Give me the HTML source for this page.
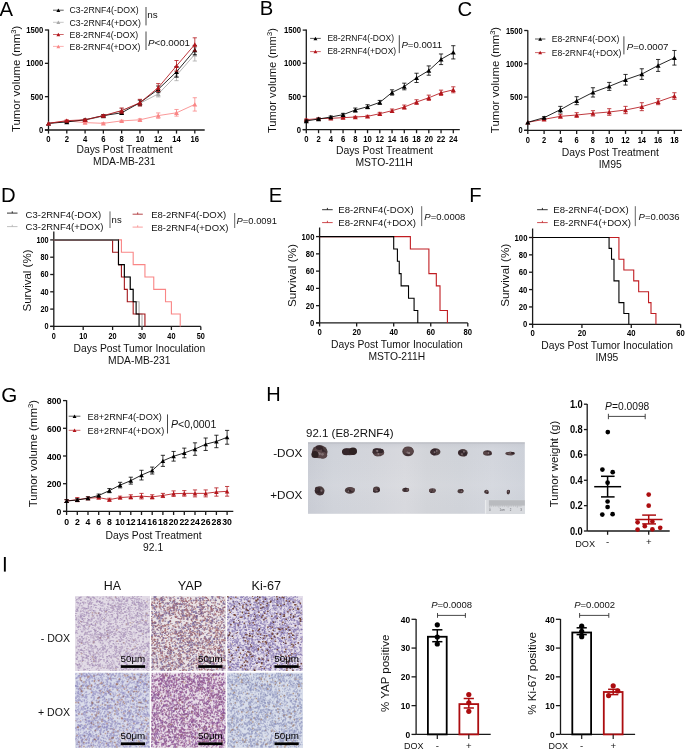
<!DOCTYPE html>
<html><head><meta charset="utf-8"><title>Figure</title>
<style>html,body{margin:0;padding:0;background:#fff;}svg{display:block;will-change:transform;}
text{font-family:"Liberation Sans", sans-serif;}</style></head>
<body><svg width="685" height="749" viewBox="0 0 685 749" font-family='"Liberation Sans", sans-serif'>
<defs><filter id="soft" x="0" y="0" width="1" height="1"><feGaussianBlur stdDeviation="0.4"/></filter></defs>
<rect width="685" height="749" fill="#fff"/>
<text x="-0.5" y="15.8" font-size="20.3">A</text>
<line x1="48.5" y1="130" x2="48.5" y2="29.5" stroke="#1a1a1a" stroke-width="1.3"/>
<line x1="44.9" y1="130" x2="204.7" y2="130" stroke="#1a1a1a" stroke-width="1.3"/>
<line x1="44.9" y1="130" x2="48.5" y2="130" stroke="#1a1a1a" stroke-width="1.3"/>
<text transform="translate(43.3 133.1) scale(1.0 1.12)" font-size="7.7" text-anchor="end" font-weight="bold">0</text>
<line x1="44.9" y1="96.67" x2="48.5" y2="96.67" stroke="#1a1a1a" stroke-width="1.3"/>
<text transform="translate(43.3 99.77) scale(1.0 1.12)" font-size="7.7" text-anchor="end" font-weight="bold">500</text>
<line x1="44.9" y1="63.33" x2="48.5" y2="63.33" stroke="#1a1a1a" stroke-width="1.3"/>
<text transform="translate(43.3 66.44) scale(1.0 1.12)" font-size="7.7" text-anchor="end" font-weight="bold">1000</text>
<line x1="44.9" y1="30" x2="48.5" y2="30" stroke="#1a1a1a" stroke-width="1.3"/>
<text transform="translate(43.3 33.1) scale(1.0 1.12)" font-size="7.7" text-anchor="end" font-weight="bold">1500</text>
<line x1="48.5" y1="130" x2="48.5" y2="133.6" stroke="#1a1a1a" stroke-width="1.3"/>
<text transform="translate(48.5 142.4) scale(1.0 1.12)" font-size="7.7" text-anchor="middle" font-weight="bold">0</text>
<line x1="66.79" y1="130" x2="66.79" y2="133.6" stroke="#1a1a1a" stroke-width="1.3"/>
<text transform="translate(66.79 142.4) scale(1.0 1.12)" font-size="7.7" text-anchor="middle" font-weight="bold">2</text>
<line x1="85.08" y1="130" x2="85.08" y2="133.6" stroke="#1a1a1a" stroke-width="1.3"/>
<text transform="translate(85.08 142.4) scale(1.0 1.12)" font-size="7.7" text-anchor="middle" font-weight="bold">4</text>
<line x1="103.36" y1="130" x2="103.36" y2="133.6" stroke="#1a1a1a" stroke-width="1.3"/>
<text transform="translate(103.36 142.4) scale(1.0 1.12)" font-size="7.7" text-anchor="middle" font-weight="bold">6</text>
<line x1="121.65" y1="130" x2="121.65" y2="133.6" stroke="#1a1a1a" stroke-width="1.3"/>
<text transform="translate(121.65 142.4) scale(1.0 1.12)" font-size="7.7" text-anchor="middle" font-weight="bold">8</text>
<line x1="139.94" y1="130" x2="139.94" y2="133.6" stroke="#1a1a1a" stroke-width="1.3"/>
<text transform="translate(139.94 142.4) scale(1.0 1.12)" font-size="7.7" text-anchor="middle" font-weight="bold">10</text>
<line x1="158.23" y1="130" x2="158.23" y2="133.6" stroke="#1a1a1a" stroke-width="1.3"/>
<text transform="translate(158.23 142.4) scale(1.0 1.12)" font-size="7.7" text-anchor="middle" font-weight="bold">12</text>
<line x1="176.51" y1="130" x2="176.51" y2="133.6" stroke="#1a1a1a" stroke-width="1.3"/>
<text transform="translate(176.51 142.4) scale(1.0 1.12)" font-size="7.7" text-anchor="middle" font-weight="bold">14</text>
<line x1="194.8" y1="130" x2="194.8" y2="133.6" stroke="#1a1a1a" stroke-width="1.3"/>
<text transform="translate(194.8 142.4) scale(1.0 1.12)" font-size="7.7" text-anchor="middle" font-weight="bold">16</text>
<text x="124.6" y="152.8" font-size="10.3" text-anchor="middle" fill="#111">Days Post Treatment</text>
<text x="124.3" y="165.4" font-size="10.3" text-anchor="middle" fill="#111">MDA-MB-231</text>
<text transform="translate(19.8 78.9) scale(1.0 1) rotate(-90)" font-size="11.4" text-anchor="middle" fill="#111">Tumor volume (mm<tspan font-size="7.5" dy="-4">3</tspan><tspan dy="4">)</tspan></text>
<polyline points="48.5,123.33 66.79,121.67 85.08,120 103.36,116.33 121.65,110.4 139.94,103.33 158.23,93.93 176.51,75.33 194.8,54.33" fill="none" stroke="#a8a8a8" stroke-width="0.85"/>
<line x1="66.79" y1="121" x2="66.79" y2="122.33" stroke="#a8a8a8" stroke-width="0.8"/>
<line x1="64.69" y1="121" x2="68.89" y2="121" stroke="#a8a8a8" stroke-width="0.8"/>
<line x1="64.69" y1="122.33" x2="68.89" y2="122.33" stroke="#a8a8a8" stroke-width="0.8"/>
<line x1="85.08" y1="119.33" x2="85.08" y2="120.67" stroke="#a8a8a8" stroke-width="0.8"/>
<line x1="82.98" y1="119.33" x2="87.17" y2="119.33" stroke="#a8a8a8" stroke-width="0.8"/>
<line x1="82.98" y1="120.67" x2="87.17" y2="120.67" stroke="#a8a8a8" stroke-width="0.8"/>
<line x1="103.36" y1="115.33" x2="103.36" y2="117.33" stroke="#a8a8a8" stroke-width="0.8"/>
<line x1="101.26" y1="115.33" x2="105.46" y2="115.33" stroke="#a8a8a8" stroke-width="0.8"/>
<line x1="101.26" y1="117.33" x2="105.46" y2="117.33" stroke="#a8a8a8" stroke-width="0.8"/>
<line x1="121.65" y1="108.4" x2="121.65" y2="112.4" stroke="#a8a8a8" stroke-width="0.8"/>
<line x1="119.55" y1="108.4" x2="123.75" y2="108.4" stroke="#a8a8a8" stroke-width="0.8"/>
<line x1="119.55" y1="112.4" x2="123.75" y2="112.4" stroke="#a8a8a8" stroke-width="0.8"/>
<line x1="139.94" y1="100.67" x2="139.94" y2="106" stroke="#a8a8a8" stroke-width="0.8"/>
<line x1="137.84" y1="100.67" x2="142.04" y2="100.67" stroke="#a8a8a8" stroke-width="0.8"/>
<line x1="137.84" y1="106" x2="142.04" y2="106" stroke="#a8a8a8" stroke-width="0.8"/>
<line x1="158.23" y1="90.93" x2="158.23" y2="96.93" stroke="#a8a8a8" stroke-width="0.8"/>
<line x1="156.13" y1="90.93" x2="160.33" y2="90.93" stroke="#a8a8a8" stroke-width="0.8"/>
<line x1="156.13" y1="96.93" x2="160.33" y2="96.93" stroke="#a8a8a8" stroke-width="0.8"/>
<line x1="176.51" y1="70" x2="176.51" y2="80.67" stroke="#a8a8a8" stroke-width="0.8"/>
<line x1="174.41" y1="70" x2="178.61" y2="70" stroke="#a8a8a8" stroke-width="0.8"/>
<line x1="174.41" y1="80.67" x2="178.61" y2="80.67" stroke="#a8a8a8" stroke-width="0.8"/>
<line x1="194.8" y1="47.67" x2="194.8" y2="61" stroke="#a8a8a8" stroke-width="0.8"/>
<line x1="192.7" y1="47.67" x2="196.9" y2="47.67" stroke="#a8a8a8" stroke-width="0.8"/>
<line x1="192.7" y1="61" x2="196.9" y2="61" stroke="#a8a8a8" stroke-width="0.8"/>
<path d="M46.05 125.54L48.5 121.13L50.95 125.54Z" fill="#a8a8a8"/>
<path d="M64.34 123.87L66.79 119.46L69.24 123.87Z" fill="#a8a8a8"/>
<path d="M82.62 122.2L85.08 117.8L87.53 122.2Z" fill="#a8a8a8"/>
<path d="M100.91 118.54L103.36 114.13L105.81 118.54Z" fill="#a8a8a8"/>
<path d="M119.2 112.61L121.65 108.2L124.1 112.61Z" fill="#a8a8a8"/>
<path d="M137.49 105.54L139.94 101.13L142.39 105.54Z" fill="#a8a8a8"/>
<path d="M155.78 96.14L158.23 91.73L160.68 96.14Z" fill="#a8a8a8"/>
<path d="M174.06 77.54L176.51 73.13L178.96 77.54Z" fill="#a8a8a8"/>
<path d="M192.35 56.54L194.8 52.13L197.25 56.54Z" fill="#a8a8a8"/>
<polyline points="48.5,123.33 66.79,120.87 85.08,122.6 103.36,123.33 121.65,120.87 139.94,119.8 158.23,115.6 176.51,112.8 194.8,104.4" fill="none" stroke="#f98686" stroke-width="0.85"/>
<line x1="66.79" y1="120.2" x2="66.79" y2="121.53" stroke="#f98686" stroke-width="0.8"/>
<line x1="64.69" y1="120.2" x2="68.89" y2="120.2" stroke="#f98686" stroke-width="0.8"/>
<line x1="64.69" y1="121.53" x2="68.89" y2="121.53" stroke="#f98686" stroke-width="0.8"/>
<line x1="85.08" y1="121.93" x2="85.08" y2="123.27" stroke="#f98686" stroke-width="0.8"/>
<line x1="82.98" y1="121.93" x2="87.17" y2="121.93" stroke="#f98686" stroke-width="0.8"/>
<line x1="82.98" y1="123.27" x2="87.17" y2="123.27" stroke="#f98686" stroke-width="0.8"/>
<line x1="103.36" y1="122.67" x2="103.36" y2="124" stroke="#f98686" stroke-width="0.8"/>
<line x1="101.26" y1="122.67" x2="105.46" y2="122.67" stroke="#f98686" stroke-width="0.8"/>
<line x1="101.26" y1="124" x2="105.46" y2="124" stroke="#f98686" stroke-width="0.8"/>
<line x1="121.65" y1="120.2" x2="121.65" y2="121.53" stroke="#f98686" stroke-width="0.8"/>
<line x1="119.55" y1="120.2" x2="123.75" y2="120.2" stroke="#f98686" stroke-width="0.8"/>
<line x1="119.55" y1="121.53" x2="123.75" y2="121.53" stroke="#f98686" stroke-width="0.8"/>
<line x1="139.94" y1="118.8" x2="139.94" y2="120.8" stroke="#f98686" stroke-width="0.8"/>
<line x1="137.84" y1="118.8" x2="142.04" y2="118.8" stroke="#f98686" stroke-width="0.8"/>
<line x1="137.84" y1="120.8" x2="142.04" y2="120.8" stroke="#f98686" stroke-width="0.8"/>
<line x1="158.23" y1="112.93" x2="158.23" y2="118.27" stroke="#f98686" stroke-width="0.8"/>
<line x1="156.13" y1="112.93" x2="160.33" y2="112.93" stroke="#f98686" stroke-width="0.8"/>
<line x1="156.13" y1="118.27" x2="160.33" y2="118.27" stroke="#f98686" stroke-width="0.8"/>
<line x1="176.51" y1="109.47" x2="176.51" y2="116.13" stroke="#f98686" stroke-width="0.8"/>
<line x1="174.41" y1="109.47" x2="178.61" y2="109.47" stroke="#f98686" stroke-width="0.8"/>
<line x1="174.41" y1="116.13" x2="178.61" y2="116.13" stroke="#f98686" stroke-width="0.8"/>
<line x1="194.8" y1="97.73" x2="194.8" y2="111.07" stroke="#f98686" stroke-width="0.8"/>
<line x1="192.7" y1="97.73" x2="196.9" y2="97.73" stroke="#f98686" stroke-width="0.8"/>
<line x1="192.7" y1="111.07" x2="196.9" y2="111.07" stroke="#f98686" stroke-width="0.8"/>
<path d="M46.05 125.54L48.5 121.13L50.95 125.54Z" fill="#f98686"/>
<path d="M64.34 123.07L66.79 118.66L69.24 123.07Z" fill="#f98686"/>
<path d="M82.62 124.8L85.08 120.39L87.53 124.8Z" fill="#f98686"/>
<path d="M100.91 125.54L103.36 121.13L105.81 125.54Z" fill="#f98686"/>
<path d="M119.2 123.07L121.65 118.66L124.1 123.07Z" fill="#f98686"/>
<path d="M137.49 122L139.94 117.59L142.39 122Z" fill="#f98686"/>
<path d="M155.78 117.8L158.23 113.39L160.68 117.8Z" fill="#f98686"/>
<path d="M174.06 115L176.51 110.59L178.96 115Z" fill="#f98686"/>
<path d="M192.35 106.61L194.8 102.2L197.25 106.61Z" fill="#f98686"/>
<polyline points="48.5,123.33 66.79,121.93 85.08,119.8 103.36,115.6 121.65,112.8 139.94,102.67 158.23,89.33 176.51,71.8 194.8,50.07" fill="none" stroke="#000" stroke-width="0.85"/>
<line x1="66.79" y1="121.27" x2="66.79" y2="122.6" stroke="#000" stroke-width="0.8"/>
<line x1="64.69" y1="121.27" x2="68.89" y2="121.27" stroke="#000" stroke-width="0.8"/>
<line x1="64.69" y1="122.6" x2="68.89" y2="122.6" stroke="#000" stroke-width="0.8"/>
<line x1="85.08" y1="119.13" x2="85.08" y2="120.47" stroke="#000" stroke-width="0.8"/>
<line x1="82.98" y1="119.13" x2="87.17" y2="119.13" stroke="#000" stroke-width="0.8"/>
<line x1="82.98" y1="120.47" x2="87.17" y2="120.47" stroke="#000" stroke-width="0.8"/>
<line x1="103.36" y1="114.6" x2="103.36" y2="116.6" stroke="#000" stroke-width="0.8"/>
<line x1="101.26" y1="114.6" x2="105.46" y2="114.6" stroke="#000" stroke-width="0.8"/>
<line x1="101.26" y1="116.6" x2="105.46" y2="116.6" stroke="#000" stroke-width="0.8"/>
<line x1="121.65" y1="111.47" x2="121.65" y2="114.13" stroke="#000" stroke-width="0.8"/>
<line x1="119.55" y1="111.47" x2="123.75" y2="111.47" stroke="#000" stroke-width="0.8"/>
<line x1="119.55" y1="114.13" x2="123.75" y2="114.13" stroke="#000" stroke-width="0.8"/>
<line x1="139.94" y1="100" x2="139.94" y2="105.33" stroke="#000" stroke-width="0.8"/>
<line x1="137.84" y1="100" x2="142.04" y2="100" stroke="#000" stroke-width="0.8"/>
<line x1="137.84" y1="105.33" x2="142.04" y2="105.33" stroke="#000" stroke-width="0.8"/>
<line x1="158.23" y1="86" x2="158.23" y2="92.67" stroke="#000" stroke-width="0.8"/>
<line x1="156.13" y1="86" x2="160.33" y2="86" stroke="#000" stroke-width="0.8"/>
<line x1="156.13" y1="92.67" x2="160.33" y2="92.67" stroke="#000" stroke-width="0.8"/>
<line x1="176.51" y1="66.47" x2="176.51" y2="77.13" stroke="#000" stroke-width="0.8"/>
<line x1="174.41" y1="66.47" x2="178.61" y2="66.47" stroke="#000" stroke-width="0.8"/>
<line x1="174.41" y1="77.13" x2="178.61" y2="77.13" stroke="#000" stroke-width="0.8"/>
<line x1="194.8" y1="45.4" x2="194.8" y2="54.73" stroke="#000" stroke-width="0.8"/>
<line x1="192.7" y1="45.4" x2="196.9" y2="45.4" stroke="#000" stroke-width="0.8"/>
<line x1="192.7" y1="54.73" x2="196.9" y2="54.73" stroke="#000" stroke-width="0.8"/>
<path d="M46.05 125.54L48.5 121.13L50.95 125.54Z" fill="#000"/>
<path d="M64.34 124.14L66.79 119.73L69.24 124.14Z" fill="#000"/>
<path d="M82.62 122L85.08 117.59L87.53 122Z" fill="#000"/>
<path d="M100.91 117.8L103.36 113.39L105.81 117.8Z" fill="#000"/>
<path d="M119.2 115L121.65 110.59L124.1 115Z" fill="#000"/>
<path d="M137.49 104.87L139.94 100.46L142.39 104.87Z" fill="#000"/>
<path d="M155.78 91.54L158.23 87.13L160.68 91.54Z" fill="#000"/>
<path d="M174.06 74L176.51 69.59L178.96 74Z" fill="#000"/>
<path d="M192.35 52.27L194.8 47.86L197.25 52.27Z" fill="#000"/>
<polyline points="48.5,123.33 66.79,120.67 85.08,119.8 103.36,115.6 121.65,110.67 139.94,102.67 158.23,87.6 176.51,65.87 194.8,44.47" fill="none" stroke="#b3151b" stroke-width="0.85"/>
<line x1="66.79" y1="120" x2="66.79" y2="121.33" stroke="#b3151b" stroke-width="0.8"/>
<line x1="64.69" y1="120" x2="68.89" y2="120" stroke="#b3151b" stroke-width="0.8"/>
<line x1="64.69" y1="121.33" x2="68.89" y2="121.33" stroke="#b3151b" stroke-width="0.8"/>
<line x1="85.08" y1="119.13" x2="85.08" y2="120.47" stroke="#b3151b" stroke-width="0.8"/>
<line x1="82.98" y1="119.13" x2="87.17" y2="119.13" stroke="#b3151b" stroke-width="0.8"/>
<line x1="82.98" y1="120.47" x2="87.17" y2="120.47" stroke="#b3151b" stroke-width="0.8"/>
<line x1="103.36" y1="114.6" x2="103.36" y2="116.6" stroke="#b3151b" stroke-width="0.8"/>
<line x1="101.26" y1="114.6" x2="105.46" y2="114.6" stroke="#b3151b" stroke-width="0.8"/>
<line x1="101.26" y1="116.6" x2="105.46" y2="116.6" stroke="#b3151b" stroke-width="0.8"/>
<line x1="121.65" y1="108" x2="121.65" y2="113.33" stroke="#b3151b" stroke-width="0.8"/>
<line x1="119.55" y1="108" x2="123.75" y2="108" stroke="#b3151b" stroke-width="0.8"/>
<line x1="119.55" y1="113.33" x2="123.75" y2="113.33" stroke="#b3151b" stroke-width="0.8"/>
<line x1="139.94" y1="99.33" x2="139.94" y2="106" stroke="#b3151b" stroke-width="0.8"/>
<line x1="137.84" y1="99.33" x2="142.04" y2="99.33" stroke="#b3151b" stroke-width="0.8"/>
<line x1="137.84" y1="106" x2="142.04" y2="106" stroke="#b3151b" stroke-width="0.8"/>
<line x1="158.23" y1="83.6" x2="158.23" y2="91.6" stroke="#b3151b" stroke-width="0.8"/>
<line x1="156.13" y1="83.6" x2="160.33" y2="83.6" stroke="#b3151b" stroke-width="0.8"/>
<line x1="156.13" y1="91.6" x2="160.33" y2="91.6" stroke="#b3151b" stroke-width="0.8"/>
<line x1="176.51" y1="60.53" x2="176.51" y2="71.2" stroke="#b3151b" stroke-width="0.8"/>
<line x1="174.41" y1="60.53" x2="178.61" y2="60.53" stroke="#b3151b" stroke-width="0.8"/>
<line x1="174.41" y1="71.2" x2="178.61" y2="71.2" stroke="#b3151b" stroke-width="0.8"/>
<line x1="194.8" y1="37.8" x2="194.8" y2="51.13" stroke="#b3151b" stroke-width="0.8"/>
<line x1="192.7" y1="37.8" x2="196.9" y2="37.8" stroke="#b3151b" stroke-width="0.8"/>
<line x1="192.7" y1="51.13" x2="196.9" y2="51.13" stroke="#b3151b" stroke-width="0.8"/>
<path d="M46.05 125.54L48.5 121.13L50.95 125.54Z" fill="#b3151b"/>
<path d="M64.34 122.87L66.79 118.46L69.24 122.87Z" fill="#b3151b"/>
<path d="M82.62 122L85.08 117.59L87.53 122Z" fill="#b3151b"/>
<path d="M100.91 117.8L103.36 113.39L105.81 117.8Z" fill="#b3151b"/>
<path d="M119.2 112.87L121.65 108.46L124.1 112.87Z" fill="#b3151b"/>
<path d="M137.49 104.87L139.94 100.46L142.39 104.87Z" fill="#b3151b"/>
<path d="M155.78 89.8L158.23 85.39L160.68 89.8Z" fill="#b3151b"/>
<path d="M174.06 68.07L176.51 63.66L178.96 68.07Z" fill="#b3151b"/>
<path d="M192.35 46.67L194.8 42.26L197.25 46.67Z" fill="#b3151b"/>
<line x1="53" y1="10.2" x2="63.7" y2="10.2" stroke="#000" stroke-width="0.65"/>
<path d="M56.4 11.95L58.35 8.45L60.3 11.95Z" fill="#000"/>
<text x="69.6" y="13.4" font-size="8.7" fill="#111">C3-2RNF4(-DOX)</text>
<line x1="53" y1="22.3" x2="63.7" y2="22.3" stroke="#a8a8a8" stroke-width="0.65"/>
<path d="M56.4 24.05L58.35 20.55L60.3 24.05Z" fill="#a8a8a8"/>
<text x="69.6" y="25.5" font-size="8.7" fill="#111">C3-2RNF4(+DOX)</text>
<line x1="53" y1="34.5" x2="63.7" y2="34.5" stroke="#b3151b" stroke-width="0.65"/>
<path d="M56.4 36.26L58.35 32.74L60.3 36.26Z" fill="#b3151b"/>
<text x="69.6" y="37.7" font-size="8.7" fill="#111">E8-2RNF4(-DOX)</text>
<line x1="53" y1="46.4" x2="63.7" y2="46.4" stroke="#f98686" stroke-width="0.65"/>
<path d="M56.4 48.16L58.35 44.64L60.3 48.16Z" fill="#f98686"/>
<text x="69.6" y="49.6" font-size="8.7" fill="#111">E8-2RNF4(+DOX)</text>
<line x1="146" y1="7" x2="146" y2="25.4" stroke="#333" stroke-width="0.9"/>
<line x1="146" y1="31.5" x2="146" y2="50" stroke="#333" stroke-width="0.9"/>
<text x="147.2" y="18.4" font-size="9.9" fill="#111">ns</text>
<text transform="translate(148 46.4) scale(1.0 1)" font-size="9.75" fill="#111"><tspan font-style="italic">P</tspan>&lt;0.0001</text>
<text x="259.8" y="14.9" font-size="20.3">B</text>
<line x1="306.3" y1="129.6" x2="306.3" y2="29.5" stroke="#1a1a1a" stroke-width="1.3"/>
<line x1="302.7" y1="129.6" x2="459.8" y2="129.6" stroke="#1a1a1a" stroke-width="1.3"/>
<line x1="302.7" y1="129.6" x2="306.3" y2="129.6" stroke="#1a1a1a" stroke-width="1.3"/>
<text transform="translate(301.1 132.7) scale(1.0 1.12)" font-size="7.7" text-anchor="end" font-weight="bold">0</text>
<line x1="302.7" y1="96.43" x2="306.3" y2="96.43" stroke="#1a1a1a" stroke-width="1.3"/>
<text transform="translate(301.1 99.54) scale(1.0 1.12)" font-size="7.7" text-anchor="end" font-weight="bold">500</text>
<line x1="302.7" y1="63.27" x2="306.3" y2="63.27" stroke="#1a1a1a" stroke-width="1.3"/>
<text transform="translate(301.1 66.37) scale(1.0 1.12)" font-size="7.7" text-anchor="end" font-weight="bold">1000</text>
<line x1="302.7" y1="30.1" x2="306.3" y2="30.1" stroke="#1a1a1a" stroke-width="1.3"/>
<text transform="translate(301.1 33.2) scale(1.0 1.12)" font-size="7.7" text-anchor="end" font-weight="bold">1500</text>
<line x1="306.3" y1="129.6" x2="306.3" y2="133.2" stroke="#1a1a1a" stroke-width="1.3"/>
<text transform="translate(306.3 141.7) scale(1.0 1.12)" font-size="7.7" text-anchor="middle" font-weight="bold">0</text>
<line x1="318.55" y1="129.6" x2="318.55" y2="133.2" stroke="#1a1a1a" stroke-width="1.3"/>
<text transform="translate(318.55 141.7) scale(1.0 1.12)" font-size="7.7" text-anchor="middle" font-weight="bold">2</text>
<line x1="330.8" y1="129.6" x2="330.8" y2="133.2" stroke="#1a1a1a" stroke-width="1.3"/>
<text transform="translate(330.8 141.7) scale(1.0 1.12)" font-size="7.7" text-anchor="middle" font-weight="bold">4</text>
<line x1="343.05" y1="129.6" x2="343.05" y2="133.2" stroke="#1a1a1a" stroke-width="1.3"/>
<text transform="translate(343.05 141.7) scale(1.0 1.12)" font-size="7.7" text-anchor="middle" font-weight="bold">6</text>
<line x1="355.3" y1="129.6" x2="355.3" y2="133.2" stroke="#1a1a1a" stroke-width="1.3"/>
<text transform="translate(355.3 141.7) scale(1.0 1.12)" font-size="7.7" text-anchor="middle" font-weight="bold">8</text>
<line x1="367.55" y1="129.6" x2="367.55" y2="133.2" stroke="#1a1a1a" stroke-width="1.3"/>
<text transform="translate(367.55 141.7) scale(1.0 1.12)" font-size="7.7" text-anchor="middle" font-weight="bold">10</text>
<line x1="379.8" y1="129.6" x2="379.8" y2="133.2" stroke="#1a1a1a" stroke-width="1.3"/>
<text transform="translate(379.8 141.7) scale(1.0 1.12)" font-size="7.7" text-anchor="middle" font-weight="bold">12</text>
<line x1="392.05" y1="129.6" x2="392.05" y2="133.2" stroke="#1a1a1a" stroke-width="1.3"/>
<text transform="translate(392.05 141.7) scale(1.0 1.12)" font-size="7.7" text-anchor="middle" font-weight="bold">14</text>
<line x1="404.3" y1="129.6" x2="404.3" y2="133.2" stroke="#1a1a1a" stroke-width="1.3"/>
<text transform="translate(404.3 141.7) scale(1.0 1.12)" font-size="7.7" text-anchor="middle" font-weight="bold">16</text>
<line x1="416.55" y1="129.6" x2="416.55" y2="133.2" stroke="#1a1a1a" stroke-width="1.3"/>
<text transform="translate(416.55 141.7) scale(1.0 1.12)" font-size="7.7" text-anchor="middle" font-weight="bold">18</text>
<line x1="428.8" y1="129.6" x2="428.8" y2="133.2" stroke="#1a1a1a" stroke-width="1.3"/>
<text transform="translate(428.8 141.7) scale(1.0 1.12)" font-size="7.7" text-anchor="middle" font-weight="bold">20</text>
<line x1="441.05" y1="129.6" x2="441.05" y2="133.2" stroke="#1a1a1a" stroke-width="1.3"/>
<text transform="translate(441.05 141.7) scale(1.0 1.12)" font-size="7.7" text-anchor="middle" font-weight="bold">22</text>
<line x1="453.3" y1="129.6" x2="453.3" y2="133.2" stroke="#1a1a1a" stroke-width="1.3"/>
<text transform="translate(453.3 141.7) scale(1.0 1.12)" font-size="7.7" text-anchor="middle" font-weight="bold">24</text>
<text x="384.4" y="153.6" font-size="10.4" text-anchor="middle" fill="#111">Days Post Treatment</text>
<text x="384.1" y="165.9" font-size="10.4" text-anchor="middle" fill="#111">MSTO-211H</text>
<text transform="translate(276 80.6) scale(1.0 1) rotate(-90)" font-size="11.25" text-anchor="middle" fill="#111">Tumor volume (mm<tspan font-size="7.5" dy="-4">3</tspan><tspan dy="4">)</tspan></text>
<polyline points="306.3,119.65 318.55,118.66 330.8,118.32 343.05,117.66 355.3,117 367.55,116.33 379.8,113.68 392.05,110.69 404.3,107.05 416.55,102.07 428.8,97.76 441.05,92.78 453.3,89.8" fill="none" stroke="#b3151b" stroke-width="0.85"/>
<line x1="306.3" y1="118.99" x2="306.3" y2="120.31" stroke="#b3151b" stroke-width="0.8"/>
<line x1="304.2" y1="118.99" x2="308.4" y2="118.99" stroke="#b3151b" stroke-width="0.8"/>
<line x1="304.2" y1="120.31" x2="308.4" y2="120.31" stroke="#b3151b" stroke-width="0.8"/>
<line x1="318.55" y1="117.99" x2="318.55" y2="119.32" stroke="#b3151b" stroke-width="0.8"/>
<line x1="316.45" y1="117.99" x2="320.65" y2="117.99" stroke="#b3151b" stroke-width="0.8"/>
<line x1="316.45" y1="119.32" x2="320.65" y2="119.32" stroke="#b3151b" stroke-width="0.8"/>
<line x1="330.8" y1="117.66" x2="330.8" y2="118.99" stroke="#b3151b" stroke-width="0.8"/>
<line x1="328.7" y1="117.66" x2="332.9" y2="117.66" stroke="#b3151b" stroke-width="0.8"/>
<line x1="328.7" y1="118.99" x2="332.9" y2="118.99" stroke="#b3151b" stroke-width="0.8"/>
<line x1="343.05" y1="117" x2="343.05" y2="118.32" stroke="#b3151b" stroke-width="0.8"/>
<line x1="340.95" y1="117" x2="345.15" y2="117" stroke="#b3151b" stroke-width="0.8"/>
<line x1="340.95" y1="118.32" x2="345.15" y2="118.32" stroke="#b3151b" stroke-width="0.8"/>
<line x1="355.3" y1="116.33" x2="355.3" y2="117.66" stroke="#b3151b" stroke-width="0.8"/>
<line x1="353.2" y1="116.33" x2="357.4" y2="116.33" stroke="#b3151b" stroke-width="0.8"/>
<line x1="353.2" y1="117.66" x2="357.4" y2="117.66" stroke="#b3151b" stroke-width="0.8"/>
<line x1="367.55" y1="115.34" x2="367.55" y2="117.33" stroke="#b3151b" stroke-width="0.8"/>
<line x1="365.45" y1="115.34" x2="369.65" y2="115.34" stroke="#b3151b" stroke-width="0.8"/>
<line x1="365.45" y1="117.33" x2="369.65" y2="117.33" stroke="#b3151b" stroke-width="0.8"/>
<line x1="379.8" y1="112.35" x2="379.8" y2="115.01" stroke="#b3151b" stroke-width="0.8"/>
<line x1="377.7" y1="112.35" x2="381.9" y2="112.35" stroke="#b3151b" stroke-width="0.8"/>
<line x1="377.7" y1="115.01" x2="381.9" y2="115.01" stroke="#b3151b" stroke-width="0.8"/>
<line x1="392.05" y1="109.04" x2="392.05" y2="112.35" stroke="#b3151b" stroke-width="0.8"/>
<line x1="389.95" y1="109.04" x2="394.15" y2="109.04" stroke="#b3151b" stroke-width="0.8"/>
<line x1="389.95" y1="112.35" x2="394.15" y2="112.35" stroke="#b3151b" stroke-width="0.8"/>
<line x1="404.3" y1="105.06" x2="404.3" y2="109.04" stroke="#b3151b" stroke-width="0.8"/>
<line x1="402.2" y1="105.06" x2="406.4" y2="105.06" stroke="#b3151b" stroke-width="0.8"/>
<line x1="402.2" y1="109.04" x2="406.4" y2="109.04" stroke="#b3151b" stroke-width="0.8"/>
<line x1="416.55" y1="99.75" x2="416.55" y2="104.39" stroke="#b3151b" stroke-width="0.8"/>
<line x1="414.45" y1="99.75" x2="418.65" y2="99.75" stroke="#b3151b" stroke-width="0.8"/>
<line x1="414.45" y1="104.39" x2="418.65" y2="104.39" stroke="#b3151b" stroke-width="0.8"/>
<line x1="428.8" y1="95.11" x2="428.8" y2="100.41" stroke="#b3151b" stroke-width="0.8"/>
<line x1="426.7" y1="95.11" x2="430.9" y2="95.11" stroke="#b3151b" stroke-width="0.8"/>
<line x1="426.7" y1="100.41" x2="430.9" y2="100.41" stroke="#b3151b" stroke-width="0.8"/>
<line x1="441.05" y1="90.13" x2="441.05" y2="95.44" stroke="#b3151b" stroke-width="0.8"/>
<line x1="438.95" y1="90.13" x2="443.15" y2="90.13" stroke="#b3151b" stroke-width="0.8"/>
<line x1="438.95" y1="95.44" x2="443.15" y2="95.44" stroke="#b3151b" stroke-width="0.8"/>
<line x1="453.3" y1="86.81" x2="453.3" y2="92.78" stroke="#b3151b" stroke-width="0.8"/>
<line x1="451.2" y1="86.81" x2="455.4" y2="86.81" stroke="#b3151b" stroke-width="0.8"/>
<line x1="451.2" y1="92.78" x2="455.4" y2="92.78" stroke="#b3151b" stroke-width="0.8"/>
<path d="M303.85 121.85L306.3 117.44L308.75 121.85Z" fill="#b3151b"/>
<path d="M316.1 120.86L318.55 116.45L321 120.86Z" fill="#b3151b"/>
<path d="M328.35 120.53L330.8 116.12L333.25 120.53Z" fill="#b3151b"/>
<path d="M340.6 119.86L343.05 115.45L345.5 119.86Z" fill="#b3151b"/>
<path d="M352.85 119.2L355.3 114.79L357.75 119.2Z" fill="#b3151b"/>
<path d="M365.1 118.54L367.55 114.13L370 118.54Z" fill="#b3151b"/>
<path d="M377.35 115.88L379.8 111.47L382.25 115.88Z" fill="#b3151b"/>
<path d="M389.6 112.9L392.05 108.49L394.5 112.9Z" fill="#b3151b"/>
<path d="M401.85 109.25L404.3 104.84L406.75 109.25Z" fill="#b3151b"/>
<path d="M414.1 104.28L416.55 99.87L419 104.28Z" fill="#b3151b"/>
<path d="M426.35 99.96L428.8 95.55L431.25 99.96Z" fill="#b3151b"/>
<path d="M438.6 94.99L441.05 90.58L443.5 94.99Z" fill="#b3151b"/>
<path d="M450.85 92L453.3 87.59L455.75 92Z" fill="#b3151b"/>
<polyline points="306.3,120.98 318.55,118.99 330.8,117 343.05,114.67 355.3,110.03 367.55,106.71 379.8,102.4 392.05,92.45 404.3,86.48 416.55,77.86 428.8,70.56 441.05,59.29 453.3,52.32" fill="none" stroke="#000" stroke-width="0.85"/>
<line x1="306.3" y1="119.98" x2="306.3" y2="121.97" stroke="#000" stroke-width="0.8"/>
<line x1="304.2" y1="119.98" x2="308.4" y2="119.98" stroke="#000" stroke-width="0.8"/>
<line x1="304.2" y1="121.97" x2="308.4" y2="121.97" stroke="#000" stroke-width="0.8"/>
<line x1="318.55" y1="117.99" x2="318.55" y2="119.98" stroke="#000" stroke-width="0.8"/>
<line x1="316.45" y1="117.99" x2="320.65" y2="117.99" stroke="#000" stroke-width="0.8"/>
<line x1="316.45" y1="119.98" x2="320.65" y2="119.98" stroke="#000" stroke-width="0.8"/>
<line x1="330.8" y1="116" x2="330.8" y2="117.99" stroke="#000" stroke-width="0.8"/>
<line x1="328.7" y1="116" x2="332.9" y2="116" stroke="#000" stroke-width="0.8"/>
<line x1="328.7" y1="117.99" x2="332.9" y2="117.99" stroke="#000" stroke-width="0.8"/>
<line x1="343.05" y1="113.35" x2="343.05" y2="116" stroke="#000" stroke-width="0.8"/>
<line x1="340.95" y1="113.35" x2="345.15" y2="113.35" stroke="#000" stroke-width="0.8"/>
<line x1="340.95" y1="116" x2="345.15" y2="116" stroke="#000" stroke-width="0.8"/>
<line x1="355.3" y1="108.04" x2="355.3" y2="112.02" stroke="#000" stroke-width="0.8"/>
<line x1="353.2" y1="108.04" x2="357.4" y2="108.04" stroke="#000" stroke-width="0.8"/>
<line x1="353.2" y1="112.02" x2="357.4" y2="112.02" stroke="#000" stroke-width="0.8"/>
<line x1="367.55" y1="104.72" x2="367.55" y2="108.7" stroke="#000" stroke-width="0.8"/>
<line x1="365.45" y1="104.72" x2="369.65" y2="104.72" stroke="#000" stroke-width="0.8"/>
<line x1="365.45" y1="108.7" x2="369.65" y2="108.7" stroke="#000" stroke-width="0.8"/>
<line x1="379.8" y1="100.41" x2="379.8" y2="104.39" stroke="#000" stroke-width="0.8"/>
<line x1="377.7" y1="100.41" x2="381.9" y2="100.41" stroke="#000" stroke-width="0.8"/>
<line x1="377.7" y1="104.39" x2="381.9" y2="104.39" stroke="#000" stroke-width="0.8"/>
<line x1="392.05" y1="89.8" x2="392.05" y2="95.11" stroke="#000" stroke-width="0.8"/>
<line x1="389.95" y1="89.8" x2="394.15" y2="89.8" stroke="#000" stroke-width="0.8"/>
<line x1="389.95" y1="95.11" x2="394.15" y2="95.11" stroke="#000" stroke-width="0.8"/>
<line x1="404.3" y1="83.17" x2="404.3" y2="89.8" stroke="#000" stroke-width="0.8"/>
<line x1="402.2" y1="83.17" x2="406.4" y2="83.17" stroke="#000" stroke-width="0.8"/>
<line x1="402.2" y1="89.8" x2="406.4" y2="89.8" stroke="#000" stroke-width="0.8"/>
<line x1="416.55" y1="73.22" x2="416.55" y2="82.5" stroke="#000" stroke-width="0.8"/>
<line x1="414.45" y1="73.22" x2="418.65" y2="73.22" stroke="#000" stroke-width="0.8"/>
<line x1="414.45" y1="82.5" x2="418.65" y2="82.5" stroke="#000" stroke-width="0.8"/>
<line x1="428.8" y1="65.92" x2="428.8" y2="75.21" stroke="#000" stroke-width="0.8"/>
<line x1="426.7" y1="65.92" x2="430.9" y2="65.92" stroke="#000" stroke-width="0.8"/>
<line x1="426.7" y1="75.21" x2="430.9" y2="75.21" stroke="#000" stroke-width="0.8"/>
<line x1="441.05" y1="53.98" x2="441.05" y2="64.59" stroke="#000" stroke-width="0.8"/>
<line x1="438.95" y1="53.98" x2="443.15" y2="53.98" stroke="#000" stroke-width="0.8"/>
<line x1="438.95" y1="64.59" x2="443.15" y2="64.59" stroke="#000" stroke-width="0.8"/>
<line x1="453.3" y1="45.69" x2="453.3" y2="58.95" stroke="#000" stroke-width="0.8"/>
<line x1="451.2" y1="45.69" x2="455.4" y2="45.69" stroke="#000" stroke-width="0.8"/>
<line x1="451.2" y1="58.95" x2="455.4" y2="58.95" stroke="#000" stroke-width="0.8"/>
<path d="M303.85 123.18L306.3 118.77L308.75 123.18Z" fill="#000"/>
<path d="M316.1 121.19L318.55 116.78L321 121.19Z" fill="#000"/>
<path d="M328.35 119.2L330.8 114.79L333.25 119.2Z" fill="#000"/>
<path d="M340.6 116.88L343.05 112.47L345.5 116.88Z" fill="#000"/>
<path d="M352.85 112.24L355.3 107.83L357.75 112.24Z" fill="#000"/>
<path d="M365.1 108.92L367.55 104.51L370 108.92Z" fill="#000"/>
<path d="M377.35 104.61L379.8 100.2L382.25 104.61Z" fill="#000"/>
<path d="M389.6 94.66L392.05 90.25L394.5 94.66Z" fill="#000"/>
<path d="M401.85 88.69L404.3 84.28L406.75 88.69Z" fill="#000"/>
<path d="M414.1 80.06L416.55 75.65L419 80.06Z" fill="#000"/>
<path d="M426.35 72.77L428.8 68.36L431.25 72.77Z" fill="#000"/>
<path d="M438.6 61.49L441.05 57.08L443.5 61.49Z" fill="#000"/>
<path d="M450.85 54.53L453.3 50.12L455.75 54.53Z" fill="#000"/>
<line x1="310.1" y1="38.4" x2="320.8" y2="38.4" stroke="#000" stroke-width="0.65"/>
<path d="M313.5 40.16L315.45 36.64L317.4 40.16Z" fill="#000"/>
<text x="327.4" y="41" font-size="8.45" fill="#111">E8-2RNF4(-DOX)</text>
<line x1="310.1" y1="51.6" x2="320.8" y2="51.6" stroke="#b3151b" stroke-width="0.65"/>
<path d="M313.5 53.36L315.45 49.84L317.4 53.36Z" fill="#b3151b"/>
<text x="327.4" y="54.2" font-size="8.45" fill="#111">E8-2RNF4(+DOX)</text>
<line x1="399.3" y1="35.2" x2="399.3" y2="53.1" stroke="#333" stroke-width="0.9"/>
<text transform="translate(401.4 47.7) scale(1.0 1)" font-size="9.6" fill="#111"><tspan font-style="italic">P</tspan>=0.0011</text>
<text x="457.6" y="15.7" font-size="20.3">C</text>
<line x1="527.8" y1="130.3" x2="527.8" y2="30.2" stroke="#1a1a1a" stroke-width="1.3"/>
<line x1="524.2" y1="130.3" x2="682" y2="130.3" stroke="#1a1a1a" stroke-width="1.3"/>
<line x1="524.2" y1="130.3" x2="527.8" y2="130.3" stroke="#1a1a1a" stroke-width="1.3"/>
<text transform="translate(522.6 133.32) scale(1.0 1.12)" font-size="7.5" text-anchor="end" font-weight="bold">0</text>
<line x1="524.2" y1="97.03" x2="527.8" y2="97.03" stroke="#1a1a1a" stroke-width="1.3"/>
<text transform="translate(522.6 100.06) scale(1.0 1.12)" font-size="7.5" text-anchor="end" font-weight="bold">500</text>
<line x1="524.2" y1="63.77" x2="527.8" y2="63.77" stroke="#1a1a1a" stroke-width="1.3"/>
<text transform="translate(522.6 66.79) scale(1.0 1.12)" font-size="7.5" text-anchor="end" font-weight="bold">1000</text>
<line x1="524.2" y1="30.5" x2="527.8" y2="30.5" stroke="#1a1a1a" stroke-width="1.3"/>
<text transform="translate(522.6 33.52) scale(1.0 1.12)" font-size="7.5" text-anchor="end" font-weight="bold">1500</text>
<line x1="527.8" y1="130.3" x2="527.8" y2="133.9" stroke="#1a1a1a" stroke-width="1.3"/>
<text transform="translate(527.8 142.8) scale(1.0 1.12)" font-size="7.5" text-anchor="middle" font-weight="bold">0</text>
<line x1="544.09" y1="130.3" x2="544.09" y2="133.9" stroke="#1a1a1a" stroke-width="1.3"/>
<text transform="translate(544.09 142.8) scale(1.0 1.12)" font-size="7.5" text-anchor="middle" font-weight="bold">2</text>
<line x1="560.38" y1="130.3" x2="560.38" y2="133.9" stroke="#1a1a1a" stroke-width="1.3"/>
<text transform="translate(560.38 142.8) scale(1.0 1.12)" font-size="7.5" text-anchor="middle" font-weight="bold">4</text>
<line x1="576.67" y1="130.3" x2="576.67" y2="133.9" stroke="#1a1a1a" stroke-width="1.3"/>
<text transform="translate(576.67 142.8) scale(1.0 1.12)" font-size="7.5" text-anchor="middle" font-weight="bold">6</text>
<line x1="592.96" y1="130.3" x2="592.96" y2="133.9" stroke="#1a1a1a" stroke-width="1.3"/>
<text transform="translate(592.96 142.8) scale(1.0 1.12)" font-size="7.5" text-anchor="middle" font-weight="bold">8</text>
<line x1="609.24" y1="130.3" x2="609.24" y2="133.9" stroke="#1a1a1a" stroke-width="1.3"/>
<text transform="translate(609.24 142.8) scale(1.0 1.12)" font-size="7.5" text-anchor="middle" font-weight="bold">10</text>
<line x1="625.53" y1="130.3" x2="625.53" y2="133.9" stroke="#1a1a1a" stroke-width="1.3"/>
<text transform="translate(625.53 142.8) scale(1.0 1.12)" font-size="7.5" text-anchor="middle" font-weight="bold">12</text>
<line x1="641.82" y1="130.3" x2="641.82" y2="133.9" stroke="#1a1a1a" stroke-width="1.3"/>
<text transform="translate(641.82 142.8) scale(1.0 1.12)" font-size="7.5" text-anchor="middle" font-weight="bold">14</text>
<line x1="658.11" y1="130.3" x2="658.11" y2="133.9" stroke="#1a1a1a" stroke-width="1.3"/>
<text transform="translate(658.11 142.8) scale(1.0 1.12)" font-size="7.5" text-anchor="middle" font-weight="bold">16</text>
<line x1="674.4" y1="130.3" x2="674.4" y2="133.9" stroke="#1a1a1a" stroke-width="1.3"/>
<text transform="translate(674.4 142.8) scale(1.0 1.12)" font-size="7.5" text-anchor="middle" font-weight="bold">18</text>
<text x="610.3" y="155.5" font-size="10.4" text-anchor="middle" fill="#111">Days Post Treatment</text>
<text x="610.3" y="168.4" font-size="10.4" text-anchor="middle" fill="#111">IM95</text>
<text transform="translate(498.6 80) scale(1.0 1) rotate(-90)" font-size="11.4" text-anchor="middle" fill="#111">Tumor volume (mm<tspan font-size="7.5" dy="-4">3</tspan><tspan dy="4">)</tspan></text>
<polyline points="527.8,122.32 544.09,119.32 560.38,116.33 576.67,115 592.96,113.33 609.24,112 625.53,110.01 641.82,106.68 658.11,101.69 674.4,96.04" fill="none" stroke="#b3151b" stroke-width="0.85"/>
<line x1="544.09" y1="118.33" x2="544.09" y2="120.32" stroke="#b3151b" stroke-width="0.8"/>
<line x1="541.99" y1="118.33" x2="546.19" y2="118.33" stroke="#b3151b" stroke-width="0.8"/>
<line x1="541.99" y1="120.32" x2="546.19" y2="120.32" stroke="#b3151b" stroke-width="0.8"/>
<line x1="560.38" y1="114.67" x2="560.38" y2="117.99" stroke="#b3151b" stroke-width="0.8"/>
<line x1="558.28" y1="114.67" x2="562.48" y2="114.67" stroke="#b3151b" stroke-width="0.8"/>
<line x1="558.28" y1="117.99" x2="562.48" y2="117.99" stroke="#b3151b" stroke-width="0.8"/>
<line x1="576.67" y1="112.68" x2="576.67" y2="117.32" stroke="#b3151b" stroke-width="0.8"/>
<line x1="574.57" y1="112.68" x2="578.77" y2="112.68" stroke="#b3151b" stroke-width="0.8"/>
<line x1="574.57" y1="117.32" x2="578.77" y2="117.32" stroke="#b3151b" stroke-width="0.8"/>
<line x1="592.96" y1="110.68" x2="592.96" y2="115.99" stroke="#b3151b" stroke-width="0.8"/>
<line x1="590.86" y1="110.68" x2="595.06" y2="110.68" stroke="#b3151b" stroke-width="0.8"/>
<line x1="590.86" y1="115.99" x2="595.06" y2="115.99" stroke="#b3151b" stroke-width="0.8"/>
<line x1="609.24" y1="108.69" x2="609.24" y2="115.32" stroke="#b3151b" stroke-width="0.8"/>
<line x1="607.14" y1="108.69" x2="611.34" y2="108.69" stroke="#b3151b" stroke-width="0.8"/>
<line x1="607.14" y1="115.32" x2="611.34" y2="115.32" stroke="#b3151b" stroke-width="0.8"/>
<line x1="625.53" y1="106.36" x2="625.53" y2="113.66" stroke="#b3151b" stroke-width="0.8"/>
<line x1="623.43" y1="106.36" x2="627.63" y2="106.36" stroke="#b3151b" stroke-width="0.8"/>
<line x1="623.43" y1="113.66" x2="627.63" y2="113.66" stroke="#b3151b" stroke-width="0.8"/>
<line x1="641.82" y1="102.7" x2="641.82" y2="110.66" stroke="#b3151b" stroke-width="0.8"/>
<line x1="639.72" y1="102.7" x2="643.92" y2="102.7" stroke="#b3151b" stroke-width="0.8"/>
<line x1="639.72" y1="110.66" x2="643.92" y2="110.66" stroke="#b3151b" stroke-width="0.8"/>
<line x1="658.11" y1="98.71" x2="658.11" y2="104.68" stroke="#b3151b" stroke-width="0.8"/>
<line x1="656.01" y1="98.71" x2="660.21" y2="98.71" stroke="#b3151b" stroke-width="0.8"/>
<line x1="656.01" y1="104.68" x2="660.21" y2="104.68" stroke="#b3151b" stroke-width="0.8"/>
<line x1="674.4" y1="92.72" x2="674.4" y2="99.35" stroke="#b3151b" stroke-width="0.8"/>
<line x1="672.3" y1="92.72" x2="676.5" y2="92.72" stroke="#b3151b" stroke-width="0.8"/>
<line x1="672.3" y1="99.35" x2="676.5" y2="99.35" stroke="#b3151b" stroke-width="0.8"/>
<path d="M525.35 124.52L527.8 120.11L530.25 124.52Z" fill="#b3151b"/>
<path d="M541.64 121.53L544.09 117.12L546.54 121.53Z" fill="#b3151b"/>
<path d="M557.93 118.53L560.38 114.12L562.83 118.53Z" fill="#b3151b"/>
<path d="M574.22 117.2L576.67 112.79L579.12 117.2Z" fill="#b3151b"/>
<path d="M590.51 115.54L592.96 111.13L595.41 115.54Z" fill="#b3151b"/>
<path d="M606.79 114.21L609.24 109.8L611.69 114.21Z" fill="#b3151b"/>
<path d="M623.08 112.21L625.53 107.8L627.98 112.21Z" fill="#b3151b"/>
<path d="M639.37 108.89L641.82 104.48L644.27 108.89Z" fill="#b3151b"/>
<path d="M655.66 103.9L658.11 99.49L660.56 103.9Z" fill="#b3151b"/>
<path d="M671.95 98.24L674.4 93.83L676.85 98.24Z" fill="#b3151b"/>
<polyline points="527.8,122.32 544.09,117.66 560.38,109.67 576.67,100.69 592.96,92.38 609.24,86.39 625.53,79.73 641.82,74.08 658.11,65.43 674.4,57.78" fill="none" stroke="#000" stroke-width="0.85"/>
<line x1="544.09" y1="116.66" x2="544.09" y2="118.65" stroke="#000" stroke-width="0.8"/>
<line x1="541.99" y1="116.66" x2="546.19" y2="116.66" stroke="#000" stroke-width="0.8"/>
<line x1="541.99" y1="118.65" x2="546.19" y2="118.65" stroke="#000" stroke-width="0.8"/>
<line x1="560.38" y1="106.36" x2="560.38" y2="112.99" stroke="#000" stroke-width="0.8"/>
<line x1="558.28" y1="106.36" x2="562.48" y2="106.36" stroke="#000" stroke-width="0.8"/>
<line x1="558.28" y1="112.99" x2="562.48" y2="112.99" stroke="#000" stroke-width="0.8"/>
<line x1="576.67" y1="96.71" x2="576.67" y2="104.67" stroke="#000" stroke-width="0.8"/>
<line x1="574.57" y1="96.71" x2="578.77" y2="96.71" stroke="#000" stroke-width="0.8"/>
<line x1="574.57" y1="104.67" x2="578.77" y2="104.67" stroke="#000" stroke-width="0.8"/>
<line x1="592.96" y1="87.73" x2="592.96" y2="97.02" stroke="#000" stroke-width="0.8"/>
<line x1="590.86" y1="87.73" x2="595.06" y2="87.73" stroke="#000" stroke-width="0.8"/>
<line x1="590.86" y1="97.02" x2="595.06" y2="97.02" stroke="#000" stroke-width="0.8"/>
<line x1="609.24" y1="82.41" x2="609.24" y2="90.37" stroke="#000" stroke-width="0.8"/>
<line x1="607.14" y1="82.41" x2="611.34" y2="82.41" stroke="#000" stroke-width="0.8"/>
<line x1="607.14" y1="90.37" x2="611.34" y2="90.37" stroke="#000" stroke-width="0.8"/>
<line x1="625.53" y1="74.43" x2="625.53" y2="85.04" stroke="#000" stroke-width="0.8"/>
<line x1="623.43" y1="74.43" x2="627.63" y2="74.43" stroke="#000" stroke-width="0.8"/>
<line x1="623.43" y1="85.04" x2="627.63" y2="85.04" stroke="#000" stroke-width="0.8"/>
<line x1="641.82" y1="68.77" x2="641.82" y2="79.39" stroke="#000" stroke-width="0.8"/>
<line x1="639.72" y1="68.77" x2="643.92" y2="68.77" stroke="#000" stroke-width="0.8"/>
<line x1="639.72" y1="79.39" x2="643.92" y2="79.39" stroke="#000" stroke-width="0.8"/>
<line x1="658.11" y1="59.46" x2="658.11" y2="71.4" stroke="#000" stroke-width="0.8"/>
<line x1="656.01" y1="59.46" x2="660.21" y2="59.46" stroke="#000" stroke-width="0.8"/>
<line x1="656.01" y1="71.4" x2="660.21" y2="71.4" stroke="#000" stroke-width="0.8"/>
<line x1="674.4" y1="50.48" x2="674.4" y2="65.08" stroke="#000" stroke-width="0.8"/>
<line x1="672.3" y1="50.48" x2="676.5" y2="50.48" stroke="#000" stroke-width="0.8"/>
<line x1="672.3" y1="65.08" x2="676.5" y2="65.08" stroke="#000" stroke-width="0.8"/>
<path d="M525.35 124.52L527.8 120.11L530.25 124.52Z" fill="#000"/>
<path d="M541.64 119.86L544.09 115.45L546.54 119.86Z" fill="#000"/>
<path d="M557.93 111.88L560.38 107.47L562.83 111.88Z" fill="#000"/>
<path d="M574.22 102.9L576.67 98.49L579.12 102.9Z" fill="#000"/>
<path d="M590.51 94.58L592.96 90.17L595.41 94.58Z" fill="#000"/>
<path d="M606.79 88.59L609.24 84.18L611.69 88.59Z" fill="#000"/>
<path d="M623.08 81.94L625.53 77.53L627.98 81.94Z" fill="#000"/>
<path d="M639.37 76.28L641.82 71.87L644.27 76.28Z" fill="#000"/>
<path d="M655.66 67.64L658.11 63.23L660.56 67.64Z" fill="#000"/>
<path d="M671.95 59.98L674.4 55.57L676.85 59.98Z" fill="#000"/>
<line x1="535" y1="39" x2="545.4" y2="39" stroke="#000" stroke-width="0.65"/>
<path d="M538.25 40.76L540.2 37.24L542.15 40.76Z" fill="#000"/>
<text x="551.8" y="42" font-size="8.55" fill="#111">E8-2RNF4(-DOX)</text>
<line x1="535" y1="52.6" x2="545.4" y2="52.6" stroke="#b3151b" stroke-width="0.65"/>
<path d="M538.25 54.36L540.2 50.84L542.15 54.36Z" fill="#b3151b"/>
<text x="551.8" y="55.5" font-size="8.55" fill="#111">E8-2RNF4(+DOX)</text>
<line x1="623.9" y1="36.3" x2="623.9" y2="54.4" stroke="#333" stroke-width="0.9"/>
<text transform="translate(626.7 50.3) scale(1.0 1)" font-size="9.7" fill="#111"><tspan font-style="italic">P</tspan>=0.0007</text>
<text x="1" y="201.9" font-size="20.3">D</text>
<line x1="53.8" y1="326.4" x2="53.8" y2="231.5" stroke="#1a1a1a" stroke-width="1.3"/>
<line x1="50.2" y1="326.4" x2="200.8" y2="326.4" stroke="#1a1a1a" stroke-width="1.3"/>
<line x1="50.2" y1="326.4" x2="53.8" y2="326.4" stroke="#1a1a1a" stroke-width="1.3"/>
<text transform="translate(48.6 329.34) scale(1.0 1.12)" font-size="7.3" text-anchor="end" font-weight="bold">0</text>
<line x1="50.2" y1="309.1" x2="53.8" y2="309.1" stroke="#1a1a1a" stroke-width="1.3"/>
<text transform="translate(48.6 312.04) scale(1.0 1.12)" font-size="7.3" text-anchor="end" font-weight="bold">20</text>
<line x1="50.2" y1="291.8" x2="53.8" y2="291.8" stroke="#1a1a1a" stroke-width="1.3"/>
<text transform="translate(48.6 294.74) scale(1.0 1.12)" font-size="7.3" text-anchor="end" font-weight="bold">40</text>
<line x1="50.2" y1="274.5" x2="53.8" y2="274.5" stroke="#1a1a1a" stroke-width="1.3"/>
<text transform="translate(48.6 277.44) scale(1.0 1.12)" font-size="7.3" text-anchor="end" font-weight="bold">60</text>
<line x1="50.2" y1="257.2" x2="53.8" y2="257.2" stroke="#1a1a1a" stroke-width="1.3"/>
<text transform="translate(48.6 260.14) scale(1.0 1.12)" font-size="7.3" text-anchor="end" font-weight="bold">80</text>
<line x1="50.2" y1="239.9" x2="53.8" y2="239.9" stroke="#1a1a1a" stroke-width="1.3"/>
<text transform="translate(48.6 242.84) scale(1.0 1.12)" font-size="7.3" text-anchor="end" font-weight="bold">100</text>
<line x1="53.8" y1="326.4" x2="53.8" y2="330" stroke="#1a1a1a" stroke-width="1.3"/>
<text transform="translate(53.8 338.8) scale(1.0 1.12)" font-size="7.3" text-anchor="middle" font-weight="bold">0</text>
<line x1="83.2" y1="326.4" x2="83.2" y2="330" stroke="#1a1a1a" stroke-width="1.3"/>
<text transform="translate(83.2 338.8) scale(1.0 1.12)" font-size="7.3" text-anchor="middle" font-weight="bold">10</text>
<line x1="112.6" y1="326.4" x2="112.6" y2="330" stroke="#1a1a1a" stroke-width="1.3"/>
<text transform="translate(112.6 338.8) scale(1.0 1.12)" font-size="7.3" text-anchor="middle" font-weight="bold">20</text>
<line x1="142" y1="326.4" x2="142" y2="330" stroke="#1a1a1a" stroke-width="1.3"/>
<text transform="translate(142 338.8) scale(1.0 1.12)" font-size="7.3" text-anchor="middle" font-weight="bold">30</text>
<line x1="171.4" y1="326.4" x2="171.4" y2="330" stroke="#1a1a1a" stroke-width="1.3"/>
<text transform="translate(171.4 338.8) scale(1.0 1.12)" font-size="7.3" text-anchor="middle" font-weight="bold">40</text>
<line x1="200.8" y1="326.4" x2="200.8" y2="330" stroke="#1a1a1a" stroke-width="1.3"/>
<text transform="translate(200.8 338.8) scale(1.0 1.12)" font-size="7.3" text-anchor="middle" font-weight="bold">50</text>
<text x="139.4" y="352" font-size="10.3" text-anchor="middle" fill="#111">Days Post Tumor Inoculation</text>
<text x="139.3" y="364.2" font-size="10.3" text-anchor="middle" fill="#111">MDA-MB-231</text>
<text transform="translate(31 280.5) scale(1.0 1) rotate(-90)" font-size="11.5" text-anchor="middle" fill="#111">Survival (%)</text>
<polyline points="53.8,239.9 118.48,239.9 118.48,264.61 124.36,264.61 124.36,276.97 130.24,276.97 130.24,289.33 133.18,289.33 133.18,301.69 139.06,301.69 139.06,314.04 142,314.04 142,326.4" fill="none" stroke="#b0b0b0" stroke-width="1.1"/>
<polyline points="53.8,239.9 121.42,239.9 121.42,252.26 133.18,252.26 133.18,264.61 144.94,264.61 144.94,276.97 153.76,276.97 153.76,289.33 165.52,289.33 165.52,301.69 171.4,301.69 171.4,314.04 180.22,314.04 180.22,326.4" fill="none" stroke="#f98686" stroke-width="1.1"/>
<polyline points="53.8,239.9 112.6,239.9 112.6,252.26 118.48,252.26 118.48,264.61 121.42,264.61 121.42,276.97 124.36,276.97 124.36,289.33 127.3,289.33 127.3,301.69 133.18,301.69 133.18,314.04 144.94,314.04 144.94,326.4" fill="none" stroke="#a3161a" stroke-width="1.1"/>
<polyline points="53.8,239.9 118.48,239.9 118.48,264.61 124.36,264.61 124.36,276.97 130.24,276.97 130.24,289.33 133.18,289.33 133.18,301.69 136.12,301.69 136.12,314.04 139.06,314.04 139.06,326.4" fill="none" stroke="#000" stroke-width="1.1"/>
<line x1="53.8" y1="239.9" x2="118.48" y2="239.9" stroke="#7a7a7a" stroke-width="1.1"/>
<line x1="7" y1="213.1" x2="17.5" y2="213.1" stroke="#000" stroke-width="0.8"/>
<line x1="12.25" y1="211.3" x2="12.25" y2="213.1" stroke="#000" stroke-width="0.8"/>
<text x="25.6" y="217.5" font-size="9.5" fill="#111">C3-2RNF4(-DOX)</text>
<line x1="7" y1="226.6" x2="17.5" y2="226.6" stroke="#b0b0b0" stroke-width="0.8"/>
<line x1="12.25" y1="224.8" x2="12.25" y2="226.6" stroke="#b0b0b0" stroke-width="0.8"/>
<text x="25.6" y="229.8" font-size="9.5" fill="#111">C3-2RNF4(+DOX)</text>
<line x1="110" y1="211.4" x2="110" y2="228" stroke="#555" stroke-width="0.9"/>
<text x="111.6" y="223.2" font-size="9.5" fill="#111">ns</text>
<line x1="132.6" y1="214.2" x2="142.8" y2="214.2" stroke="#a3161a" stroke-width="0.8"/>
<line x1="137.7" y1="212.4" x2="137.7" y2="214.2" stroke="#a3161a" stroke-width="0.8"/>
<text x="151.2" y="218.2" font-size="9.5" fill="#111">E8-2RNF4(-DOX)</text>
<line x1="132.6" y1="227.1" x2="142.8" y2="227.1" stroke="#f98686" stroke-width="0.8"/>
<line x1="137.7" y1="225.3" x2="137.7" y2="227.1" stroke="#f98686" stroke-width="0.8"/>
<text x="151.2" y="230.8" font-size="9.5" fill="#111">E8-2RNF4(+DOX)</text>
<line x1="234.7" y1="213" x2="234.7" y2="228" stroke="#555" stroke-width="0.9"/>
<text transform="translate(236.6 224.2) scale(1.0 1)" font-size="9.4" fill="#111"><tspan font-style="italic">P</tspan>=0.0091</text>
<text x="268.7" y="202.4" font-size="20.3">E</text>
<line x1="319.6" y1="322.9" x2="319.6" y2="227.5" stroke="#1a1a1a" stroke-width="1.3"/>
<line x1="316" y1="322.9" x2="467.8" y2="322.9" stroke="#1a1a1a" stroke-width="1.3"/>
<line x1="316" y1="322.9" x2="319.6" y2="322.9" stroke="#1a1a1a" stroke-width="1.3"/>
<text transform="translate(314.4 326) scale(1.0 1.12)" font-size="7.7" text-anchor="end" font-weight="bold">0</text>
<line x1="316" y1="305.64" x2="319.6" y2="305.64" stroke="#1a1a1a" stroke-width="1.3"/>
<text transform="translate(314.4 308.74) scale(1.0 1.12)" font-size="7.7" text-anchor="end" font-weight="bold">20</text>
<line x1="316" y1="288.38" x2="319.6" y2="288.38" stroke="#1a1a1a" stroke-width="1.3"/>
<text transform="translate(314.4 291.48) scale(1.0 1.12)" font-size="7.7" text-anchor="end" font-weight="bold">40</text>
<line x1="316" y1="271.12" x2="319.6" y2="271.12" stroke="#1a1a1a" stroke-width="1.3"/>
<text transform="translate(314.4 274.22) scale(1.0 1.12)" font-size="7.7" text-anchor="end" font-weight="bold">60</text>
<line x1="316" y1="253.86" x2="319.6" y2="253.86" stroke="#1a1a1a" stroke-width="1.3"/>
<text transform="translate(314.4 256.96) scale(1.0 1.12)" font-size="7.7" text-anchor="end" font-weight="bold">80</text>
<line x1="316" y1="236.6" x2="319.6" y2="236.6" stroke="#1a1a1a" stroke-width="1.3"/>
<text transform="translate(314.4 239.7) scale(1.0 1.12)" font-size="7.7" text-anchor="end" font-weight="bold">100</text>
<line x1="319.6" y1="322.9" x2="319.6" y2="326.5" stroke="#1a1a1a" stroke-width="1.3"/>
<text transform="translate(319.6 335) scale(1.0 1.12)" font-size="7.7" text-anchor="middle" font-weight="bold">0</text>
<line x1="356.65" y1="322.9" x2="356.65" y2="326.5" stroke="#1a1a1a" stroke-width="1.3"/>
<text transform="translate(356.65 335) scale(1.0 1.12)" font-size="7.7" text-anchor="middle" font-weight="bold">20</text>
<line x1="393.7" y1="322.9" x2="393.7" y2="326.5" stroke="#1a1a1a" stroke-width="1.3"/>
<text transform="translate(393.7 335) scale(1.0 1.12)" font-size="7.7" text-anchor="middle" font-weight="bold">40</text>
<line x1="430.75" y1="322.9" x2="430.75" y2="326.5" stroke="#1a1a1a" stroke-width="1.3"/>
<text transform="translate(430.75 335) scale(1.0 1.12)" font-size="7.7" text-anchor="middle" font-weight="bold">60</text>
<line x1="467.8" y1="322.9" x2="467.8" y2="326.5" stroke="#1a1a1a" stroke-width="1.3"/>
<text transform="translate(467.8 335) scale(1.0 1.12)" font-size="7.7" text-anchor="middle" font-weight="bold">80</text>
<text x="396.9" y="348" font-size="10.3" text-anchor="middle" fill="#111">Days Post Tumor Inoculation</text>
<text x="396.8" y="359.7" font-size="10.3" text-anchor="middle" fill="#111">MSTO-211H</text>
<text transform="translate(296.3 275.6) scale(1.0 1) rotate(-90)" font-size="11.7" text-anchor="middle" fill="#111">Survival (%)</text>
<polyline points="319.6,236.6 410.37,236.6 410.37,248.93 428.9,248.93 428.9,273.59 436.31,273.59 436.31,285.91 440.01,285.91 440.01,310.57 447.42,310.57 447.42,322.9" fill="none" stroke="#c01d22" stroke-width="1.1"/>
<polyline points="319.6,236.6 393.7,236.6 393.7,248.93 397.41,248.93 397.41,261.26 399.26,261.26 399.26,273.59 401.11,273.59 401.11,285.91 408.52,285.91 408.52,298.24 414.08,298.24 414.08,310.57 417.78,310.57 417.78,322.9" fill="none" stroke="#000" stroke-width="1.1"/>
<line x1="322.1" y1="209.7" x2="332.7" y2="209.7" stroke="#000" stroke-width="0.8"/>
<line x1="327.4" y1="207.9" x2="327.4" y2="209.7" stroke="#000" stroke-width="0.8"/>
<text x="338.3" y="213.2" font-size="9.55" fill="#111">E8-2RNF4(-DOX)</text>
<line x1="322.1" y1="222.6" x2="332.7" y2="222.6" stroke="#c01d22" stroke-width="0.8"/>
<line x1="327.4" y1="220.8" x2="327.4" y2="222.6" stroke="#c01d22" stroke-width="0.8"/>
<text x="338.3" y="226.1" font-size="9.55" fill="#111">E8-2RNF4(+DOX)</text>
<line x1="421.7" y1="206.2" x2="421.7" y2="226.1" stroke="#555" stroke-width="0.9"/>
<text transform="translate(424.3 219.5) scale(1.0 1)" font-size="9.5" fill="#111"><tspan font-style="italic">P</tspan>=0.0008</text>
<text x="469.3" y="202.4" font-size="20.3">F</text>
<line x1="532.6" y1="324.3" x2="532.6" y2="228.5" stroke="#1a1a1a" stroke-width="1.3"/>
<line x1="529" y1="324.3" x2="680.6" y2="324.3" stroke="#1a1a1a" stroke-width="1.3"/>
<line x1="529" y1="324.3" x2="532.6" y2="324.3" stroke="#1a1a1a" stroke-width="1.3"/>
<text transform="translate(527.4 327.4) scale(1.0 1.12)" font-size="7.7" text-anchor="end" font-weight="bold">0</text>
<line x1="529" y1="306.94" x2="532.6" y2="306.94" stroke="#1a1a1a" stroke-width="1.3"/>
<text transform="translate(527.4 310.04) scale(1.0 1.12)" font-size="7.7" text-anchor="end" font-weight="bold">20</text>
<line x1="529" y1="289.58" x2="532.6" y2="289.58" stroke="#1a1a1a" stroke-width="1.3"/>
<text transform="translate(527.4 292.68) scale(1.0 1.12)" font-size="7.7" text-anchor="end" font-weight="bold">40</text>
<line x1="529" y1="272.22" x2="532.6" y2="272.22" stroke="#1a1a1a" stroke-width="1.3"/>
<text transform="translate(527.4 275.32) scale(1.0 1.12)" font-size="7.7" text-anchor="end" font-weight="bold">60</text>
<line x1="529" y1="254.86" x2="532.6" y2="254.86" stroke="#1a1a1a" stroke-width="1.3"/>
<text transform="translate(527.4 257.96) scale(1.0 1.12)" font-size="7.7" text-anchor="end" font-weight="bold">80</text>
<line x1="529" y1="237.5" x2="532.6" y2="237.5" stroke="#1a1a1a" stroke-width="1.3"/>
<text transform="translate(527.4 240.6) scale(1.0 1.12)" font-size="7.7" text-anchor="end" font-weight="bold">100</text>
<line x1="532.6" y1="324.3" x2="532.6" y2="327.9" stroke="#1a1a1a" stroke-width="1.3"/>
<text transform="translate(532.6 336.4) scale(1.0 1.12)" font-size="7.7" text-anchor="middle" font-weight="bold">0</text>
<line x1="581.93" y1="324.3" x2="581.93" y2="327.9" stroke="#1a1a1a" stroke-width="1.3"/>
<text transform="translate(581.93 336.4) scale(1.0 1.12)" font-size="7.7" text-anchor="middle" font-weight="bold">20</text>
<line x1="631.27" y1="324.3" x2="631.27" y2="327.9" stroke="#1a1a1a" stroke-width="1.3"/>
<text transform="translate(631.27 336.4) scale(1.0 1.12)" font-size="7.7" text-anchor="middle" font-weight="bold">40</text>
<line x1="680.6" y1="324.3" x2="680.6" y2="327.9" stroke="#1a1a1a" stroke-width="1.3"/>
<text transform="translate(680.6 336.4) scale(1.0 1.12)" font-size="7.7" text-anchor="middle" font-weight="bold">60</text>
<text x="607.1" y="349.3" font-size="10.3" text-anchor="middle" fill="#111">Days Post Tumor Inoculation</text>
<text x="606.9" y="361" font-size="10.3" text-anchor="middle" fill="#111">IM95</text>
<text transform="translate(509.3 275.3) scale(1.0 1) rotate(-90)" font-size="11.7" text-anchor="middle" fill="#111">Survival (%)</text>
<polyline points="532.6,237.5 618.93,237.5 618.93,259.2 623.87,259.2 623.87,270.05 633.73,270.05 633.73,280.9 638.67,280.9 638.67,291.75 648.53,291.75 648.53,302.6 651,302.6 651,313.45 655.93,313.45 655.93,324.3" fill="none" stroke="#c01d22" stroke-width="1.1"/>
<polyline points="532.6,237.5 609.07,237.5 609.07,248.35 611.53,248.35 611.53,259.2 614,259.2 614,280.9 618.93,280.9 618.93,302.6 623.87,302.6 623.87,313.45 628.8,313.45 628.8,324.3" fill="none" stroke="#000" stroke-width="1.1"/>
<line x1="537.1" y1="209.7" x2="547.7" y2="209.7" stroke="#000" stroke-width="0.8"/>
<line x1="542.4" y1="207.9" x2="542.4" y2="209.7" stroke="#000" stroke-width="0.8"/>
<text x="553.3" y="213.2" font-size="9.55" fill="#111">E8-2RNF4(-DOX)</text>
<line x1="537.1" y1="222.6" x2="547.7" y2="222.6" stroke="#c01d22" stroke-width="0.8"/>
<line x1="542.4" y1="220.8" x2="542.4" y2="222.6" stroke="#c01d22" stroke-width="0.8"/>
<text x="553.3" y="226.1" font-size="9.55" fill="#111">E8-2RNF4(+DOX)</text>
<line x1="635.3" y1="206.2" x2="635.3" y2="226.1" stroke="#555" stroke-width="0.9"/>
<text transform="translate(638.6 219.5) scale(1.0 1)" font-size="9.5" fill="#111"><tspan font-style="italic">P</tspan>=0.0036</text>
<text x="1.2" y="401.8" font-size="20.6">G</text>
<line x1="66.6" y1="511.4" x2="66.6" y2="400.2" stroke="#1a1a1a" stroke-width="1.3"/>
<line x1="63" y1="511.4" x2="233.3" y2="511.4" stroke="#1a1a1a" stroke-width="1.3"/>
<line x1="63" y1="511.4" x2="66.6" y2="511.4" stroke="#1a1a1a" stroke-width="1.3"/>
<text transform="translate(61.4 514.91) scale(1.0 1.12)" font-size="8.7" text-anchor="end" font-weight="bold">0</text>
<line x1="63" y1="483.7" x2="66.6" y2="483.7" stroke="#1a1a1a" stroke-width="1.3"/>
<text transform="translate(61.4 487.21) scale(1.0 1.12)" font-size="8.7" text-anchor="end" font-weight="bold">200</text>
<line x1="63" y1="456" x2="66.6" y2="456" stroke="#1a1a1a" stroke-width="1.3"/>
<text transform="translate(61.4 459.51) scale(1.0 1.12)" font-size="8.7" text-anchor="end" font-weight="bold">400</text>
<line x1="63" y1="428.3" x2="66.6" y2="428.3" stroke="#1a1a1a" stroke-width="1.3"/>
<text transform="translate(61.4 431.81) scale(1.0 1.12)" font-size="8.7" text-anchor="end" font-weight="bold">600</text>
<line x1="63" y1="400.6" x2="66.6" y2="400.6" stroke="#1a1a1a" stroke-width="1.3"/>
<text transform="translate(61.4 404.11) scale(1.0 1.12)" font-size="8.7" text-anchor="end" font-weight="bold">800</text>
<line x1="66.6" y1="511.4" x2="66.6" y2="515" stroke="#1a1a1a" stroke-width="1.3"/>
<text transform="translate(66.6 524.6) scale(1.0 1.12)" font-size="8.7" text-anchor="middle" font-weight="bold">0</text>
<line x1="77.3" y1="511.4" x2="77.3" y2="515" stroke="#1a1a1a" stroke-width="1.3"/>
<text transform="translate(77.3 524.6) scale(1.0 1.12)" font-size="8.7" text-anchor="middle" font-weight="bold">2</text>
<line x1="88" y1="511.4" x2="88" y2="515" stroke="#1a1a1a" stroke-width="1.3"/>
<text transform="translate(88 524.6) scale(1.0 1.12)" font-size="8.7" text-anchor="middle" font-weight="bold">4</text>
<line x1="98.7" y1="511.4" x2="98.7" y2="515" stroke="#1a1a1a" stroke-width="1.3"/>
<text transform="translate(98.7 524.6) scale(1.0 1.12)" font-size="8.7" text-anchor="middle" font-weight="bold">6</text>
<line x1="109.4" y1="511.4" x2="109.4" y2="515" stroke="#1a1a1a" stroke-width="1.3"/>
<text transform="translate(109.4 524.6) scale(1.0 1.12)" font-size="8.7" text-anchor="middle" font-weight="bold">8</text>
<line x1="120.1" y1="511.4" x2="120.1" y2="515" stroke="#1a1a1a" stroke-width="1.3"/>
<text transform="translate(120.1 524.6) scale(1.0 1.12)" font-size="8.7" text-anchor="middle" font-weight="bold">10</text>
<line x1="130.8" y1="511.4" x2="130.8" y2="515" stroke="#1a1a1a" stroke-width="1.3"/>
<text transform="translate(130.8 524.6) scale(1.0 1.12)" font-size="8.7" text-anchor="middle" font-weight="bold">12</text>
<line x1="141.5" y1="511.4" x2="141.5" y2="515" stroke="#1a1a1a" stroke-width="1.3"/>
<text transform="translate(141.5 524.6) scale(1.0 1.12)" font-size="8.7" text-anchor="middle" font-weight="bold">14</text>
<line x1="152.2" y1="511.4" x2="152.2" y2="515" stroke="#1a1a1a" stroke-width="1.3"/>
<text transform="translate(152.2 524.6) scale(1.0 1.12)" font-size="8.7" text-anchor="middle" font-weight="bold">16</text>
<line x1="162.9" y1="511.4" x2="162.9" y2="515" stroke="#1a1a1a" stroke-width="1.3"/>
<text transform="translate(162.9 524.6) scale(1.0 1.12)" font-size="8.7" text-anchor="middle" font-weight="bold">18</text>
<line x1="173.6" y1="511.4" x2="173.6" y2="515" stroke="#1a1a1a" stroke-width="1.3"/>
<text transform="translate(173.6 524.6) scale(1.0 1.12)" font-size="8.7" text-anchor="middle" font-weight="bold">20</text>
<line x1="184.3" y1="511.4" x2="184.3" y2="515" stroke="#1a1a1a" stroke-width="1.3"/>
<text transform="translate(184.3 524.6) scale(1.0 1.12)" font-size="8.7" text-anchor="middle" font-weight="bold">22</text>
<line x1="195" y1="511.4" x2="195" y2="515" stroke="#1a1a1a" stroke-width="1.3"/>
<text transform="translate(195 524.6) scale(1.0 1.12)" font-size="8.7" text-anchor="middle" font-weight="bold">24</text>
<line x1="205.7" y1="511.4" x2="205.7" y2="515" stroke="#1a1a1a" stroke-width="1.3"/>
<text transform="translate(205.7 524.6) scale(1.0 1.12)" font-size="8.7" text-anchor="middle" font-weight="bold">26</text>
<line x1="216.4" y1="511.4" x2="216.4" y2="515" stroke="#1a1a1a" stroke-width="1.3"/>
<text transform="translate(216.4 524.6) scale(1.0 1.12)" font-size="8.7" text-anchor="middle" font-weight="bold">28</text>
<line x1="227.1" y1="511.4" x2="227.1" y2="515" stroke="#1a1a1a" stroke-width="1.3"/>
<text transform="translate(227.1 524.6) scale(1.0 1.12)" font-size="8.7" text-anchor="middle" font-weight="bold">30</text>
<text x="153.6" y="539" font-size="10.3" text-anchor="middle" fill="#111">Days Post Treatment</text>
<text x="153.1" y="550.7" font-size="10.3" text-anchor="middle" fill="#111">92.1</text>
<text transform="translate(36.9 453.6) scale(1.0 1) rotate(-90)" font-size="11.5" text-anchor="middle" fill="#111">Tumor volume (mm<tspan font-size="7.5" dy="-4">3</tspan><tspan dy="4">)</tspan></text>
<polyline points="66.6,501.01 77.3,499.63 88,498.24 98.7,497.55 109.4,499.63 120.1,497.55 130.8,496.86 141.5,496.16 152.2,496.86 162.9,495.47 173.6,493.67 184.3,493.39 195,493.39 205.7,493.39 216.4,492.01 227.1,491.32" fill="none" stroke="#b3151b" stroke-width="0.85"/>
<line x1="66.6" y1="499.63" x2="66.6" y2="502.4" stroke="#b3151b" stroke-width="0.8"/>
<line x1="64.5" y1="499.63" x2="68.7" y2="499.63" stroke="#b3151b" stroke-width="0.8"/>
<line x1="64.5" y1="502.4" x2="68.7" y2="502.4" stroke="#b3151b" stroke-width="0.8"/>
<line x1="77.3" y1="497.55" x2="77.3" y2="501.7" stroke="#b3151b" stroke-width="0.8"/>
<line x1="75.2" y1="497.55" x2="79.4" y2="497.55" stroke="#b3151b" stroke-width="0.8"/>
<line x1="75.2" y1="501.7" x2="79.4" y2="501.7" stroke="#b3151b" stroke-width="0.8"/>
<line x1="88" y1="496.86" x2="88" y2="499.63" stroke="#b3151b" stroke-width="0.8"/>
<line x1="85.9" y1="496.86" x2="90.1" y2="496.86" stroke="#b3151b" stroke-width="0.8"/>
<line x1="85.9" y1="499.63" x2="90.1" y2="499.63" stroke="#b3151b" stroke-width="0.8"/>
<line x1="98.7" y1="496.16" x2="98.7" y2="498.93" stroke="#b3151b" stroke-width="0.8"/>
<line x1="96.6" y1="496.16" x2="100.8" y2="496.16" stroke="#b3151b" stroke-width="0.8"/>
<line x1="96.6" y1="498.93" x2="100.8" y2="498.93" stroke="#b3151b" stroke-width="0.8"/>
<line x1="109.4" y1="498.24" x2="109.4" y2="501.01" stroke="#b3151b" stroke-width="0.8"/>
<line x1="107.3" y1="498.24" x2="111.5" y2="498.24" stroke="#b3151b" stroke-width="0.8"/>
<line x1="107.3" y1="501.01" x2="111.5" y2="501.01" stroke="#b3151b" stroke-width="0.8"/>
<line x1="120.1" y1="496.16" x2="120.1" y2="498.93" stroke="#b3151b" stroke-width="0.8"/>
<line x1="118" y1="496.16" x2="122.2" y2="496.16" stroke="#b3151b" stroke-width="0.8"/>
<line x1="118" y1="498.93" x2="122.2" y2="498.93" stroke="#b3151b" stroke-width="0.8"/>
<line x1="130.8" y1="494.78" x2="130.8" y2="498.93" stroke="#b3151b" stroke-width="0.8"/>
<line x1="128.7" y1="494.78" x2="132.9" y2="494.78" stroke="#b3151b" stroke-width="0.8"/>
<line x1="128.7" y1="498.93" x2="132.9" y2="498.93" stroke="#b3151b" stroke-width="0.8"/>
<line x1="141.5" y1="493.39" x2="141.5" y2="498.93" stroke="#b3151b" stroke-width="0.8"/>
<line x1="139.4" y1="493.39" x2="143.6" y2="493.39" stroke="#b3151b" stroke-width="0.8"/>
<line x1="139.4" y1="498.93" x2="143.6" y2="498.93" stroke="#b3151b" stroke-width="0.8"/>
<line x1="152.2" y1="494.78" x2="152.2" y2="498.93" stroke="#b3151b" stroke-width="0.8"/>
<line x1="150.1" y1="494.78" x2="154.3" y2="494.78" stroke="#b3151b" stroke-width="0.8"/>
<line x1="150.1" y1="498.93" x2="154.3" y2="498.93" stroke="#b3151b" stroke-width="0.8"/>
<line x1="162.9" y1="493.39" x2="162.9" y2="497.55" stroke="#b3151b" stroke-width="0.8"/>
<line x1="160.8" y1="493.39" x2="165" y2="493.39" stroke="#b3151b" stroke-width="0.8"/>
<line x1="160.8" y1="497.55" x2="165" y2="497.55" stroke="#b3151b" stroke-width="0.8"/>
<line x1="173.6" y1="490.9" x2="173.6" y2="496.44" stroke="#b3151b" stroke-width="0.8"/>
<line x1="171.5" y1="490.9" x2="175.7" y2="490.9" stroke="#b3151b" stroke-width="0.8"/>
<line x1="171.5" y1="496.44" x2="175.7" y2="496.44" stroke="#b3151b" stroke-width="0.8"/>
<line x1="184.3" y1="490.62" x2="184.3" y2="496.16" stroke="#b3151b" stroke-width="0.8"/>
<line x1="182.2" y1="490.62" x2="186.4" y2="490.62" stroke="#b3151b" stroke-width="0.8"/>
<line x1="182.2" y1="496.16" x2="186.4" y2="496.16" stroke="#b3151b" stroke-width="0.8"/>
<line x1="195" y1="489.93" x2="195" y2="496.86" stroke="#b3151b" stroke-width="0.8"/>
<line x1="192.9" y1="489.93" x2="197.1" y2="489.93" stroke="#b3151b" stroke-width="0.8"/>
<line x1="192.9" y1="496.86" x2="197.1" y2="496.86" stroke="#b3151b" stroke-width="0.8"/>
<line x1="205.7" y1="489.93" x2="205.7" y2="496.86" stroke="#b3151b" stroke-width="0.8"/>
<line x1="203.6" y1="489.93" x2="207.8" y2="489.93" stroke="#b3151b" stroke-width="0.8"/>
<line x1="203.6" y1="496.86" x2="207.8" y2="496.86" stroke="#b3151b" stroke-width="0.8"/>
<line x1="216.4" y1="487.86" x2="216.4" y2="496.16" stroke="#b3151b" stroke-width="0.8"/>
<line x1="214.3" y1="487.86" x2="218.5" y2="487.86" stroke="#b3151b" stroke-width="0.8"/>
<line x1="214.3" y1="496.16" x2="218.5" y2="496.16" stroke="#b3151b" stroke-width="0.8"/>
<line x1="227.1" y1="486.47" x2="227.1" y2="496.17" stroke="#b3151b" stroke-width="0.8"/>
<line x1="225" y1="486.47" x2="229.2" y2="486.47" stroke="#b3151b" stroke-width="0.8"/>
<line x1="225" y1="496.17" x2="229.2" y2="496.17" stroke="#b3151b" stroke-width="0.8"/>
<path d="M64.3 503.08L66.6 498.94L68.9 503.08Z" fill="#b3151b"/>
<path d="M75 501.7L77.3 497.56L79.6 501.7Z" fill="#b3151b"/>
<path d="M85.7 500.31L88 496.17L90.3 500.31Z" fill="#b3151b"/>
<path d="M96.4 499.62L98.7 495.48L101 499.62Z" fill="#b3151b"/>
<path d="M107.1 501.7L109.4 497.56L111.7 501.7Z" fill="#b3151b"/>
<path d="M117.8 499.62L120.1 495.48L122.4 499.62Z" fill="#b3151b"/>
<path d="M128.5 498.93L130.8 494.79L133.1 498.93Z" fill="#b3151b"/>
<path d="M139.2 498.23L141.5 494.09L143.8 498.23Z" fill="#b3151b"/>
<path d="M149.9 498.93L152.2 494.79L154.5 498.93Z" fill="#b3151b"/>
<path d="M160.6 497.54L162.9 493.4L165.2 497.54Z" fill="#b3151b"/>
<path d="M171.3 495.74L173.6 491.6L175.9 495.74Z" fill="#b3151b"/>
<path d="M182 495.46L184.3 491.32L186.6 495.46Z" fill="#b3151b"/>
<path d="M192.7 495.46L195 491.32L197.3 495.46Z" fill="#b3151b"/>
<path d="M203.4 495.46L205.7 491.32L208 495.46Z" fill="#b3151b"/>
<path d="M214.1 494.08L216.4 489.94L218.7 494.08Z" fill="#b3151b"/>
<path d="M224.8 493.39L227.1 489.25L229.4 493.39Z" fill="#b3151b"/>
<polyline points="66.6,501.01 77.3,500.04 88,498.24 98.7,495.47 109.4,490.62 120.1,485.08 130.8,480.65 141.5,475.11 152.2,470.54 162.9,460.85 173.6,456.28 184.3,452.95 195,449.07 205.7,444.23 216.4,441.46 227.1,437.3" fill="none" stroke="#000" stroke-width="0.85"/>
<line x1="66.6" y1="499.63" x2="66.6" y2="502.4" stroke="#000" stroke-width="0.8"/>
<line x1="64.5" y1="499.63" x2="68.7" y2="499.63" stroke="#000" stroke-width="0.8"/>
<line x1="64.5" y1="502.4" x2="68.7" y2="502.4" stroke="#000" stroke-width="0.8"/>
<line x1="77.3" y1="498.66" x2="77.3" y2="501.43" stroke="#000" stroke-width="0.8"/>
<line x1="75.2" y1="498.66" x2="79.4" y2="498.66" stroke="#000" stroke-width="0.8"/>
<line x1="75.2" y1="501.43" x2="79.4" y2="501.43" stroke="#000" stroke-width="0.8"/>
<line x1="88" y1="496.86" x2="88" y2="499.63" stroke="#000" stroke-width="0.8"/>
<line x1="85.9" y1="496.86" x2="90.1" y2="496.86" stroke="#000" stroke-width="0.8"/>
<line x1="85.9" y1="499.63" x2="90.1" y2="499.63" stroke="#000" stroke-width="0.8"/>
<line x1="98.7" y1="494.09" x2="98.7" y2="496.86" stroke="#000" stroke-width="0.8"/>
<line x1="96.6" y1="494.09" x2="100.8" y2="494.09" stroke="#000" stroke-width="0.8"/>
<line x1="96.6" y1="496.86" x2="100.8" y2="496.86" stroke="#000" stroke-width="0.8"/>
<line x1="109.4" y1="488.55" x2="109.4" y2="492.7" stroke="#000" stroke-width="0.8"/>
<line x1="107.3" y1="488.55" x2="111.5" y2="488.55" stroke="#000" stroke-width="0.8"/>
<line x1="107.3" y1="492.7" x2="111.5" y2="492.7" stroke="#000" stroke-width="0.8"/>
<line x1="120.1" y1="482.31" x2="120.1" y2="487.85" stroke="#000" stroke-width="0.8"/>
<line x1="118" y1="482.31" x2="122.2" y2="482.31" stroke="#000" stroke-width="0.8"/>
<line x1="118" y1="487.85" x2="122.2" y2="487.85" stroke="#000" stroke-width="0.8"/>
<line x1="130.8" y1="477.19" x2="130.8" y2="484.12" stroke="#000" stroke-width="0.8"/>
<line x1="128.7" y1="477.19" x2="132.9" y2="477.19" stroke="#000" stroke-width="0.8"/>
<line x1="128.7" y1="484.12" x2="132.9" y2="484.12" stroke="#000" stroke-width="0.8"/>
<line x1="141.5" y1="470.27" x2="141.5" y2="479.96" stroke="#000" stroke-width="0.8"/>
<line x1="139.4" y1="470.27" x2="143.6" y2="470.27" stroke="#000" stroke-width="0.8"/>
<line x1="139.4" y1="479.96" x2="143.6" y2="479.96" stroke="#000" stroke-width="0.8"/>
<line x1="152.2" y1="467.08" x2="152.2" y2="474" stroke="#000" stroke-width="0.8"/>
<line x1="150.1" y1="467.08" x2="154.3" y2="467.08" stroke="#000" stroke-width="0.8"/>
<line x1="150.1" y1="474" x2="154.3" y2="474" stroke="#000" stroke-width="0.8"/>
<line x1="162.9" y1="455.31" x2="162.9" y2="466.39" stroke="#000" stroke-width="0.8"/>
<line x1="160.8" y1="455.31" x2="165" y2="455.31" stroke="#000" stroke-width="0.8"/>
<line x1="160.8" y1="466.39" x2="165" y2="466.39" stroke="#000" stroke-width="0.8"/>
<line x1="173.6" y1="451.43" x2="173.6" y2="461.12" stroke="#000" stroke-width="0.8"/>
<line x1="171.5" y1="451.43" x2="175.7" y2="451.43" stroke="#000" stroke-width="0.8"/>
<line x1="171.5" y1="461.12" x2="175.7" y2="461.12" stroke="#000" stroke-width="0.8"/>
<line x1="184.3" y1="448.11" x2="184.3" y2="457.8" stroke="#000" stroke-width="0.8"/>
<line x1="182.2" y1="448.11" x2="186.4" y2="448.11" stroke="#000" stroke-width="0.8"/>
<line x1="182.2" y1="457.8" x2="186.4" y2="457.8" stroke="#000" stroke-width="0.8"/>
<line x1="195" y1="442.84" x2="195" y2="455.31" stroke="#000" stroke-width="0.8"/>
<line x1="192.9" y1="442.84" x2="197.1" y2="442.84" stroke="#000" stroke-width="0.8"/>
<line x1="192.9" y1="455.31" x2="197.1" y2="455.31" stroke="#000" stroke-width="0.8"/>
<line x1="205.7" y1="438" x2="205.7" y2="450.46" stroke="#000" stroke-width="0.8"/>
<line x1="203.6" y1="438" x2="207.8" y2="438" stroke="#000" stroke-width="0.8"/>
<line x1="203.6" y1="450.46" x2="207.8" y2="450.46" stroke="#000" stroke-width="0.8"/>
<line x1="216.4" y1="435.22" x2="216.4" y2="447.69" stroke="#000" stroke-width="0.8"/>
<line x1="214.3" y1="435.22" x2="218.5" y2="435.22" stroke="#000" stroke-width="0.8"/>
<line x1="214.3" y1="447.69" x2="218.5" y2="447.69" stroke="#000" stroke-width="0.8"/>
<line x1="227.1" y1="430.38" x2="227.1" y2="444.23" stroke="#000" stroke-width="0.8"/>
<line x1="225" y1="430.38" x2="229.2" y2="430.38" stroke="#000" stroke-width="0.8"/>
<line x1="225" y1="444.23" x2="229.2" y2="444.23" stroke="#000" stroke-width="0.8"/>
<path d="M64.3 503.08L66.6 498.94L68.9 503.08Z" fill="#000"/>
<path d="M75 502.11L77.3 497.97L79.6 502.11Z" fill="#000"/>
<path d="M85.7 500.31L88 496.17L90.3 500.31Z" fill="#000"/>
<path d="M96.4 497.54L98.7 493.4L101 497.54Z" fill="#000"/>
<path d="M107.1 492.69L109.4 488.56L111.7 492.69Z" fill="#000"/>
<path d="M117.8 487.15L120.1 483.01L122.4 487.15Z" fill="#000"/>
<path d="M128.5 482.72L130.8 478.58L133.1 482.72Z" fill="#000"/>
<path d="M139.2 477.18L141.5 473.04L143.8 477.18Z" fill="#000"/>
<path d="M149.9 472.61L152.2 468.47L154.5 472.61Z" fill="#000"/>
<path d="M160.6 462.92L162.9 458.78L165.2 462.92Z" fill="#000"/>
<path d="M171.3 458.35L173.6 454.21L175.9 458.35Z" fill="#000"/>
<path d="M182 455.02L184.3 450.88L186.6 455.02Z" fill="#000"/>
<path d="M192.7 451.14L195 447L197.3 451.14Z" fill="#000"/>
<path d="M203.4 446.3L205.7 442.16L208 446.3Z" fill="#000"/>
<path d="M214.1 443.53L216.4 439.39L218.7 443.53Z" fill="#000"/>
<path d="M224.8 439.37L227.1 435.23L229.4 439.37Z" fill="#000"/>
<line x1="68.7" y1="416.2" x2="80.4" y2="416.2" stroke="#000" stroke-width="0.65"/>
<path d="M72.6 417.95L74.55 414.44L76.5 417.95Z" fill="#000"/>
<text x="87.6" y="420.4" font-size="9.15" fill="#111">E8+2RNF4(-DOX)</text>
<line x1="68.7" y1="430.3" x2="80.4" y2="430.3" stroke="#b3151b" stroke-width="0.65"/>
<path d="M72.6 432.06L74.55 428.55L76.5 432.06Z" fill="#b3151b"/>
<text x="87.6" y="434.3" font-size="9.15" fill="#111">E8+2RNF4(+DOX)</text>
<line x1="167.5" y1="414.4" x2="167.5" y2="433.5" stroke="#333" stroke-width="0.9"/>
<text transform="translate(171 427.8) scale(1.0 1)" font-size="10.5" fill="#111"><tspan font-style="italic">P</tspan>&lt;0,0001</text>
<text x="266.2" y="401.1" font-size="20">H</text>
<text x="306" y="437.4" font-size="11.5" fill="#111">92.1 (E8-2RNF4)</text>
<text x="302.4" y="457.3" font-size="11.7" text-anchor="end" fill="#111">-DOX</text>
<text x="302.4" y="498.6" font-size="11.7" text-anchor="end" fill="#111">+DOX</text>
<defs><linearGradient id="phg" x1="0" y1="0" x2="1" y2="0"><stop offset="0" stop-color="#c9ccd4"/><stop offset="0.12" stop-color="#d0d3da"/><stop offset="0.3" stop-color="#d3d5db"/><stop offset="0.45" stop-color="#d8d9de"/><stop offset="0.55" stop-color="#d2d4d9"/><stop offset="0.7" stop-color="#d0d3d9"/><stop offset="0.85" stop-color="#d3d6dd"/><stop offset="1" stop-color="#cdd1d9"/></linearGradient><linearGradient id="phv" x1="0" y1="0" x2="0" y2="1"><stop offset="0" stop-color="#a8aab2" stop-opacity="0.8"/><stop offset="0.03" stop-color="#c0c2ca" stop-opacity="0.3"/><stop offset="0.1" stop-color="#c8cad2" stop-opacity="0"/><stop offset="0.6" stop-color="#ffffff" stop-opacity="0.08"/><stop offset="1" stop-color="#c8cad2" stop-opacity="0"/></linearGradient><filter id="tb" x="-20%" y="-20%" width="140%" height="140%"><feGaussianBlur stdDeviation="0.45"/></filter></defs>
<rect x="308" y="442.4" width="216.8" height="71.4" fill="url(#phg)"/>
<rect x="308" y="442.4" width="216.8" height="71.4" fill="url(#phv)"/>
<g filter="url(#tb)"><ellipse cx="319.75" cy="451.8" rx="7.87" ry="6.51" fill="#4c3c3e"/><ellipse cx="319.18" cy="450.42" rx="4.61" ry="3.99" fill="#5a4648"/><ellipse cx="322.58" cy="454.23" rx="3.91" ry="4.25" fill="#3e2e32"/><ellipse cx="319.79" cy="450.66" rx="4.1" ry="4.23" fill="#33252a"/><ellipse cx="323.05" cy="455.37" rx="4.17" ry="3.15" fill="#5a4648"/><ellipse cx="321.35" cy="454.67" rx="4.73" ry="3.25" fill="#5a4648"/><ellipse cx="318.41" cy="450.63" rx="3.6" ry="3.66" fill="#5a4648"/><circle cx="322.46" cy="454.36" r="1.4" fill="#8c7c7e" opacity="0.8"/><circle cx="319.6" cy="453.8" r="1.4" fill="#8c7c7e" opacity="0.8"/><circle cx="318.18" cy="453.47" r="1.4" fill="#8c7c7e" opacity="0.8"/></g>
<g filter="url(#tb)"><ellipse cx="349.55" cy="451.7" rx="7.3" ry="3.47" fill="#4c3c3e"/><ellipse cx="351.99" cy="450.99" rx="2.98" ry="2.2" fill="#3e2e32"/><ellipse cx="348.71" cy="450.67" rx="4.12" ry="1.87" fill="#3e2e32"/><ellipse cx="348.9" cy="452.46" rx="2.79" ry="2.19" fill="#33252a"/><ellipse cx="351.72" cy="452.06" rx="4.01" ry="1.69" fill="#33252a"/><ellipse cx="346.49" cy="451.88" rx="4.38" ry="1.49" fill="#3e2e32"/><ellipse cx="351.18" cy="451.77" rx="3.99" ry="2.31" fill="#3e2e32"/><circle cx="352.22" cy="451.85" r="0.88" fill="#8c7c7e" opacity="0.8"/><circle cx="348.61" cy="452.22" r="0.88" fill="#8c7c7e" opacity="0.8"/><circle cx="351.14" cy="453.02" r="0.88" fill="#8c7c7e" opacity="0.8"/></g>
<g filter="url(#tb)"><ellipse cx="378.3" cy="452.3" rx="5.71" ry="4.04" fill="#4c3c3e"/><ellipse cx="376.13" cy="450.99" rx="3.51" ry="2.67" fill="#33252a"/><ellipse cx="377.24" cy="452.7" rx="3.19" ry="2.38" fill="#5a4648"/><ellipse cx="382.05" cy="452.81" rx="2.19" ry="2.39" fill="#5a4648"/><ellipse cx="377.64" cy="454.07" rx="3.37" ry="2.22" fill="#5a4648"/><ellipse cx="375.06" cy="452.12" rx="2.53" ry="1.74" fill="#3e2e32"/><ellipse cx="380.23" cy="450.88" rx="3.44" ry="2.13" fill="#33252a"/><circle cx="377.04" cy="450.68" r="0.98" fill="#8c7c7e" opacity="0.8"/><circle cx="377.47" cy="451.06" r="0.98" fill="#8c7c7e" opacity="0.8"/><circle cx="378.35" cy="454" r="0.98" fill="#8c7c7e" opacity="0.8"/></g>
<g filter="url(#tb)"><ellipse cx="408.05" cy="451.45" rx="5.76" ry="4.85" fill="#4c3c3e"/><ellipse cx="407.14" cy="451.95" rx="2.5" ry="2.71" fill="#5a4648"/><ellipse cx="410.51" cy="451.31" rx="3" ry="2.78" fill="#5a4648"/><ellipse cx="407.84" cy="452.69" rx="2.5" ry="3.26" fill="#3e2e32"/><ellipse cx="406.3" cy="450.05" rx="2.73" ry="3.09" fill="#5a4648"/><ellipse cx="409.87" cy="449.38" rx="2.72" ry="2.06" fill="#5a4648"/><ellipse cx="410.5" cy="450.48" rx="2.22" ry="2.99" fill="#5a4648"/><circle cx="409.1" cy="453" r="1.12" fill="#8c7c7e" opacity="0.8"/><circle cx="409.08" cy="453.17" r="1.12" fill="#8c7c7e" opacity="0.8"/><circle cx="407.55" cy="452.68" r="1.12" fill="#8c7c7e" opacity="0.8"/></g>
<g filter="url(#tb)"><ellipse cx="435.4" cy="451.85" rx="5.04" ry="3.61" fill="#4c3c3e"/><ellipse cx="434.76" cy="450.34" rx="2.19" ry="1.61" fill="#33252a"/><ellipse cx="434" cy="453.59" rx="1.91" ry="2.02" fill="#33252a"/><ellipse cx="434.02" cy="450.68" rx="2.17" ry="2.01" fill="#33252a"/><ellipse cx="432.53" cy="452.25" rx="2.22" ry="2.38" fill="#3e2e32"/><circle cx="436.66" cy="450.92" r="0.91" fill="#8c7c7e" opacity="0.8"/><circle cx="434.6" cy="452.24" r="0.91" fill="#8c7c7e" opacity="0.8"/></g>
<g filter="url(#tb)"><ellipse cx="462.85" cy="452.8" rx="4.9" ry="3.75" fill="#4c3c3e"/><ellipse cx="464.33" cy="454.27" rx="2.6" ry="2.28" fill="#5a4648"/><ellipse cx="464.53" cy="453.83" rx="2.63" ry="2.08" fill="#33252a"/><ellipse cx="460.94" cy="452.71" rx="2.63" ry="2.43" fill="#33252a"/><ellipse cx="461.45" cy="453.85" rx="2.3" ry="1.68" fill="#3e2e32"/><circle cx="461.95" cy="454.12" r="0.93" fill="#8c7c7e" opacity="0.8"/><circle cx="463.93" cy="451.72" r="0.93" fill="#8c7c7e" opacity="0.8"/></g>
<g filter="url(#tb)"><ellipse cx="487.45" cy="453" rx="4.32" ry="2.8" fill="#4c3c3e"/><ellipse cx="487.39" cy="452.43" rx="2.48" ry="1.76" fill="#33252a"/><ellipse cx="489.99" cy="453.64" rx="1.78" ry="1.6" fill="#3e2e32"/><ellipse cx="488.69" cy="453.72" rx="2.45" ry="1.37" fill="#3e2e32"/><ellipse cx="485.91" cy="453.18" rx="2.6" ry="1.56" fill="#5a4648"/><circle cx="488.55" cy="452.45" r="0.77" fill="#8c7c7e" opacity="0.8"/><circle cx="488.54" cy="453.44" r="0.77" fill="#8c7c7e" opacity="0.8"/></g>
<g filter="url(#tb)"><ellipse cx="510.1" cy="453.45" rx="4.75" ry="1.81" fill="#4c3c3e"/><ellipse cx="510.94" cy="452.53" rx="2.17" ry="0.83" fill="#5a4648"/><ellipse cx="512.6" cy="452.95" rx="1.89" ry="1.03" fill="#33252a"/><ellipse cx="507.93" cy="453.28" rx="2.3" ry="0.79" fill="#5a4648"/><ellipse cx="510.87" cy="454.38" rx="1.93" ry="0.86" fill="#5a4648"/><circle cx="510.44" cy="452.77" r="0.6" fill="#8c7c7e" opacity="0.8"/><circle cx="509" cy="453.54" r="0.6" fill="#8c7c7e" opacity="0.8"/></g>
<g filter="url(#tb)"><ellipse cx="319.6" cy="490.85" rx="4.94" ry="4.56" fill="#4c3c3e"/><ellipse cx="320.76" cy="492.54" rx="2.97" ry="2.71" fill="#3e2e32"/><ellipse cx="317.64" cy="490.19" rx="2.69" ry="2.9" fill="#33252a"/><ellipse cx="316.83" cy="489.04" rx="1.89" ry="2.39" fill="#3e2e32"/><circle cx="321.45" cy="490.66" r="1.07" fill="#8c7c7e" opacity="0.8"/></g>
<g filter="url(#tb)"><ellipse cx="349.85" cy="490.45" rx="4.99" ry="3.33" fill="#4c3c3e"/><ellipse cx="350.69" cy="490.39" rx="2.08" ry="1.98" fill="#33252a"/><ellipse cx="351.79" cy="489.37" rx="3.11" ry="1.8" fill="#5a4648"/><ellipse cx="349.07" cy="490.81" rx="2.17" ry="1.4" fill="#33252a"/><circle cx="348.37" cy="491.15" r="0.86" fill="#8c7c7e" opacity="0.8"/></g>
<g filter="url(#tb)"><ellipse cx="376.5" cy="489.5" rx="3.5" ry="3.09" fill="#4c3c3e"/><ellipse cx="375.07" cy="491.34" rx="2.15" ry="1.41" fill="#33252a"/><ellipse cx="377.8" cy="490.3" rx="1.93" ry="1.88" fill="#33252a"/><ellipse cx="375.73" cy="489.74" rx="1.52" ry="2.05" fill="#5a4648"/><circle cx="377.04" cy="490.6" r="0.82" fill="#8c7c7e" opacity="0.8"/></g>
<g filter="url(#tb)"><ellipse cx="405.7" cy="489.95" rx="3.5" ry="2.09" fill="#4c3c3e"/><ellipse cx="406.9" cy="489.27" rx="2.12" ry="1.38" fill="#5a4648"/><ellipse cx="405.11" cy="490.46" rx="1.58" ry="1.08" fill="#3e2e32"/><ellipse cx="405.52" cy="488.81" rx="1.7" ry="1" fill="#33252a"/><circle cx="407.11" cy="489.95" r="0.65" fill="#8c7c7e" opacity="0.8"/></g>
<g filter="url(#tb)"><ellipse cx="432.5" cy="490.55" rx="3.41" ry="2.28" fill="#4c3c3e"/><ellipse cx="431.44" cy="491.5" rx="1.88" ry="1.44" fill="#33252a"/><ellipse cx="433.38" cy="491.59" rx="1.42" ry="1.35" fill="#5a4648"/><ellipse cx="430.52" cy="490.49" rx="1.52" ry="1.49" fill="#5a4648"/><circle cx="433.89" cy="489.81" r="0.68" fill="#8c7c7e" opacity="0.8"/></g>
<g filter="url(#tb)"><ellipse cx="460.55" cy="491.15" rx="2.98" ry="2.09" fill="#4c3c3e"/><ellipse cx="461.72" cy="490.67" rx="1.4" ry="1.37" fill="#3e2e32"/><ellipse cx="461.92" cy="490.52" rx="1.59" ry="0.9" fill="#3e2e32"/><ellipse cx="461.67" cy="491.34" rx="1.54" ry="0.93" fill="#5a4648"/><circle cx="461.37" cy="491.17" r="0.65" fill="#8c7c7e" opacity="0.8"/></g>
<g filter="url(#tb)"><ellipse cx="486.45" cy="491.75" rx="2.21" ry="2.09" fill="#4c3c3e"/><ellipse cx="485.83" cy="491.99" rx="1.24" ry="0.99" fill="#33252a"/><ellipse cx="486.39" cy="492.13" rx="0.9" ry="1.38" fill="#5a4648"/><ellipse cx="487.53" cy="492.71" rx="1.11" ry="1.22" fill="#3e2e32"/><circle cx="486.85" cy="491.23" r="0.65" fill="#8c7c7e" opacity="0.8"/></g>
<g filter="url(#tb)"><ellipse cx="508.25" cy="492.05" rx="1.63" ry="2.38" fill="#4c3c3e"/><ellipse cx="509" cy="491.39" rx="0.88" ry="1.42" fill="#33252a"/><ellipse cx="507.76" cy="492.84" rx="0.72" ry="1.32" fill="#3e2e32"/><ellipse cx="508.23" cy="491.23" rx="0.69" ry="1.55" fill="#5a4648"/><circle cx="508.35" cy="491.21" r="0.57" fill="#8c7c7e" opacity="0.8"/></g>
<g filter="url(#tb)"><ellipse cx="319.3" cy="447.6" rx="3.4" ry="2.4" fill="#35262a"/><ellipse cx="315" cy="454.5" rx="3.6" ry="3.6" fill="#2f2124"/><ellipse cx="346.2" cy="451.8" rx="4.2" ry="3.5" fill="#35262a"/><ellipse cx="353" cy="451.2" rx="4" ry="3.7" fill="#2f2124"/></g>
<rect x="484.8" y="499.9" width="40" height="14" fill="#d9dbdf"/>
<rect x="488.9" y="500.2" width="35.9" height="5.4" fill="#b9bbbf"/>
<line x1="485.6" y1="500" x2="485.6" y2="513.9" stroke="#eceef0" stroke-width="1"/>
<line x1="489.8" y1="505.6" x2="489.8" y2="507.6" stroke="#8a8c92" stroke-width="0.4"/>
<line x1="491.63" y1="505.6" x2="491.63" y2="506.6" stroke="#8a8c92" stroke-width="0.4"/>
<line x1="493.46" y1="505.6" x2="493.46" y2="506.6" stroke="#8a8c92" stroke-width="0.4"/>
<line x1="495.29" y1="505.6" x2="495.29" y2="506.6" stroke="#8a8c92" stroke-width="0.4"/>
<line x1="497.12" y1="505.6" x2="497.12" y2="506.6" stroke="#8a8c92" stroke-width="0.4"/>
<line x1="498.95" y1="505.6" x2="498.95" y2="507.6" stroke="#8a8c92" stroke-width="0.4"/>
<line x1="500.78" y1="505.6" x2="500.78" y2="506.6" stroke="#8a8c92" stroke-width="0.4"/>
<line x1="502.61" y1="505.6" x2="502.61" y2="506.6" stroke="#8a8c92" stroke-width="0.4"/>
<line x1="504.44" y1="505.6" x2="504.44" y2="506.6" stroke="#8a8c92" stroke-width="0.4"/>
<line x1="506.27" y1="505.6" x2="506.27" y2="506.6" stroke="#8a8c92" stroke-width="0.4"/>
<line x1="508.1" y1="505.6" x2="508.1" y2="507.6" stroke="#8a8c92" stroke-width="0.4"/>
<line x1="509.93" y1="505.6" x2="509.93" y2="506.6" stroke="#8a8c92" stroke-width="0.4"/>
<line x1="511.76" y1="505.6" x2="511.76" y2="506.6" stroke="#8a8c92" stroke-width="0.4"/>
<line x1="513.59" y1="505.6" x2="513.59" y2="506.6" stroke="#8a8c92" stroke-width="0.4"/>
<line x1="515.42" y1="505.6" x2="515.42" y2="506.6" stroke="#8a8c92" stroke-width="0.4"/>
<line x1="517.25" y1="505.6" x2="517.25" y2="507.6" stroke="#8a8c92" stroke-width="0.4"/>
<line x1="519.08" y1="505.6" x2="519.08" y2="506.6" stroke="#8a8c92" stroke-width="0.4"/>
<line x1="520.91" y1="505.6" x2="520.91" y2="506.6" stroke="#8a8c92" stroke-width="0.4"/>
<text x="489.8" y="511.2" font-size="2.9" text-anchor="middle" fill="#62646a">0</text>
<text x="502.3" y="511.2" font-size="2.9" text-anchor="middle" fill="#62646a">1cm</text>
<text x="510.5" y="511.2" font-size="2.9" text-anchor="middle" fill="#62646a">2</text>
<text x="521" y="511.2" font-size="2.9" text-anchor="middle" fill="#62646a">3</text>
<line x1="587.2" y1="531" x2="587.2" y2="404" stroke="#1a1a1a" stroke-width="1.3"/>
<line x1="587.2" y1="531" x2="669.7" y2="531" stroke="#1a1a1a" stroke-width="1.3"/>
<line x1="583.9" y1="531" x2="587.2" y2="531" stroke="#1a1a1a" stroke-width="1.3"/>
<text transform="translate(582.8 534.5) scale(1.0 1.12)" font-size="9.3" text-anchor="end" font-weight="bold">0.0</text>
<line x1="583.9" y1="505.64" x2="587.2" y2="505.64" stroke="#1a1a1a" stroke-width="1.3"/>
<text transform="translate(582.8 509.14) scale(1.0 1.12)" font-size="9.3" text-anchor="end" font-weight="bold">0.2</text>
<line x1="583.9" y1="480.28" x2="587.2" y2="480.28" stroke="#1a1a1a" stroke-width="1.3"/>
<text transform="translate(582.8 483.78) scale(1.0 1.12)" font-size="9.3" text-anchor="end" font-weight="bold">0.4</text>
<line x1="583.9" y1="454.92" x2="587.2" y2="454.92" stroke="#1a1a1a" stroke-width="1.3"/>
<text transform="translate(582.8 458.42) scale(1.0 1.12)" font-size="9.3" text-anchor="end" font-weight="bold">0.6</text>
<line x1="583.9" y1="429.56" x2="587.2" y2="429.56" stroke="#1a1a1a" stroke-width="1.3"/>
<text transform="translate(582.8 433.06) scale(1.0 1.12)" font-size="9.3" text-anchor="end" font-weight="bold">0.8</text>
<line x1="583.9" y1="404.2" x2="587.2" y2="404.2" stroke="#1a1a1a" stroke-width="1.3"/>
<text transform="translate(582.8 407.7) scale(1.0 1.12)" font-size="9.3" text-anchor="end" font-weight="bold">1.0</text>
<line x1="607.6" y1="531" x2="607.6" y2="534.8" stroke="#1a1a1a" stroke-width="1.3"/>
<line x1="648.7" y1="531" x2="648.7" y2="534.8" stroke="#1a1a1a" stroke-width="1.3"/>
<text x="607.6" y="544.6" font-size="9.6" text-anchor="middle" fill="#111">-</text>
<text x="648.7" y="545" font-size="9.6" text-anchor="middle" fill="#111">+</text>
<text x="575.2" y="547.2" font-size="9.2" fill="#111">DOX</text>
<text transform="translate(558.2 464) scale(1.0 1) rotate(-90)" font-size="11.5" text-anchor="middle" fill="#111">Tumor weight (g)</text>
<text transform="translate(605.1 410.1) scale(1.0 1)" font-size="10.25" fill="#111"><tspan font-style="italic">P</tspan>=0.0098</text>
<line x1="608.4" y1="416.4" x2="645.2" y2="416.4" stroke="#333" stroke-width="0.9"/>
<line x1="608.4" y1="413.8" x2="608.4" y2="419.2" stroke="#333" stroke-width="0.9"/>
<line x1="645.2" y1="413.8" x2="645.2" y2="419.2" stroke="#333" stroke-width="0.9"/>
<circle cx="607.8" cy="432.1" r="2.35" fill="#000"/>
<circle cx="602.4" cy="469.6" r="2.35" fill="#000"/>
<circle cx="612.7" cy="472.2" r="2.35" fill="#000"/>
<circle cx="607.6" cy="482.7" r="2.35" fill="#000"/>
<circle cx="607.6" cy="501.5" r="2.35" fill="#000"/>
<circle cx="607.6" cy="507" r="2.35" fill="#000"/>
<circle cx="602.3" cy="514.6" r="2.35" fill="#000"/>
<circle cx="612.6" cy="514.2" r="2.35" fill="#000"/>
<line x1="594.2" y1="486.7" x2="621.1" y2="486.7" stroke="#000" stroke-width="1.5"/>
<line x1="601" y1="476.3" x2="614.6" y2="476.3" stroke="#000" stroke-width="1.5"/>
<line x1="601" y1="496.9" x2="614.6" y2="496.9" stroke="#000" stroke-width="1.5"/>
<line x1="607.6" y1="476.3" x2="607.6" y2="496.9" stroke="#000" stroke-width="1.5"/>
<circle cx="648.7" cy="494.6" r="2.35" fill="#ac0d10"/>
<circle cx="648.7" cy="505.7" r="2.35" fill="#ac0d10"/>
<circle cx="637.6" cy="522.3" r="2.35" fill="#ac0d10"/>
<circle cx="652.4" cy="521.5" r="2.35" fill="#ac0d10"/>
<circle cx="644.8" cy="526.2" r="2.35" fill="#ac0d10"/>
<circle cx="637.6" cy="529.6" r="2.35" fill="#ac0d10"/>
<circle cx="652.4" cy="529.3" r="2.35" fill="#ac0d10"/>
<circle cx="660.2" cy="527.8" r="2.35" fill="#ac0d10"/>
<line x1="635.2" y1="519.5" x2="662.5" y2="519.5" stroke="#ac0d10" stroke-width="1.5"/>
<line x1="642.2" y1="515.1" x2="656" y2="515.1" stroke="#ac0d10" stroke-width="1.5"/>
<line x1="642.2" y1="523.9" x2="656" y2="523.9" stroke="#ac0d10" stroke-width="1.5"/>
<line x1="648.7" y1="515.1" x2="648.7" y2="523.9" stroke="#ac0d10" stroke-width="1.5"/>
<rect x="3.9" y="557" width="1.9" height="14.6" fill="#000"/>
<text x="112.3" y="590.3" font-size="12.4" text-anchor="middle" fill="#111">HA</text>
<text x="190" y="590.3" font-size="12.8" text-anchor="middle" fill="#111">YAP</text>
<text x="266.3" y="590.3" font-size="12.6" text-anchor="middle" fill="#111">Ki-67</text>
<text x="70.1" y="641.8" font-size="10.6" text-anchor="end" fill="#111">- DOX</text>
<text x="70" y="715.9" font-size="10.6" text-anchor="end" fill="#111">+ DOX</text>
<g transform="translate(75.2 596)"><rect width="74.6" height="75" fill="#e2dbe6"/><g filter="url(#soft)">
<rect width="74.6" height="75" fill="#e2dbe6"/><g transform="scale(.5)">
<path d="M0 0m71 0h2v2h-2zm-71 3h2v2h-2zm113 0h2v2h-2zm12 1h2v2h-2zm-107 1h2v2h-2zm-15 1h2v2h-2zm39 0h2v2h-2zm-37 1h2v2h-2zm68 0h2v2h-2zm-30 1h2v2h-2zm79 0h2v2h-2zm-98 1h2v2h-2zm18 1h2v2h-2zm61 0h2v2h-2zm-54 1h2v2h-2zm55 0h2v2h-2zm18 0h2v2h-2zm-113 1h2v2h-2zm39 0h2v2h-2zm36 0h2v2h-2zm63 1h2v2h-2zm-141 1h2v2h-2zm25 0h2v2h-2zm73 0h2v2h-2zm26 0h2v2h-2zm-126 1h2v2h-2zm5 0h2v2h-2zm48 0h2v2h-2zm9 0h2v2h-2zm73 0h2v2h-2zm-123 1h2v2h-2zm20 0h2v2h-2zm31 0h2v2h-2zm-60 1h2v2h-2zm59 0h2v2h-2zm13 0h2v2h-2zm41 0h2v2h-2zm11 0h2v2h-2zm-79 2h2v2h-2zm4 0h2v2h-2zm84 0h2v2h-2zm-56 1h2v2h-2zm49 1h2v2h-2zm12 0h2v2h-2zm-73 1h2v2h-2zm14 0h2v2h-2zm26 0h2v2h-2zm-83 1h2v2h-2zm77 0h2v2h-2zm34 0h2v2h-2zm-87 1h2v2h-2zm57 0h2v2h-2zm33 0h2v2h-2zm-125 1h2v2h-2zm90 1h2v2h-2zm13 1h2v2h-2zm-86 1h2v2h-2zm-33 1h2v2h-2zm23 0h2v2h-2zm46 0h2v2h-2zm2 0h2v2h-2zm-57 1h2v2h-2zm66 0h2v2h-2zm30 0h2v2h-2zm-89 1h2v2h-2zm76 1h2v2h-2zm-62 1h2v2h-2zm72 0h2v2h-2zm31 0h2v2h-2zm-12 1h2v2h-2zm-116 1h2v2h-2zm26 0h2v2h-2zm-16 1h2v2h-2zm30 0h2v2h-2zm17 1h2v2h-2zm44 0h2v2h-2zm16 0h2v2h-2zm-119 1h2v2h-2zm74 1h2v2h-2zm34 0h2v2h-2zm-101 1h2v2h-2zm17 0h2v2h-2zm67 1h2v2h-2zm-89 1h2v2h-2zm71 0h2v2h-2zm31 0h2v2h-2zm-114 1h2v2h-2zm12 0h2v2h-2zm58 0h2v2h-2zm25 0h2v2h-2zm38 0h2v2h-2zm-88 1h2v2h-2zm44 0h2v2h-2zm1 0h2v2h-2zm26 0h2v2h-2zm5 0h2v2h-2zm-78 1h2v2h-2zm-43 1h2v2h-2zm111 0h2v2h-2zm15 0h2v2h-2zm4 1h2v2h-2zm-27 2h2v2h-2zm18 0h2v2h-2zm-78 1h2v2h-2zm27 0h2v2h-2zm47 0h2v2h-2zm1 0h2v2h-2zm19 0h2v2h-2zm-58 1h2v2h-2zm-75 1h2v2h-2zm32 0h2v2h-2zm72 0h2v2h-2zm-101 1h2v2h-2zm37 0h2v2h-2zm87 1h2v2h-2zm-67 1h2v2h-2zm2 0h2v2h-2zm4 0h2v2h-2zm64 0h2v2h-2zm1 0h2v2h-2zm-104 1h2v2h-2zm9 0h2v2h-2zm65 0h2v2h-2zm13 0h2v2h-2zm21 0h2v2h-2zm-121 1h2v2h-2zm99 0h2v2h-2zm20 0h2v2h-2zm-80 2h2v2h-2zm37 0h2v2h-2zm-92 1h2v2h-2zm7 0h2v2h-2zm47 0h2v2h-2zm-51 1h2v2h-2zm58 0h2v2h-2zm75 0h2v2h-2zm-119 1h2v2h-2zm16 0h2v2h-2zm21 0h2v2h-2zm33 0h2v2h-2zm17 0h2v2h-2zm-101 1h2v2h-2zm57 0h2v2h-2zm18 0h2v2h-2zm-15 1h2v2h-2zm-43 1h2v2h-2zm25 0h2v2h-2zm1 0h2v2h-2zm1 0h2v2h-2zm17 0h2v2h-2zm-28 1h2v2h-2zm39 0h2v2h-2zm-60 1h2v2h-2zm9 0h2v2h-2zm43 0h2v2h-2zm-53 2h2v2h-2zm30 0h2v2h-2zm12 0h2v2h-2zm41 0h2v2h-2zm32 0h2v2h-2zm-64 1h2v2h-2zm12 0h2v2h-2zm13 0h2v2h-2zm7 0h2v2h-2zm8 0h2v2h-2zm-94 1h2v2h-2zm15 1h2v2h-2zm56 0h2v2h-2zm-65 1h2v2h-2zm50 0h2v2h-2zm9 0h2v2h-2zm-78 1h2v2h-2zm33 0h2v2h-2zm17 0h2v2h-2zm-21 1h2v2h-2zm11 0h2v2h-2zm41 0h2v2h-2zm39 0h2v2h-2zm-74 1h2v2h-2zm15 0h2v2h-2zm21 0h2v2h-2zm-72 1h2v2h-2zm7 0h2v2h-2zm87 1h2v2h-2zm25 0h2v2h-2zm-11 1h2v2h-2zm12 0h2v2h-2zm-118 1h2v2h-2zm18 0h2v2h-2zm62 0h2v2h-2zm-12 3h2v2h-2zm1 0h2v2h-2zm-16 1h2v2h-2zm35 0h2v2h-2zm-56 1h2v2h-2zm5 0h2v2h-2zm19 0h2v2h-2zm23 0h2v2h-2zm51 0h2v2h-2zm-85 1h2v2h-2zm4 0h2v2h-2zm54 1h2v2h-2zm-102 1h2v2h-2zm24 0h2v2h-2zm11 0h2v2h-2zm59 0h2v2h-2zm-48 1h2v2h-2zm-54 1h2v2h-2zm83 0h2v2h-2zm24 0h2v2h-2zm-109 1h2v2h-2zm43 0h2v2h-2zm74 1h2v2h-2zm-107 2h2v2h-2zm128 0h2v2h-2zm-75 1h2v2h-2zm-46 1h2v2h-2zm58 0h2v2h-2zm-69 1h2v2h-2zm100 0h2v2h-2zm26 1h2v2h-2zm-109 1h2v2h-2zm74 0h2v2h-2zm8 0h2v2h-2zm-107 1h2v2h-2zm33 0h2v2h-2zm4 0h2v2h-2zm30 0h2v2h-2zm48 0h2v2h-2zm11 0h2v2h-2zm-120 1h2v2h-2zm1 0h2v2h-2zm27 0h2v2h-2zm36 0h2v2h-2zm7 0h2v2h-2zm32 0h2v2h-2zm36 1h2v2h-2zm-44 1h2v2h-2zm-85 1h2v2h-2zm1 0h2v2h-2zm47 0h2v2h-2zm29 0h2v2h-2zm37 1h2v2h-2zm-99 1h2v2h-2zm23 0h2v2h-2zm37 0h2v2h-2zm15 0h2v2h-2zm-34 1h2v2h-2zm14 0h2v2h-2zm17 0h2v2h-2zm-72 1h2v2h-2zm30 0h2v2h-2zm25 0h2v2h-2zm-26 1h2v2h-2zm29 0h2v2h-2zm-75 1h2v2h-2zm52 0h2v2h-2zm13 0h2v2h-2zm64 1h2v2h-2zm-93 1h2v2h-2zm-6 1h2v2h-2zm-1 1h2v2h-2zm5 0h2v2h-2zm20 0h2v2h-2zm19 0h2v2h-2zm21 0h2v2h-2zm38 0h2v2h-2zm-76 1h2v2h-2zm51 0h2v2h-2zm-22 2h2v2h-2zm47 0h2v2h-2zm-145 1h2v2h-2zm114 0h2v2h-2zm-47 1h2v2h-2zm4 0h2v2h-2zm47 0h2v2h-2zm20 0h2v2h-2zm2 0h2v2h-2zm-131 1h2v2h-2zm2 0h2v2h-2zm34 0h2v2h-2zm24 0h2v2h-2zm9 0h2v2h-2zm24 1h2v2h-2zm-22 2h2v2h-2zm26 0h2v2h-2zm11 0h2v2h-2zm23 0h2v2h-2zm-80 1h2v2h-2zm3 0h2v2h-2zm65 0h2v2h-2zm8 0h2v2h-2zm5 0h2v2h-2zm3 0h2v2h-2zm-98 1h2v2h-2zm86 1h2v2h-2zm-67 1h2v2h-2zm74 0h2v2h-2zm-125 1h2v2h-2zm99 0h2v2h-2zm-90 1h2v2h-2zm51 0h2v2h-2zm8 1h2v2h-2zm-60 1h2v2h-2zm10 0h2v2h-2zm11 0h2v2h-2zm39 0h2v2h-2zm12 1h2v2h-2zm-56 1h2v2h-2zm32 0h2v2h-2zm64 0h2v2h-2zm10 0h2v2h-2zm-101 2h2v2h-2zm25 0h2v2h-2zm37 0h2v2h-2zm38 0h2v2h-2zm-15 1h2v2h-2zm-71 2h2v2h-2zm20 1h2v2h-2zm30 0h2v2h-2zm6 0h2v2h-2zm-62 1h2v2h-2zm94 0h2v2h-2zm-113 2h2v2h-2zm51 0h2v2h-2zm-70 1h2v2h-2zm65 0h2v2h-2zm21 0h2v2h-2zm-78 1h2v2h-2zm28 0h2v2h-2zm24 0h2v2h-2zm16 0h2v2h-2zm-13 1h2v2h-2zm-58 1h2v2h-2zm72 0h2v2h-2z" fill="#ae9ac0" opacity="0.58"/>
<path d="M0 0m22 1h3v3h-3zm3 1h3v3h-3zm81 0h3v3h-3zm8 0h3v3h-3zm-84 1h3v3h-3zm7 0h3v3h-3zm-30 1h3v3h-3zm89 0h3v3h-3zm31 0h3v3h-3zm-52 3h3v3h-3zm25 2h3v3h-3zm14 1h3v3h-3zm-100 1h3v3h-3zm5 1h3v3h-3zm8 1h3v3h-3zm57 0h3v3h-3zm-54 2h3v3h-3zm57 0h3v3h-3zm4 1h3v3h-3zm-22 1h3v3h-3zm16 0h3v3h-3zm35 0h3v3h-3zm-109 1h3v3h-3zm74 0h3v3h-3zm-13 1h3v3h-3zm3 2h3v3h-3zm14 1h3v3h-3zm1 0h3v3h-3zm-18 1h3v3h-3zm16 0h3v3h-3zm17 0h3v3h-3zm-18 1h3v3h-3zm10 0h3v3h-3zm28 2h3v3h-3zm4 2h3v3h-3zm-119 1h3v3h-3zm50 0h3v3h-3zm30 1h3v3h-3zm-53 1h3v3h-3zm50 1h3v3h-3zm7 1h3v3h-3zm40 0h3v3h-3zm-73 3h3v3h-3zm12 0h3v3h-3zm-31 1h3v3h-3zm23 0h3v3h-3zm19 1h3v3h-3zm37 0h3v3h-3zm13 0h3v3h-3zm-125 4h3v3h-3zm50 0h3v3h-3zm53 1h3v3h-3zm-94 1h3v3h-3zm38 1h3v3h-3zm64 2h3v3h-3zm14 0h3v3h-3zm-122 3h3v3h-3zm54 0h3v3h-3zm63 0h3v3h-3zm-113 1h3v3h-3zm6 1h3v3h-3zm117 0h3v3h-3zm-27 2h3v3h-3zm-47 1h3v3h-3zm15 0h3v3h-3zm-79 1h3v3h-3zm10 0h3v3h-3zm125 0h3v3h-3zm-110 4h3v3h-3zm18 1h3v3h-3zm21 0h3v3h-3zm-48 1h3v3h-3zm118 1h3v3h-3zm-86 1h3v3h-3zm8 2h3v3h-3zm-17 1h3v3h-3zm-2 1h3v3h-3zm88 1h3v3h-3zm3 0h3v3h-3zm-20 1h3v3h-3zm-21 1h3v3h-3zm-69 1h3v3h-3zm47 0h3v3h-3zm30 0h3v3h-3zm45 0h3v3h-3zm-62 1h3v3h-3zm-12 1h3v3h-3zm9 0h3v3h-3zm15 0h3v3h-3zm-47 1h3v3h-3zm65 0h3v3h-3zm-61 1h3v3h-3zm-16 1h3v3h-3zm22 0h3v3h-3zm9 0h3v3h-3zm-31 1h3v3h-3zm34 0h3v3h-3zm28 0h3v3h-3zm-54 1h3v3h-3zm10 0h3v3h-3zm6 0h3v3h-3zm9 0h3v3h-3zm-1 1h3v3h-3zm-23 1h3v3h-3zm-7 1h3v3h-3zm12 0h3v3h-3zm-25 1h3v3h-3zm28 0h3v3h-3zm-41 1h3v3h-3zm28 0h3v3h-3zm73 0h3v3h-3zm-100 2h3v3h-3zm77 0h3v3h-3zm-82 1h3v3h-3zm22 0h3v3h-3zm66 0h3v3h-3zm-79 1h3v3h-3zm34 0h3v3h-3zm22 0h3v3h-3zm37 0h3v3h-3zm-83 2h3v3h-3zm13 0h3v3h-3zm-1 1h3v3h-3zm99 0h3v3h-3zm11 0h3v3h-3zm-121 2h3v3h-3zm-17 6h3v3h-3zm33 1h3v3h-3zm98 0h3v3h-3zm7 0h3v3h-3zm-58 1h3v3h-3zm-86 1h3v3h-3zm16 0h3v3h-3zm9 0h3v3h-3zm54 0h3v3h-3zm11 1h3v3h-3zm37 0h3v3h-3zm-47 1h3v3h-3zm33 2h3v3h-3zm10 0h3v3h-3zm-27 1h3v3h-3zm-63 2h3v3h-3zm55 1h3v3h-3zm23 2h3v3h-3zm10 0h3v3h-3zm-35 1h3v3h-3zm17 0h3v3h-3zm5 1h3v3h-3zm-74 1h3v3h-3zm62 0h3v3h-3zm22 0h3v3h-3zm12 1h3v3h-3zm6 0h3v3h-3zm-40 1h3v3h-3zm-31 1h3v3h-3zm64 0h3v3h-3zm-19 2h3v3h-3zm22 0h3v3h-3zm-118 1h3v3h-3zm-2 1h3v3h-3zm58 0h3v3h-3zm65 0h3v3h-3zm-28 2h3v3h-3zm-62 2h3v3h-3zm98 0h3v3h-3zm-13 1h3v3h-3zm-85 2h3v3h-3zm84 0h3v3h-3zm-43 1h3v3h-3zm12 1h3v3h-3zm-99 3h3v3h-3zm7 0h3v3h-3zm136 0h3v3h-3zm-119 1h3v3h-3zm-22 1h3v3h-3zm71 0h3v3h-3zm71 0h3v3h-3zm-99 1h3v3h-3zm-35 1h3v3h-3zm53 0h3v3h-3zm54 0h3v3h-3zm-108 1h3v3h-3zm86 1h3v3h-3zm-32 2h3v3h-3zm35 1h3v3h-3zm-82 3h3v3h-3zm30 1h3v3h-3z" fill="#a48aae" opacity="0.58"/>
<path d="M0 0m10 1h3v3h-3zm54 2h3v3h-3zm-35 1h3v3h-3zm52 0h3v3h-3zm15 1h3v3h-3zm-86 2h3v3h-3zm21 0h3v3h-3zm56 2h3v3h-3zm-40 1h3v3h-3zm44 0h3v3h-3zm-38 1h3v3h-3zm64 2h3v3h-3zm-52 1h3v3h-3zm67 0h3v3h-3zm-106 1h3v3h-3zm11 2h3v3h-3zm41 0h3v3h-3zm-25 1h3v3h-3zm-22 2h3v3h-3zm54 0h3v3h-3zm54 1h3v3h-3zm-99 1h3v3h-3zm79 0h3v3h-3zm-94 1h3v3h-3zm-3 1h3v3h-3zm52 0h3v3h-3zm-71 1h3v3h-3zm82 0h3v3h-3zm6 1h3v3h-3zm-62 1h3v3h-3zm-15 1h3v3h-3zm21 0h3v3h-3zm71 1h3v3h-3zm-84 3h3v3h-3zm24 0h3v3h-3zm41 0h3v3h-3zm-25 1h3v3h-3zm21 1h3v3h-3zm7 0h3v3h-3zm-57 1h3v3h-3zm-7 2h3v3h-3zm23 0h3v3h-3zm52 0h3v3h-3zm7 0h3v3h-3zm34 0h3v3h-3zm3 0h3v3h-3zm-98 1h3v3h-3zm-37 1h3v3h-3zm7 0h3v3h-3zm32 0h3v3h-3zm24 1h3v3h-3zm40 1h3v3h-3zm-30 1h3v3h-3zm33 0h3v3h-3zm-85 1h3v3h-3zm76 0h3v3h-3zm27 3h3v3h-3zm-73 1h3v3h-3zm-12 1h3v3h-3zm-19 1h3v3h-3zm110 1h3v3h-3zm-133 2h3v3h-3zm-1 1h3v3h-3zm18 0h3v3h-3zm117 0h3v3h-3zm-71 2h3v3h-3zm-31 1h3v3h-3zm65 0h3v3h-3zm38 0h3v3h-3zm-108 1h3v3h-3zm-20 1h3v3h-3zm104 0h3v3h-3zm-50 1h3v3h-3zm7 0h3v3h-3zm-70 1h3v3h-3zm79 0h3v3h-3zm29 0h3v3h-3zm8 0h3v3h-3zm-4 1h3v3h-3zm-92 2h3v3h-3zm20 0h3v3h-3zm83 0h3v3h-3zm-91 2h3v3h-3zm40 0h3v3h-3zm33 0h3v3h-3zm30 0h3v3h-3zm-11 4h3v3h-3zm-104 1h3v3h-3zm119 0h3v3h-3zm-45 2h3v3h-3zm21 0h3v3h-3zm-62 1h3v3h-3zm-36 2h3v3h-3zm7 1h3v3h-3zm8 0h3v3h-3zm14 1h3v3h-3zm-7 4h3v3h-3zm51 0h3v3h-3zm29 1h3v3h-3zm-61 2h3v3h-3zm-10 4h3v3h-3zm48 1h3v3h-3zm-93 1h3v3h-3zm106 1h3v3h-3zm28 2h3v3h-3zm-138 1h3v3h-3zm54 3h3v3h-3zm14 2h3v3h-3zm8 0h3v3h-3zm29 0h3v3h-3zm34 0h3v3h-3zm-102 1h3v3h-3zm90 0h3v3h-3zm-38 1h3v3h-3zm-62 1h3v3h-3zm23 0h3v3h-3zm14 0h3v3h-3zm2 0h3v3h-3zm58 0h3v3h-3zm-50 1h3v3h-3zm61 0h3v3h-3zm-130 3h3v3h-3zm12 0h3v3h-3zm24 2h3v3h-3zm-18 2h3v3h-3zm-11 1h3v3h-3zm44 0h3v3h-3zm-6 1h3v3h-3zm65 2h3v3h-3zm-81 1h3v3h-3zm7 0h3v3h-3zm1 1h3v3h-3zm-25 2h3v3h-3zm32 0h3v3h-3zm-28 1h3v3h-3zm24 0h3v3h-3zm28 0h3v3h-3zm5 0h3v3h-3zm17 0h3v3h-3zm-36 1h3v3h-3zm13 0h3v3h-3zm52 0h3v3h-3zm-49 1h3v3h-3zm33 0h3v3h-3zm13 0h3v3h-3zm-91 1h3v3h-3zm61 0h3v3h-3zm21 0h3v3h-3zm-96 1h3v3h-3zm19 0h3v3h-3zm-38 1h3v3h-3zm23 0h3v3h-3zm78 1h3v3h-3zm4 0h3v3h-3zm-66 1h3v3h-3zm-26 1h3v3h-3zm25 2h3v3h-3zm24 0h3v3h-3zm34 2h3v3h-3zm-37 1h3v3h-3zm37 0h3v3h-3zm3 0h3v3h-3zm43 1h3v3h-3zm-9 1h3v3h-3zm-67 1h3v3h-3zm-63 1h3v3h-3zm138 0h3v3h-3zm-108 2h3v3h-3zm32 0h3v3h-3zm73 0h3v3h-3zm0 0h3v3h-3zm-33 2h3v3h-3zm32 0h3v3h-3zm5 0h3v3h-3zm-60 1h3v3h-3zm56 0h3v3h-3zm-38 3h3v3h-3zm4 2h3v3h-3zm11 0h3v3h-3z" fill="#a088b4" opacity="0.58"/>
<path d="M0 0m24 0h2v2h-2zm37 0h2v2h-2zm19 0h2v2h-2zm43 0h2v2h-2zm-29 1h2v2h-2zm-33 1h2v2h-2zm6 0h2v2h-2zm19 0h2v2h-2zm22 0h2v2h-2zm-60 2h2v2h-2zm-27 1h2v2h-2zm19 0h2v2h-2zm61 0h2v2h-2zm20 0h2v2h-2zm22 0h2v2h-2zm-124 1h2v2h-2zm-18 2h2v2h-2zm61 0h2v2h-2zm11 0h2v2h-2zm39 0h2v2h-2zm-19 1h2v2h-2zm8 0h2v2h-2zm0 0h2v2h-2zm-53 1h2v2h-2zm84 0h2v2h-2zm-115 1h2v2h-2zm24 0h2v2h-2zm24 0h2v2h-2zm1 0h2v2h-2zm-53 1h2v2h-2zm21 0h2v2h-2zm92 0h2v2h-2zm1 0h2v2h-2zm6 0h2v2h-2zm-42 2h2v2h-2zm2 0h2v2h-2zm-66 1h2v2h-2zm5 0h2v2h-2zm27 0h2v2h-2zm13 0h2v2h-2zm17 0h2v2h-2zm6 0h2v2h-2zm50 0h2v2h-2zm-39 1h2v2h-2zm30 0h2v2h-2zm-37 1h2v2h-2zm41 0h2v2h-2zm1 0h2v2h-2zm-63 1h2v2h-2zm-64 1h2v2h-2zm49 1h2v2h-2zm76 0h2v2h-2zm-138 1h2v2h-2zm99 0h2v2h-2zm25 0h2v2h-2zm-52 1h2v2h-2zm36 0h2v2h-2zm-79 1h2v2h-2zm40 0h2v2h-2zm44 0h2v2h-2zm-101 1h2v2h-2zm5 0h2v2h-2zm39 0h2v2h-2zm19 0h2v2h-2zm20 0h2v2h-2zm8 0h2v2h-2zm15 0h2v2h-2zm-108 1h2v2h-2zm5 0h2v2h-2zm49 0h2v2h-2zm72 0h2v2h-2zm-121 1h2v2h-2zm60 0h2v2h-2zm35 0h2v2h-2zm20 0h2v2h-2zm-95 2h2v2h-2zm38 0h2v2h-2zm10 0h2v2h-2zm24 0h2v2h-2zm25 0h2v2h-2zm-128 1h2v2h-2zm5 0h2v2h-2zm22 0h2v2h-2zm88 0h2v2h-2zm7 0h2v2h-2zm-41 1h2v2h-2zm5 0h2v2h-2zm56 0h2v2h-2zm-75 1h2v2h-2zm2 0h2v2h-2zm24 0h2v2h-2zm-5 2h2v2h-2zm30 0h2v2h-2zm4 0h2v2h-2zm-125 1h2v2h-2zm12 0h2v2h-2zm32 0h2v2h-2zm5 0h2v2h-2zm31 0h2v2h-2zm13 0h2v2h-2zm-82 1h2v2h-2zm99 0h2v2h-2zm31 0h2v2h-2zm-93 1h2v2h-2zm22 0h2v2h-2zm34 0h2v2h-2zm15 1h2v2h-2zm-121 1h2v2h-2zm43 0h2v2h-2zm58 0h2v2h-2zm38 1h2v2h-2zm-56 1h2v2h-2zm25 0h2v2h-2zm-103 1h2v2h-2zm63 0h2v2h-2zm64 0h2v2h-2zm-78 1h2v2h-2zm14 0h2v2h-2zm43 1h2v2h-2zm29 0h2v2h-2zm-138 1h2v2h-2zm33 0h2v2h-2zm55 0h2v2h-2zm54 0h2v2h-2zm-131 1h2v2h-2zm13 1h2v2h-2zm5 0h2v2h-2zm18 0h2v2h-2zm42 0h2v2h-2zm12 0h2v2h-2zm6 1h2v2h-2zm21 0h2v2h-2zm14 0h2v2h-2zm-128 1h2v2h-2zm81 0h2v2h-2zm7 0h2v2h-2zm-62 1h2v2h-2zm10 0h2v2h-2zm92 0h2v2h-2zm-133 1h2v2h-2zm103 0h2v2h-2zm23 0h2v2h-2zm-54 1h2v2h-2zm43 0h2v2h-2zm-114 1h2v2h-2zm70 0h2v2h-2zm6 0h2v2h-2zm-41 1h2v2h-2zm19 0h2v2h-2zm72 0h2v2h-2zm-129 1h2v2h-2zm63 0h2v2h-2zm3 0h2v2h-2zm18 1h2v2h-2zm-73 1h2v2h-2zm7 0h2v2h-2zm65 0h2v2h-2zm32 0h2v2h-2zm-118 1h2v2h-2zm22 1h2v2h-2zm6 0h2v2h-2zm67 0h2v2h-2zm14 1h2v2h-2zm-43 1h2v2h-2zm10 1h2v2h-2zm25 1h2v2h-2zm40 0h2v2h-2zm-46 1h2v2h-2zm3 0h2v2h-2zm-22 1h2v2h-2zm3 0h2v2h-2zm8 0h2v2h-2zm32 0h2v2h-2zm-48 1h2v2h-2zm52 0h2v2h-2zm-111 1h2v2h-2zm81 0h2v2h-2zm4 0h2v2h-2zm-84 1h2v2h-2zm113 0h2v2h-2zm-131 1h2v2h-2zm39 1h2v2h-2zm1 0h2v2h-2zm28 0h2v2h-2zm-57 1h2v2h-2zm64 0h2v2h-2zm66 0h2v2h-2zm-38 1h2v2h-2zm32 0h2v2h-2zm-67 1h2v2h-2zm20 0h2v2h-2zm33 0h2v2h-2zm0 0h2v2h-2zm-100 1h2v2h-2zm28 0h2v2h-2zm40 0h2v2h-2zm-86 1h2v2h-2zm15 1h2v2h-2zm22 0h2v2h-2zm61 0h2v2h-2zm34 0h2v2h-2zm-111 1h2v2h-2zm3 1h2v2h-2zm50 0h2v2h-2zm30 0h2v2h-2zm18 0h2v2h-2zm-65 2h2v2h-2zm-38 1h2v2h-2zm43 0h2v2h-2zm21 0h2v2h-2zm10 0h2v2h-2zm-61 1h2v2h-2zm1 0h2v2h-2zm20 0h2v2h-2zm-31 1h2v2h-2zm33 0h2v2h-2zm16 0h2v2h-2zm51 0h2v2h-2zm16 0h2v2h-2zm-140 1h2v2h-2zm81 0h2v2h-2zm7 0h2v2h-2zm29 1h2v2h-2zm-69 1h2v2h-2zm63 0h2v2h-2zm-19 1h2v2h-2zm25 0h2v2h-2zm-4 1h2v2h-2zm12 0h2v2h-2zm8 0h2v2h-2zm-83 1h2v2h-2zm54 0h2v2h-2zm-100 1h2v2h-2zm44 0h2v2h-2zm77 0h2v2h-2zm-97 2h2v2h-2zm4 0h2v2h-2zm29 0h2v2h-2zm53 0h2v2h-2zm-89 1h2v2h-2zm25 3h2v2h-2zm-35 1h2v2h-2zm8 0h2v2h-2zm6 0h2v2h-2zm80 0h2v2h-2zm-3 1h2v2h-2zm28 0h2v2h-2zm0 1h2v2h-2zm-43 1h2v2h-2zm-73 1h2v2h-2zm83 0h2v2h-2zm-26 1h2v2h-2zm20 0h2v2h-2zm-73 2h2v2h-2zm14 0h2v2h-2zm51 0h2v2h-2zm45 0h2v2h-2zm-81 2h2v2h-2zm-28 1h2v2h-2zm22 0h2v2h-2zm1 0h2v2h-2zm29 0h2v2h-2zm-65 1h2v2h-2zm44 0h2v2h-2zm-41 1h2v2h-2zm3 0h2v2h-2zm110 0h2v2h-2zm4 0h2v2h-2zm-53 1h2v2h-2zm3 0h2v2h-2zm49 0h2v2h-2zm-56 1h2v2h-2zm-25 1h2v2h-2zm11 0h2v2h-2zm-59 1h2v2h-2zm7 0h2v2h-2zm2 0h2v2h-2zm25 0h2v2h-2zm85 0h2v2h-2zm-117 1h2v2h-2zm122 0h2v2h-2zm-112 1h2v2h-2zm114 0h2v2h-2zm-111 2h2v2h-2zm-17 1h2v2h-2zm141 0h2v2h-2zm-32 1h2v2h-2zm-78 1h2v2h-2zm5 0h2v2h-2zm67 0h2v2h-2zm37 0h2v2h-2zm-53 1h2v2h-2zm16 1h2v2h-2zm-87 1h2v2h-2zm21 0h2v2h-2zm61 0h2v2h-2zm15 0h2v2h-2zm6 0h2v2h-2zm-72 1h2v2h-2zm56 0h2v2h-2zm12 1h2v2h-2zm30 0h2v2h-2zm-115 2h2v2h-2zm26 0h2v2h-2zm29 0h2v2h-2zm48 0h2v2h-2zm-16 1h2v2h-2zm-68 1h2v2h-2zm95 0h2v2h-2zm-125 1h2v2h-2zm19 0h2v2h-2zm1 0h2v2h-2zm108 0h2v2h-2zm-33 2h2v2h-2zm-42 1h2v2h-2zm16 1h2v2h-2zm51 0h2v2h-2zm-114 1h2v2h-2zm50 0h2v2h-2zm13 0h2v2h-2zm-75 1h2v2h-2zm26 1h2v2h-2zm-12 1h2v2h-2zm14 1h2v2h-2zm6 1h2v2h-2zm20 0h2v2h-2zm13 0h2v2h-2zm-31 1h2v2h-2zm25 0h2v2h-2zm42 0h2v2h-2zm6 0h2v2h-2zm-78 1h2v2h-2zm15 0h2v2h-2zm45 0h2v2h-2zm-31 1h2v2h-2zm43 0h2v2h-2zm-70 1h2v2h-2zm4 0h2v2h-2zm-6 1h2v2h-2zm18 0h2v2h-2zm83 0h2v2h-2zm-71 1h2v2h-2zm44 0h2v2h-2zm-99 1h2v2h-2zm123 0h2v2h-2zm-48 1h2v2h-2zm5 0h2v2h-2zm-29 1h2v2h-2z" fill="#a48aae" opacity="0.58"/>
<path d="M0 0m114 0h2v2h-2zm17 0h2v2h-2zm-41 1h2v2h-2zm-83 1h2v2h-2zm1 0h2v2h-2zm1 0h2v2h-2zm27 1h2v2h-2zm58 0h2v2h-2zm22 0h2v2h-2zm-111 1h2v2h-2zm108 0h2v2h-2zm-27 1h2v2h-2zm-84 1h2v2h-2zm28 0h2v2h-2zm66 0h2v2h-2zm-5 1h2v2h-2zm56 0h2v2h-2zm-104 1h2v2h-2zm39 0h2v2h-2zm31 0h2v2h-2zm-88 1h2v2h-2zm3 0h2v2h-2zm62 0h2v2h-2zm12 0h2v2h-2zm16 0h2v2h-2zm7 0h2v2h-2zm1 2h2v2h-2zm-121 1h2v2h-2zm23 0h2v2h-2zm-4 1h2v2h-2zm56 0h2v2h-2zm18 0h2v2h-2zm32 0h2v2h-2zm2 0h2v2h-2zm-123 1h2v2h-2zm1 0h2v2h-2zm6 0h2v2h-2zm34 0h2v2h-2zm-11 3h2v2h-2zm31 0h2v2h-2zm64 0h2v2h-2zm8 0h2v2h-2zm-117 1h2v2h-2zm14 0h2v2h-2zm3 0h2v2h-2zm31 0h2v2h-2zm28 0h2v2h-2zm11 0h2v2h-2zm23 1h2v2h-2zm-42 1h2v2h-2zm3 0h2v2h-2zm31 0h2v2h-2zm-91 1h2v2h-2zm53 0h2v2h-2zm16 0h2v2h-2zm1 0h2v2h-2zm-37 1h2v2h-2zm30 0h2v2h-2zm-50 1h2v2h-2zm78 0h2v2h-2zm-107 1h2v2h-2zm2 0h2v2h-2zm28 0h2v2h-2zm17 2h2v2h-2zm29 0h2v2h-2zm44 0h2v2h-2zm7 0h2v2h-2zm-84 1h2v2h-2zm1 0h2v2h-2zm28 0h2v2h-2zm30 0h2v2h-2zm11 0h2v2h-2zm3 0h2v2h-2zm-100 1h2v2h-2zm26 0h2v2h-2zm13 0h2v2h-2zm-75 1h2v2h-2zm40 0h2v2h-2zm43 0h2v2h-2zm-81 1h2v2h-2zm56 0h2v2h-2zm74 1h2v2h-2zm-102 1h2v2h-2zm10 0h2v2h-2zm30 0h2v2h-2zm54 0h2v2h-2zm-77 1h2v2h-2zm94 0h2v2h-2zm-141 1h2v2h-2zm117 0h2v2h-2zm12 0h2v2h-2zm-111 2h2v2h-2zm53 0h2v2h-2zm13 0h2v2h-2zm39 0h2v2h-2zm1 0h2v2h-2zm-91 1h2v2h-2zm87 0h2v2h-2zm-107 1h2v2h-2zm23 0h2v2h-2zm110 0h2v2h-2zm-146 1h2v2h-2zm5 0h2v2h-2zm97 0h2v2h-2zm25 0h2v2h-2zm17 0h2v2h-2zm-101 1h2v2h-2zm15 0h2v2h-2zm73 0h2v2h-2zm-35 1h2v2h-2zm30 0h2v2h-2zm13 0h2v2h-2zm-105 2h2v2h-2zm43 0h2v2h-2zm-53 1h2v2h-2zm60 0h2v2h-2zm-71 1h2v2h-2zm85 3h2v2h-2zm-83 1h2v2h-2zm43 0h2v2h-2zm22 0h2v2h-2zm-43 1h2v2h-2zm26 0h2v2h-2zm-22 1h2v2h-2zm63 0h2v2h-2zm12 0h2v2h-2zm7 0h2v2h-2zm-104 1h2v2h-2zm37 0h2v2h-2zm23 0h2v2h-2zm42 0h2v2h-2zm-99 1h2v2h-2zm36 0h2v2h-2zm71 0h2v2h-2zm12 0h2v2h-2zm-118 2h2v2h-2zm16 0h2v2h-2zm-7 1h2v2h-2zm111 0h2v2h-2zm-117 1h2v2h-2zm95 0h2v2h-2zm-84 1h2v2h-2zm85 0h2v2h-2zm18 0h2v2h-2zm-32 1h2v2h-2zm6 1h2v2h-2zm-66 1h2v2h-2zm20 0h2v2h-2zm60 0h2v2h-2zm4 0h2v2h-2zm-98 2h2v2h-2zm20 0h2v2h-2zm33 0h2v2h-2zm17 0h2v2h-2zm-84 1h2v2h-2zm38 1h2v2h-2zm-22 1h2v2h-2zm64 0h2v2h-2zm23 1h2v2h-2zm-60 1h2v2h-2zm3 0h2v2h-2zm-55 1h2v2h-2zm17 1h2v2h-2zm16 0h2v2h-2zm18 0h2v2h-2zm46 0h2v2h-2zm-68 1h2v2h-2zm30 0h2v2h-2zm3 0h2v2h-2zm28 0h2v2h-2zm44 0h2v2h-2zm-72 1h2v2h-2zm20 0h2v2h-2zm-70 1h2v2h-2zm116 0h2v2h-2zm-90 1h2v2h-2zm57 0h2v2h-2zm-88 1h2v2h-2zm94 0h2v2h-2zm-61 1h2v2h-2zm21 0h2v2h-2zm63 0h2v2h-2zm-118 1h2v2h-2zm41 0h2v2h-2zm29 0h2v2h-2zm8 0h2v2h-2zm-17 1h2v2h-2zm35 1h2v2h-2zm16 0h2v2h-2zm-121 1h2v2h-2zm101 0h2v2h-2zm3 1h2v2h-2zm35 0h2v2h-2zm-97 1h2v2h-2zm39 0h2v2h-2zm13 0h2v2h-2zm-54 1h2v2h-2zm8 0h2v2h-2zm12 0h2v2h-2zm23 1h2v2h-2zm11 0h2v2h-2zm-88 1h2v2h-2zm7 1h2v2h-2zm21 1h2v2h-2zm10 0h2v2h-2zm36 0h2v2h-2zm8 0h2v2h-2zm-61 1h2v2h-2zm37 0h2v2h-2zm1 0h2v2h-2zm46 0h2v2h-2zm-111 1h2v2h-2zm4 0h2v2h-2zm64 0h2v2h-2zm35 0h2v2h-2zm-30 1h2v2h-2zm1 0h2v2h-2zm7 0h2v2h-2zm45 0h2v2h-2zm1 0h2v2h-2zm-12 1h2v2h-2zm-115 1h2v2h-2zm4 0h2v2h-2zm24 0h2v2h-2zm30 0h2v2h-2zm-28 1h2v2h-2zm47 1h2v2h-2zm14 0h2v2h-2zm22 0h2v2h-2zm26 0h2v2h-2zm-132 1h2v2h-2zm84 1h2v2h-2zm26 0h2v2h-2zm19 0h2v2h-2zm-90 1h2v2h-2zm13 0h2v2h-2zm64 0h2v2h-2zm-92 1h2v2h-2zm31 0h2v2h-2zm1 0h2v2h-2zm-68 1h2v2h-2zm75 0h2v2h-2zm42 0h2v2h-2zm-115 1h2v2h-2zm128 0h2v2h-2zm10 0h2v2h-2zm-53 1h2v2h-2zm-39 1h2v2h-2zm8 1h2v2h-2zm64 0h2v2h-2zm23 0h2v2h-2zm-97 1h2v2h-2zm-37 1h2v2h-2zm36 0h2v2h-2zm1 0h2v2h-2zm14 2h2v2h-2zm18 0h2v2h-2zm65 0h2v2h-2zm-132 1h2v2h-2zm64 0h2v2h-2zm34 0h2v2h-2zm-83 1h2v2h-2zm66 0h2v2h-2zm-64 1h2v2h-2zm0 0h2v2h-2zm30 0h2v2h-2zm83 0h2v2h-2zm-77 1h2v2h-2zm40 0h2v2h-2zm35 1h2v2h-2zm-114 1h2v2h-2zm60 0h2v2h-2zm-61 1h2v2h-2zm115 0h2v2h-2zm-140 1h2v2h-2zm15 0h2v2h-2zm100 0h2v2h-2zm-110 1h2v2h-2zm22 0h2v2h-2zm56 1h2v2h-2zm10 1h2v2h-2zm13 0h2v2h-2zm-96 1h2v2h-2zm10 0h2v2h-2zm17 0h2v2h-2zm33 0h2v2h-2zm18 0h2v2h-2zm26 0h2v2h-2zm-73 1h2v2h-2zm-22 2h2v2h-2zm76 0h2v2h-2zm-58 1h2v2h-2zm70 0h2v2h-2zm5 2h2v2h-2zm-84 1h2v2h-2zm20 0h2v2h-2zm-24 1h2v2h-2zm37 0h2v2h-2zm11 0h2v2h-2zm66 0h2v2h-2zm-131 1h2v2h-2zm91 0h2v2h-2zm17 0h2v2h-2zm15 0h2v2h-2zm-20 1h2v2h-2zm3 0h2v2h-2zm7 1h2v2h-2zm-81 1h2v2h-2zm100 0h2v2h-2zm2 0h2v2h-2zm-120 1h2v2h-2zm43 0h2v2h-2zm69 1h2v2h-2zm-103 1h2v2h-2zm2 1h2v2h-2zm29 0h2v2h-2zm8 0h2v2h-2zm7 0h2v2h-2zm9 0h2v2h-2zm-43 1h2v2h-2zm58 0h2v2h-2zm-10 1h2v2h-2zm-88 1h2v2h-2zm85 0h2v2h-2zm30 0h2v2h-2zm-109 3h2v2h-2zm70 1h2v2h-2zm-4 1h2v2h-2zm50 0h2v2h-2zm-99 1h2v2h-2zm-3 1h2v2h-2zm43 0h2v2h-2zm14 0h2v2h-2zm21 0h2v2h-2zm-74 3h2v2h-2zm51 0h2v2h-2z" fill="#927aa8" opacity="0.58"/>
<path d="M0 0m26 1h3v3h-3zm8 0h3v3h-3zm46 1h3v3h-3zm-26 2h3v3h-3zm56 0h3v3h-3zm8 0h3v3h-3zm-32 3h3v3h-3zm17 0h3v3h-3zm33 1h3v3h-3zm-92 1h3v3h-3zm4 0h3v3h-3zm-46 2h3v3h-3zm120 0h3v3h-3zm-71 1h3v3h-3zm87 0h3v3h-3zm-87 1h3v3h-3zm62 0h3v3h-3zm13 0h3v3h-3zm-62 2h3v3h-3zm32 0h3v3h-3zm22 0h3v3h-3zm7 0h3v3h-3zm1 1h3v3h-3zm2 2h3v3h-3zm13 0h3v3h-3zm-10 1h3v3h-3zm-106 1h3v3h-3zm54 0h3v3h-3zm-74 2h3v3h-3zm11 0h3v3h-3zm110 1h3v3h-3zm-124 2h3v3h-3zm47 0h3v3h-3zm34 0h3v3h-3zm22 0h3v3h-3zm24 0h3v3h-3zm-81 1h3v3h-3zm0 1h3v3h-3zm9 0h3v3h-3zm4 0h3v3h-3zm-58 1h3v3h-3zm49 1h3v3h-3zm14 1h3v3h-3zm32 0h3v3h-3zm-77 1h3v3h-3zm4 2h3v3h-3zm98 0h3v3h-3zm17 2h3v3h-3zm-92 1h3v3h-3zm83 0h3v3h-3zm-121 3h3v3h-3zm113 0h3v3h-3zm-40 2h3v3h-3zm-32 2h3v3h-3zm-37 1h3v3h-3zm87 0h3v3h-3zm-88 1h3v3h-3zm119 0h3v3h-3zm-131 1h3v3h-3zm24 0h3v3h-3zm7 0h3v3h-3zm21 0h3v3h-3zm-29 2h3v3h-3zm2 0h3v3h-3zm-21 1h3v3h-3zm118 1h3v3h-3zm-1 2h3v3h-3zm-18 1h3v3h-3zm-73 1h3v3h-3zm0 1h3v3h-3zm18 0h3v3h-3zm1 1h3v3h-3zm-28 1h3v3h-3zm-5 1h3v3h-3zm66 0h3v3h-3zm-67 1h3v3h-3zm-12 2h3v3h-3zm58 2h3v3h-3zm83 0h3v3h-3zm-23 2h3v3h-3zm21 1h3v3h-3zm-79 1h3v3h-3zm82 0h3v3h-3zm-108 1h3v3h-3zm43 0h3v3h-3zm50 0h3v3h-3zm4 0h3v3h-3zm-105 1h3v3h-3zm42 1h3v3h-3zm14 0h3v3h-3zm60 0h3v3h-3zm-146 1h3v3h-3zm63 0h3v3h-3zm77 1h3v3h-3zm-102 1h3v3h-3zm14 1h3v3h-3zm11 1h3v3h-3zm33 0h3v3h-3zm2 1h3v3h-3zm-1 1h3v3h-3zm-53 2h3v3h-3zm-32 1h3v3h-3zm61 0h3v3h-3zm67 0h3v3h-3zm-75 1h3v3h-3zm-50 3h3v3h-3zm29 1h3v3h-3zm-5 2h3v3h-3zm50 2h3v3h-3zm-21 1h3v3h-3zm-56 1h3v3h-3zm7 1h3v3h-3zm30 0h3v3h-3zm5 1h3v3h-3zm21 1h3v3h-3zm31 0h3v3h-3zm-15 1h3v3h-3zm53 2h3v3h-3zm-115 1h3v3h-3zm3 0h3v3h-3zm27 1h3v3h-3zm-5 1h3v3h-3zm27 0h3v3h-3zm-24 3h3v3h-3zm64 0h3v3h-3zm-87 1h3v3h-3zm9 0h3v3h-3zm59 0h3v3h-3zm16 0h3v3h-3zm18 0h3v3h-3zm-131 2h3v3h-3zm49 0h3v3h-3zm-43 1h3v3h-3zm100 0h3v3h-3zm-84 2h3v3h-3zm59 1h3v3h-3zm-83 1h3v3h-3zm39 0h3v3h-3zm58 0h3v3h-3zm4 2h3v3h-3zm25 0h3v3h-3zm-1 1h3v3h-3zm16 0h3v3h-3zm-65 1h3v3h-3zm-59 1h3v3h-3zm55 0h3v3h-3zm28 0h3v3h-3zm5 0h3v3h-3zm4 1h3v3h-3zm15 0h3v3h-3zm13 0h3v3h-3zm-105 1h3v3h-3zm32 0h3v3h-3zm-43 1h3v3h-3zm15 1h3v3h-3zm23 0h3v3h-3zm82 0h3v3h-3zm-141 1h3v3h-3zm51 0h3v3h-3zm75 0h3v3h-3zm-107 1h3v3h-3zm19 0h3v3h-3zm94 0h3v3h-3zm-43 1h3v3h-3zm-8 1h3v3h-3zm-82 1h3v3h-3zm11 2h3v3h-3zm132 0h3v3h-3zm-109 1h3v3h-3zm-5 1h3v3h-3zm31 0h3v3h-3zm61 0h3v3h-3zm12 1h3v3h-3zm0 1h3v3h-3zm-49 4h3v3h-3zm16 0h3v3h-3zm-95 1h3v3h-3zm41 0h3v3h-3zm85 0h3v3h-3zm-100 1h3v3h-3zm7 0h3v3h-3zm8 1h3v3h-3zm33 2h3v3h-3zm-75 1h3v3h-3zm50 1h3v3h-3zm63 0h3v3h-3zm19 0h3v3h-3zm3 0h3v3h-3zm-71 1h3v3h-3zm25 2h3v3h-3zm28 0h3v3h-3z" fill="#927aa8" opacity="0.58"/>
<path d="M0 0m94 0h2v2h-2zm24 0h2v2h-2zm8 0h2v2h-2zm-83 1h2v2h-2zm12 0h2v2h-2zm13 0h2v2h-2zm-61 1h2v2h-2zm30 0h2v2h-2zm12 0h2v2h-2zm49 0h2v2h-2zm25 0h2v2h-2zm-51 1h2v2h-2zm30 0h2v2h-2zm2 0h2v2h-2zm-20 1h2v2h-2zm-13 1h2v2h-2zm16 0h2v2h-2zm36 1h2v2h-2zm-87 1h2v2h-2zm38 0h2v2h-2zm20 0h2v2h-2zm-84 1h2v2h-2zm134 0h2v2h-2zm-120 1h2v2h-2zm53 0h2v2h-2zm10 0h2v2h-2zm30 0h2v2h-2zm-87 1h2v2h-2zm12 0h2v2h-2zm34 1h2v2h-2zm21 0h2v2h-2zm-67 1h2v2h-2zm18 0h2v2h-2zm65 0h2v2h-2zm4 0h2v2h-2zm6 0h2v2h-2zm4 0h2v2h-2zm-101 3h2v2h-2zm32 0h2v2h-2zm24 0h2v2h-2zm-36 1h2v2h-2zm-38 1h2v2h-2zm-1 2h2v2h-2zm81 0h2v2h-2zm55 0h2v2h-2zm-112 1h2v2h-2zm43 0h2v2h-2zm7 0h2v2h-2zm8 0h2v2h-2zm-85 1h2v2h-2zm36 1h2v2h-2zm-20 1h2v2h-2zm38 0h2v2h-2zm71 0h2v2h-2zm-84 1h2v2h-2zm17 0h2v2h-2zm15 2h2v2h-2zm40 0h2v2h-2zm6 0h2v2h-2zm-67 1h2v2h-2zm32 0h2v2h-2zm-37 1h2v2h-2zm51 0h2v2h-2zm-19 2h2v2h-2zm26 0h2v2h-2zm-100 1h2v2h-2zm91 0h2v2h-2zm-17 1h2v2h-2zm-61 2h2v2h-2zm6 0h2v2h-2zm13 0h2v2h-2zm36 0h2v2h-2zm65 1h2v2h-2zm-125 2h2v2h-2zm38 0h2v2h-2zm18 1h2v2h-2zm53 0h2v2h-2zm-101 1h2v2h-2zm62 0h2v2h-2zm3 0h2v2h-2zm29 0h2v2h-2zm-103 1h2v2h-2zm20 0h2v2h-2zm26 0h2v2h-2zm-52 1h2v2h-2zm43 0h2v2h-2zm19 0h2v2h-2zm60 0h2v2h-2zm11 0h2v2h-2zm-141 1h2v2h-2zm35 0h2v2h-2zm64 0h2v2h-2zm20 0h2v2h-2zm-119 1h2v2h-2zm42 0h2v2h-2zm49 0h2v2h-2zm-15 1h2v2h-2zm2 0h2v2h-2zm-13 1h2v2h-2zm16 0h2v2h-2zm-56 1h2v2h-2zm30 0h2v2h-2zm22 0h2v2h-2zm-50 1h2v2h-2zm41 0h2v2h-2zm1 0h2v2h-2zm-31 1h2v2h-2zm27 0h2v2h-2zm-57 1h2v2h-2zm88 0h2v2h-2zm14 0h2v2h-2zm-100 1h2v2h-2zm51 0h2v2h-2zm-40 1h2v2h-2zm69 1h2v2h-2zm48 0h2v2h-2zm-97 1h2v2h-2zm6 0h2v2h-2zm76 0h2v2h-2zm13 0h2v2h-2zm-69 1h2v2h-2zm57 1h2v2h-2zm-32 1h2v2h-2zm43 0h2v2h-2zm-97 2h2v2h-2zm22 0h2v2h-2zm84 1h2v2h-2zm-107 1h2v2h-2zm87 0h2v2h-2zm3 1h2v2h-2zm-120 1h2v2h-2zm63 0h2v2h-2zm-40 1h2v2h-2zm9 0h2v2h-2zm69 0h2v2h-2zm15 0h2v2h-2zm-29 1h2v2h-2zm2 0h2v2h-2zm-51 1h2v2h-2zm90 0h2v2h-2zm-131 1h2v2h-2zm4 0h2v2h-2zm5 0h2v2h-2zm9 0h2v2h-2zm51 1h2v2h-2zm28 0h2v2h-2zm28 0h2v2h-2zm-34 1h2v2h-2zm27 0h2v2h-2zm7 0h2v2h-2zm-117 1h2v2h-2zm89 0h2v2h-2zm-59 1h2v2h-2zm-24 1h2v2h-2zm107 0h2v2h-2zm-104 1h2v2h-2zm19 0h2v2h-2zm6 0h2v2h-2zm64 0h2v2h-2zm10 0h2v2h-2zm13 0h2v2h-2zm-66 1h2v2h-2zm3 0h2v2h-2zm37 0h2v2h-2zm-12 1h2v2h-2zm16 1h2v2h-2zm4 0h2v2h-2zm-76 1h2v2h-2zm7 0h2v2h-2zm32 0h2v2h-2zm12 0h2v2h-2zm8 0h2v2h-2zm12 0h2v2h-2zm-79 1h2v2h-2zm57 0h2v2h-2zm1 0h2v2h-2zm50 0h2v2h-2zm-90 1h2v2h-2zm8 0h2v2h-2zm10 0h2v2h-2zm59 0h2v2h-2zm4 0h2v2h-2zm-96 1h2v2h-2zm16 1h2v2h-2zm12 0h2v2h-2zm25 0h2v2h-2zm1 0h2v2h-2zm9 0h2v2h-2zm-46 2h2v2h-2zm29 0h2v2h-2zm8 0h2v2h-2zm-72 1h2v2h-2zm31 0h2v2h-2zm57 0h2v2h-2zm-58 1h2v2h-2zm65 1h2v2h-2zm23 0h2v2h-2zm-128 1h2v2h-2zm53 0h2v2h-2zm30 0h2v2h-2zm-86 1h2v2h-2zm56 1h2v2h-2zm-40 1h2v2h-2zm46 0h2v2h-2zm8 0h2v2h-2zm7 0h2v2h-2zm26 0h2v2h-2zm9 0h2v2h-2zm4 1h2v2h-2zm6 0h2v2h-2zm-92 1h2v2h-2zm1 0h2v2h-2zm-27 1h2v2h-2zm92 0h2v2h-2zm11 0h2v2h-2zm-32 1h2v2h-2zm15 0h2v2h-2zm9 0h2v2h-2zm-37 1h2v2h-2zm8 0h2v2h-2zm70 0h2v2h-2zm-63 1h2v2h-2zm4 0h2v2h-2zm45 0h2v2h-2zm-14 2h2v2h-2zm-110 1h2v2h-2zm6 0h2v2h-2zm38 0h2v2h-2zm-11 1h2v2h-2zm64 0h2v2h-2zm-73 1h2v2h-2zm33 0h2v2h-2zm28 0h2v2h-2zm45 0h2v2h-2zm-107 3h2v2h-2zm9 0h2v2h-2zm16 1h2v2h-2zm29 0h2v2h-2zm50 1h2v2h-2zm13 0h2v2h-2zm-60 1h2v2h-2zm3 0h2v2h-2zm23 0h2v2h-2zm2 0h2v2h-2zm17 0h2v2h-2zm-88 1h2v2h-2zm85 0h2v2h-2zm-120 1h2v2h-2zm16 0h2v2h-2zm57 0h2v2h-2zm-47 1h2v2h-2zm48 0h2v2h-2zm20 0h2v2h-2zm-96 1h2v2h-2zm19 1h2v2h-2zm31 0h2v2h-2zm24 0h2v2h-2zm60 0h2v2h-2zm-129 1h2v2h-2zm9 0h2v2h-2zm14 0h2v2h-2zm13 0h2v2h-2zm35 0h2v2h-2zm-81 1h2v2h-2zm79 0h2v2h-2zm21 1h2v2h-2zm-41 1h2v2h-2zm39 0h2v2h-2zm-11 1h2v2h-2zm-60 1h2v2h-2zm4 0h2v2h-2zm57 0h2v2h-2zm-5 1h2v2h-2zm15 0h2v2h-2zm26 1h2v2h-2zm-20 2h2v2h-2zm-76 1h2v2h-2zm39 0h2v2h-2zm36 0h2v2h-2zm16 0h2v2h-2zm-107 1h2v2h-2zm3 0h2v2h-2zm21 0h2v2h-2zm33 0h2v2h-2zm-40 1h2v2h-2zm9 0h2v2h-2zm107 0h2v2h-2zm-134 1h2v2h-2zm122 0h2v2h-2zm-85 1h2v2h-2zm2 0h2v2h-2zm5 0h2v2h-2zm41 0h2v2h-2zm-92 3h2v2h-2zm7 0h2v2h-2zm44 0h2v2h-2zm61 0h2v2h-2zm-109 1h2v2h-2zm27 0h2v2h-2zm34 0h2v2h-2zm36 0h2v2h-2zm6 0h2v2h-2zm2 0h2v2h-2zm-108 1h2v2h-2zm6 0h2v2h-2zm33 0h2v2h-2zm-19 1h2v2h-2zm98 0h2v2h-2zm12 0h2v2h-2zm-87 2h2v2h-2zm91 0h2v2h-2zm-117 1h2v2h-2zm9 0h2v2h-2zm-29 1h2v2h-2zm25 0h2v2h-2zm1 0h2v2h-2zm6 1h2v2h-2zm69 0h2v2h-2zm-34 1h2v2h-2zm-52 1h2v2h-2zm20 0h2v2h-2zm8 1h2v2h-2zm0 0h2v2h-2zm18 0h2v2h-2zm78 0h2v2h-2zm-9 2h2v2h-2zm-101 1h2v2h-2zm37 0h2v2h-2zm21 0h2v2h-2zm10 0h2v2h-2zm22 0h2v2h-2zm-117 1h2v2h-2zm3 0h2v2h-2zm105 0h2v2h-2zm19 0h2v2h-2zm-63 1h2v2h-2zm50 0h2v2h-2zm-10 1h2v2h-2zm1 0h2v2h-2zm-105 1h2v2h-2zm83 0h2v2h-2zm4 0h2v2h-2zm-86 1h2v2h-2zm75 0h2v2h-2zm63 0h2v2h-2zm1 0h2v2h-2z" fill="#a088b4" opacity="0.58"/>
<path d="M0 0m68 3h3v3h-3zm54 2h3v3h-3zm-19 1h3v3h-3zm23 0h3v3h-3zm5 0h3v3h-3zm-64 1h3v3h-3zm18 0h3v3h-3zm17 0h3v3h-3zm-60 4h3v3h-3zm-38 1h3v3h-3zm11 0h3v3h-3zm16 0h3v3h-3zm108 0h3v3h-3zm-108 1h3v3h-3zm43 0h3v3h-3zm-20 1h3v3h-3zm46 0h3v3h-3zm16 1h3v3h-3zm13 0h3v3h-3zm-40 1h3v3h-3zm-40 1h3v3h-3zm62 0h3v3h-3zm-35 1h3v3h-3zm11 2h3v3h-3zm21 0h3v3h-3zm-44 1h3v3h-3zm79 0h3v3h-3zm-130 1h3v3h-3zm122 0h3v3h-3zm-53 1h3v3h-3zm-50 2h3v3h-3zm-13 1h3v3h-3zm8 1h3v3h-3zm9 1h3v3h-3zm42 1h3v3h-3zm37 1h3v3h-3zm-98 1h3v3h-3zm52 0h3v3h-3zm33 0h3v3h-3zm-45 1h3v3h-3zm50 1h3v3h-3zm-98 2h3v3h-3zm1 0h3v3h-3zm6 0h3v3h-3zm31 0h3v3h-3zm59 0h3v3h-3zm-47 1h3v3h-3zm72 0h3v3h-3zm-111 1h3v3h-3zm-6 1h3v3h-3zm83 0h3v3h-3zm-88 1h3v3h-3zm-1 1h3v3h-3zm18 0h3v3h-3zm84 1h3v3h-3zm-63 1h3v3h-3zm-34 1h3v3h-3zm24 0h3v3h-3zm42 1h3v3h-3zm-74 1h3v3h-3zm40 0h3v3h-3zm33 0h3v3h-3zm-3 1h3v3h-3zm17 0h3v3h-3zm-85 1h3v3h-3zm81 0h3v3h-3zm-30 1h3v3h-3zm22 0h3v3h-3zm-34 1h3v3h-3zm50 0h3v3h-3zm31 0h3v3h-3zm-86 2h3v3h-3zm8 0h3v3h-3zm46 0h3v3h-3zm37 1h3v3h-3zm-27 1h3v3h-3zm-38 1h3v3h-3zm34 0h3v3h-3zm44 0h3v3h-3zm-116 2h3v3h-3zm60 2h3v3h-3zm-82 1h3v3h-3zm9 0h3v3h-3zm59 1h3v3h-3zm9 2h3v3h-3zm36 0h3v3h-3zm-105 1h3v3h-3zm57 0h3v3h-3zm39 0h3v3h-3zm-18 1h3v3h-3zm1 1h3v3h-3zm-26 1h3v3h-3zm25 0h3v3h-3zm-91 2h3v3h-3zm10 2h3v3h-3zm119 0h3v3h-3zm-15 1h3v3h-3zm-114 1h3v3h-3zm46 0h3v3h-3zm10 0h3v3h-3zm-40 3h3v3h-3zm116 0h3v3h-3zm-73 1h3v3h-3zm-6 1h3v3h-3zm21 0h3v3h-3zm49 1h3v3h-3zm-118 1h3v3h-3zm128 1h3v3h-3zm11 0h3v3h-3zm-134 1h3v3h-3zm83 0h3v3h-3zm-92 1h3v3h-3zm9 0h3v3h-3zm18 0h3v3h-3zm18 1h3v3h-3zm86 1h3v3h-3zm-107 2h3v3h-3zm22 0h3v3h-3zm54 0h3v3h-3zm0 0h3v3h-3zm13 0h3v3h-3zm-69 1h3v3h-3zm73 0h3v3h-3zm-4 1h3v3h-3zm-96 3h3v3h-3zm-5 1h3v3h-3zm80 0h3v3h-3zm43 2h3v3h-3zm7 0h3v3h-3zm-129 1h3v3h-3zm10 1h3v3h-3zm115 1h3v3h-3zm-61 3h3v3h-3zm42 2h3v3h-3zm-64 3h3v3h-3zm5 1h3v3h-3zm-12 2h3v3h-3zm11 0h3v3h-3zm28 0h3v3h-3zm33 0h3v3h-3zm-120 5h3v3h-3zm26 0h3v3h-3zm50 0h3v3h-3zm-39 1h3v3h-3zm62 0h3v3h-3zm21 0h3v3h-3zm-69 1h3v3h-3zm87 0h3v3h-3zm-3 4h3v3h-3zm-25 2h3v3h-3zm-21 1h3v3h-3zm-56 4h3v3h-3zm102 0h3v3h-3zm-47 1h3v3h-3zm-35 1h3v3h-3zm17 0h3v3h-3zm-33 1h3v3h-3zm42 0h3v3h-3zm-6 2h3v3h-3zm22 1h3v3h-3zm39 0h3v3h-3zm-46 4h3v3h-3zm-38 1h3v3h-3zm47 0h3v3h-3zm-72 1h3v3h-3zm8 0h3v3h-3zm87 0h3v3h-3zm-1 1h3v3h-3zm-50 1h3v3h-3zm20 0h3v3h-3zm-88 1h3v3h-3zm62 1h3v3h-3zm42 2h3v3h-3zm-91 1h3v3h-3zm24 0h3v3h-3zm84 0h3v3h-3zm10 0h3v3h-3zm-61 2h3v3h-3z" fill="#ae9ac0" opacity="0.58"/>
<path d="M0 0m60 30h3v3h-3zm-27 2h3v3h-3zm12 1h3v3h-3zm95 15h3v3h-3zm-39 7h3v3h-3zm-19 11h3v3h-3zm-19 9h3v3h-3zm-14 7h3v3h-3zm34 7h3v3h-3zm13 3h3v3h-3zm-85 1h3v3h-3zm107 7h3v3h-3zm-4 4h3v3h-3zm22 5h3v3h-3zm-125 5h3v3h-3zm22 6h3v3h-3zm96 0h3v3h-3zm0 3h3v3h-3zm-94 2h3v3h-3z" fill="#a07060" opacity="0.45"/>
<path d="M0 0m77 18h2v2h-2zm24 25h2v2h-2zm14 9h2v2h-2zm-10 52h2v2h-2zm9 12h2v2h-2zm-32 7h2v2h-2zm5 4h2v2h-2zm-34 15h2v2h-2z" fill="#b08878" opacity="0.45"/>
<path d="M0 0m79 1h3v3h-3zm63 9h3v3h-3zm-102 23h3v3h-3zm102 0h3v3h-3zm-109 5h3v3h-3zm106 0h3v3h-3zm-30 14h3v3h-3zm24 22h3v3h-3zm-69 8h3v3h-3zm52 5h3v3h-3zm-80 3h3v3h-3zm65 19h3v3h-3zm-65 21h3v3h-3zm44 14h3v3h-3z" fill="#b08878" opacity="0.45"/>
<path d="M0 0m69 3h2v2h-2zm4 2h2v2h-2zm44 12h2v2h-2zm-92 12h2v2h-2zm32 15h2v2h-2zm76 4h2v2h-2zm-123 2h2v2h-2zm30 4h2v2h-2zm87 0h2v2h-2zm-17 4h2v2h-2zm-82 2h2v2h-2zm34 8h2v2h-2zm-27 26h2v2h-2zm88 2h2v2h-2zm-81 17h2v2h-2zm48 6h2v2h-2zm17 1h2v2h-2zm25 3h2v2h-2zm-118 7h2v2h-2z" fill="#a07060" opacity="0.45"/>
</g></g></g>
<g transform="translate(151.1 596)"><rect width="74.6" height="75" fill="#e9e3e6"/><g filter="url(#soft)">
<rect width="74.6" height="75" fill="#e9e3e6"/><g transform="scale(.5)">
<path d="M0 0m95 1h2v2h-2zm40 0h2v2h-2zm-25 1h2v2h-2zm-32 2h2v2h-2zm13 3h2v2h-2zm-35 1h2v2h-2zm50 0h2v2h-2zm-3 1h2v2h-2zm36 2h2v2h-2zm-52 3h2v2h-2zm-16 2h2v2h-2zm19 1h2v2h-2zm22 1h2v2h-2zm8 0h2v2h-2zm23 7h2v2h-2zm-64 1h2v2h-2zm16 0h2v2h-2zm46 0h2v2h-2zm-23 1h2v2h-2zm-60 1h2v2h-2zm62 2h2v2h-2zm-119 1h2v2h-2zm82 0h2v2h-2zm-68 1h2v2h-2zm-14 1h2v2h-2zm28 1h2v2h-2zm46 0h2v2h-2zm38 1h2v2h-2zm-58 2h2v2h-2zm27 0h2v2h-2zm3 0h2v2h-2zm40 0h2v2h-2zm-85 1h2v2h-2zm-16 1h2v2h-2zm91 1h2v2h-2zm17 1h2v2h-2zm-66 2h2v2h-2zm-28 1h2v2h-2zm2 0h2v2h-2zm18 1h2v2h-2zm-35 2h2v2h-2zm69 0h2v2h-2zm-68 1h2v2h-2zm90 0h2v2h-2zm24 3h2v2h-2zm-82 1h2v2h-2zm57 0h2v2h-2zm8 1h2v2h-2zm-119 1h2v2h-2zm70 3h2v2h-2zm-67 1h2v2h-2zm77 1h2v2h-2zm63 0h2v2h-2zm2 1h2v2h-2zm-128 1h2v2h-2zm2 1h2v2h-2zm83 0h2v2h-2zm-102 3h2v2h-2zm16 1h2v2h-2zm111 1h2v2h-2zm-68 2h2v2h-2zm55 0h2v2h-2zm22 1h2v2h-2zm-115 2h2v2h-2zm61 0h2v2h-2zm55 0h2v2h-2zm0 0h2v2h-2zm4 1h2v2h-2zm-99 1h2v2h-2zm30 0h2v2h-2zm18 0h2v2h-2zm32 0h2v2h-2zm-77 2h2v2h-2zm53 0h2v2h-2zm-46 2h2v2h-2zm-52 1h2v2h-2zm19 0h2v2h-2zm46 0h2v2h-2zm22 0h2v2h-2zm39 1h2v2h-2zm-113 1h2v2h-2zm112 0h2v2h-2zm-126 1h2v2h-2zm114 1h2v2h-2zm-46 1h2v2h-2zm57 1h2v2h-2zm-121 1h2v2h-2zm3 0h2v2h-2zm29 1h2v2h-2zm-34 1h2v2h-2zm68 0h2v2h-2zm-8 1h2v2h-2zm47 0h2v2h-2zm28 2h2v2h-2zm-79 1h2v2h-2zm55 0h2v2h-2zm-52 1h2v2h-2zm-16 1h2v2h-2zm68 0h2v2h-2zm-41 3h2v2h-2zm50 1h2v2h-2zm-20 1h2v2h-2zm22 1h2v2h-2zm-34 1h2v2h-2zm50 0h2v2h-2zm-107 3h2v2h-2zm94 0h2v2h-2zm-125 1h2v2h-2zm37 0h2v2h-2zm47 0h2v2h-2zm-73 5h2v2h-2zm99 1h2v2h-2zm24 0h2v2h-2zm-53 1h2v2h-2zm23 0h2v2h-2zm-61 1h2v2h-2zm-38 6h2v2h-2zm90 0h2v2h-2zm-61 1h2v2h-2zm58 3h2v2h-2zm-22 1h2v2h-2zm32 0h2v2h-2zm-103 1h2v2h-2zm55 0h2v2h-2zm57 0h2v2h-2zm-57 1h2v2h-2zm6 0h2v2h-2zm43 0h2v2h-2zm-60 1h2v2h-2zm28 1h2v2h-2zm63 2h2v2h-2zm-44 1h2v2h-2zm-59 1h2v2h-2zm90 1h2v2h-2zm-62 3h2v2h-2zm-11 3h2v2h-2zm56 0h2v2h-2zm10 0h2v2h-2zm-66 1h2v2h-2zm17 1h2v2h-2zm21 0h2v2h-2zm8 0h2v2h-2zm49 0h2v2h-2zm-96 1h2v2h-2zm2 0h2v2h-2zm-12 2h2v2h-2zm50 1h2v2h-2zm-45 2h2v2h-2z" fill="#a87272" opacity="0.68"/>
<path d="M0 0m45 0h2v2h-2zm43 3h2v2h-2zm-85 1h2v2h-2zm93 0h2v2h-2zm16 0h2v2h-2zm-73 1h2v2h-2zm64 0h2v2h-2zm0 1h2v2h-2zm20 1h2v2h-2zm-106 1h2v2h-2zm68 0h2v2h-2zm57 0h2v2h-2zm-73 1h2v2h-2zm30 0h2v2h-2zm-36 1h2v2h-2zm7 0h2v2h-2zm-39 2h2v2h-2zm31 0h2v2h-2zm10 0h2v2h-2zm34 1h2v2h-2zm-90 1h2v2h-2zm8 6h2v2h-2zm85 0h2v2h-2zm-72 1h2v2h-2zm29 1h2v2h-2zm76 1h2v2h-2zm-73 1h2v2h-2zm67 0h2v2h-2zm-17 1h2v2h-2zm4 3h2v2h-2zm0 0h2v2h-2zm-108 1h2v2h-2zm21 0h2v2h-2zm109 0h2v2h-2zm-91 1h2v2h-2zm55 0h2v2h-2zm-84 2h2v2h-2zm-1 4h2v2h-2zm-4 2h2v2h-2zm27 1h2v2h-2zm24 2h2v2h-2zm48 0h2v2h-2zm-34 1h2v2h-2zm-58 1h2v2h-2zm80 1h2v2h-2zm23 1h2v2h-2zm-50 3h2v2h-2zm-43 3h2v2h-2zm89 0h2v2h-2zm4 0h2v2h-2zm-2 3h2v2h-2zm-121 4h2v2h-2zm78 2h2v2h-2zm-54 1h2v2h-2zm25 0h2v2h-2zm16 1h2v2h-2zm19 0h2v2h-2zm1 0h2v2h-2zm-75 1h2v2h-2zm108 0h2v2h-2zm-58 1h2v2h-2zm38 0h2v2h-2zm-12 1h2v2h-2zm-55 3h2v2h-2zm32 0h2v2h-2zm69 0h2v2h-2zm-63 1h2v2h-2zm-56 2h2v2h-2zm29 0h2v2h-2zm38 0h2v2h-2zm-46 1h2v2h-2zm-7 1h2v2h-2zm19 1h2v2h-2zm11 0h2v2h-2zm-30 2h2v2h-2zm33 0h2v2h-2zm30 1h2v2h-2zm49 0h2v2h-2zm-140 1h2v2h-2zm25 0h2v2h-2zm47 0h2v2h-2zm-1 1h2v2h-2zm50 1h2v2h-2zm7 1h2v2h-2zm-74 3h2v2h-2zm17 0h2v2h-2zm1 1h2v2h-2zm13 0h2v2h-2zm-25 1h2v2h-2zm-2 1h2v2h-2zm66 0h2v2h-2zm-73 1h2v2h-2zm44 1h2v2h-2zm-58 1h2v2h-2zm0 1h2v2h-2zm62 0h2v2h-2zm-57 1h2v2h-2zm46 0h2v2h-2zm-6 1h2v2h-2zm41 0h2v2h-2zm-70 2h2v2h-2zm5 0h2v2h-2zm52 0h2v2h-2zm-80 1h2v2h-2zm80 0h2v2h-2zm-104 2h2v2h-2zm86 0h2v2h-2zm-27 1h2v2h-2zm8 0h2v2h-2zm-18 1h2v2h-2zm-23 1h2v2h-2zm68 1h2v2h-2zm18 0h2v2h-2zm-114 2h2v2h-2zm41 0h2v2h-2zm72 2h2v2h-2zm-89 2h2v2h-2zm109 1h2v2h-2zm-108 1h2v2h-2zm29 0h2v2h-2zm20 1h2v2h-2zm17 0h2v2h-2zm34 0h2v2h-2zm-98 1h2v2h-2zm3 0h2v2h-2zm49 0h2v2h-2zm32 0h2v2h-2zm-100 1h2v2h-2zm47 0h2v2h-2zm18 0h2v2h-2zm30 1h2v2h-2zm-90 1h2v2h-2zm120 0h2v2h-2zm-87 5h2v2h-2zm88 1h2v2h-2zm-119 2h2v2h-2zm3 0h2v2h-2zm6 0h2v2h-2zm5 0h2v2h-2zm54 2h2v2h-2zm23 0h2v2h-2zm-38 1h2v2h-2zm22 0h2v2h-2zm-43 1h2v2h-2zm41 2h2v2h-2zm9 0h2v2h-2zm-99 1h2v2h-2zm110 0h2v2h-2zm-104 1h2v2h-2zm25 1h2v2h-2zm-8 1h2v2h-2zm26 0h2v2h-2zm20 0h2v2h-2zm36 0h2v2h-2zm-19 1h2v2h-2zm-5 1h2v2h-2zm3 0h2v2h-2zm12 0h2v2h-2zm16 2h2v2h-2zm-11 1h2v2h-2zm-15 1h2v2h-2zm-88 1h2v2h-2zm47 0h2v2h-2zm58 1h2v2h-2zm-76 1h2v2h-2zm-32 1h2v2h-2z" fill="#8a4e5a" opacity="0.68"/>
<path d="M0 0m131 0h3v3h-3zm-102 1h3v3h-3zm78 0h3v3h-3zm25 0h3v3h-3zm-95 1h3v3h-3zm35 0h3v3h-3zm63 1h3v3h-3zm-117 1h3v3h-3zm2 0h3v3h-3zm0 0h3v3h-3zm0 0h3v3h-3zm38 0h3v3h-3zm9 0h3v3h-3zm11 0h3v3h-3zm18 0h3v3h-3zm-87 1h3v3h-3zm3 0h3v3h-3zm14 1h3v3h-3zm11 1h3v3h-3zm8 0h3v3h-3zm17 1h3v3h-3zm12 0h3v3h-3zm35 0h3v3h-3zm8 0h3v3h-3zm-95 1h3v3h-3zm46 0h3v3h-3zm-24 1h3v3h-3zm27 0h3v3h-3zm8 1h3v3h-3zm48 1h3v3h-3zm-122 1h3v3h-3zm90 0h3v3h-3zm-41 1h3v3h-3zm2 0h3v3h-3zm1 0h3v3h-3zm-57 1h3v3h-3zm32 0h3v3h-3zm18 0h3v3h-3zm-35 1h3v3h-3zm60 1h3v3h-3zm0 0h3v3h-3zm-31 1h3v3h-3zm-37 1h3v3h-3zm11 0h3v3h-3zm50 0h3v3h-3zm-58 1h3v3h-3zm94 1h3v3h-3zm-61 1h3v3h-3zm100 0h3v3h-3zm-106 1h3v3h-3zm7 0h3v3h-3zm7 0h3v3h-3zm36 1h3v3h-3zm13 0h3v3h-3zm2 0h3v3h-3zm21 0h3v3h-3zm14 0h3v3h-3zm-106 1h3v3h-3zm90 0h3v3h-3zm-114 1h3v3h-3zm59 0h3v3h-3zm34 0h3v3h-3zm-75 1h3v3h-3zm35 0h3v3h-3zm17 0h3v3h-3zm59 0h3v3h-3zm2 0h3v3h-3zm-111 1h3v3h-3zm13 0h3v3h-3zm32 0h3v3h-3zm25 1h3v3h-3zm33 1h3v3h-3zm-59 1h3v3h-3zm9 0h3v3h-3zm-36 1h3v3h-3zm46 1h3v3h-3zm-82 1h3v3h-3zm7 0h3v3h-3zm44 0h3v3h-3zm39 0h3v3h-3zm-3 1h3v3h-3zm31 0h3v3h-3zm12 0h3v3h-3zm-59 1h3v3h-3zm49 0h3v3h-3zm-119 1h3v3h-3zm9 0h3v3h-3zm18 1h3v3h-3zm63 0h3v3h-3zm-30 1h3v3h-3zm17 0h3v3h-3zm57 0h3v3h-3zm1 0h3v3h-3zm-97 1h3v3h-3zm55 0h3v3h-3zm15 0h3v3h-3zm-68 1h3v3h-3zm14 0h3v3h-3zm50 0h3v3h-3zm-61 2h3v3h-3zm32 0h3v3h-3zm-29 1h3v3h-3zm17 0h3v3h-3zm-8 1h3v3h-3zm25 0h3v3h-3zm-17 1h3v3h-3zm18 0h3v3h-3zm16 1h3v3h-3zm-106 1h3v3h-3zm97 0h3v3h-3zm6 0h3v3h-3zm16 0h3v3h-3zm-82 1h3v3h-3zm-31 1h3v3h-3zm80 0h3v3h-3zm34 0h3v3h-3zm0 0h3v3h-3zm-1 2h3v3h-3zm-118 1h3v3h-3zm68 0h3v3h-3zm9 1h3v3h-3zm-11 3h3v3h-3zm47 0h3v3h-3zm-103 1h3v3h-3zm0 0h3v3h-3zm15 0h3v3h-3zm16 0h3v3h-3zm54 0h3v3h-3zm-88 1h3v3h-3zm12 0h3v3h-3zm99 0h3v3h-3zm-46 1h3v3h-3zm0 0h3v3h-3zm10 1h3v3h-3zm4 0h3v3h-3zm12 0h3v3h-3zm23 1h3v3h-3zm-104 1h3v3h-3zm48 0h3v3h-3zm23 0h3v3h-3zm55 0h3v3h-3zm-67 1h3v3h-3zm8 0h3v3h-3zm36 0h3v3h-3zm-110 1h3v3h-3zm21 0h3v3h-3zm9 0h3v3h-3zm-14 1h3v3h-3zm104 0h3v3h-3zm3 1h3v3h-3zm-87 2h3v3h-3zm70 0h3v3h-3zm-39 1h3v3h-3zm-76 1h3v3h-3zm44 0h3v3h-3zm15 0h3v3h-3zm16 0h3v3h-3zm55 0h3v3h-3zm-31 1h3v3h-3zm-74 1h3v3h-3zm-22 1h3v3h-3zm73 0h3v3h-3zm25 0h3v3h-3zm-65 2h3v3h-3zm58 0h3v3h-3zm-65 1h3v3h-3zm26 0h3v3h-3zm62 0h3v3h-3zm-112 1h3v3h-3zm46 0h3v3h-3zm85 0h3v3h-3zm-32 2h3v3h-3zm-60 1h3v3h-3zm-29 1h3v3h-3zm10 1h3v3h-3zm63 0h3v3h-3zm-50 2h3v3h-3zm68 0h3v3h-3zm-86 1h3v3h-3zm93 0h3v3h-3zm28 0h3v3h-3zm-81 1h3v3h-3zm49 0h3v3h-3zm-81 1h3v3h-3zm48 0h3v3h-3zm4 0h3v3h-3zm-81 1h3v3h-3zm29 0h3v3h-3zm34 0h3v3h-3zm76 0h3v3h-3zm-129 1h3v3h-3zm60 0h3v3h-3zm-68 2h3v3h-3zm7 0h3v3h-3zm86 1h3v3h-3zm5 0h3v3h-3zm36 0h3v3h-3zm-129 2h3v3h-3zm59 0h3v3h-3zm12 0h3v3h-3zm-73 1h3v3h-3zm22 0h3v3h-3zm8 0h3v3h-3zm11 0h3v3h-3zm32 1h3v3h-3zm11 0h3v3h-3zm25 1h3v3h-3zm-99 1h3v3h-3zm11 1h3v3h-3zm0 1h3v3h-3zm31 0h3v3h-3zm72 0h3v3h-3zm7 0h3v3h-3zm-56 1h3v3h-3zm20 0h3v3h-3zm24 1h3v3h-3zm-118 1h3v3h-3zm-1 1h3v3h-3zm11 0h3v3h-3zm101 0h3v3h-3zm20 1h3v3h-3zm-100 1h3v3h-3zm5 0h3v3h-3zm94 0h3v3h-3zm-34 1h3v3h-3zm37 1h3v3h-3zm-5 1h3v3h-3zm-117 1h3v3h-3zm3 0h3v3h-3zm77 0h3v3h-3zm20 0h3v3h-3zm-97 2h3v3h-3zm12 0h3v3h-3zm-27 1h3v3h-3zm48 0h3v3h-3zm16 0h3v3h-3zm50 0h3v3h-3zm-51 1h3v3h-3zm6 0h3v3h-3zm-23 1h3v3h-3zm87 0h3v3h-3zm-118 1h3v3h-3zm-2 1h3v3h-3zm10 0h3v3h-3zm26 0h3v3h-3zm-1 1h3v3h-3zm23 0h3v3h-3zm69 0h3v3h-3zm-119 2h3v3h-3zm2 0h3v3h-3zm81 1h3v3h-3zm33 0h3v3h-3zm-8 1h3v3h-3zm-93 3h3v3h-3zm28 0h3v3h-3zm19 0h3v3h-3zm-33 1h3v3h-3zm90 0h3v3h-3zm-92 1h3v3h-3zm24 0h3v3h-3zm20 0h3v3h-3zm11 0h3v3h-3zm-50 1h3v3h-3zm34 0h3v3h-3zm19 0h3v3h-3zm-50 3h3v3h-3zm30 0h3v3h-3zm-3 1h3v3h-3zm-48 1h3v3h-3zm16 1h3v3h-3zm26 0h3v3h-3zm10 1h3v3h-3zm8 1h3v3h-3zm-61 1h3v3h-3zm-37 1h3v3h-3zm23 1h3v3h-3zm73 2h3v3h-3zm40 0h3v3h-3zm-34 1h3v3h-3zm38 0h3v3h-3zm2 0h3v3h-3zm1 0h3v3h-3zm-123 1h3v3h-3zm83 1h3v3h-3zm-43 1h3v3h-3zm54 0h3v3h-3zm4 1h3v3h-3z" fill="#9a5c68" opacity="0.68"/>
<path d="M0 0m102 0h3v3h-3zm32 0h3v3h-3zm-75 1h3v3h-3zm18 5h3v3h-3zm36 0h3v3h-3zm-102 1h3v3h-3zm25 0h3v3h-3zm32 0h3v3h-3zm77 0h3v3h-3zm-41 1h3v3h-3zm-14 1h3v3h-3zm48 0h3v3h-3zm-133 3h3v3h-3zm15 0h3v3h-3zm103 0h3v3h-3zm-90 1h3v3h-3zm18 0h3v3h-3zm-34 1h3v3h-3zm47 0h3v3h-3zm11 0h3v3h-3zm22 0h3v3h-3zm-42 1h3v3h-3zm48 0h3v3h-3zm-60 1h3v3h-3zm57 0h3v3h-3zm-76 2h3v3h-3zm22 0h3v3h-3zm31 0h3v3h-3zm-68 2h3v3h-3zm50 0h3v3h-3zm10 0h3v3h-3zm21 0h3v3h-3zm9 0h3v3h-3zm29 0h3v3h-3zm-127 1h3v3h-3zm32 0h3v3h-3zm48 0h3v3h-3zm4 0h3v3h-3zm27 0h3v3h-3zm34 0h3v3h-3zm-115 1h3v3h-3zm6 0h3v3h-3zm82 0h3v3h-3zm-117 2h3v3h-3zm23 0h3v3h-3zm21 1h3v3h-3zm38 0h3v3h-3zm-16 1h3v3h-3zm-23 1h3v3h-3zm20 0h3v3h-3zm-33 1h3v3h-3zm79 1h3v3h-3zm2 1h3v3h-3zm-67 1h3v3h-3zm70 0h3v3h-3zm25 0h3v3h-3zm-27 1h3v3h-3zm1 0h3v3h-3zm-114 1h3v3h-3zm62 0h3v3h-3zm79 0h3v3h-3zm-74 1h3v3h-3zm35 0h3v3h-3zm24 0h3v3h-3zm-120 1h3v3h-3zm8 0h3v3h-3zm47 0h3v3h-3zm55 0h3v3h-3zm-44 1h3v3h-3zm61 1h3v3h-3zm-123 2h3v3h-3zm38 0h3v3h-3zm26 0h3v3h-3zm16 0h3v3h-3zm20 0h3v3h-3zm-108 2h3v3h-3zm103 0h3v3h-3zm-46 1h3v3h-3zm61 0h3v3h-3zm-92 1h3v3h-3zm53 0h3v3h-3zm-82 1h3v3h-3zm14 0h3v3h-3zm7 0h3v3h-3zm2 1h3v3h-3zm65 1h3v3h-3zm10 1h3v3h-3zm23 0h3v3h-3zm-100 1h3v3h-3zm-20 1h3v3h-3zm21 0h3v3h-3zm15 0h3v3h-3zm44 0h3v3h-3zm-33 1h3v3h-3zm3 0h3v3h-3zm7 0h3v3h-3zm58 0h3v3h-3zm-27 2h3v3h-3zm-38 1h3v3h-3zm33 0h3v3h-3zm24 0h3v3h-3zm32 0h3v3h-3zm-102 1h3v3h-3zm13 0h3v3h-3zm1 0h3v3h-3zm-23 2h3v3h-3zm5 0h3v3h-3zm31 1h3v3h-3zm67 0h3v3h-3zm-116 1h3v3h-3zm114 0h3v3h-3zm-106 1h3v3h-3zm20 0h3v3h-3zm32 0h3v3h-3zm-29 2h3v3h-3zm81 2h3v3h-3zm3 0h3v3h-3zm-104 1h3v3h-3zm34 0h3v3h-3zm-57 1h3v3h-3zm125 1h3v3h-3zm-102 1h3v3h-3zm43 0h3v3h-3zm-44 1h3v3h-3zm31 0h3v3h-3zm19 0h3v3h-3zm15 0h3v3h-3zm-25 1h3v3h-3zm61 0h3v3h-3zm-104 1h3v3h-3zm-16 1h3v3h-3zm16 0h3v3h-3zm5 0h3v3h-3zm47 1h3v3h-3zm53 0h3v3h-3zm12 0h3v3h-3zm-77 1h3v3h-3zm22 0h3v3h-3zm-43 1h3v3h-3zm49 0h3v3h-3zm39 0h3v3h-3zm-43 2h3v3h-3zm-78 1h3v3h-3zm5 1h3v3h-3zm50 0h3v3h-3zm-4 1h3v3h-3zm-60 1h3v3h-3zm61 0h3v3h-3zm76 0h3v3h-3zm-136 1h3v3h-3zm125 0h3v3h-3zm-126 1h3v3h-3zm105 0h3v3h-3zm26 0h3v3h-3zm-102 1h3v3h-3zm117 0h3v3h-3zm-94 1h3v3h-3zm33 0h3v3h-3zm13 0h3v3h-3zm18 0h3v3h-3zm-111 1h3v3h-3zm6 1h3v3h-3zm10 0h3v3h-3zm47 0h3v3h-3zm46 0h3v3h-3zm20 0h3v3h-3zm6 0h3v3h-3zm6 0h3v3h-3zm-37 1h3v3h-3zm34 0h3v3h-3zm-137 1h3v3h-3zm69 0h3v3h-3zm40 0h3v3h-3zm30 0h3v3h-3zm-106 1h3v3h-3zm7 0h3v3h-3zm17 0h3v3h-3zm66 0h3v3h-3zm-40 1h3v3h-3zm25 1h3v3h-3zm-86 1h3v3h-3zm0 0h3v3h-3zm102 0h3v3h-3zm-10 1h3v3h-3zm25 0h3v3h-3zm-144 1h3v3h-3zm53 0h3v3h-3zm57 1h3v3h-3zm-1 1h3v3h-3zm-95 1h3v3h-3zm33 0h3v3h-3zm26 0h3v3h-3zm11 0h3v3h-3zm32 0h3v3h-3zm1 0h3v3h-3zm-29 1h3v3h-3zm3 0h3v3h-3zm43 0h3v3h-3zm-33 1h3v3h-3zm25 0h3v3h-3zm-116 1h3v3h-3zm18 0h3v3h-3zm112 0h3v3h-3zm-111 1h3v3h-3zm36 0h3v3h-3zm-65 2h3v3h-3zm13 0h3v3h-3zm100 0h3v3h-3zm21 0h3v3h-3zm-74 1h3v3h-3zm54 0h3v3h-3zm-68 1h3v3h-3zm28 0h3v3h-3zm2 0h3v3h-3zm34 1h3v3h-3zm28 1h3v3h-3zm-100 1h3v3h-3zm16 0h3v3h-3zm23 0h3v3h-3zm12 0h3v3h-3zm54 0h3v3h-3zm-128 1h3v3h-3zm46 0h3v3h-3zm10 1h3v3h-3zm26 0h3v3h-3zm45 0h3v3h-3zm-139 1h3v3h-3zm1 0h3v3h-3zm1 0h3v3h-3zm32 0h3v3h-3zm74 0h3v3h-3zm7 0h3v3h-3zm13 0h3v3h-3zm-20 1h3v3h-3zm32 1h3v3h-3zm-95 1h3v3h-3zm50 0h3v3h-3zm-85 2h3v3h-3zm45 0h3v3h-3zm-23 1h3v3h-3zm58 0h3v3h-3zm-72 3h3v3h-3zm10 0h3v3h-3zm39 0h3v3h-3zm57 0h3v3h-3zm-69 1h3v3h-3zm-21 1h3v3h-3zm-15 1h3v3h-3zm9 0h3v3h-3zm39 0h3v3h-3zm-62 1h3v3h-3zm80 0h3v3h-3zm4 0h3v3h-3zm52 1h3v3h-3zm-134 1h3v3h-3zm6 0h3v3h-3zm13 0h3v3h-3zm98 0h3v3h-3zm-125 1h3v3h-3zm25 0h3v3h-3zm77 1h3v3h-3zm-102 1h3v3h-3zm58 0h3v3h-3zm23 1h3v3h-3zm-80 1h3v3h-3zm137 0h3v3h-3zm-132 1h3v3h-3zm28 1h3v3h-3zm49 0h3v3h-3zm11 0h3v3h-3zm-39 1h3v3h-3zm7 0h3v3h-3zm32 0h3v3h-3zm28 1h3v3h-3zm-96 2h3v3h-3zm44 0h3v3h-3zm67 0h3v3h-3zm-98 1h3v3h-3zm-31 1h3v3h-3zm45 0h3v3h-3zm-33 2h3v3h-3zm40 0h3v3h-3zm81 0h3v3h-3zm-69 2h3v3h-3zm30 0h3v3h-3zm-88 1h3v3h-3zm114 0h3v3h-3zm9 0h3v3h-3zm-93 1h3v3h-3zm48 0h3v3h-3zm35 0h3v3h-3zm-64 1h3v3h-3zm16 1h3v3h-3z" fill="#a87272" opacity="0.68"/>
<path d="M0 0m7 3h2v2h-2zm3 1h2v2h-2zm35 0h2v2h-2zm16 5h2v2h-2zm23 0h2v2h-2zm13 1h2v2h-2zm2 2h2v2h-2zm11 0h2v2h-2zm11 1h2v2h-2zm-121 2h2v2h-2zm65 0h2v2h-2zm3 0h2v2h-2zm-2 1h2v2h-2zm-49 2h2v2h-2zm64 0h2v2h-2zm-2 2h2v2h-2zm38 0h2v2h-2zm-94 1h2v2h-2zm47 3h2v2h-2zm-51 2h2v2h-2zm64 0h2v2h-2zm57 3h2v2h-2zm-38 1h2v2h-2zm-66 1h2v2h-2zm63 1h2v2h-2zm4 1h2v2h-2zm11 3h2v2h-2zm24 1h2v2h-2zm-76 1h2v2h-2zm-62 2h2v2h-2zm65 0h2v2h-2zm6 5h2v2h-2zm42 1h2v2h-2zm2 0h2v2h-2zm-57 1h2v2h-2zm56 0h2v2h-2zm29 1h2v2h-2zm1 4h2v2h-2zm-53 3h2v2h-2zm-44 1h2v2h-2zm21 2h2v2h-2zm77 1h2v2h-2zm-77 1h2v2h-2zm52 0h2v2h-2zm-120 7h2v2h-2zm84 1h2v2h-2zm22 0h2v2h-2zm24 0h2v2h-2zm-102 1h2v2h-2zm43 0h2v2h-2zm9 2h2v2h-2zm-43 3h2v2h-2zm44 1h2v2h-2zm-55 3h2v2h-2zm36 0h2v2h-2zm55 0h2v2h-2zm-117 2h2v2h-2zm7 0h2v2h-2zm31 3h2v2h-2zm3 0h2v2h-2zm52 2h2v2h-2zm-1 2h2v2h-2zm-8 1h2v2h-2zm9 0h2v2h-2zm54 0h2v2h-2zm-12 1h2v2h-2zm-24 2h2v2h-2zm-107 1h2v2h-2zm99 0h2v2h-2zm9 0h2v2h-2zm-100 1h2v2h-2zm-12 4h2v2h-2zm0 0h2v2h-2zm6 1h2v2h-2zm100 3h2v2h-2zm-67 1h2v2h-2zm56 0h2v2h-2zm3 0h2v2h-2zm23 2h2v2h-2zm-36 1h2v2h-2zm9 0h2v2h-2zm-53 2h2v2h-2zm27 0h2v2h-2zm-29 1h2v2h-2zm88 0h2v2h-2zm-64 1h2v2h-2zm33 0h2v2h-2zm22 0h2v2h-2zm-86 1h2v2h-2zm24 2h2v2h-2zm-53 2h2v2h-2zm91 0h2v2h-2zm1 1h2v2h-2zm-58 2h2v2h-2zm64 0h2v2h-2zm25 2h2v2h-2zm-96 1h2v2h-2zm59 0h2v2h-2zm-75 1h2v2h-2zm17 0h2v2h-2zm40 0h2v2h-2zm19 1h2v2h-2zm24 0h2v2h-2zm-65 1h2v2h-2zm8 0h2v2h-2zm13 0h2v2h-2zm72 0h2v2h-2zm-47 4h2v2h-2zm52 2h2v2h-2zm-99 3h2v2h-2zm58 0h2v2h-2zm25 0h2v2h-2zm-73 1h2v2h-2zm61 0h2v2h-2zm-45 1h2v2h-2zm30 0h2v2h-2zm-50 4h2v2h-2zm16 1h2v2h-2zm-48 1h2v2h-2zm-1 1h2v2h-2zm105 1h2v2h-2zm-104 1h2v2h-2zm107 2h2v2h-2zm-15 1h2v2h-2zm-14 1h2v2h-2zm12 1h2v2h-2z" fill="#9a5c68" opacity="0.68"/>
<path d="M0 0m19 2h3v3h-3zm90 0h3v3h-3zm34 0h3v3h-3zm-83 2h3v3h-3zm29 3h3v3h-3zm24 0h3v3h-3zm-108 1h3v3h-3zm39 0h3v3h-3zm15 0h3v3h-3zm68 0h3v3h-3zm-112 1h3v3h-3zm49 0h3v3h-3zm75 1h3v3h-3zm-138 1h3v3h-3zm87 0h3v3h-3zm15 1h3v3h-3zm-92 1h3v3h-3zm5 0h3v3h-3zm29 0h3v3h-3zm36 0h3v3h-3zm-32 1h3v3h-3zm94 0h3v3h-3zm-8 1h3v3h-3zm-88 1h3v3h-3zm13 0h3v3h-3zm39 0h3v3h-3zm-99 1h3v3h-3zm96 0h3v3h-3zm30 0h3v3h-3zm-6 1h3v3h-3zm-78 1h3v3h-3zm-27 1h3v3h-3zm36 0h3v3h-3zm51 1h3v3h-3zm2 0h3v3h-3zm14 0h3v3h-3zm27 0h3v3h-3zm-129 1h3v3h-3zm24 0h3v3h-3zm3 0h3v3h-3zm2 0h3v3h-3zm88 0h3v3h-3zm-14 2h3v3h-3zm-85 1h3v3h-3zm36 1h3v3h-3zm1 0h3v3h-3zm26 1h3v3h-3zm23 0h3v3h-3zm-71 1h3v3h-3zm20 0h3v3h-3zm74 0h3v3h-3zm-13 1h3v3h-3zm-95 1h3v3h-3zm26 0h3v3h-3zm33 0h3v3h-3zm45 0h3v3h-3zm-34 1h3v3h-3zm29 0h3v3h-3zm-81 1h3v3h-3zm21 0h3v3h-3zm26 0h3v3h-3zm-65 1h3v3h-3zm6 0h3v3h-3zm13 0h3v3h-3zm45 0h3v3h-3zm-52 2h3v3h-3zm29 0h3v3h-3zm-55 1h3v3h-3zm49 0h3v3h-3zm15 1h3v3h-3zm-72 1h3v3h-3zm56 0h3v3h-3zm2 0h3v3h-3zm5 0h3v3h-3zm-18 1h3v3h-3zm30 0h3v3h-3zm15 0h3v3h-3zm-20 1h3v3h-3zm-35 1h3v3h-3zm-33 1h3v3h-3zm74 0h3v3h-3zm-30 2h3v3h-3zm48 0h3v3h-3zm-27 1h3v3h-3zm45 0h3v3h-3zm16 0h3v3h-3zm-62 1h3v3h-3zm25 1h3v3h-3zm-67 2h3v3h-3zm103 1h3v3h-3zm-84 1h3v3h-3zm-54 1h3v3h-3zm3 0h3v3h-3zm2 0h3v3h-3zm63 0h3v3h-3zm22 0h3v3h-3zm42 0h3v3h-3zm-39 1h3v3h-3zm-82 3h3v3h-3zm19 0h3v3h-3zm35 0h3v3h-3zm-67 1h3v3h-3zm137 0h3v3h-3zm-115 1h3v3h-3zm5 0h3v3h-3zm75 0h3v3h-3zm-49 1h3v3h-3zm30 0h3v3h-3zm-76 1h3v3h-3zm89 0h3v3h-3zm40 0h3v3h-3zm-88 1h3v3h-3zm50 0h3v3h-3zm-84 1h3v3h-3zm93 0h3v3h-3zm9 0h3v3h-3zm-39 3h3v3h-3zm29 0h3v3h-3zm11 0h3v3h-3zm-106 1h3v3h-3zm104 1h3v3h-3zm-21 1h3v3h-3zm37 0h3v3h-3zm11 0h3v3h-3zm-93 2h3v3h-3zm69 0h3v3h-3zm-61 1h3v3h-3zm25 0h3v3h-3zm57 0h3v3h-3zm-118 1h3v3h-3zm33 0h3v3h-3zm41 1h3v3h-3zm19 0h3v3h-3zm-109 1h3v3h-3zm43 0h3v3h-3zm2 0h3v3h-3zm36 0h3v3h-3zm53 0h3v3h-3zm-88 1h3v3h-3zm7 0h3v3h-3zm37 0h3v3h-3zm-14 1h3v3h-3zm56 0h3v3h-3zm-57 1h3v3h-3zm48 0h3v3h-3zm3 0h3v3h-3zm-36 1h3v3h-3zm-75 1h3v3h-3zm34 0h3v3h-3zm13 0h3v3h-3zm-33 1h3v3h-3zm-11 2h3v3h-3zm37 0h3v3h-3zm-2 1h3v3h-3zm14 0h3v3h-3zm33 1h3v3h-3zm1 0h3v3h-3zm18 0h3v3h-3zm-124 1h3v3h-3zm78 0h3v3h-3zm-73 1h3v3h-3zm47 0h3v3h-3zm-13 1h3v3h-3zm41 0h3v3h-3zm-60 1h3v3h-3zm88 1h3v3h-3zm9 1h3v3h-3zm8 0h3v3h-3zm-52 1h3v3h-3zm21 0h3v3h-3zm-79 1h3v3h-3zm20 0h3v3h-3zm101 0h3v3h-3zm-114 1h3v3h-3zm62 1h3v3h-3zm-12 2h3v3h-3zm-16 3h3v3h-3zm-20 1h3v3h-3zm22 0h3v3h-3zm80 0h3v3h-3zm-109 1h3v3h-3zm-4 1h3v3h-3zm35 0h3v3h-3zm18 0h3v3h-3zm-72 1h3v3h-3zm30 0h3v3h-3zm10 0h3v3h-3zm47 0h3v3h-3zm10 0h3v3h-3zm32 0h3v3h-3zm-101 1h3v3h-3zm16 0h3v3h-3zm56 0h3v3h-3zm21 0h3v3h-3zm5 0h3v3h-3zm-95 2h3v3h-3zm48 0h3v3h-3zm2 0h3v3h-3zm39 0h3v3h-3zm-109 1h3v3h-3zm-15 1h3v3h-3zm9 0h3v3h-3zm47 0h3v3h-3zm33 0h3v3h-3zm41 0h3v3h-3zm-33 1h3v3h-3zm-24 1h3v3h-3zm60 0h3v3h-3zm5 0h3v3h-3zm-7 1h3v3h-3zm-68 1h3v3h-3zm13 0h3v3h-3zm27 0h3v3h-3zm-102 2h3v3h-3zm1 0h3v3h-3zm1 0h3v3h-3zm13 0h3v3h-3zm20 1h3v3h-3zm44 0h3v3h-3zm-25 1h3v3h-3zm45 0h3v3h-3zm-102 1h3v3h-3zm46 0h3v3h-3zm63 1h3v3h-3zm30 0h3v3h-3zm-94 1h3v3h-3zm-15 1h3v3h-3zm67 1h3v3h-3zm13 0h3v3h-3zm11 0h3v3h-3zm11 0h3v3h-3zm-60 1h3v3h-3zm32 0h3v3h-3zm15 0h3v3h-3zm-44 1h3v3h-3zm25 0h3v3h-3zm30 0h3v3h-3zm-114 1h3v3h-3zm37 0h3v3h-3zm4 0h3v3h-3zm-39 1h3v3h-3zm38 0h3v3h-3zm73 0h3v3h-3zm4 0h3v3h-3zm-43 1h3v3h-3zm52 1h3v3h-3zm3 0h3v3h-3zm-125 2h3v3h-3zm6 1h3v3h-3zm88 0h3v3h-3zm-72 1h3v3h-3zm14 0h3v3h-3zm57 0h3v3h-3zm-108 1h3v3h-3zm119 0h3v3h-3zm-90 3h3v3h-3zm2 1h3v3h-3zm14 0h3v3h-3zm29 0h3v3h-3zm59 1h3v3h-3zm-49 1h3v3h-3zm24 0h3v3h-3zm15 0h3v3h-3zm-104 1h3v3h-3zm79 0h3v3h-3zm-1 1h3v3h-3zm-102 1h3v3h-3zm82 0h3v3h-3zm11 0h3v3h-3zm-74 3h3v3h-3zm18 0h3v3h-3zm10 0h3v3h-3zm-14 1h3v3h-3zm67 0h3v3h-3zm-4 1h3v3h-3zm15 0h3v3h-3zm-79 1h3v3h-3zm6 0h3v3h-3zm24 0h3v3h-3zm7 0h3v3h-3z" fill="#8a4e5a" opacity="0.68"/>
<path d="M0 0m137 0h2v2h-2zm-115 1h2v2h-2zm13 0h2v2h-2zm6 1h2v2h-2zm37 0h2v2h-2zm44 1h2v2h-2zm14 0h2v2h-2zm-97 1h2v2h-2zm70 0h2v2h-2zm3 0h2v2h-2zm-111 1h2v2h-2zm88 0h2v2h-2zm-70 1h2v2h-2zm28 0h2v2h-2zm50 1h2v2h-2zm-72 1h2v2h-2zm37 0h2v2h-2zm67 0h2v2h-2zm18 3h2v2h-2zm-108 3h2v2h-2zm70 0h2v2h-2zm-40 1h2v2h-2zm74 0h2v2h-2zm-133 3h2v2h-2zm60 0h2v2h-2zm28 0h2v2h-2zm-62 1h2v2h-2zm10 1h2v2h-2zm28 0h2v2h-2zm28 0h2v2h-2zm17 0h2v2h-2zm-114 1h2v2h-2zm16 0h2v2h-2zm11 1h2v2h-2zm59 0h2v2h-2zm-82 1h2v2h-2zm66 0h2v2h-2zm-51 1h2v2h-2zm12 0h2v2h-2zm68 0h2v2h-2zm-59 1h2v2h-2zm11 0h2v2h-2zm46 1h2v2h-2zm41 0h2v2h-2zm-79 1h2v2h-2zm-20 2h2v2h-2zm95 0h2v2h-2zm3 0h2v2h-2zm-132 1h2v2h-2zm11 1h2v2h-2zm105 0h2v2h-2zm17 0h2v2h-2zm-2 1h2v2h-2zm-135 2h2v2h-2zm70 0h2v2h-2zm-39 1h2v2h-2zm23 0h2v2h-2zm-25 1h2v2h-2zm21 0h2v2h-2zm-15 1h2v2h-2zm59 0h2v2h-2zm46 0h2v2h-2zm-129 1h2v2h-2zm-17 2h2v2h-2zm11 0h2v2h-2zm92 0h2v2h-2zm8 0h2v2h-2zm-100 2h2v2h-2zm29 0h2v2h-2zm79 0h2v2h-2zm-105 1h2v2h-2zm133 0h2v2h-2zm-24 2h2v2h-2zm2 1h2v2h-2zm-23 1h2v2h-2zm15 1h2v2h-2zm20 0h2v2h-2zm-87 2h2v2h-2zm15 0h2v2h-2zm-48 3h2v2h-2zm56 0h2v2h-2zm-53 1h2v2h-2zm-6 1h2v2h-2zm58 0h2v2h-2zm-53 1h2v2h-2zm7 0h2v2h-2zm43 1h2v2h-2zm18 0h2v2h-2zm20 1h2v2h-2zm-60 1h2v2h-2zm47 0h2v2h-2zm-84 1h2v2h-2zm66 1h2v2h-2zm-61 1h2v2h-2zm116 0h2v2h-2zm-19 1h2v2h-2zm-16 1h2v2h-2zm44 0h2v2h-2zm-3 1h2v2h-2zm-96 1h2v2h-2zm-23 1h2v2h-2zm25 0h2v2h-2zm-22 1h2v2h-2zm-17 1h2v2h-2zm13 0h2v2h-2zm42 1h2v2h-2zm3 0h2v2h-2zm17 0h2v2h-2zm6 0h2v2h-2zm59 0h2v2h-2zm-104 1h2v2h-2zm3 0h2v2h-2zm12 0h2v2h-2zm62 0h2v2h-2zm-89 1h2v2h-2zm41 0h2v2h-2zm23 0h2v2h-2zm15 0h2v2h-2zm-9 1h2v2h-2zm-71 1h2v2h-2zm22 0h2v2h-2zm6 0h2v2h-2zm14 0h2v2h-2zm10 0h2v2h-2zm33 0h2v2h-2zm27 2h2v2h-2zm4 0h2v2h-2zm-52 1h2v2h-2zm-20 1h2v2h-2zm42 0h2v2h-2zm18 1h2v2h-2zm-53 2h2v2h-2zm14 0h2v2h-2zm-17 1h2v2h-2zm33 0h2v2h-2zm-15 1h2v2h-2zm14 1h2v2h-2zm-85 2h2v2h-2zm31 0h2v2h-2zm62 1h2v2h-2zm-113 2h2v2h-2zm73 0h2v2h-2zm-69 1h2v2h-2zm2 0h2v2h-2zm128 0h2v2h-2zm-61 1h2v2h-2zm2 0h2v2h-2zm-26 1h2v2h-2zm15 0h2v2h-2zm2 0h2v2h-2zm62 0h2v2h-2zm-104 1h2v2h-2zm16 0h2v2h-2zm6 2h2v2h-2zm44 0h2v2h-2zm-81 1h2v2h-2zm1 0h2v2h-2zm74 0h2v2h-2zm11 0h2v2h-2zm43 0h2v2h-2zm-135 2h2v2h-2zm103 0h2v2h-2zm32 0h2v2h-2zm-42 1h2v2h-2zm9 0h2v2h-2zm33 1h2v2h-2zm-21 1h2v2h-2zm-68 1h2v2h-2zm28 0h2v2h-2zm2 0h2v2h-2zm-77 1h2v2h-2zm18 0h2v2h-2zm30 0h2v2h-2zm59 1h2v2h-2zm-100 1h2v2h-2zm7 0h2v2h-2zm14 1h2v2h-2zm37 0h2v2h-2zm-29 1h2v2h-2zm39 0h2v2h-2zm4 0h2v2h-2zm52 0h2v2h-2zm-82 2h2v2h-2zm18 0h2v2h-2zm34 0h2v2h-2zm-87 1h2v2h-2zm7 0h2v2h-2zm93 1h2v2h-2zm-115 1h2v2h-2zm111 0h2v2h-2zm-70 1h2v2h-2zm12 0h2v2h-2zm72 2h2v2h-2zm-44 1h2v2h-2zm39 0h2v2h-2zm-120 1h2v2h-2zm54 2h2v2h-2zm44 0h2v2h-2zm8 0h2v2h-2zm-106 1h2v2h-2zm107 0h2v2h-2zm-93 1h2v2h-2zm23 0h2v2h-2zm30 0h2v2h-2zm70 0h2v2h-2zm3 0h2v2h-2zm0 1h2v2h-2zm-116 1h2v2h-2zm3 0h2v2h-2zm48 0h2v2h-2zm-45 1h2v2h-2zm103 0h2v2h-2zm-62 1h2v2h-2zm16 0h2v2h-2zm-34 1h2v2h-2zm24 0h2v2h-2zm32 0h2v2h-2zm-89 1h2v2h-2zm66 0h2v2h-2zm-54 1h2v2h-2zm25 1h2v2h-2zm73 0h2v2h-2zm-49 1h2v2h-2zm-59 1h2v2h-2zm74 0h2v2h-2zm24 0h2v2h-2zm-118 1h2v2h-2zm2 0h2v2h-2zm18 0h2v2h-2zm-13 1h2v2h-2zm43 0h2v2h-2zm-8 1h2v2h-2zm18 0h2v2h-2zm15 0h2v2h-2zm43 0h2v2h-2zm17 1h2v2h-2zm-104 1h2v2h-2zm-34 1h2v2h-2zm95 0h2v2h-2zm-50 1h2v2h-2zm48 0h2v2h-2zm18 0h2v2h-2zm-97 1h2v2h-2zm17 0h2v2h-2zm99 0h2v2h-2zm8 0h2v2h-2zm3 0h2v2h-2zm-114 1h2v2h-2zm78 0h2v2h-2zm-76 1h2v2h-2zm10 0h2v2h-2zm14 0h2v2h-2zm-54 1h2v2h-2zm64 0h2v2h-2zm-61 1h2v2h-2zm7 0h2v2h-2zm99 0h2v2h-2zm-75 1h2v2h-2zm18 0h2v2h-2zm22 0h2v2h-2zm29 0h2v2h-2zm-87 1h2v2h-2zm84 0h2v2h-2zm44 0h2v2h-2zm-138 1h2v2h-2zm13 0h2v2h-2zm87 1h2v2h-2zm36 0h2v2h-2zm-142 1h2v2h-2zm31 0h2v2h-2zm24 0h2v2h-2zm2 0h2v2h-2zm83 0h2v2h-2z" fill="#8a6a8a" opacity="0.7"/>
<path d="M0 0m7 2h3v3h-3zm13 0h3v3h-3zm40 0h3v3h-3zm-41 1h3v3h-3zm5 0h3v3h-3zm-5 2h3v3h-3zm44 0h3v3h-3zm-43 2h3v3h-3zm67 0h3v3h-3zm-45 2h3v3h-3zm23 1h3v3h-3zm-42 2h3v3h-3zm5 1h3v3h-3zm5 1h3v3h-3zm14 0h3v3h-3zm99 1h3v3h-3zm-49 1h3v3h-3zm-24 1h3v3h-3zm-16 3h3v3h-3zm24 0h3v3h-3zm-77 2h3v3h-3zm108 2h3v3h-3zm-63 1h3v3h-3zm48 0h3v3h-3zm40 0h3v3h-3zm-93 1h3v3h-3zm38 1h3v3h-3zm47 0h3v3h-3zm2 0h3v3h-3zm-59 2h3v3h-3zm46 0h3v3h-3zm3 0h3v3h-3zm-61 1h3v3h-3zm-51 1h3v3h-3zm98 0h3v3h-3zm-80 1h3v3h-3zm61 0h3v3h-3zm50 0h3v3h-3zm-109 1h3v3h-3zm6 0h3v3h-3zm87 2h3v3h-3zm-85 2h3v3h-3zm87 0h3v3h-3zm-103 1h3v3h-3zm69 0h3v3h-3zm-76 1h3v3h-3zm4 0h3v3h-3zm50 0h3v3h-3zm47 1h3v3h-3zm-27 1h3v3h-3zm-61 3h3v3h-3zm83 2h3v3h-3zm2 2h3v3h-3zm-85 1h3v3h-3zm95 0h3v3h-3zm-108 1h3v3h-3zm39 0h3v3h-3zm33 0h3v3h-3zm-78 2h3v3h-3zm-3 1h3v3h-3zm78 0h3v3h-3zm46 0h3v3h-3zm-40 3h3v3h-3zm19 0h3v3h-3zm36 0h3v3h-3zm-140 1h3v3h-3zm82 1h3v3h-3zm13 0h3v3h-3zm0 2h3v3h-3zm14 0h3v3h-3zm-53 1h3v3h-3zm-6 1h3v3h-3zm-35 2h3v3h-3zm85 2h3v3h-3zm-56 1h3v3h-3zm11 0h3v3h-3zm-53 2h3v3h-3zm25 1h3v3h-3zm-8 1h3v3h-3zm101 1h3v3h-3zm-1 1h3v3h-3zm-106 1h3v3h-3zm62 0h3v3h-3zm21 0h3v3h-3zm-22 1h3v3h-3zm65 2h3v3h-3zm-131 2h3v3h-3zm1 0h3v3h-3zm46 0h3v3h-3zm16 2h3v3h-3zm-36 1h3v3h-3zm91 0h3v3h-3zm-90 1h3v3h-3zm29 0h3v3h-3zm56 0h3v3h-3zm-113 2h3v3h-3zm60 0h3v3h-3zm-14 1h3v3h-3zm45 2h3v3h-3zm-24 2h3v3h-3zm63 0h3v3h-3zm-41 1h3v3h-3zm-42 1h3v3h-3zm-45 1h3v3h-3zm79 1h3v3h-3zm7 0h3v3h-3zm24 1h3v3h-3zm-37 1h3v3h-3zm-62 2h3v3h-3zm-6 1h3v3h-3zm85 1h3v3h-3zm-102 3h3v3h-3zm3 0h3v3h-3zm107 2h3v3h-3zm-30 1h3v3h-3zm34 0h3v3h-3zm-83 2h3v3h-3zm21 0h3v3h-3zm37 0h3v3h-3zm-70 1h3v3h-3zm10 3h3v3h-3zm103 1h3v3h-3zm-34 1h3v3h-3zm21 0h3v3h-3zm6 3h3v3h-3zm16 0h3v3h-3zm-80 5h3v3h-3zm-26 2h3v3h-3zm28 0h3v3h-3zm17 0h3v3h-3zm-78 1h3v3h-3zm35 0h3v3h-3zm-12 1h3v3h-3zm58 2h3v3h-3zm26 2h3v3h-3zm10 3h3v3h-3zm-72 1h3v3h-3zm34 0h3v3h-3zm-72 4h3v3h-3zm64 0h3v3h-3zm-46 1h3v3h-3zm25 0h3v3h-3zm-32 1h3v3h-3zm26 0h3v3h-3zm-36 1h3v3h-3zm67 0h3v3h-3zm32 0h3v3h-3zm0 0h3v3h-3zm-82 2h3v3h-3zm61 0h3v3h-3zm-67 1h3v3h-3zm22 0h3v3h-3zm68 1h3v3h-3zm7 2h3v3h-3z" fill="#8a6a8a" opacity="0.7"/>
<path d="M0 0m23 0h2v2h-2zm113 1h2v2h-2zm-114 4h2v2h-2zm106 0h2v2h-2zm9 0h2v2h-2zm4 2h2v2h-2zm-117 1h2v2h-2zm14 2h2v2h-2zm106 0h2v2h-2zm-131 1h2v2h-2zm84 0h2v2h-2zm0 0h2v2h-2zm-75 1h2v2h-2zm-10 1h2v2h-2zm40 0h2v2h-2zm92 0h2v2h-2zm-75 1h2v2h-2zm-4 1h2v2h-2zm-13 1h2v2h-2zm9 0h2v2h-2zm-51 2h2v2h-2zm55 0h2v2h-2zm6 0h2v2h-2zm9 1h2v2h-2zm43 0h2v2h-2zm-31 1h2v2h-2zm3 0h2v2h-2zm10 0h2v2h-2zm0 0h2v2h-2zm24 0h2v2h-2zm-73 1h2v2h-2zm30 0h2v2h-2zm7 1h2v2h-2zm4 0h2v2h-2zm48 0h2v2h-2zm-127 1h2v2h-2zm25 0h2v2h-2zm-37 1h2v2h-2zm118 0h2v2h-2zm-105 1h2v2h-2zm32 0h2v2h-2zm4 1h2v2h-2zm12 0h2v2h-2zm30 0h2v2h-2zm4 0h2v2h-2zm6 0h2v2h-2zm32 0h2v2h-2zm-77 1h2v2h-2zm36 0h2v2h-2zm-60 1h2v2h-2zm-19 1h2v2h-2zm10 0h2v2h-2zm30 0h2v2h-2zm6 0h2v2h-2zm-65 1h2v2h-2zm6 0h2v2h-2zm21 0h2v2h-2zm120 1h2v2h-2zm-85 1h2v2h-2zm28 1h2v2h-2zm-50 1h2v2h-2zm-5 1h2v2h-2zm8 0h2v2h-2zm98 0h2v2h-2zm-62 1h2v2h-2zm16 0h2v2h-2zm-85 1h2v2h-2zm18 0h2v2h-2zm37 0h2v2h-2zm-3 1h2v2h-2zm42 0h2v2h-2zm43 0h2v2h-2zm-86 2h2v2h-2zm36 0h2v2h-2zm-7 1h2v2h-2zm41 0h2v2h-2zm-119 1h2v2h-2zm134 0h2v2h-2zm-17 1h2v2h-2zm-108 1h2v2h-2zm95 0h2v2h-2zm11 0h2v2h-2zm14 0h2v2h-2zm-69 2h2v2h-2zm8 0h2v2h-2zm60 0h2v2h-2zm-103 2h2v2h-2zm74 0h2v2h-2zm-94 2h2v2h-2zm82 0h2v2h-2zm-16 1h2v2h-2zm62 0h2v2h-2zm-145 2h2v2h-2zm56 0h2v2h-2zm33 0h2v2h-2zm-56 1h2v2h-2zm8 0h2v2h-2zm58 2h2v2h-2zm46 2h2v2h-2zm-8 1h2v2h-2zm-129 1h2v2h-2zm26 0h2v2h-2zm65 2h2v2h-2zm41 0h2v2h-2zm2 0h2v2h-2zm4 0h2v2h-2zm-129 1h2v2h-2zm24 0h2v2h-2zm32 0h2v2h-2zm23 0h2v2h-2zm30 0h2v2h-2zm-99 1h2v2h-2zm30 0h2v2h-2zm-46 1h2v2h-2zm53 0h2v2h-2zm10 0h2v2h-2zm4 1h2v2h-2zm-7 1h2v2h-2zm-70 1h2v2h-2zm13 0h2v2h-2zm81 0h2v2h-2zm-42 1h2v2h-2zm0 0h2v2h-2zm43 0h2v2h-2zm-9 1h2v2h-2zm5 0h2v2h-2zm-90 1h2v2h-2zm35 0h2v2h-2zm0 0h2v2h-2zm23 0h2v2h-2zm40 0h2v2h-2zm21 0h2v2h-2zm-118 1h2v2h-2zm4 0h2v2h-2zm10 0h2v2h-2zm20 0h2v2h-2zm12 0h2v2h-2zm11 0h2v2h-2zm-33 1h2v2h-2zm48 0h2v2h-2zm58 0h2v2h-2zm-127 1h2v2h-2zm5 0h2v2h-2zm15 0h2v2h-2zm8 0h2v2h-2zm12 0h2v2h-2zm-41 1h2v2h-2zm13 0h2v2h-2zm1 1h2v2h-2zm10 0h2v2h-2zm-28 1h2v2h-2zm56 1h2v2h-2zm3 0h2v2h-2zm-59 1h2v2h-2zm74 0h2v2h-2zm63 0h2v2h-2zm-125 1h2v2h-2zm3 0h2v2h-2zm22 1h2v2h-2zm98 0h2v2h-2zm-113 1h2v2h-2zm68 0h2v2h-2zm50 0h2v2h-2zm-78 1h2v2h-2zm-40 1h2v2h-2zm31 0h2v2h-2zm46 0h2v2h-2zm9 0h2v2h-2zm5 0h2v2h-2zm-80 1h2v2h-2zm21 0h2v2h-2zm54 1h2v2h-2zm23 0h2v2h-2zm-119 2h2v2h-2zm20 0h2v2h-2zm-21 1h2v2h-2zm101 0h2v2h-2zm8 0h2v2h-2zm-113 1h2v2h-2zm63 0h2v2h-2zm5 0h2v2h-2zm55 0h2v2h-2zm11 0h2v2h-2zm-80 1h2v2h-2zm34 0h2v2h-2zm13 0h2v2h-2zm27 0h2v2h-2zm1 0h2v2h-2zm-65 1h2v2h-2zm5 0h2v2h-2zm-37 1h2v2h-2zm1 0h2v2h-2zm56 0h2v2h-2zm-23 1h2v2h-2zm-57 1h2v2h-2zm51 0h2v2h-2zm34 0h2v2h-2zm16 1h2v2h-2zm-25 1h2v2h-2zm30 1h2v2h-2zm-100 2h2v2h-2zm30 1h2v2h-2zm-44 1h2v2h-2zm4 0h2v2h-2zm20 0h2v2h-2zm23 0h2v2h-2zm87 1h2v2h-2zm-118 1h2v2h-2zm47 0h2v2h-2zm-35 1h2v2h-2zm28 0h2v2h-2zm74 0h2v2h-2zm-5 1h2v2h-2zm10 0h2v2h-2zm-69 1h2v2h-2zm7 0h2v2h-2zm58 0h2v2h-2zm-122 1h2v2h-2zm22 0h2v2h-2zm93 0h2v2h-2zm1 0h2v2h-2zm-93 2h2v2h-2zm49 0h2v2h-2zm-46 1h2v2h-2zm84 0h2v2h-2zm-66 1h2v2h-2zm84 0h2v2h-2zm-137 1h2v2h-2zm29 0h2v2h-2zm108 0h2v2h-2zm-114 1h2v2h-2zm-31 2h2v2h-2zm6 0h2v2h-2zm82 0h2v2h-2zm-56 1h2v2h-2zm0 0h2v2h-2zm-6 1h2v2h-2zm14 0h2v2h-2zm41 0h2v2h-2zm0 0h2v2h-2zm49 1h2v2h-2zm-121 1h2v2h-2zm27 1h2v2h-2zm1 0h2v2h-2zm64 0h2v2h-2zm15 0h2v2h-2zm4 0h2v2h-2zm12 1h2v2h-2zm11 0h2v2h-2zm-87 1h2v2h-2zm89 0h2v2h-2zm-145 1h2v2h-2zm20 0h2v2h-2zm31 1h2v2h-2zm5 1h2v2h-2zm43 0h2v2h-2zm37 0h2v2h-2zm-136 1h2v2h-2zm79 0h2v2h-2zm31 0h2v2h-2zm-17 1h2v2h-2zm20 0h2v2h-2zm-63 1h2v2h-2zm58 0h2v2h-2zm-107 1h2v2h-2zm131 0h2v2h-2zm-114 1h2v2h-2zm62 0h2v2h-2zm15 0h2v2h-2zm1 0h2v2h-2zm7 0h2v2h-2zm10 0h2v2h-2zm-69 1h2v2h-2zm-18 1h2v2h-2zm48 0h2v2h-2zm-18 1h2v2h-2zm3 0h2v2h-2zm30 0h2v2h-2zm-86 1h2v2h-2zm51 0h2v2h-2zm6 1h2v2h-2zm-40 1h2v2h-2zm53 0h2v2h-2zm37 1h2v2h-2zm1 0h2v2h-2zm35 0h2v2h-2zm-110 1h2v2h-2zm87 0h2v2h-2zm12 0h2v2h-2zm-104 1h2v2h-2zm37 0h2v2h-2zm-50 1h2v2h-2zm7 0h2v2h-2zm20 0h2v2h-2zm53 0h2v2h-2zm43 0h2v2h-2zm-52 1h2v2h-2zm1 0h2v2h-2zm-73 1h2v2h-2zm66 0h2v2h-2zm60 1h2v2h-2zm-108 1h2v2h-2zm29 0h2v2h-2zm-21 1h2v2h-2zm37 0h2v2h-2zm-47 1h2v2h-2zm43 0h2v2h-2zm43 0h2v2h-2zm22 0h2v2h-2z" fill="#6e5c92" opacity="0.7"/>
<path d="M0 0m8 0h3v3h-3zm112 0h3v3h-3zm-115 1h3v3h-3zm47 2h3v3h-3zm1 0h3v3h-3zm36 0h3v3h-3zm9 0h3v3h-3zm-93 2h3v3h-3zm16 1h3v3h-3zm72 1h3v3h-3zm4 0h3v3h-3zm31 0h3v3h-3zm-49 1h3v3h-3zm32 0h3v3h-3zm-70 3h3v3h-3zm0 1h3v3h-3zm8 1h3v3h-3zm9 2h3v3h-3zm-55 3h3v3h-3zm46 0h3v3h-3zm50 0h3v3h-3zm14 0h3v3h-3zm14 5h3v3h-3zm4 3h3v3h-3zm-78 1h3v3h-3zm27 1h3v3h-3zm8 1h3v3h-3zm-3 1h3v3h-3zm-1 1h3v3h-3zm-54 1h3v3h-3zm69 0h3v3h-3zm-1 2h3v3h-3zm-96 1h3v3h-3zm41 0h3v3h-3zm19 0h3v3h-3zm51 1h3v3h-3zm-107 2h3v3h-3zm16 0h3v3h-3zm41 0h3v3h-3zm3 0h3v3h-3zm24 0h3v3h-3zm-76 1h3v3h-3zm-8 1h3v3h-3zm84 0h3v3h-3zm-15 1h3v3h-3zm-4 2h3v3h-3zm19 0h3v3h-3zm-79 1h3v3h-3zm100 2h3v3h-3zm31 0h3v3h-3zm-142 1h3v3h-3zm16 0h3v3h-3zm105 1h3v3h-3zm9 1h3v3h-3zm-97 1h3v3h-3zm2 0h3v3h-3zm52 0h3v3h-3zm-54 2h3v3h-3zm50 0h3v3h-3zm34 0h3v3h-3zm-110 1h3v3h-3zm113 0h3v3h-3zm-119 1h3v3h-3zm118 0h3v3h-3zm-34 2h3v3h-3zm12 1h3v3h-3zm-95 2h3v3h-3zm118 0h3v3h-3zm-101 1h3v3h-3zm-16 1h3v3h-3zm60 0h3v3h-3zm28 3h3v3h-3zm42 0h3v3h-3zm-131 1h3v3h-3zm108 0h3v3h-3zm-29 3h3v3h-3zm-15 4h3v3h-3zm59 0h3v3h-3zm-27 3h3v3h-3zm12 1h3v3h-3zm-35 2h3v3h-3zm44 2h3v3h-3zm-34 1h3v3h-3zm32 1h3v3h-3zm29 1h3v3h-3zm-15 1h3v3h-3zm-15 1h3v3h-3zm9 0h3v3h-3zm-27 1h3v3h-3zm-41 3h3v3h-3zm64 0h3v3h-3zm-65 3h3v3h-3zm19 0h3v3h-3zm6 0h3v3h-3zm37 0h3v3h-3zm27 1h3v3h-3zm-9 3h3v3h-3zm-89 2h3v3h-3zm16 0h3v3h-3zm47 0h3v3h-3zm-68 1h3v3h-3zm15 0h3v3h-3zm18 0h3v3h-3zm-49 1h3v3h-3zm66 3h3v3h-3zm-65 2h3v3h-3zm35 0h3v3h-3zm13 3h3v3h-3zm60 0h3v3h-3zm-98 1h3v3h-3zm36 0h3v3h-3zm-2 1h3v3h-3zm-67 2h3v3h-3zm40 0h3v3h-3zm36 0h3v3h-3zm18 4h3v3h-3zm9 4h3v3h-3zm8 1h3v3h-3zm-92 6h3v3h-3zm61 0h3v3h-3zm-65 4h3v3h-3zm75 0h3v3h-3zm-93 1h3v3h-3zm39 0h3v3h-3zm-29 1h3v3h-3zm29 0h3v3h-3zm39 1h3v3h-3zm21 0h3v3h-3zm24 0h3v3h-3zm5 0h3v3h-3zm-71 2h3v3h-3zm14 0h3v3h-3zm37 1h3v3h-3zm-75 2h3v3h-3zm81 0h3v3h-3zm-113 1h3v3h-3zm133 0h3v3h-3zm6 4h3v3h-3zm-116 3h3v3h-3zm49 0h3v3h-3z" fill="#6e5c92" opacity="0.7"/>
<path d="M0 0m5 0h3v3h-3zm117 0h3v3h-3zm-17 2h3v3h-3zm-69 1h3v3h-3zm65 0h3v3h-3zm20 0h3v3h-3zm-105 2h3v3h-3zm86 0h3v3h-3zm16 1h3v3h-3zm-35 1h3v3h-3zm-64 1h3v3h-3zm27 1h3v3h-3zm63 3h3v3h-3zm34 0h3v3h-3zm-111 1h3v3h-3zm29 1h3v3h-3zm71 0h3v3h-3zm13 0h3v3h-3zm-144 3h3v3h-3zm43 0h3v3h-3zm70 1h3v3h-3zm26 0h3v3h-3zm-113 1h3v3h-3zm-21 2h3v3h-3zm16 0h3v3h-3zm70 0h3v3h-3zm-12 3h3v3h-3zm-74 1h3v3h-3zm131 0h3v3h-3zm-100 1h3v3h-3zm25 1h3v3h-3zm37 2h3v3h-3zm-85 2h3v3h-3zm69 0h3v3h-3zm-75 1h3v3h-3zm2 0h3v3h-3zm78 1h3v3h-3zm14 0h3v3h-3zm-77 1h3v3h-3zm53 0h3v3h-3zm59 6h3v3h-3zm-119 4h3v3h-3zm103 1h3v3h-3zm12 2h3v3h-3zm-117 1h3v3h-3zm105 0h3v3h-3zm-20 1h3v3h-3zm8 0h3v3h-3zm-55 2h3v3h-3zm46 0h3v3h-3zm-52 1h3v3h-3zm34 2h3v3h-3zm0 1h3v3h-3zm-8 1h3v3h-3zm36 0h3v3h-3zm-33 2h3v3h-3zm-10 1h3v3h-3zm60 1h3v3h-3zm-56 1h3v3h-3zm-7 1h3v3h-3zm-29 1h3v3h-3zm38 2h3v3h-3zm-27 1h3v3h-3zm11 2h3v3h-3zm61 0h3v3h-3zm-22 2h3v3h-3zm-6 1h3v3h-3zm-82 3h3v3h-3zm127 0h3v3h-3zm-114 2h3v3h-3zm-21 2h3v3h-3zm88 0h3v3h-3zm53 1h3v3h-3zm-35 1h3v3h-3zm-62 2h3v3h-3zm-20 1h3v3h-3zm35 0h3v3h-3zm4 0h3v3h-3zm-14 1h3v3h-3zm5 0h3v3h-3zm69 1h3v3h-3zm-70 1h3v3h-3zm-29 6h3v3h-3zm67 0h3v3h-3zm30 0h3v3h-3zm-101 1h3v3h-3zm31 0h3v3h-3zm34 0h3v3h-3zm7 0h3v3h-3zm23 1h3v3h-3zm-33 2h3v3h-3zm-82 1h3v3h-3zm77 0h3v3h-3zm2 0h3v3h-3zm-31 1h3v3h-3zm-38 1h3v3h-3zm128 0h3v3h-3zm-84 7h3v3h-3zm86 2h3v3h-3zm-77 3h3v3h-3zm55 0h3v3h-3zm-99 2h3v3h-3zm17 1h3v3h-3zm21 0h3v3h-3zm13 2h3v3h-3zm67 0h3v3h-3zm9 2h3v3h-3zm-74 1h3v3h-3zm17 0h3v3h-3zm11 2h3v3h-3zm-91 2h3v3h-3zm136 0h3v3h-3zm-143 3h3v3h-3zm7 0h3v3h-3zm1 0h3v3h-3zm44 2h3v3h-3zm52 0h3v3h-3zm-74 1h3v3h-3zm44 0h3v3h-3zm20 2h3v3h-3zm22 0h3v3h-3zm-97 4h3v3h-3zm99 0h3v3h-3zm-88 1h3v3h-3zm27 0h3v3h-3zm59 2h3v3h-3zm-45 1h3v3h-3zm-20 2h3v3h-3zm27 0h3v3h-3zm50 0h3v3h-3zm-26 1h3v3h-3zm32 2h3v3h-3zm-134 1h3v3h-3zm77 0h3v3h-3zm-58 1h3v3h-3zm103 0h3v3h-3zm-105 1h3v3h-3zm1 0h3v3h-3zm17 0h3v3h-3z" fill="#7e6ea2" opacity="0.7"/>
<path d="M0 0m57 0h2v2h-2zm83 1h2v2h-2zm-96 1h2v2h-2zm49 0h2v2h-2zm48 0h2v2h-2zm-109 1h2v2h-2zm31 0h2v2h-2zm34 0h2v2h-2zm30 0h2v2h-2zm9 0h2v2h-2zm6 0h2v2h-2zm-142 2h2v2h-2zm59 0h2v2h-2zm-51 2h2v2h-2zm94 0h2v2h-2zm23 0h2v2h-2zm3 0h2v2h-2zm-121 1h2v2h-2zm96 0h2v2h-2zm26 0h2v2h-2zm-71 3h2v2h-2zm-37 1h2v2h-2zm15 0h2v2h-2zm10 0h2v2h-2zm25 0h2v2h-2zm49 0h2v2h-2zm5 1h2v2h-2zm-18 1h2v2h-2zm-99 1h2v2h-2zm17 0h2v2h-2zm4 0h2v2h-2zm6 0h2v2h-2zm62 0h2v2h-2zm-71 1h2v2h-2zm30 0h2v2h-2zm56 0h2v2h-2zm-111 2h2v2h-2zm56 1h2v2h-2zm-13 1h2v2h-2zm75 0h2v2h-2zm-80 1h2v2h-2zm26 0h2v2h-2zm-60 1h2v2h-2zm90 0h2v2h-2zm6 0h2v2h-2zm2 0h2v2h-2zm-58 1h2v2h-2zm26 0h2v2h-2zm-66 1h2v2h-2zm125 0h2v2h-2zm-104 1h2v2h-2zm58 0h2v2h-2zm13 0h2v2h-2zm11 0h2v2h-2zm34 0h2v2h-2zm-45 1h2v2h-2zm-53 2h2v2h-2zm-20 1h2v2h-2zm13 0h2v2h-2zm3 0h2v2h-2zm40 0h2v2h-2zm35 0h2v2h-2zm-114 1h2v2h-2zm94 0h2v2h-2zm-31 1h2v2h-2zm49 0h2v2h-2zm-79 2h2v2h-2zm84 0h2v2h-2zm-85 1h2v2h-2zm60 0h2v2h-2zm28 0h2v2h-2zm-20 1h2v2h-2zm-87 1h2v2h-2zm9 0h2v2h-2zm-21 1h2v2h-2zm27 0h2v2h-2zm33 1h2v2h-2zm28 0h2v2h-2zm35 1h2v2h-2zm-104 1h2v2h-2zm31 0h2v2h-2zm34 0h2v2h-2zm-65 1h2v2h-2zm97 0h2v2h-2zm-100 1h2v2h-2zm121 0h2v2h-2zm-119 1h2v2h-2zm64 0h2v2h-2zm3 0h2v2h-2zm-76 1h2v2h-2zm43 0h2v2h-2zm10 0h2v2h-2zm47 0h2v2h-2zm-50 1h2v2h-2zm18 0h2v2h-2zm-9 1h2v2h-2zm14 0h2v2h-2zm-69 2h2v2h-2zm10 1h2v2h-2zm86 1h2v2h-2zm-94 2h2v2h-2zm17 0h2v2h-2zm91 0h2v2h-2zm18 0h2v2h-2zm-93 1h2v2h-2zm10 1h2v2h-2zm38 0h2v2h-2zm-81 1h2v2h-2zm64 0h2v2h-2zm59 0h2v2h-2zm-48 1h2v2h-2zm-32 1h2v2h-2zm14 0h2v2h-2zm9 1h2v2h-2zm-14 1h2v2h-2zm9 0h2v2h-2zm-58 1h2v2h-2zm57 0h2v2h-2zm3 0h2v2h-2zm-24 1h2v2h-2zm76 0h2v2h-2zm13 0h2v2h-2zm-81 1h2v2h-2zm64 0h2v2h-2zm-104 1h2v2h-2zm20 0h2v2h-2zm42 0h2v2h-2zm48 0h2v2h-2zm-100 1h2v2h-2zm29 0h2v2h-2zm39 0h2v2h-2zm-8 1h2v2h-2zm12 0h2v2h-2zm-94 1h2v2h-2zm89 0h2v2h-2zm45 2h2v2h-2zm-96 2h2v2h-2zm-1 1h2v2h-2zm7 0h2v2h-2zm-6 1h2v2h-2zm92 0h2v2h-2zm1 0h2v2h-2zm-47 1h2v2h-2zm-83 1h2v2h-2zm34 0h2v2h-2zm26 0h2v2h-2zm-9 1h2v2h-2zm-63 1h2v2h-2zm62 1h2v2h-2zm25 0h2v2h-2zm-79 1h2v2h-2zm42 0h2v2h-2zm12 0h2v2h-2zm-54 1h2v2h-2zm43 1h2v2h-2zm-3 1h2v2h-2zm97 0h2v2h-2zm-114 1h2v2h-2zm60 0h2v2h-2zm-37 2h2v2h-2zm15 0h2v2h-2zm66 1h2v2h-2zm-25 2h2v2h-2zm-89 1h2v2h-2zm58 0h2v2h-2zm-55 1h2v2h-2zm21 1h2v2h-2zm-31 2h2v2h-2zm103 0h2v2h-2zm-10 1h2v2h-2zm-98 1h2v2h-2zm3 0h2v2h-2zm119 0h2v2h-2zm-54 1h2v2h-2zm-8 1h2v2h-2zm36 0h2v2h-2zm8 0h2v2h-2zm-48 1h2v2h-2zm58 0h2v2h-2zm-29 1h2v2h-2zm39 0h2v2h-2zm-92 1h2v2h-2zm15 0h2v2h-2zm4 1h2v2h-2zm21 0h2v2h-2zm63 0h2v2h-2zm-86 1h2v2h-2zm20 0h2v2h-2zm28 0h2v2h-2zm32 0h2v2h-2zm-58 1h2v2h-2zm12 1h2v2h-2zm-17 1h2v2h-2zm-50 2h2v2h-2zm-8 2h2v2h-2zm85 0h2v2h-2zm40 0h2v2h-2zm-90 1h2v2h-2zm17 1h2v2h-2zm1 1h2v2h-2zm-58 1h2v2h-2zm22 1h2v2h-2zm2 0h2v2h-2zm-34 1h2v2h-2zm37 0h2v2h-2zm86 0h2v2h-2zm8 0h2v2h-2zm-79 1h2v2h-2zm31 0h2v2h-2zm-2 1h2v2h-2zm-74 2h2v2h-2zm68 0h2v2h-2zm-29 1h2v2h-2zm9 0h2v2h-2zm39 0h2v2h-2zm41 0h2v2h-2zm-132 2h2v2h-2zm38 0h2v2h-2zm28 0h2v2h-2zm12 0h2v2h-2zm-17 1h2v2h-2zm-56 1h2v2h-2zm17 0h2v2h-2zm5 0h2v2h-2zm54 0h2v2h-2zm-56 1h2v2h-2zm33 0h2v2h-2zm21 0h2v2h-2zm25 0h2v2h-2zm6 0h2v2h-2zm-64 1h2v2h-2zm18 1h2v2h-2zm35 0h2v2h-2zm5 0h2v2h-2zm-76 1h2v2h-2zm3 1h2v2h-2zm79 0h2v2h-2zm-107 1h2v2h-2zm121 0h2v2h-2zm-83 1h2v2h-2zm59 0h2v2h-2zm10 0h2v2h-2zm-104 1h2v2h-2zm17 0h2v2h-2zm16 0h2v2h-2zm9 1h2v2h-2zm10 0h2v2h-2zm73 0h2v2h-2zm-118 2h2v2h-2zm70 0h2v2h-2zm26 0h2v2h-2zm16 0h2v2h-2zm-119 1h2v2h-2zm9 0h2v2h-2zm28 0h2v2h-2zm14 0h2v2h-2zm39 0h2v2h-2zm21 0h2v2h-2zm-63 1h2v2h-2zm37 0h2v2h-2zm-53 1h2v2h-2zm17 0h2v2h-2zm16 0h2v2h-2zm48 0h2v2h-2zm-68 1h2v2h-2zm1 0h2v2h-2zm38 0h2v2h-2zm47 0h2v2h-2zm-48 2h2v2h-2zm9 0h2v2h-2zm43 0h2v2h-2zm-89 1h2v2h-2zm3 0h2v2h-2zm72 0h2v2h-2zm-88 1h2v2h-2zm100 1h2v2h-2zm-123 1h2v2h-2zm40 0h2v2h-2zm31 0h2v2h-2zm27 0h2v2h-2zm-55 1h2v2h-2zm11 0h2v2h-2zm20 0h2v2h-2zm-4 2h2v2h-2zm41 0h2v2h-2z" fill="#7e6ea2" opacity="0.7"/>
</g></g></g>
<g transform="translate(227.1 596)"><rect width="75.9" height="75" fill="#e4deea"/><g filter="url(#soft)">
<rect width="75.9" height="75" fill="#e4deea"/><g transform="scale(.5)">
<path d="M0 0m7 0h3v3h-3zm4 1h3v3h-3zm60 0h3v3h-3zm60 1h3v3h-3zm-26 1h3v3h-3zm18 0h3v3h-3zm-38 1h3v3h-3zm21 0h3v3h-3zm12 1h3v3h-3zm-80 1h3v3h-3zm68 0h3v3h-3zm13 0h3v3h-3zm-30 1h3v3h-3zm-49 1h3v3h-3zm47 0h3v3h-3zm15 0h3v3h-3zm-1 2h3v3h-3zm3 0h3v3h-3zm16 0h3v3h-3zm13 1h3v3h-3zm-105 2h3v3h-3zm9 0h3v3h-3zm82 1h3v3h-3zm1 0h3v3h-3zm-106 1h3v3h-3zm50 1h3v3h-3zm17 0h3v3h-3zm-74 1h3v3h-3zm17 0h3v3h-3zm69 0h3v3h-3zm-3 1h3v3h-3zm36 1h3v3h-3zm-23 1h3v3h-3zm-32 1h3v3h-3zm76 0h3v3h-3zm-90 1h3v3h-3zm50 0h3v3h-3zm16 0h3v3h-3zm-92 1h3v3h-3zm39 0h3v3h-3zm4 0h3v3h-3zm-63 1h3v3h-3zm26 0h3v3h-3zm56 2h3v3h-3zm-86 1h3v3h-3zm11 0h3v3h-3zm22 0h3v3h-3zm35 1h3v3h-3zm25 3h3v3h-3zm-47 1h3v3h-3zm20 0h3v3h-3zm68 0h3v3h-3zm-103 1h3v3h-3zm41 1h3v3h-3zm28 0h3v3h-3zm21 0h3v3h-3zm-107 1h3v3h-3zm57 0h3v3h-3zm-30 1h3v3h-3zm96 1h3v3h-3zm-114 2h3v3h-3zm22 0h3v3h-3zm42 0h3v3h-3zm32 0h3v3h-3zm-125 1h3v3h-3zm97 0h3v3h-3zm-81 1h3v3h-3zm115 0h3v3h-3zm-65 2h3v3h-3zm6 0h3v3h-3zm18 0h3v3h-3zm-38 2h3v3h-3zm61 0h3v3h-3zm19 1h3v3h-3zm-126 1h3v3h-3zm101 0h3v3h-3zm-66 1h3v3h-3zm15 0h3v3h-3zm20 0h3v3h-3zm27 0h3v3h-3zm-100 1h3v3h-3zm7 0h3v3h-3zm1 0h3v3h-3zm17 2h3v3h-3zm13 0h3v3h-3zm37 0h3v3h-3zm62 0h3v3h-3zm-120 2h3v3h-3zm67 0h3v3h-3zm-55 2h3v3h-3zm25 0h3v3h-3zm13 0h3v3h-3zm13 0h3v3h-3zm1 0h3v3h-3zm33 0h3v3h-3zm23 0h3v3h-3zm-107 1h3v3h-3zm13 0h3v3h-3zm8 0h3v3h-3zm91 1h3v3h-3zm-131 1h3v3h-3zm20 0h3v3h-3zm5 0h3v3h-3zm-25 1h3v3h-3zm68 0h3v3h-3zm-2 1h3v3h-3zm43 1h3v3h-3zm16 0h3v3h-3zm-116 1h3v3h-3zm48 0h3v3h-3zm-58 1h3v3h-3zm35 0h3v3h-3zm3 0h3v3h-3zm7 0h3v3h-3zm51 0h3v3h-3zm-38 2h3v3h-3zm50 0h3v3h-3zm-120 1h3v3h-3zm32 0h3v3h-3zm113 0h3v3h-3zm-147 1h3v3h-3zm9 0h3v3h-3zm28 0h3v3h-3zm32 0h3v3h-3zm-14 1h3v3h-3zm60 0h3v3h-3zm-66 1h3v3h-3zm10 0h3v3h-3zm4 0h3v3h-3zm11 0h3v3h-3zm-71 1h3v3h-3zm41 0h3v3h-3zm87 0h3v3h-3zm-114 2h3v3h-3zm19 0h3v3h-3zm83 0h3v3h-3zm-18 1h3v3h-3zm37 0h3v3h-3zm-104 1h3v3h-3zm13 0h3v3h-3zm20 0h3v3h-3zm56 0h3v3h-3zm-63 1h3v3h-3zm22 1h3v3h-3zm-16 1h3v3h-3zm21 1h3v3h-3zm18 0h3v3h-3zm28 0h3v3h-3zm-48 2h3v3h-3zm9 0h3v3h-3zm-56 1h3v3h-3zm61 1h3v3h-3zm-8 1h3v3h-3zm-72 1h3v3h-3zm19 0h3v3h-3zm10 0h3v3h-3zm25 0h3v3h-3zm-13 1h3v3h-3zm35 0h3v3h-3zm7 0h3v3h-3zm15 0h3v3h-3zm-69 2h3v3h-3zm-16 1h3v3h-3zm2 0h3v3h-3zm44 0h3v3h-3zm44 0h3v3h-3zm-73 1h3v3h-3zm39 0h3v3h-3zm16 0h3v3h-3zm3 0h3v3h-3zm-93 2h3v3h-3zm119 1h3v3h-3zm-128 1h3v3h-3zm14 0h3v3h-3zm21 0h3v3h-3zm85 0h3v3h-3zm-10 1h3v3h-3zm1 0h3v3h-3zm-42 1h3v3h-3zm-60 1h3v3h-3zm131 0h3v3h-3zm-74 1h3v3h-3zm14 0h3v3h-3zm-17 2h3v3h-3zm14 1h3v3h-3zm-37 1h3v3h-3zm38 0h3v3h-3zm51 0h3v3h-3zm-77 1h3v3h-3zm-8 1h3v3h-3zm59 0h3v3h-3zm-23 1h3v3h-3zm-17 1h3v3h-3zm-25 1h3v3h-3zm36 0h3v3h-3zm67 0h3v3h-3zm-93 1h3v3h-3zm55 0h3v3h-3zm-86 1h3v3h-3zm113 0h3v3h-3zm-85 1h3v3h-3zm32 0h3v3h-3zm20 0h3v3h-3zm14 0h3v3h-3zm-31 1h3v3h-3zm4 0h3v3h-3zm21 0h3v3h-3zm-68 1h3v3h-3zm29 1h3v3h-3zm32 0h3v3h-3zm-87 1h3v3h-3zm68 1h3v3h-3zm57 1h3v3h-3zm-97 1h3v3h-3zm-13 1h3v3h-3zm13 0h3v3h-3zm8 1h3v3h-3zm44 0h3v3h-3zm26 0h3v3h-3zm-14 1h3v3h-3zm26 0h3v3h-3zm-105 1h3v3h-3zm49 0h3v3h-3zm58 0h3v3h-3zm-48 2h3v3h-3zm-39 1h3v3h-3zm77 1h3v3h-3zm-38 2h3v3h-3zm9 0h3v3h-3zm-86 1h3v3h-3zm68 0h3v3h-3zm27 0h3v3h-3zm33 1h3v3h-3zm-77 3h3v3h-3zm15 0h3v3h-3zm46 0h3v3h-3zm6 0h3v3h-3zm-57 1h3v3h-3zm21 0h3v3h-3zm-82 3h3v3h-3zm33 0h3v3h-3zm28 0h3v3h-3zm1 0h3v3h-3zm-60 1h3v3h-3zm5 0h3v3h-3zm96 2h3v3h-3zm-21 1h3v3h-3zm-75 1h3v3h-3zm-7 1h3v3h-3zm102 0h3v3h-3zm8 0h3v3h-3zm-119 1h3v3h-3zm22 0h3v3h-3zm39 0h3v3h-3zm-33 2h3v3h-3zm38 0h3v3h-3zm14 0h3v3h-3zm25 0h3v3h-3zm-46 1h3v3h-3zm34 0h3v3h-3zm0 0h3v3h-3zm-76 1h3v3h-3zm1 0h3v3h-3zm9 0h3v3h-3zm109 0h3v3h-3zm-132 1h3v3h-3zm32 0h3v3h-3zm47 0h3v3h-3z" fill="#8272ae" opacity="0.68"/>
<path d="M0 0m135 0h3v3h-3zm-106 1h3v3h-3zm26 0h3v3h-3zm20 0h3v3h-3zm-73 1h3v3h-3zm33 0h3v3h-3zm29 0h3v3h-3zm-44 1h3v3h-3zm21 1h3v3h-3zm35 0h3v3h-3zm2 0h3v3h-3zm33 0h3v3h-3zm11 0h3v3h-3zm-88 1h3v3h-3zm60 1h3v3h-3zm32 0h3v3h-3zm-125 1h3v3h-3zm110 0h3v3h-3zm-84 1h3v3h-3zm65 0h3v3h-3zm6 0h3v3h-3zm13 0h3v3h-3zm-38 1h3v3h-3zm50 0h3v3h-3zm-113 1h3v3h-3zm5 0h3v3h-3zm4 0h3v3h-3zm25 0h3v3h-3zm97 0h3v3h-3zm-88 1h3v3h-3zm3 0h3v3h-3zm57 0h3v3h-3zm30 0h3v3h-3zm-99 1h3v3h-3zm10 0h3v3h-3zm28 0h3v3h-3zm18 0h3v3h-3zm-37 1h3v3h-3zm41 0h3v3h-3zm-99 1h3v3h-3zm65 0h3v3h-3zm37 0h3v3h-3zm-55 2h3v3h-3zm27 0h3v3h-3zm-68 1h3v3h-3zm29 0h3v3h-3zm42 0h3v3h-3zm27 0h3v3h-3zm-19 1h3v3h-3zm22 0h3v3h-3zm-94 1h3v3h-3zm41 1h3v3h-3zm66 0h3v3h-3zm-88 1h3v3h-3zm36 0h3v3h-3zm56 0h3v3h-3zm-81 1h3v3h-3zm30 0h3v3h-3zm3 0h3v3h-3zm53 0h3v3h-3zm-110 1h3v3h-3zm27 0h3v3h-3zm17 0h3v3h-3zm-24 1h3v3h-3zm1 0h3v3h-3zm50 0h3v3h-3zm11 0h3v3h-3zm-26 1h3v3h-3zm-44 2h3v3h-3zm32 0h3v3h-3zm-15 1h3v3h-3zm1 0h3v3h-3zm7 0h3v3h-3zm-36 2h3v3h-3zm47 0h3v3h-3zm34 2h3v3h-3zm7 0h3v3h-3zm31 0h3v3h-3zm-110 1h3v3h-3zm39 0h3v3h-3zm22 0h3v3h-3zm-42 1h3v3h-3zm-52 1h3v3h-3zm68 0h3v3h-3zm42 0h3v3h-3zm-66 1h3v3h-3zm15 0h3v3h-3zm-3 1h3v3h-3zm-14 1h3v3h-3zm54 0h3v3h-3zm34 0h3v3h-3zm-98 1h3v3h-3zm107 0h3v3h-3zm-94 1h3v3h-3zm10 0h3v3h-3zm4 0h3v3h-3zm18 0h3v3h-3zm17 0h3v3h-3zm11 0h3v3h-3zm0 0h3v3h-3zm29 0h3v3h-3zm-130 1h3v3h-3zm16 2h3v3h-3zm12 0h3v3h-3zm2 0h3v3h-3zm22 0h3v3h-3zm41 0h3v3h-3zm-24 1h3v3h-3zm38 0h3v3h-3zm-59 1h3v3h-3zm63 0h3v3h-3zm-106 1h3v3h-3zm41 1h3v3h-3zm77 0h3v3h-3zm5 0h3v3h-3zm-85 1h3v3h-3zm41 1h3v3h-3zm18 0h3v3h-3zm-12 2h3v3h-3zm-47 1h3v3h-3zm1 0h3v3h-3zm37 0h3v3h-3zm-20 1h3v3h-3zm77 1h3v3h-3zm-85 3h3v3h-3zm1 0h3v3h-3zm-9 1h3v3h-3zm7 0h3v3h-3zm7 0h3v3h-3zm10 0h3v3h-3zm45 0h3v3h-3zm-98 1h3v3h-3zm97 0h3v3h-3zm-83 2h3v3h-3zm9 0h3v3h-3zm64 0h3v3h-3zm-76 1h3v3h-3zm55 1h3v3h-3zm6 0h3v3h-3zm11 0h3v3h-3zm15 0h3v3h-3zm-55 1h3v3h-3zm77 0h3v3h-3zm-140 1h3v3h-3zm14 0h3v3h-3zm27 0h3v3h-3zm91 0h3v3h-3zm1 0h3v3h-3zm13 0h3v3h-3zm-78 1h3v3h-3zm-50 1h3v3h-3zm5 0h3v3h-3zm13 0h3v3h-3zm74 0h3v3h-3zm-38 1h3v3h-3zm59 0h3v3h-3zm4 0h3v3h-3zm-42 1h3v3h-3zm9 0h3v3h-3zm-94 1h3v3h-3zm123 0h3v3h-3zm-107 1h3v3h-3zm26 2h3v3h-3zm22 0h3v3h-3zm35 0h3v3h-3zm3 0h3v3h-3zm-86 2h3v3h-3zm19 0h3v3h-3zm47 0h3v3h-3zm16 0h3v3h-3zm-104 2h3v3h-3zm25 0h3v3h-3zm42 0h3v3h-3zm67 0h3v3h-3zm-53 1h3v3h-3zm40 0h3v3h-3zm-115 1h3v3h-3zm53 0h3v3h-3zm31 1h3v3h-3zm30 0h3v3h-3zm4 0h3v3h-3zm-33 1h3v3h-3zm43 0h3v3h-3zm-137 1h3v3h-3zm30 0h3v3h-3zm44 0h3v3h-3zm62 3h3v3h-3zm-86 1h3v3h-3zm-50 1h3v3h-3zm42 0h3v3h-3zm-22 2h3v3h-3zm-3 2h3v3h-3zm19 0h3v3h-3zm91 0h3v3h-3zm20 0h3v3h-3zm-63 1h3v3h-3zm50 0h3v3h-3zm-87 1h3v3h-3zm5 0h3v3h-3zm29 0h3v3h-3zm33 0h3v3h-3zm-44 1h3v3h-3zm1 0h3v3h-3zm19 0h3v3h-3zm1 0h3v3h-3zm-57 1h3v3h-3zm7 0h3v3h-3zm40 0h3v3h-3zm-29 1h3v3h-3zm55 0h3v3h-3zm-84 1h3v3h-3zm72 0h3v3h-3zm-84 1h3v3h-3zm35 0h3v3h-3zm14 0h3v3h-3zm1 0h3v3h-3zm-5 1h3v3h-3zm43 0h3v3h-3zm-63 1h3v3h-3zm11 0h3v3h-3zm4 0h3v3h-3zm-50 1h3v3h-3zm6 0h3v3h-3zm18 0h3v3h-3zm63 0h3v3h-3zm26 0h3v3h-3zm-86 1h3v3h-3zm10 0h3v3h-3zm5 0h3v3h-3zm56 0h3v3h-3zm1 0h3v3h-3zm32 0h3v3h-3zm12 0h3v3h-3zm2 0h3v3h-3zm-96 1h3v3h-3zm-13 1h3v3h-3zm3 0h3v3h-3zm-19 1h3v3h-3zm22 0h3v3h-3zm13 0h3v3h-3zm21 0h3v3h-3zm16 0h3v3h-3zm-71 1h3v3h-3zm33 0h3v3h-3zm12 0h3v3h-3zm-46 1h3v3h-3zm67 0h3v3h-3zm-29 1h3v3h-3zm51 3h3v3h-3zm-12 2h3v3h-3zm-7 1h3v3h-3zm37 0h3v3h-3zm-84 1h3v3h-3zm101 0h3v3h-3zm-142 1h3v3h-3zm29 0h3v3h-3zm47 0h3v3h-3zm58 0h3v3h-3zm10 0h3v3h-3zm-138 1h3v3h-3zm115 0h3v3h-3zm-86 1h3v3h-3zm12 0h3v3h-3zm38 1h3v3h-3zm-47 1h3v3h-3zm87 0h3v3h-3zm3 0h3v3h-3zm-28 1h3v3h-3zm-63 1h3v3h-3zm95 0h3v3h-3zm-100 1h3v3h-3zm35 0h3v3h-3zm-33 1h3v3h-3zm33 0h3v3h-3zm8 0h3v3h-3zm-34 2h3v3h-3zm23 0h3v3h-3zm-41 1h3v3h-3zm52 0h3v3h-3zm-78 1h3v3h-3zm47 0h3v3h-3zm24 0h3v3h-3zm10 0h3v3h-3zm-5 1h3v3h-3zm35 0h3v3h-3zm3 1h3v3h-3zm-112 1h3v3h-3zm62 0h3v3h-3zm-5 1h3v3h-3zm62 0h3v3h-3zm-75 1h3v3h-3zm21 0h3v3h-3zm28 0h3v3h-3zm15 1h3v3h-3zm-91 1h3v3h-3zm2 0h3v3h-3zm29 0h3v3h-3zm30 1h3v3h-3zm-51 1h3v3h-3zm49 0h3v3h-3zm26 0h3v3h-3zm-68 1h3v3h-3zm50 0h3v3h-3zm-66 1h3v3h-3zm27 0h3v3h-3zm63 0h3v3h-3zm0 0h3v3h-3zm35 0h3v3h-3zm-129 4h3v3h-3zm13 0h3v3h-3zm-27 1h3v3h-3zm72 0h3v3h-3zm55 0h3v3h-3zm19 0h3v3h-3zm-143 1h3v3h-3zm34 0h3v3h-3zm12 0h3v3h-3zm2 0h3v3h-3zm20 0h3v3h-3zm73 1h3v3h-3z" fill="#7666a2" opacity="0.68"/>
<path d="M0 0m60 0h3v3h-3zm-33 2h3v3h-3zm28 0h3v3h-3zm18 0h3v3h-3zm16 0h3v3h-3zm23 0h3v3h-3zm14 1h3v3h-3zm-75 1h3v3h-3zm48 0h3v3h-3zm7 0h3v3h-3zm16 0h3v3h-3zm6 0h3v3h-3zm-90 1h3v3h-3zm33 0h3v3h-3zm12 0h3v3h-3zm5 0h3v3h-3zm-26 1h3v3h-3zm43 0h3v3h-3zm-40 1h3v3h-3zm65 0h3v3h-3zm2 0h3v3h-3zm-54 2h3v3h-3zm1 0h3v3h-3zm21 0h3v3h-3zm32 0h3v3h-3zm9 0h3v3h-3zm-51 2h3v3h-3zm8 0h3v3h-3zm-34 1h3v3h-3zm58 0h3v3h-3zm4 0h3v3h-3zm-104 1h3v3h-3zm37 0h3v3h-3zm61 0h3v3h-3zm-73 1h3v3h-3zm-39 1h3v3h-3zm24 0h3v3h-3zm68 0h3v3h-3zm6 0h3v3h-3zm39 0h3v3h-3zm-34 1h3v3h-3zm10 0h3v3h-3zm-111 1h3v3h-3zm-10 1h3v3h-3zm97 0h3v3h-3zm19 0h3v3h-3zm-56 1h3v3h-3zm63 0h3v3h-3zm-109 2h3v3h-3zm47 1h3v3h-3zm-10 2h3v3h-3zm85 0h3v3h-3zm-136 1h3v3h-3zm78 0h3v3h-3zm42 0h3v3h-3zm23 0h3v3h-3zm-123 1h3v3h-3zm17 2h3v3h-3zm5 1h3v3h-3zm20 0h3v3h-3zm62 0h3v3h-3zm20 0h3v3h-3zm-31 1h3v3h-3zm-80 1h3v3h-3zm39 0h3v3h-3zm12 1h3v3h-3zm-30 1h3v3h-3zm60 0h3v3h-3zm-61 2h3v3h-3zm95 0h3v3h-3zm-116 1h3v3h-3zm2 0h3v3h-3zm54 0h3v3h-3zm-21 1h3v3h-3zm39 0h3v3h-3zm-25 1h3v3h-3zm-53 1h3v3h-3zm31 2h3v3h-3zm-25 2h3v3h-3zm5 1h3v3h-3zm59 0h3v3h-3zm28 0h3v3h-3zm16 0h3v3h-3zm-89 1h3v3h-3zm7 1h3v3h-3zm12 0h3v3h-3zm16 0h3v3h-3zm21 0h3v3h-3zm36 0h3v3h-3zm-83 1h3v3h-3zm77 1h3v3h-3zm-131 2h3v3h-3zm65 0h3v3h-3zm-49 2h3v3h-3zm25 0h3v3h-3zm17 0h3v3h-3zm-54 1h3v3h-3zm5 0h3v3h-3zm27 0h3v3h-3zm42 0h3v3h-3zm-84 1h3v3h-3zm88 0h3v3h-3zm14 0h3v3h-3zm30 0h3v3h-3zm-111 1h3v3h-3zm104 0h3v3h-3zm-107 1h3v3h-3zm20 0h3v3h-3zm51 0h3v3h-3zm-38 1h3v3h-3zm33 0h3v3h-3zm24 0h3v3h-3zm-67 1h3v3h-3zm44 1h3v3h-3zm3 0h3v3h-3zm25 0h3v3h-3zm-111 1h3v3h-3zm28 0h3v3h-3zm26 0h3v3h-3zm27 0h3v3h-3zm36 0h3v3h-3zm-96 1h3v3h-3zm22 0h3v3h-3zm26 0h3v3h-3zm-61 1h3v3h-3zm84 0h3v3h-3zm-42 1h3v3h-3zm73 0h3v3h-3zm-42 1h3v3h-3zm-58 2h3v3h-3zm85 0h3v3h-3zm24 0h3v3h-3zm-16 1h3v3h-3zm-12 1h3v3h-3zm-57 1h3v3h-3zm57 2h3v3h-3zm-44 1h3v3h-3zm35 0h3v3h-3zm15 0h3v3h-3zm-90 1h3v3h-3zm25 1h3v3h-3zm38 0h3v3h-3zm38 0h3v3h-3zm-66 2h3v3h-3zm53 0h3v3h-3zm-24 1h3v3h-3zm-56 2h3v3h-3zm53 2h3v3h-3zm42 0h3v3h-3zm19 0h3v3h-3zm-146 1h3v3h-3zm101 0h3v3h-3zm12 0h3v3h-3zm12 0h3v3h-3zm-83 1h3v3h-3zm106 0h3v3h-3zm-45 1h3v3h-3zm-87 2h3v3h-3zm39 0h3v3h-3zm59 0h3v3h-3zm-108 1h3v3h-3zm8 2h3v3h-3zm49 0h3v3h-3zm41 0h3v3h-3zm-72 1h3v3h-3zm60 0h3v3h-3zm44 0h3v3h-3zm-84 1h3v3h-3zm-28 1h3v3h-3zm54 0h3v3h-3zm62 1h3v3h-3zm-135 3h3v3h-3zm10 0h3v3h-3zm11 0h3v3h-3zm63 0h3v3h-3zm36 1h3v3h-3zm-104 1h3v3h-3zm8 0h3v3h-3zm3 0h3v3h-3zm-28 1h3v3h-3zm115 0h3v3h-3zm-67 1h3v3h-3zm82 0h3v3h-3zm-134 1h3v3h-3zm48 0h3v3h-3zm53 0h3v3h-3zm9 0h3v3h-3zm-7 1h3v3h-3zm16 0h3v3h-3zm-96 1h3v3h-3zm123 0h3v3h-3zm-117 2h3v3h-3zm67 0h3v3h-3zm-55 1h3v3h-3zm81 0h3v3h-3zm5 0h3v3h-3zm2 0h3v3h-3zm-59 1h3v3h-3zm31 1h3v3h-3zm-36 1h3v3h-3zm7 0h3v3h-3zm36 0h3v3h-3zm-89 2h3v3h-3zm51 0h3v3h-3zm-55 1h3v3h-3zm102 0h3v3h-3zm16 0h3v3h-3zm-126 1h3v3h-3zm70 0h3v3h-3zm-72 1h3v3h-3zm134 0h3v3h-3zm-37 1h3v3h-3zm1 0h3v3h-3zm29 0h3v3h-3zm-88 2h3v3h-3zm28 0h3v3h-3zm19 0h3v3h-3zm4 0h3v3h-3zm20 0h3v3h-3zm20 0h3v3h-3zm-79 2h3v3h-3zm43 1h3v3h-3zm37 0h3v3h-3zm-44 1h3v3h-3zm-78 1h3v3h-3zm28 0h3v3h-3zm84 0h3v3h-3zm-92 1h3v3h-3zm46 0h3v3h-3zm36 0h3v3h-3zm7 0h3v3h-3zm-69 1h3v3h-3zm16 0h3v3h-3zm-21 1h3v3h-3zm15 0h3v3h-3zm0 0h3v3h-3zm-29 1h3v3h-3zm-14 1h3v3h-3zm34 0h3v3h-3zm11 1h3v3h-3zm22 2h3v3h-3zm-67 1h3v3h-3zm17 0h3v3h-3zm24 0h3v3h-3zm58 0h3v3h-3zm-80 1h3v3h-3zm-24 1h3v3h-3zm76 0h3v3h-3zm6 0h3v3h-3zm36 0h3v3h-3zm12 0h3v3h-3zm-144 1h3v3h-3zm43 1h3v3h-3zm39 0h3v3h-3zm5 0h3v3h-3zm-87 2h3v3h-3zm4 0h3v3h-3zm101 0h3v3h-3zm18 0h3v3h-3zm-11 1h3v3h-3zm21 0h3v3h-3zm-100 1h3v3h-3zm-26 1h3v3h-3zm13 0h3v3h-3zm121 0h3v3h-3zm-67 1h3v3h-3zm64 0h3v3h-3zm-17 1h3v3h-3zm-17 1h3v3h-3zm13 0h3v3h-3zm6 0h3v3h-3zm-16 1h3v3h-3zm-25 1h3v3h-3zm-76 2h3v3h-3z" fill="#9284be" opacity="0.68"/>
<path d="M0 0m32 0h2v2h-2zm7 0h2v2h-2zm55 0h2v2h-2zm23 0h2v2h-2zm-112 1h2v2h-2zm-3 1h2v2h-2zm37 0h2v2h-2zm15 0h2v2h-2zm53 0h2v2h-2zm12 0h2v2h-2zm20 0h2v2h-2zm-67 1h2v2h-2zm35 0h2v2h-2zm1 0h2v2h-2zm-54 1h2v2h-2zm64 0h2v2h-2zm-66 1h2v2h-2zm37 0h2v2h-2zm5 0h2v2h-2zm9 0h2v2h-2zm19 0h2v2h-2zm-94 1h2v2h-2zm49 0h2v2h-2zm-67 1h2v2h-2zm67 0h2v2h-2zm13 0h2v2h-2zm23 0h2v2h-2zm-113 1h2v2h-2zm45 0h2v2h-2zm-5 1h2v2h-2zm17 0h2v2h-2zm7 0h2v2h-2zm8 0h2v2h-2zm22 0h2v2h-2zm-82 1h2v2h-2zm13 0h2v2h-2zm46 0h2v2h-2zm28 0h2v2h-2zm18 0h2v2h-2zm2 0h2v2h-2zm11 0h2v2h-2zm-42 1h2v2h-2zm56 0h2v2h-2zm-123 1h2v2h-2zm46 0h2v2h-2zm68 0h2v2h-2zm-122 1h2v2h-2zm8 0h2v2h-2zm20 0h2v2h-2zm17 0h2v2h-2zm11 0h2v2h-2zm57 0h2v2h-2zm-112 1h2v2h-2zm22 0h2v2h-2zm-32 1h2v2h-2zm31 0h2v2h-2zm89 0h2v2h-2zm21 0h2v2h-2zm-126 1h2v2h-2zm53 0h2v2h-2zm0 0h2v2h-2zm74 0h2v2h-2zm-35 1h2v2h-2zm11 0h2v2h-2zm-82 1h2v2h-2zm55 1h2v2h-2zm50 0h2v2h-2zm-143 1h2v2h-2zm0 0h2v2h-2zm77 0h2v2h-2zm2 0h2v2h-2zm27 0h2v2h-2zm10 0h2v2h-2zm21 0h2v2h-2zm2 0h2v2h-2zm7 0h2v2h-2zm-127 1h2v2h-2zm23 0h2v2h-2zm0 0h2v2h-2zm28 0h2v2h-2zm20 1h2v2h-2zm5 0h2v2h-2zm-81 1h2v2h-2zm36 0h2v2h-2zm8 0h2v2h-2zm3 0h2v2h-2zm12 0h2v2h-2zm-72 1h2v2h-2zm31 0h2v2h-2zm55 0h2v2h-2zm4 0h2v2h-2zm-89 1h2v2h-2zm58 0h2v2h-2zm13 0h2v2h-2zm5 0h2v2h-2zm48 0h2v2h-2zm-84 1h2v2h-2zm42 0h2v2h-2zm-68 1h2v2h-2zm39 0h2v2h-2zm-8 1h2v2h-2zm35 0h2v2h-2zm12 0h2v2h-2zm25 0h2v2h-2zm16 0h2v2h-2zm11 0h2v2h-2zm-72 1h2v2h-2zm39 0h2v2h-2zm3 0h2v2h-2zm21 0h2v2h-2zm3 0h2v2h-2zm-134 1h2v2h-2zm53 0h2v2h-2zm12 0h2v2h-2zm8 0h2v2h-2zm4 0h2v2h-2zm-65 1h2v2h-2zm39 0h2v2h-2zm60 0h2v2h-2zm22 0h2v2h-2zm-104 1h2v2h-2zm76 0h2v2h-2zm8 0h2v2h-2zm17 0h2v2h-2zm6 0h2v2h-2zm-22 1h2v2h-2zm5 0h2v2h-2zm14 0h2v2h-2zm-103 1h2v2h-2zm2 0h2v2h-2zm98 0h2v2h-2zm8 0h2v2h-2zm-60 1h2v2h-2zm49 0h2v2h-2zm-103 1h2v2h-2zm72 0h2v2h-2zm1 0h2v2h-2zm6 0h2v2h-2zm-39 1h2v2h-2zm-56 1h2v2h-2zm126 0h2v2h-2zm-80 1h2v2h-2zm0 0h2v2h-2zm2 0h2v2h-2zm4 0h2v2h-2zm16 0h2v2h-2zm30 0h2v2h-2zm22 0h2v2h-2zm-118 1h2v2h-2zm34 0h2v2h-2zm13 0h2v2h-2zm76 0h2v2h-2zm-141 1h2v2h-2zm41 0h2v2h-2zm25 0h2v2h-2zm9 0h2v2h-2zm21 0h2v2h-2zm27 0h2v2h-2zm2 0h2v2h-2zm13 0h2v2h-2zm-76 1h2v2h-2zm32 0h2v2h-2zm10 0h2v2h-2zm44 0h2v2h-2zm-146 1h2v2h-2zm33 0h2v2h-2zm87 0h2v2h-2zm-107 1h2v2h-2zm44 0h2v2h-2zm30 0h2v2h-2zm17 0h2v2h-2zm25 0h2v2h-2zm15 0h2v2h-2zm-136 1h2v2h-2zm60 0h2v2h-2zm17 0h2v2h-2zm11 0h2v2h-2zm23 0h2v2h-2zm-121 1h2v2h-2zm51 0h2v2h-2zm76 0h2v2h-2zm-104 1h2v2h-2zm55 0h2v2h-2zm1 0h2v2h-2zm-25 1h2v2h-2zm1 0h2v2h-2zm64 0h2v2h-2zm5 0h2v2h-2zm13 0h2v2h-2zm-81 1h2v2h-2zm63 0h2v2h-2zm14 0h2v2h-2zm14 0h2v2h-2zm-135 1h2v2h-2zm13 0h2v2h-2zm19 0h2v2h-2zm23 0h2v2h-2zm24 0h2v2h-2zm5 0h2v2h-2zm19 0h2v2h-2zm24 0h2v2h-2zm9 0h2v2h-2zm-112 1h2v2h-2zm6 0h2v2h-2zm14 0h2v2h-2zm7 0h2v2h-2zm23 0h2v2h-2zm36 0h2v2h-2zm-49 1h2v2h-2zm71 0h2v2h-2zm-144 1h2v2h-2zm17 0h2v2h-2zm7 0h2v2h-2zm102 0h2v2h-2zm5 0h2v2h-2zm9 0h2v2h-2zm-134 1h2v2h-2zm14 0h2v2h-2zm49 0h2v2h-2zm17 0h2v2h-2zm3 0h2v2h-2zm25 0h2v2h-2zm-107 1h2v2h-2zm7 0h2v2h-2zm78 0h2v2h-2zm32 0h2v2h-2zm-116 1h2v2h-2zm7 0h2v2h-2zm1 0h2v2h-2zm65 0h2v2h-2zm5 0h2v2h-2zm6 0h2v2h-2zm12 0h2v2h-2zm6 0h2v2h-2zm33 0h2v2h-2zm-48 1h2v2h-2zm4 0h2v2h-2zm23 0h2v2h-2zm15 0h2v2h-2zm-115 1h2v2h-2zm24 0h2v2h-2zm37 0h2v2h-2zm24 0h2v2h-2zm6 0h2v2h-2zm24 0h2v2h-2zm-72 1h2v2h-2zm11 0h2v2h-2zm35 0h2v2h-2zm-97 1h2v2h-2zm35 1h2v2h-2zm-7 1h2v2h-2zm24 0h2v2h-2zm1 0h2v2h-2zm32 0h2v2h-2zm1 0h2v2h-2zm6 0h2v2h-2zm17 0h2v2h-2zm-102 1h2v2h-2zm67 0h2v2h-2zm4 0h2v2h-2zm14 0h2v2h-2zm6 0h2v2h-2zm-38 1h2v2h-2zm30 0h2v2h-2zm-89 1h2v2h-2zm15 0h2v2h-2zm92 0h2v2h-2zm15 0h2v2h-2zm-100 1h2v2h-2zm18 0h2v2h-2zm3 0h2v2h-2zm18 0h2v2h-2zm5 0h2v2h-2zm43 0h2v2h-2zm11 0h2v2h-2zm4 0h2v2h-2zm1 0h2v2h-2zm9 0h2v2h-2zm-133 1h2v2h-2zm54 0h2v2h-2zm41 0h2v2h-2zm11 0h2v2h-2zm11 0h2v2h-2zm8 0h2v2h-2zm3 0h2v2h-2zm-126 1h2v2h-2zm-3 1h2v2h-2zm107 0h2v2h-2zm-109 1h2v2h-2zm98 0h2v2h-2zm-60 1h2v2h-2zm11 0h2v2h-2zm12 0h2v2h-2zm13 0h2v2h-2zm18 0h2v2h-2zm8 0h2v2h-2zm21 0h2v2h-2zm-99 1h2v2h-2zm38 0h2v2h-2zm-10 1h2v2h-2zm13 0h2v2h-2zm-70 1h2v2h-2zm32 0h2v2h-2zm38 0h2v2h-2zm2 0h2v2h-2zm14 0h2v2h-2zm49 0h2v2h-2zm5 0h2v2h-2zm-146 1h2v2h-2zm13 0h2v2h-2zm6 0h2v2h-2zm30 0h2v2h-2zm30 0h2v2h-2zm9 0h2v2h-2zm32 0h2v2h-2zm-85 1h2v2h-2zm48 0h2v2h-2zm-31 1h2v2h-2zm23 0h2v2h-2zm-30 1h2v2h-2zm9 0h2v2h-2zm28 0h2v2h-2zm-76 1h2v2h-2zm15 0h2v2h-2zm7 1h2v2h-2zm16 0h2v2h-2zm44 0h2v2h-2zm-10 1h2v2h-2zm40 0h2v2h-2zm-88 1h2v2h-2zm35 0h2v2h-2zm35 0h2v2h-2zm30 0h2v2h-2zm-101 1h2v2h-2zm30 0h2v2h-2zm17 0h2v2h-2zm49 0h2v2h-2zm-125 1h2v2h-2zm6 0h2v2h-2zm4 0h2v2h-2zm31 0h2v2h-2zm3 0h2v2h-2zm1 0h2v2h-2zm28 0h2v2h-2zm8 0h2v2h-2zm57 0h2v2h-2zm-126 1h2v2h-2zm37 0h2v2h-2zm31 0h2v2h-2zm41 0h2v2h-2zm6 0h2v2h-2zm-105 1h2v2h-2zm18 0h2v2h-2zm19 0h2v2h-2zm6 0h2v2h-2zm5 0h2v2h-2zm55 0h2v2h-2zm9 0h2v2h-2zm-62 1h2v2h-2zm-60 1h2v2h-2zm19 0h2v2h-2zm2 0h2v2h-2zm28 0h2v2h-2zm32 0h2v2h-2zm11 0h2v2h-2zm4 0h2v2h-2zm18 0h2v2h-2zm7 1h2v2h-2zm16 0h2v2h-2zm-105 1h2v2h-2zm53 0h2v2h-2zm-79 1h2v2h-2zm42 0h2v2h-2zm1 0h2v2h-2zm51 0h2v2h-2zm-102 1h2v2h-2zm33 0h2v2h-2zm5 0h2v2h-2zm27 0h2v2h-2zm32 0h2v2h-2zm-17 1h2v2h-2zm-73 1h2v2h-2zm34 0h2v2h-2zm90 0h2v2h-2zm0 0h2v2h-2zm-116 1h2v2h-2zm33 0h2v2h-2zm-19 1h2v2h-2zm94 0h2v2h-2zm13 0h2v2h-2zm-87 1h2v2h-2zm25 0h2v2h-2zm2 0h2v2h-2zm40 0h2v2h-2zm7 0h2v2h-2zm-132 1h2v2h-2zm30 0h2v2h-2zm31 0h2v2h-2zm61 0h2v2h-2zm-116 1h2v2h-2zm68 0h2v2h-2zm-56 1h2v2h-2zm18 0h2v2h-2zm27 0h2v2h-2zm26 0h2v2h-2zm9 0h2v2h-2zm44 0h2v2h-2zm-143 1h2v2h-2zm39 0h2v2h-2zm0 0h2v2h-2zm52 0h2v2h-2zm-64 1h2v2h-2zm11 0h2v2h-2zm16 0h2v2h-2zm84 0h2v2h-2zm-117 1h2v2h-2zm11 0h2v2h-2zm21 0h2v2h-2zm48 0h2v2h-2zm32 0h2v2h-2zm-127 1h2v2h-2zm54 0h2v2h-2zm20 0h2v2h-2zm15 0h2v2h-2zm-92 1h2v2h-2zm37 0h2v2h-2zm13 0h2v2h-2zm7 0h2v2h-2zm63 0h2v2h-2zm16 0h2v2h-2zm-132 1h2v2h-2zm1 0h2v2h-2zm33 0h2v2h-2zm16 0h2v2h-2zm25 0h2v2h-2zm8 0h2v2h-2zm49 0h2v2h-2zm-90 1h2v2h-2zm5 0h2v2h-2zm32 0h2v2h-2zm48 0h2v2h-2zm-123 1h2v2h-2zm19 0h2v2h-2zm54 0h2v2h-2zm-66 1h2v2h-2zm23 0h2v2h-2zm19 0h2v2h-2zm58 0h2v2h-2zm6 0h2v2h-2zm-88 1h2v2h-2zm71 0h2v2h-2zm29 0h2v2h-2zm-130 1h2v2h-2zm27 0h2v2h-2zm0 0h2v2h-2zm12 0h2v2h-2zm9 0h2v2h-2zm14 0h2v2h-2zm20 0h2v2h-2zm16 0h2v2h-2zm-101 1h2v2h-2zm35 0h2v2h-2zm14 0h2v2h-2zm28 0h2v2h-2zm35 0h2v2h-2zm-55 1h2v2h-2zm8 0h2v2h-2zm11 0h2v2h-2zm14 0h2v2h-2zm54 0h2v2h-2zm0 0h2v2h-2zm-135 1h2v2h-2zm22 0h2v2h-2zm64 0h2v2h-2zm11 0h2v2h-2zm-43 1h2v2h-2zm8 0h2v2h-2zm32 0h2v2h-2zm14 0h2v2h-2zm13 0h2v2h-2zm-116 1h2v2h-2zm9 0h2v2h-2zm7 0h2v2h-2zm74 0h2v2h-2zm12 0h2v2h-2zm7 0h2v2h-2zm-123 1h2v2h-2zm7 0h2v2h-2zm16 0h2v2h-2zm30 0h2v2h-2zm7 0h2v2h-2zm24 0h2v2h-2zm2 0h2v2h-2zm42 0h2v2h-2zm12 0h2v2h-2zm-89 1h2v2h-2zm84 0h2v2h-2zm-130 1h2v2h-2zm85 0h2v2h-2zm43 0h2v2h-2zm-128 1h2v2h-2zm35 0h2v2h-2zm30 0h2v2h-2zm7 0h2v2h-2zm21 0h2v2h-2zm-91 1h2v2h-2zm21 0h2v2h-2zm24 0h2v2h-2zm37 0h2v2h-2zm-39 1h2v2h-2zm68 0h2v2h-2zm25 0h2v2h-2zm-144 1h2v2h-2zm5 0h2v2h-2zm37 0h2v2h-2zm43 0h2v2h-2zm14 0h2v2h-2zm-58 1h2v2h-2zm2 0h2v2h-2zm14 0h2v2h-2zm13 0h2v2h-2zm64 0h2v2h-2zm4 0h2v2h-2zm-130 1h2v2h-2zm40 0h2v2h-2zm15 0h2v2h-2zm47 0h2v2h-2zm-39 1h2v2h-2zm16 0h2v2h-2zm8 0h2v2h-2zm27 0h2v2h-2zm17 0h2v2h-2zm-132 1h2v2h-2zm21 0h2v2h-2zm88 0h2v2h-2zm-97 1h2v2h-2zm34 0h2v2h-2zm55 0h2v2h-2zm17 0h2v2h-2zm18 0h2v2h-2zm-132 1h2v2h-2zm26 0h2v2h-2zm18 1h2v2h-2zm88 0h2v2h-2zm-144 1h2v2h-2zm113 0h2v2h-2zm22 0h2v2h-2zm6 0h2v2h-2zm-122 1h2v2h-2zm0 0h2v2h-2zm36 0h2v2h-2zm1 0h2v2h-2zm12 0h2v2h-2zm2 0h2v2h-2zm34 0h2v2h-2zm-100 1h2v2h-2zm101 0h2v2h-2zm41 0h2v2h-2zm-137 1h2v2h-2zm21 0h2v2h-2zm23 0h2v2h-2zm81 0h2v2h-2zm-119 1h2v2h-2zm2 0h2v2h-2zm90 0h2v2h-2zm7 0h2v2h-2zm22 0h2v2h-2zm-13 1h2v2h-2zm-86 1h2v2h-2zm33 0h2v2h-2zm11 0h2v2h-2zm38 0h2v2h-2zm6 0h2v2h-2zm4 0h2v2h-2zm-90 1h2v2h-2zm0 0h2v2h-2zm70 0h2v2h-2zm30 0h2v2h-2zm-53 1h2v2h-2zm1 0h2v2h-2zm5 0h2v2h-2zm38 0h2v2h-2zm4 0h2v2h-2zm14 0h2v2h-2zm-140 1h2v2h-2zm31 0h2v2h-2zm8 0h2v2h-2zm21 0h2v2h-2zm1 0h2v2h-2zm6 0h2v2h-2zm32 0h2v2h-2zm13 0h2v2h-2zm-87 1h2v2h-2zm18 0h2v2h-2zm6 0h2v2h-2zm61 0h2v2h-2zm-73 1h2v2h-2zm61 0h2v2h-2zm-95 1h2v2h-2zm73 0h2v2h-2zm-77 1h2v2h-2zm8 0h2v2h-2zm18 0h2v2h-2zm36 0h2v2h-2zm17 0h2v2h-2zm10 0h2v2h-2zm-89 1h2v2h-2zm57 0h2v2h-2zm3 0h2v2h-2zm27 0h2v2h-2zm46 0h2v2h-2zm-102 1h2v2h-2zm25 0h2v2h-2zm3 0h2v2h-2zm6 0h2v2h-2zm10 0h2v2h-2zm34 0h2v2h-2zm-2 2h2v2h-2zm30 0h2v2h-2z" fill="#7666a2" opacity="0.68"/>
<path d="M0 0m27 0h2v2h-2zm42 0h2v2h-2zm14 0h2v2h-2zm31 0h2v2h-2zm13 0h2v2h-2zm-89 1h2v2h-2zm32 0h2v2h-2zm32 0h2v2h-2zm1 0h2v2h-2zm30 0h2v2h-2zm-120 1h2v2h-2zm13 0h2v2h-2zm4 0h2v2h-2zm14 0h2v2h-2zm15 0h2v2h-2zm10 0h2v2h-2zm7 0h2v2h-2zm11 0h2v2h-2zm24 0h2v2h-2zm-102 1h2v2h-2zm40 0h2v2h-2zm13 0h2v2h-2zm11 0h2v2h-2zm1 0h2v2h-2zm27 0h2v2h-2zm0 0h2v2h-2zm-69 2h2v2h-2zm38 0h2v2h-2zm35 0h2v2h-2zm-79 1h2v2h-2zm33 0h2v2h-2zm72 0h2v2h-2zm-97 1h2v2h-2zm92 0h2v2h-2zm-54 1h2v2h-2zm72 0h2v2h-2zm-104 1h2v2h-2zm26 0h2v2h-2zm-54 1h2v2h-2zm30 0h2v2h-2zm3 0h2v2h-2zm31 0h2v2h-2zm32 0h2v2h-2zm0 1h2v2h-2zm13 0h2v2h-2zm-121 1h2v2h-2zm65 0h2v2h-2zm8 0h2v2h-2zm23 0h2v2h-2zm-92 1h2v2h-2zm14 0h2v2h-2zm44 0h2v2h-2zm13 0h2v2h-2zm4 0h2v2h-2zm52 0h2v2h-2zm10 0h2v2h-2zm-129 1h2v2h-2zm87 0h2v2h-2zm-9 1h2v2h-2zm36 0h2v2h-2zm-95 1h2v2h-2zm25 0h2v2h-2zm19 0h2v2h-2zm30 0h2v2h-2zm9 0h2v2h-2zm-74 1h2v2h-2zm13 0h2v2h-2zm7 0h2v2h-2zm-33 1h2v2h-2zm29 0h2v2h-2zm41 0h2v2h-2zm1 0h2v2h-2zm13 0h2v2h-2zm37 0h2v2h-2zm-72 1h2v2h-2zm-74 1h2v2h-2zm4 0h2v2h-2zm24 0h2v2h-2zm9 0h2v2h-2zm44 0h2v2h-2zm44 0h2v2h-2zm-120 1h2v2h-2zm8 0h2v2h-2zm46 0h2v2h-2zm6 0h2v2h-2zm10 0h2v2h-2zm17 0h2v2h-2zm-93 1h2v2h-2zm12 0h2v2h-2zm41 0h2v2h-2zm1 0h2v2h-2zm14 0h2v2h-2zm54 0h2v2h-2zm-66 1h2v2h-2zm-46 1h2v2h-2zm7 0h2v2h-2zm74 0h2v2h-2zm5 0h2v2h-2zm17 0h2v2h-2zm11 0h2v2h-2zm-92 1h2v2h-2zm72 0h2v2h-2zm-97 1h2v2h-2zm9 0h2v2h-2zm10 0h2v2h-2zm33 0h2v2h-2zm1 0h2v2h-2zm13 0h2v2h-2zm38 0h2v2h-2zm-73 1h2v2h-2zm59 0h2v2h-2zm40 0h2v2h-2zm4 0h2v2h-2zm-92 1h2v2h-2zm16 0h2v2h-2zm48 0h2v2h-2zm-114 1h2v2h-2zm101 0h2v2h-2zm20 0h2v2h-2zm11 1h2v2h-2zm-75 1h2v2h-2zm23 0h2v2h-2zm59 0h2v2h-2zm10 0h2v2h-2zm-138 1h2v2h-2zm11 0h2v2h-2zm72 0h2v2h-2zm-7 1h2v2h-2zm3 0h2v2h-2zm49 0h2v2h-2zm-131 1h2v2h-2zm35 0h2v2h-2zm48 0h2v2h-2zm3 0h2v2h-2zm34 0h2v2h-2zm-78 1h2v2h-2zm6 0h2v2h-2zm54 0h2v2h-2zm-90 1h2v2h-2zm73 0h2v2h-2zm-90 1h2v2h-2zm13 0h2v2h-2zm3 0h2v2h-2zm7 0h2v2h-2zm44 0h2v2h-2zm37 0h2v2h-2zm-47 1h2v2h-2zm10 0h2v2h-2zm27 0h2v2h-2zm2 0h2v2h-2zm43 1h2v2h-2zm-74 1h2v2h-2zm34 0h2v2h-2zm38 0h2v2h-2zm-118 1h2v2h-2zm6 0h2v2h-2zm14 0h2v2h-2zm54 0h2v2h-2zm-96 1h2v2h-2zm2 0h2v2h-2zm117 0h2v2h-2zm-85 1h2v2h-2zm53 0h2v2h-2zm5 0h2v2h-2zm-46 1h2v2h-2zm53 0h2v2h-2zm28 0h2v2h-2zm3 0h2v2h-2zm-110 1h2v2h-2zm0 0h2v2h-2zm26 0h2v2h-2zm19 0h2v2h-2zm-59 1h2v2h-2zm35 0h2v2h-2zm22 0h2v2h-2zm86 0h2v2h-2zm-108 1h2v2h-2zm50 0h2v2h-2zm4 0h2v2h-2zm-29 1h2v2h-2zm48 0h2v2h-2zm6 0h2v2h-2zm4 0h2v2h-2zm21 0h2v2h-2zm-100 1h2v2h-2zm7 0h2v2h-2zm47 0h2v2h-2zm17 0h2v2h-2zm-86 1h2v2h-2zm9 0h2v2h-2zm106 0h2v2h-2zm3 0h2v2h-2zm-143 1h2v2h-2zm48 0h2v2h-2zm43 0h2v2h-2zm-92 1h2v2h-2zm109 0h2v2h-2zm3 0h2v2h-2zm23 0h2v2h-2zm-137 1h2v2h-2zm12 0h2v2h-2zm2 0h2v2h-2zm8 0h2v2h-2zm17 0h2v2h-2zm52 0h2v2h-2zm-77 1h2v2h-2zm46 0h2v2h-2zm55 0h2v2h-2zm15 0h2v2h-2zm8 1h2v2h-2zm2 0h2v2h-2zm-116 1h2v2h-2zm2 0h2v2h-2zm47 0h2v2h-2zm39 0h2v2h-2zm14 0h2v2h-2zm-128 1h2v2h-2zm5 0h2v2h-2zm8 0h2v2h-2zm10 0h2v2h-2zm64 0h2v2h-2zm7 0h2v2h-2zm11 0h2v2h-2zm30 0h2v2h-2zm6 0h2v2h-2zm-90 1h2v2h-2zm-29 1h2v2h-2zm41 0h2v2h-2zm20 0h2v2h-2zm2 0h2v2h-2zm8 1h2v2h-2zm-88 1h2v2h-2zm2 0h2v2h-2zm53 0h2v2h-2zm38 0h2v2h-2zm6 0h2v2h-2zm-95 1h2v2h-2zm7 0h2v2h-2zm70 0h2v2h-2zm16 0h2v2h-2zm28 0h2v2h-2zm-63 1h2v2h-2zm8 0h2v2h-2zm26 0h2v2h-2zm11 0h2v2h-2zm4 0h2v2h-2zm24 0h2v2h-2zm-60 1h2v2h-2zm16 0h2v2h-2zm12 0h2v2h-2zm-22 1h2v2h-2zm-50 1h2v2h-2zm14 0h2v2h-2zm53 0h2v2h-2zm22 0h2v2h-2zm4 0h2v2h-2zm6 0h2v2h-2zm-107 1h2v2h-2zm0 0h2v2h-2zm35 0h2v2h-2zm48 0h2v2h-2zm13 0h2v2h-2zm-112 2h2v2h-2zm14 0h2v2h-2zm36 0h2v2h-2zm82 0h2v2h-2zm-92 1h2v2h-2zm13 0h2v2h-2zm39 0h2v2h-2zm-101 1h2v2h-2zm28 0h2v2h-2zm38 0h2v2h-2zm5 0h2v2h-2zm3 0h2v2h-2zm26 0h2v2h-2zm-67 1h2v2h-2zm-32 1h2v2h-2zm9 0h2v2h-2zm59 0h2v2h-2zm40 0h2v2h-2zm2 0h2v2h-2zm28 0h2v2h-2zm-113 1h2v2h-2zm55 2h2v2h-2zm24 0h2v2h-2zm-106 1h2v2h-2zm65 0h2v2h-2zm17 0h2v2h-2zm23 0h2v2h-2zm12 0h2v2h-2zm-107 1h2v2h-2zm6 0h2v2h-2zm96 0h2v2h-2zm5 0h2v2h-2zm14 0h2v2h-2zm7 0h2v2h-2zm-65 1h2v2h-2zm-44 1h2v2h-2zm12 0h2v2h-2zm14 0h2v2h-2zm4 0h2v2h-2zm16 0h2v2h-2zm6 0h2v2h-2zm1 0h2v2h-2zm65 0h2v2h-2zm-93 1h2v2h-2zm54 0h2v2h-2zm25 0h2v2h-2zm-115 1h2v2h-2zm15 0h2v2h-2zm59 0h2v2h-2zm46 0h2v2h-2zm-91 1h2v2h-2zm88 0h2v2h-2zm-53 1h2v2h-2zm21 0h2v2h-2zm18 0h2v2h-2zm11 0h2v2h-2zm1 0h2v2h-2zm-112 1h2v2h-2zm22 0h2v2h-2zm30 0h2v2h-2zm-61 1h2v2h-2zm45 0h2v2h-2zm11 0h2v2h-2zm22 0h2v2h-2zm14 0h2v2h-2zm40 0h2v2h-2zm3 0h2v2h-2zm-94 1h2v2h-2zm73 0h2v2h-2zm-42 1h2v2h-2zm40 0h2v2h-2zm17 0h2v2h-2zm-126 1h2v2h-2zm20 0h2v2h-2zm70 0h2v2h-2zm42 0h2v2h-2zm-39 1h2v2h-2zm1 1h2v2h-2zm17 0h2v2h-2zm2 0h2v2h-2zm3 0h2v2h-2zm-131 1h2v2h-2zm18 0h2v2h-2zm30 0h2v2h-2zm12 0h2v2h-2zm18 0h2v2h-2zm9 0h2v2h-2zm-78 1h2v2h-2zm56 1h2v2h-2zm39 0h2v2h-2zm-63 1h2v2h-2zm7 0h2v2h-2zm18 0h2v2h-2zm27 0h2v2h-2zm47 0h2v2h-2zm-51 1h2v2h-2zm15 0h2v2h-2zm-100 1h2v2h-2zm1 0h2v2h-2zm47 0h2v2h-2zm33 1h2v2h-2zm35 0h2v2h-2zm-115 1h2v2h-2zm34 0h2v2h-2zm8 0h2v2h-2zm-48 1h2v2h-2zm72 0h2v2h-2zm1 0h2v2h-2zm34 0h2v2h-2zm9 1h2v2h-2zm15 0h2v2h-2zm-88 1h2v2h-2zm18 0h2v2h-2zm47 0h2v2h-2zm-32 1h2v2h-2zm25 0h2v2h-2zm-92 1h2v2h-2zm67 0h2v2h-2zm22 0h2v2h-2zm-58 1h2v2h-2zm6 0h2v2h-2zm51 0h2v2h-2zm3 0h2v2h-2zm-68 1h2v2h-2zm15 1h2v2h-2zm68 0h2v2h-2zm-86 1h2v2h-2zm2 0h2v2h-2zm28 0h2v2h-2zm-2 1h2v2h-2zm22 0h2v2h-2zm2 0h2v2h-2zm2 0h2v2h-2zm62 0h2v2h-2zm-94 1h2v2h-2zm75 0h2v2h-2zm18 0h2v2h-2zm-142 1h2v2h-2zm102 0h2v2h-2zm39 0h2v2h-2zm-62 1h2v2h-2zm40 0h2v2h-2zm4 0h2v2h-2zm-55 1h2v2h-2zm35 0h2v2h-2zm31 0h2v2h-2zm1 0h2v2h-2zm-112 1h2v2h-2zm9 0h2v2h-2zm78 0h2v2h-2zm18 0h2v2h-2zm-122 1h2v2h-2zm35 0h2v2h-2zm47 0h2v2h-2zm10 0h2v2h-2zm25 0h2v2h-2zm10 0h2v2h-2zm-134 1h2v2h-2zm26 0h2v2h-2zm34 0h2v2h-2zm36 0h2v2h-2zm27 0h2v2h-2zm20 0h2v2h-2zm-94 1h2v2h-2zm55 0h2v2h-2zm-58 1h2v2h-2zm-30 1h2v2h-2zm62 0h2v2h-2zm2 0h2v2h-2zm17 1h2v2h-2zm20 0h2v2h-2zm12 0h2v2h-2zm-128 1h2v2h-2zm34 0h2v2h-2zm36 0h2v2h-2zm33 0h2v2h-2zm12 0h2v2h-2zm-56 1h2v2h-2zm43 0h2v2h-2zm-60 1h2v2h-2zm55 0h2v2h-2zm3 0h2v2h-2zm5 1h2v2h-2zm3 0h2v2h-2zm12 0h2v2h-2zm19 0h2v2h-2zm0 0h2v2h-2zm2 1h2v2h-2zm3 0h2v2h-2zm-126 1h2v2h-2zm84 0h2v2h-2zm1 0h2v2h-2zm-80 1h2v2h-2zm1 0h2v2h-2zm15 0h2v2h-2zm7 0h2v2h-2zm6 0h2v2h-2zm6 0h2v2h-2zm71 0h2v2h-2zm-131 1h2v2h-2zm12 0h2v2h-2zm47 0h2v2h-2zm12 0h2v2h-2zm24 0h2v2h-2zm26 0h2v2h-2zm-41 1h2v2h-2zm-31 1h2v2h-2zm12 0h2v2h-2zm64 0h2v2h-2zm-84 1h2v2h-2zm18 0h2v2h-2zm-54 1h2v2h-2zm58 0h2v2h-2zm-64 1h2v2h-2zm120 0h2v2h-2zm-118 2h2v2h-2zm81 0h2v2h-2zm26 0h2v2h-2zm23 0h2v2h-2zm9 0h2v2h-2zm-132 1h2v2h-2zm3 0h2v2h-2zm17 0h2v2h-2zm101 0h2v2h-2zm-95 1h2v2h-2zm69 0h2v2h-2zm-59 1h2v2h-2zm14 0h2v2h-2zm-38 1h2v2h-2zm23 0h2v2h-2zm74 0h2v2h-2zm1 0h2v2h-2zm-114 1h2v2h-2zm5 0h2v2h-2zm5 0h2v2h-2zm30 0h2v2h-2zm24 0h2v2h-2zm76 0h2v2h-2zm-104 1h2v2h-2zm15 0h2v2h-2zm74 0h2v2h-2zm-37 1h2v2h-2zm12 0h2v2h-2zm25 0h2v2h-2zm-105 1h2v2h-2zm13 0h2v2h-2zm50 0h2v2h-2zm-42 1h2v2h-2zm23 0h2v2h-2zm12 0h2v2h-2zm62 0h2v2h-2zm-98 1h2v2h-2zm34 0h2v2h-2zm28 0h2v2h-2zm-76 1h2v2h-2zm55 0h2v2h-2zm28 0h2v2h-2zm-102 1h2v2h-2zm20 0h2v2h-2zm64 0h2v2h-2zm15 0h2v2h-2zm20 0h2v2h-2zm-116 1h2v2h-2zm21 0h2v2h-2zm32 0h2v2h-2zm8 0h2v2h-2zm7 0h2v2h-2z" fill="#8272ae" opacity="0.68"/>
<path d="M0 0m71 0h2v2h-2zm20 0h2v2h-2zm-84 1h2v2h-2zm20 0h2v2h-2zm84 0h2v2h-2zm29 0h2v2h-2zm-137 1h2v2h-2zm9 0h2v2h-2zm16 0h2v2h-2zm30 0h2v2h-2zm49 0h2v2h-2zm4 0h2v2h-2zm13 0h2v2h-2zm7 0h2v2h-2zm-112 1h2v2h-2zm26 0h2v2h-2zm2 0h2v2h-2zm30 0h2v2h-2zm16 0h2v2h-2zm4 0h2v2h-2zm13 0h2v2h-2zm2 0h2v2h-2zm5 0h2v2h-2zm-115 1h2v2h-2zm11 0h2v2h-2zm4 0h2v2h-2zm46 0h2v2h-2zm37 0h2v2h-2zm13 0h2v2h-2zm16 0h2v2h-2zm-83 1h2v2h-2zm8 0h2v2h-2zm48 0h2v2h-2zm25 0h2v2h-2zm20 0h2v2h-2zm-123 1h2v2h-2zm37 0h2v2h-2zm12 0h2v2h-2zm6 0h2v2h-2zm23 0h2v2h-2zm38 0h2v2h-2zm-81 1h2v2h-2zm3 0h2v2h-2zm-50 1h2v2h-2zm87 0h2v2h-2zm9 0h2v2h-2zm29 0h2v2h-2zm2 0h2v2h-2zm-121 1h2v2h-2zm46 0h2v2h-2zm14 0h2v2h-2zm43 0h2v2h-2zm-110 1h2v2h-2zm77 0h2v2h-2zm48 0h2v2h-2zm-116 1h2v2h-2zm73 0h2v2h-2zm-62 1h2v2h-2zm22 0h2v2h-2zm16 0h2v2h-2zm25 0h2v2h-2zm13 0h2v2h-2zm25 0h2v2h-2zm-126 1h2v2h-2zm-4 1h2v2h-2zm66 0h2v2h-2zm10 0h2v2h-2zm21 0h2v2h-2zm-7 1h2v2h-2zm36 0h2v2h-2zm11 0h2v2h-2zm-114 1h2v2h-2zm27 0h2v2h-2zm-20 1h2v2h-2zm49 0h2v2h-2zm2 0h2v2h-2zm1 0h2v2h-2zm34 0h2v2h-2zm-61 1h2v2h-2zm9 0h2v2h-2zm74 0h2v2h-2zm-140 1h2v2h-2zm42 0h2v2h-2zm57 0h2v2h-2zm11 0h2v2h-2zm-103 1h2v2h-2zm40 0h2v2h-2zm9 0h2v2h-2zm2 0h2v2h-2zm5 0h2v2h-2zm39 0h2v2h-2zm24 0h2v2h-2zm10 0h2v2h-2zm-134 1h2v2h-2zm15 0h2v2h-2zm19 0h2v2h-2zm72 0h2v2h-2zm6 0h2v2h-2zm5 0h2v2h-2zm6 0h2v2h-2zm12 0h2v2h-2zm-132 1h2v2h-2zm90 0h2v2h-2zm8 0h2v2h-2zm-91 1h2v2h-2zm5 0h2v2h-2zm82 0h2v2h-2zm47 0h2v2h-2zm-50 1h2v2h-2zm26 0h2v2h-2zm22 0h2v2h-2zm-77 1h2v2h-2zm33 0h2v2h-2zm-95 1h2v2h-2zm48 0h2v2h-2zm18 0h2v2h-2zm44 0h2v2h-2zm11 0h2v2h-2zm-121 1h2v2h-2zm81 0h2v2h-2zm4 0h2v2h-2zm17 0h2v2h-2zm41 0h2v2h-2zm-23 1h2v2h-2zm1 0h2v2h-2zm0 0h2v2h-2zm4 0h2v2h-2zm5 0h2v2h-2zm-110 1h2v2h-2zm16 0h2v2h-2zm22 0h2v2h-2zm40 0h2v2h-2zm9 0h2v2h-2zm-79 1h2v2h-2zm6 0h2v2h-2zm40 0h2v2h-2zm42 0h2v2h-2zm-96 1h2v2h-2zm10 0h2v2h-2zm45 0h2v2h-2zm-76 1h2v2h-2zm15 0h2v2h-2zm44 0h2v2h-2zm40 0h2v2h-2zm-82 1h2v2h-2zm105 0h2v2h-2zm-123 1h2v2h-2zm39 0h2v2h-2zm24 0h2v2h-2zm37 0h2v2h-2zm11 0h2v2h-2zm-77 1h2v2h-2zm44 0h2v2h-2zm40 0h2v2h-2zm-110 1h2v2h-2zm55 0h2v2h-2zm11 0h2v2h-2zm-23 1h2v2h-2zm94 0h2v2h-2zm-101 1h2v2h-2zm1 0h2v2h-2zm-24 1h2v2h-2zm28 0h2v2h-2zm13 0h2v2h-2zm49 0h2v2h-2zm22 0h2v2h-2zm-88 1h2v2h-2zm9 0h2v2h-2zm10 0h2v2h-2zm20 0h2v2h-2zm36 0h2v2h-2zm-119 1h2v2h-2zm0 0h2v2h-2zm60 0h2v2h-2zm3 0h2v2h-2zm80 0h2v2h-2zm-40 1h2v2h-2zm-97 1h2v2h-2zm2 0h2v2h-2zm50 0h2v2h-2zm12 0h2v2h-2zm11 0h2v2h-2zm31 0h2v2h-2zm-74 1h2v2h-2zm54 0h2v2h-2zm13 0h2v2h-2zm12 0h2v2h-2zm28 0h2v2h-2zm-120 1h2v2h-2zm5 0h2v2h-2zm60 0h2v2h-2zm-81 1h2v2h-2zm20 0h2v2h-2zm18 0h2v2h-2zm59 0h2v2h-2zm16 0h2v2h-2zm-117 1h2v2h-2zm2 0h2v2h-2zm14 0h2v2h-2zm0 0h2v2h-2zm65 0h2v2h-2zm38 0h2v2h-2zm-110 1h2v2h-2zm43 0h2v2h-2zm13 2h2v2h-2zm67 0h2v2h-2zm8 0h2v2h-2zm-111 1h2v2h-2zm29 0h2v2h-2zm1 0h2v2h-2zm8 0h2v2h-2zm65 0h2v2h-2zm-140 1h2v2h-2zm23 0h2v2h-2zm1 0h2v2h-2zm31 0h2v2h-2zm32 0h2v2h-2zm12 0h2v2h-2zm8 0h2v2h-2zm-107 1h2v2h-2zm1 0h2v2h-2zm43 0h2v2h-2zm16 0h2v2h-2zm77 0h2v2h-2zm-134 1h2v2h-2zm1 1h2v2h-2zm9 0h2v2h-2zm41 0h2v2h-2zm19 0h2v2h-2zm3 0h2v2h-2zm-26 1h2v2h-2zm18 0h2v2h-2zm44 0h2v2h-2zm-92 1h2v2h-2zm23 0h2v2h-2zm2 0h2v2h-2zm15 0h2v2h-2zm-39 1h2v2h-2zm22 0h2v2h-2zm5 0h2v2h-2zm2 0h2v2h-2zm11 0h2v2h-2zm54 0h2v2h-2zm30 0h2v2h-2zm-114 1h2v2h-2zm9 0h2v2h-2zm76 0h2v2h-2zm18 0h2v2h-2zm-130 1h2v2h-2zm7 0h2v2h-2zm94 0h2v2h-2zm-39 1h2v2h-2zm-57 1h2v2h-2zm15 0h2v2h-2zm6 0h2v2h-2zm39 0h2v2h-2zm44 0h2v2h-2zm18 0h2v2h-2zm-129 1h2v2h-2zm19 0h2v2h-2zm33 0h2v2h-2zm47 0h2v2h-2zm4 0h2v2h-2zm-48 1h2v2h-2zm26 0h2v2h-2zm4 0h2v2h-2zm-50 1h2v2h-2zm88 0h2v2h-2zm12 0h2v2h-2zm-95 1h2v2h-2zm65 0h2v2h-2zm27 0h2v2h-2zm-132 1h2v2h-2zm11 0h2v2h-2zm82 0h2v2h-2zm29 0h2v2h-2zm5 0h2v2h-2zm-74 1h2v2h-2zm3 0h2v2h-2zm22 0h2v2h-2zm10 0h2v2h-2zm-82 1h2v2h-2zm2 0h2v2h-2zm2 0h2v2h-2zm13 0h2v2h-2zm102 0h2v2h-2zm-36 1h2v2h-2zm15 0h2v2h-2zm21 0h2v2h-2zm-44 1h2v2h-2zm21 0h2v2h-2zm-102 2h2v2h-2zm26 0h2v2h-2zm3 0h2v2h-2zm3 0h2v2h-2zm1 0h2v2h-2zm10 0h2v2h-2zm10 0h2v2h-2zm15 0h2v2h-2zm10 0h2v2h-2zm6 0h2v2h-2zm19 0h2v2h-2zm21 0h2v2h-2zm-78 1h2v2h-2zm47 0h2v2h-2zm15 0h2v2h-2zm6 0h2v2h-2zm18 0h2v2h-2zm13 0h2v2h-2zm-122 1h2v2h-2zm109 0h2v2h-2zm-124 1h2v2h-2zm17 0h2v2h-2zm12 0h2v2h-2zm17 0h2v2h-2zm28 0h2v2h-2zm43 0h2v2h-2zm-128 1h2v2h-2zm30 0h2v2h-2zm111 0h2v2h-2zm-107 1h2v2h-2zm42 0h2v2h-2zm65 0h2v2h-2zm-126 1h2v2h-2zm3 0h2v2h-2zm57 0h2v2h-2zm18 0h2v2h-2zm15 0h2v2h-2zm18 0h2v2h-2zm-125 1h2v2h-2zm9 0h2v2h-2zm42 0h2v2h-2zm4 0h2v2h-2zm49 0h2v2h-2zm5 0h2v2h-2zm28 0h2v2h-2zm-99 1h2v2h-2zm84 0h2v2h-2zm14 0h2v2h-2zm-107 1h2v2h-2zm3 0h2v2h-2zm36 0h2v2h-2zm61 0h2v2h-2zm19 0h2v2h-2zm-85 1h2v2h-2zm9 0h2v2h-2zm-53 1h2v2h-2zm6 0h2v2h-2zm42 0h2v2h-2zm5 0h2v2h-2zm28 0h2v2h-2zm-81 1h2v2h-2zm46 0h2v2h-2zm77 0h2v2h-2zm-140 1h2v2h-2zm29 0h2v2h-2zm11 0h2v2h-2zm1 0h2v2h-2zm19 0h2v2h-2zm17 0h2v2h-2zm35 0h2v2h-2zm-100 1h2v2h-2zm74 0h2v2h-2zm21 0h2v2h-2zm13 0h2v2h-2zm-113 1h2v2h-2zm8 0h2v2h-2zm4 0h2v2h-2zm84 0h2v2h-2zm23 0h2v2h-2zm-108 1h2v2h-2zm10 0h2v2h-2zm49 0h2v2h-2zm11 0h2v2h-2zm29 0h2v2h-2zm17 0h2v2h-2zm-127 1h2v2h-2zm54 0h2v2h-2zm24 0h2v2h-2zm7 0h2v2h-2zm-25 1h2v2h-2zm6 0h2v2h-2zm10 0h2v2h-2zm15 0h2v2h-2zm-90 1h2v2h-2zm14 0h2v2h-2zm102 0h2v2h-2zm-75 1h2v2h-2zm15 0h2v2h-2zm18 0h2v2h-2zm17 0h2v2h-2zm-8 2h2v2h-2zm-94 1h2v2h-2zm20 0h2v2h-2zm16 0h2v2h-2zm20 0h2v2h-2zm8 0h2v2h-2zm30 0h2v2h-2zm18 0h2v2h-2zm-104 1h2v2h-2zm72 0h2v2h-2zm1 0h2v2h-2zm33 0h2v2h-2zm15 0h2v2h-2zm-69 1h2v2h-2zm21 0h2v2h-2zm34 0h2v2h-2zm18 0h2v2h-2zm-108 1h2v2h-2zm57 0h2v2h-2zm-80 1h2v2h-2zm0 0h2v2h-2zm13 0h2v2h-2zm30 0h2v2h-2zm14 0h2v2h-2zm55 0h2v2h-2zm-19 1h2v2h-2zm3 0h2v2h-2zm19 0h2v2h-2zm-115 1h2v2h-2zm20 0h2v2h-2zm15 0h2v2h-2zm5 0h2v2h-2zm50 0h2v2h-2zm10 0h2v2h-2zm42 0h2v2h-2zm-63 1h2v2h-2zm3 0h2v2h-2zm52 0h2v2h-2zm11 0h2v2h-2zm-96 1h2v2h-2zm7 0h2v2h-2zm2 0h2v2h-2zm35 0h2v2h-2zm1 0h2v2h-2zm17 0h2v2h-2zm-37 1h2v2h-2zm-70 1h2v2h-2zm34 0h2v2h-2zm13 0h2v2h-2zm67 0h2v2h-2zm15 1h2v2h-2zm-122 1h2v2h-2zm48 0h2v2h-2zm25 0h2v2h-2zm-43 1h2v2h-2zm4 0h2v2h-2zm5 0h2v2h-2zm7 0h2v2h-2zm21 0h2v2h-2zm44 0h2v2h-2zm24 0h2v2h-2zm-131 1h2v2h-2zm41 0h2v2h-2zm41 0h2v2h-2zm26 0h2v2h-2zm9 0h2v2h-2zm-132 1h2v2h-2zm12 0h2v2h-2zm4 0h2v2h-2zm54 0h2v2h-2zm20 0h2v2h-2zm-9 1h2v2h-2zm58 0h2v2h-2zm1 0h2v2h-2zm-94 1h2v2h-2zm13 0h2v2h-2zm77 0h2v2h-2zm-90 1h2v2h-2zm37 0h2v2h-2zm11 0h2v2h-2zm1 0h2v2h-2zm-83 1h2v2h-2zm46 0h2v2h-2zm9 0h2v2h-2zm10 0h2v2h-2zm24 0h2v2h-2zm-52 1h2v2h-2zm-30 1h2v2h-2zm65 0h2v2h-2zm7 0h2v2h-2zm-80 1h2v2h-2zm1 0h2v2h-2zm2 0h2v2h-2zm36 0h2v2h-2zm30 0h2v2h-2zm7 0h2v2h-2zm36 0h2v2h-2zm24 0h2v2h-2zm-130 1h2v2h-2zm-13 1h2v2h-2zm36 0h2v2h-2zm44 1h2v2h-2zm11 0h2v2h-2zm24 0h2v2h-2zm-85 1h2v2h-2zm0 0h2v2h-2zm-36 1h2v2h-2zm30 0h2v2h-2zm53 0h2v2h-2zm41 0h2v2h-2zm-111 1h2v2h-2zm6 0h2v2h-2zm90 0h2v2h-2zm5 0h2v2h-2zm-87 1h2v2h-2zm65 0h2v2h-2zm-86 1h2v2h-2zm29 0h2v2h-2zm20 0h2v2h-2zm-40 1h2v2h-2zm47 0h2v2h-2zm-40 1h2v2h-2zm82 0h2v2h-2zm-97 1h2v2h-2zm24 0h2v2h-2zm7 0h2v2h-2zm58 0h2v2h-2zm-57 1h2v2h-2zm10 0h2v2h-2zm2 0h2v2h-2zm79 0h2v2h-2zm-111 1h2v2h-2zm24 0h2v2h-2zm3 0h2v2h-2zm-22 1h2v2h-2zm23 0h2v2h-2zm60 0h2v2h-2zm12 0h2v2h-2zm-111 1h2v2h-2zm99 0h2v2h-2zm15 0h2v2h-2zm-71 1h2v2h-2zm3 0h2v2h-2zm42 0h2v2h-2zm17 0h2v2h-2zm12 0h2v2h-2zm1 0h2v2h-2zm-107 1h2v2h-2zm35 0h2v2h-2zm37 0h2v2h-2zm32 0h2v2h-2zm2 0h2v2h-2zm-117 1h2v2h-2zm44 0h2v2h-2zm56 0h2v2h-2zm12 0h2v2h-2zm-94 1h2v2h-2zm55 0h2v2h-2zm-79 1h2v2h-2zm5 0h2v2h-2zm98 0h2v2h-2zm-97 1h2v2h-2zm65 0h2v2h-2zm19 0h2v2h-2zm30 0h2v2h-2zm8 0h2v2h-2zm-98 1h2v2h-2zm3 0h2v2h-2zm37 0h2v2h-2zm1 0h2v2h-2zm13 0h2v2h-2zm15 0h2v2h-2zm-90 1h2v2h-2zm43 0h2v2h-2zm82 0h2v2h-2zm-122 1h2v2h-2zm133 0h2v2h-2zm-133 1h2v2h-2zm71 0h2v2h-2zm49 0h2v2h-2zm-118 1h2v2h-2zm36 0h2v2h-2zm26 0h2v2h-2zm26 0h2v2h-2zm11 0h2v2h-2zm31 0h2v2h-2zm-135 1h2v2h-2zm27 0h2v2h-2zm5 0h2v2h-2zm14 0h2v2h-2zm-42 2h2v2h-2zm1 0h2v2h-2zm14 0h2v2h-2zm90 0h2v2h-2zm-117 1h2v2h-2zm46 0h2v2h-2zm55 0h2v2h-2zm8 0h2v2h-2zm20 0h2v2h-2z" fill="#9284be" opacity="0.68"/>
<path d="M0 0m16 1h3v3h-3zm93 0h3v3h-3zm-49 4h3v3h-3zm-4 2h3v3h-3zm0 1h3v3h-3zm61 0h3v3h-3zm-75 1h3v3h-3zm24 7h3v3h-3zm70 0h3v3h-3zm-106 3h3v3h-3zm0 3h3v3h-3zm21 3h3v3h-3zm90 0h3v3h-3zm-17 1h3v3h-3zm-4 4h3v3h-3zm-115 1h3v3h-3zm57 0h3v3h-3zm-20 2h3v3h-3zm32 0h3v3h-3zm-61 3h3v3h-3zm2 1h3v3h-3zm26 1h3v3h-3zm-16 3h3v3h-3zm3 0h3v3h-3zm48 2h3v3h-3zm70 3h3v3h-3zm-36 5h3v3h-3zm-59 1h3v3h-3zm29 9h3v3h-3zm9 0h3v3h-3zm32 0h3v3h-3zm-20 3h3v3h-3zm4 2h3v3h-3zm-55 2h3v3h-3zm-46 4h3v3h-3zm85 1h3v3h-3zm38 0h3v3h-3zm-5 1h3v3h-3zm-62 1h3v3h-3zm5 0h3v3h-3zm65 2h3v3h-3zm-7 4h3v3h-3zm-10 1h3v3h-3zm-26 1h3v3h-3zm45 1h3v3h-3zm-97 4h3v3h-3zm5 1h3v3h-3zm55 0h3v3h-3zm-25 1h3v3h-3zm5 0h3v3h-3zm66 2h3v3h-3zm-64 2h3v3h-3zm-30 5h3v3h-3zm19 2h3v3h-3zm-5 3h3v3h-3zm-59 2h3v3h-3zm42 5h3v3h-3zm-19 2h3v3h-3zm103 1h3v3h-3zm-91 1h3v3h-3zm1 3h3v3h-3zm84 1h3v3h-3zm-92 3h3v3h-3zm-20 1h3v3h-3zm52 1h3v3h-3zm-23 6h3v3h-3zm29 4h3v3h-3zm43 4h3v3h-3zm-107 3h3v3h-3zm22 0h3v3h-3zm47 2h3v3h-3zm-38 2h3v3h-3zm83 2h3v3h-3z" fill="#7a4634" opacity="0.85"/>
<path d="M0 0m60 5h2v2h-2zm2 8h2v2h-2zm-50 10h2v2h-2zm24 11h2v2h-2zm18 2h2v2h-2zm81 0h2v2h-2zm-80 5h2v2h-2zm-10 12h2v2h-2zm70 1h2v2h-2zm-71 1h2v2h-2zm-23 3h2v2h-2zm64 2h2v2h-2zm19 6h2v2h-2zm-5 10h2v2h-2zm-49 1h2v2h-2zm-13 6h2v2h-2zm110 2h2v2h-2zm-31 4h2v2h-2zm-76 4h2v2h-2zm96 3h2v2h-2zm-5 4h2v2h-2zm-61 7h2v2h-2zm6 2h2v2h-2zm-34 2h2v2h-2zm40 0h2v2h-2zm40 7h2v2h-2zm-59 5h2v2h-2zm-55 4h2v2h-2zm122 2h2v2h-2zm-30 7h2v2h-2zm-14 6h2v2h-2z" fill="#6a3a2a" opacity="0.85"/>
<path d="M0 0m50 0h2v2h-2zm1 4h2v2h-2zm-17 8h2v2h-2zm-16 13h2v2h-2zm46 13h2v2h-2zm45 17h2v2h-2zm36 0h2v2h-2zm-124 1h2v2h-2zm33 0h2v2h-2zm10 9h2v2h-2zm52 0h2v2h-2zm-96 7h2v2h-2zm-3 2h2v2h-2zm122 3h2v2h-2zm-44 5h2v2h-2zm-83 1h2v2h-2zm53 9h2v2h-2zm-56 3h2v2h-2zm118 6h2v2h-2zm3 0h2v2h-2zm-110 1h2v2h-2zm23 1h2v2h-2zm84 4h2v2h-2zm-45 7h2v2h-2zm53 0h2v2h-2zm-128 5h2v2h-2zm109 7h2v2h-2zm5 10h2v2h-2zm-66 7h2v2h-2z" fill="#7a4634" opacity="0.85"/>
<path d="M0 0m0 0h3v3h-3zm98 0h3v3h-3zm14 2h3v3h-3zm-106 2h3v3h-3zm117 5h3v3h-3zm-52 1h3v3h-3zm14 1h3v3h-3zm60 2h3v3h-3zm-108 3h3v3h-3zm8 0h3v3h-3zm89 0h3v3h-3zm-56 2h3v3h-3zm28 0h3v3h-3zm-36 3h3v3h-3zm70 2h3v3h-3zm-130 1h3v3h-3zm130 0h3v3h-3zm-103 1h3v3h-3zm94 0h3v3h-3zm-128 2h3v3h-3zm77 2h3v3h-3zm-51 2h3v3h-3zm76 4h3v3h-3zm-92 1h3v3h-3zm100 0h3v3h-3zm-43 2h3v3h-3zm18 1h3v3h-3zm43 2h3v3h-3zm-32 2h3v3h-3zm46 1h3v3h-3zm-28 1h3v3h-3zm-45 1h3v3h-3zm-39 7h3v3h-3zm-27 3h3v3h-3zm129 2h3v3h-3zm-26 6h3v3h-3zm-46 1h3v3h-3zm40 0h3v3h-3zm-14 10h3v3h-3zm-53 1h3v3h-3zm2 0h3v3h-3zm7 2h3v3h-3zm28 0h3v3h-3zm5 0h3v3h-3zm15 1h3v3h-3zm-22 4h3v3h-3zm38 0h3v3h-3zm-32 8h3v3h-3zm54 6h3v3h-3zm-110 4h3v3h-3zm95 4h3v3h-3zm-55 1h3v3h-3zm-44 1h3v3h-3zm14 0h3v3h-3zm9 3h3v3h-3zm74 0h3v3h-3zm-111 1h3v3h-3zm103 6h3v3h-3zm-56 2h3v3h-3zm66 0h3v3h-3zm-46 6h3v3h-3zm11 2h3v3h-3zm-45 1h3v3h-3zm-3 3h3v3h-3zm114 3h3v3h-3zm-81 6h3v3h-3zm52 3h3v3h-3zm7 0h3v3h-3zm-72 4h3v3h-3zm77 0h3v3h-3z" fill="#6a3a2a" opacity="0.85"/>
<path d="M0 0m64 1h3v3h-3zm11 4h3v3h-3zm24 0h3v3h-3zm-41 3h3v3h-3zm28 1h3v3h-3zm45 2h3v3h-3zm-52 2h3v3h-3zm-56 1h3v3h-3zm90 1h3v3h-3zm-13 2h3v3h-3zm-87 2h3v3h-3zm53 4h3v3h-3zm-27 4h3v3h-3zm59 7h3v3h-3zm28 2h3v3h-3zm-15 3h3v3h-3zm2 0h3v3h-3zm19 0h3v3h-3zm-64 2h3v3h-3zm76 2h3v3h-3zm-90 2h3v3h-3zm91 4h3v3h-3zm-133 2h3v3h-3zm79 0h3v3h-3zm26 14h3v3h-3zm-56 2h3v3h-3zm30 0h3v3h-3zm33 0h3v3h-3zm-25 7h3v3h-3zm-96 2h3v3h-3zm127 1h3v3h-3zm-129 1h3v3h-3zm42 0h3v3h-3zm-34 1h3v3h-3zm40 1h3v3h-3zm-17 2h3v3h-3zm56 2h3v3h-3zm-26 6h3v3h-3zm54 3h3v3h-3zm12 2h3v3h-3zm-44 6h3v3h-3zm15 5h3v3h-3zm-20 1h3v3h-3zm-33 8h3v3h-3zm-38 2h3v3h-3zm69 0h3v3h-3zm-30 3h3v3h-3zm-24 1h3v3h-3zm104 3h3v3h-3zm-21 1h3v3h-3zm11 0h3v3h-3zm-112 5h3v3h-3zm63 2h3v3h-3zm53 0h3v3h-3zm-63 1h3v3h-3zm82 2h3v3h-3zm-105 2h3v3h-3zm-6 1h3v3h-3zm114 2h3v3h-3zm-9 1h3v3h-3zm-80 6h3v3h-3z" fill="#5a3024" opacity="0.85"/>
<path d="M0 0m60 0h2v2h-2zm44 2h2v2h-2zm31 5h2v2h-2zm-123 4h2v2h-2zm47 4h2v2h-2zm39 0h2v2h-2zm-67 2h2v2h-2zm109 8h2v2h-2zm-98 3h2v2h-2zm-12 5h2v2h-2zm117 0h2v2h-2zm-91 6h2v2h-2zm70 3h2v2h-2zm-113 4h2v2h-2zm9 2h2v2h-2zm2 3h2v2h-2zm69 0h2v2h-2zm-57 10h2v2h-2zm47 9h2v2h-2zm26 2h2v2h-2zm-51 1h2v2h-2zm-14 1h2v2h-2zm22 8h2v2h-2zm43 0h2v2h-2zm3 10h2v2h-2zm-66 4h2v2h-2zm81 22h2v2h-2zm-34 3h2v2h-2zm-25 2h2v2h-2zm-4 3h2v2h-2zm57 1h2v2h-2zm1 2h2v2h-2zm19 1h2v2h-2zm-39 12h2v2h-2zm43 2h2v2h-2zm-104 3h2v2h-2z" fill="#5a3024" opacity="0.85"/>
</g></g></g>
<g transform="translate(75.2 672.8)"><rect width="74.6" height="75" fill="#dadcea"/><g filter="url(#soft)">
<rect width="74.6" height="75" fill="#dadcea"/><g transform="scale(.5)">
<path d="M0 0m60 0h2v2h-2zm84 0h2v2h-2zm-135 1h2v2h-2zm5 0h2v2h-2zm54 0h2v2h-2zm74 0h2v2h-2zm-12 1h2v2h-2zm-116 1h2v2h-2zm1 0h2v2h-2zm6 0h2v2h-2zm23 0h2v2h-2zm28 0h2v2h-2zm34 0h2v2h-2zm19 0h2v2h-2zm-117 1h2v2h-2zm47 0h2v2h-2zm20 0h2v2h-2zm64 0h2v2h-2zm3 0h2v2h-2zm-135 1h2v2h-2zm57 0h2v2h-2zm21 0h2v2h-2zm60 0h2v2h-2zm-134 1h2v2h-2zm24 0h2v2h-2zm43 0h2v2h-2zm15 0h2v2h-2zm-68 1h2v2h-2zm4 1h2v2h-2zm41 0h2v2h-2zm14 0h2v2h-2zm-30 1h2v2h-2zm41 0h2v2h-2zm-93 1h2v2h-2zm31 0h2v2h-2zm41 0h2v2h-2zm5 0h2v2h-2zm38 0h2v2h-2zm22 0h2v2h-2zm-87 1h2v2h-2zm88 0h2v2h-2zm-86 1h2v2h-2zm15 0h2v2h-2zm-48 1h2v2h-2zm27 0h2v2h-2zm11 0h2v2h-2zm12 1h2v2h-2zm42 0h2v2h-2zm-94 2h2v2h-2zm90 0h2v2h-2zm-89 1h2v2h-2zm17 0h2v2h-2zm49 0h2v2h-2zm31 0h2v2h-2zm6 0h2v2h-2zm19 0h2v2h-2zm-140 1h2v2h-2zm91 0h2v2h-2zm18 0h2v2h-2zm4 0h2v2h-2zm19 0h2v2h-2zm3 0h2v2h-2zm-133 1h2v2h-2zm17 0h2v2h-2zm34 0h2v2h-2zm28 0h2v2h-2zm-63 1h2v2h-2zm19 0h2v2h-2zm46 0h2v2h-2zm46 0h2v2h-2zm-50 1h2v2h-2zm12 0h2v2h-2zm28 0h2v2h-2zm18 0h2v2h-2zm-118 1h2v2h-2zm49 0h2v2h-2zm5 1h2v2h-2zm12 0h2v2h-2zm19 0h2v2h-2zm17 0h2v2h-2zm-24 1h2v2h-2zm31 0h2v2h-2zm-72 1h2v2h-2zm84 0h2v2h-2zm-127 1h2v2h-2zm16 0h2v2h-2zm23 0h2v2h-2zm14 0h2v2h-2zm1 0h2v2h-2zm18 0h2v2h-2zm27 0h2v2h-2zm4 0h2v2h-2zm-115 1h2v2h-2zm41 0h2v2h-2zm77 0h2v2h-2zm12 0h2v2h-2zm-86 1h2v2h-2zm12 0h2v2h-2zm25 0h2v2h-2zm44 0h2v2h-2zm16 0h2v2h-2zm-132 1h2v2h-2zm31 0h2v2h-2zm24 0h2v2h-2zm10 0h2v2h-2zm11 0h2v2h-2zm10 0h2v2h-2zm-77 1h2v2h-2zm115 0h2v2h-2zm-94 1h2v2h-2zm2 0h2v2h-2zm87 0h2v2h-2zm-95 1h2v2h-2zm56 0h2v2h-2zm37 0h2v2h-2zm-117 1h2v2h-2zm46 0h2v2h-2zm64 0h2v2h-2zm-111 1h2v2h-2zm36 0h2v2h-2zm1 0h2v2h-2zm2 0h2v2h-2zm43 0h2v2h-2zm35 0h2v2h-2zm-117 1h2v2h-2zm2 0h2v2h-2zm27 0h2v2h-2zm64 0h2v2h-2zm34 0h2v2h-2zm-97 1h2v2h-2zm73 0h2v2h-2zm22 0h2v2h-2zm-131 1h2v2h-2zm62 0h2v2h-2zm5 0h2v2h-2zm-52 1h2v2h-2zm38 0h2v2h-2zm13 0h2v2h-2zm20 0h2v2h-2zm15 0h2v2h-2zm4 0h2v2h-2zm20 0h2v2h-2zm6 0h2v2h-2zm-79 1h2v2h-2zm49 0h2v2h-2zm17 0h2v2h-2zm-123 1h2v2h-2zm6 0h2v2h-2zm53 0h2v2h-2zm0 0h2v2h-2zm2 0h2v2h-2zm-50 1h2v2h-2zm17 0h2v2h-2zm68 0h2v2h-2zm-70 1h2v2h-2zm64 0h2v2h-2zm12 0h2v2h-2zm14 0h2v2h-2zm4 0h2v2h-2zm-104 1h2v2h-2zm-13 1h2v2h-2zm48 0h2v2h-2zm10 0h2v2h-2zm18 0h2v2h-2zm25 0h2v2h-2zm0 0h2v2h-2zm23 0h2v2h-2zm-121 1h2v2h-2zm5 0h2v2h-2zm59 0h2v2h-2zm2 0h2v2h-2zm23 0h2v2h-2zm-39 1h2v2h-2zm21 0h2v2h-2zm27 0h2v2h-2zm11 0h2v2h-2zm30 0h2v2h-2zm-144 1h2v2h-2zm22 0h2v2h-2zm102 0h2v2h-2zm-107 1h2v2h-2zm4 0h2v2h-2zm25 0h2v2h-2zm1 0h2v2h-2zm39 0h2v2h-2zm31 0h2v2h-2zm-87 1h2v2h-2zm14 0h2v2h-2zm31 0h2v2h-2zm9 0h2v2h-2zm28 0h2v2h-2zm22 0h2v2h-2zm5 0h2v2h-2zm-82 1h2v2h-2zm75 1h2v2h-2zm6 0h2v2h-2zm-77 1h2v2h-2zm55 0h2v2h-2zm-113 1h2v2h-2zm13 0h2v2h-2zm102 0h2v2h-2zm17 0h2v2h-2zm-136 1h2v2h-2zm48 0h2v2h-2zm63 0h2v2h-2zm35 0h2v2h-2zm-124 1h2v2h-2zm20 0h2v2h-2zm103 0h2v2h-2zm-128 1h2v2h-2zm43 0h2v2h-2zm5 0h2v2h-2zm37 0h2v2h-2zm3 0h2v2h-2zm17 0h2v2h-2zm-75 1h2v2h-2zm14 0h2v2h-2zm28 0h2v2h-2zm3 0h2v2h-2zm13 0h2v2h-2zm-82 1h2v2h-2zm83 0h2v2h-2zm38 0h2v2h-2zm-35 1h2v2h-2zm-104 1h2v2h-2zm26 0h2v2h-2zm0 0h2v2h-2zm54 0h2v2h-2zm28 0h2v2h-2zm18 0h2v2h-2zm13 0h2v2h-2zm1 0h2v2h-2zm-91 1h2v2h-2zm55 0h2v2h-2zm-72 1h2v2h-2zm79 0h2v2h-2zm-83 1h2v2h-2zm81 0h2v2h-2zm-51 1h2v2h-2zm3 0h2v2h-2zm-2 1h2v2h-2zm3 0h2v2h-2zm27 0h2v2h-2zm33 2h2v2h-2zm12 0h2v2h-2zm-60 1h2v2h-2zm43 0h2v2h-2zm11 0h2v2h-2zm-109 1h2v2h-2zm73 0h2v2h-2zm-80 1h2v2h-2zm23 0h2v2h-2zm76 0h2v2h-2zm28 0h2v2h-2zm-133 1h2v2h-2zm8 0h2v2h-2zm10 0h2v2h-2zm43 0h2v2h-2zm74 0h2v2h-2zm-100 1h2v2h-2zm-42 1h2v2h-2zm8 0h2v2h-2zm116 0h2v2h-2zm-128 1h2v2h-2zm44 0h2v2h-2zm32 0h2v2h-2zm28 0h2v2h-2zm-81 1h2v2h-2zm26 0h2v2h-2zm73 0h2v2h-2zm-117 1h2v2h-2zm23 0h2v2h-2zm11 0h2v2h-2zm14 0h2v2h-2zm27 0h2v2h-2zm52 0h2v2h-2zm6 0h2v2h-2zm-130 1h2v2h-2zm10 0h2v2h-2zm3 0h2v2h-2zm42 0h2v2h-2zm28 0h2v2h-2zm9 0h2v2h-2zm16 0h2v2h-2zm-86 1h2v2h-2zm90 0h2v2h-2zm-105 1h2v2h-2zm36 0h2v2h-2zm40 0h2v2h-2zm1 0h2v2h-2zm12 0h2v2h-2zm-88 1h2v2h-2zm66 0h2v2h-2zm26 0h2v2h-2zm11 0h2v2h-2zm-14 1h2v2h-2zm5 0h2v2h-2zm-26 1h2v2h-2zm26 0h2v2h-2zm20 0h2v2h-2zm8 0h2v2h-2zm2 0h2v2h-2zm6 0h2v2h-2zm-127 1h2v2h-2zm19 0h2v2h-2zm23 0h2v2h-2zm24 0h2v2h-2zm-63 1h2v2h-2zm48 0h2v2h-2zm77 0h2v2h-2zm-143 1h2v2h-2zm18 0h2v2h-2zm44 0h2v2h-2zm3 0h2v2h-2zm28 0h2v2h-2zm-43 1h2v2h-2zm7 0h2v2h-2zm70 0h2v2h-2zm6 0h2v2h-2zm-93 1h2v2h-2zm14 0h2v2h-2zm-45 1h2v2h-2zm47 0h2v2h-2zm47 0h2v2h-2zm-83 1h2v2h-2zm18 0h2v2h-2zm27 0h2v2h-2zm14 0h2v2h-2zm46 0h2v2h-2zm-103 1h2v2h-2zm22 0h2v2h-2zm-45 3h2v2h-2zm69 0h2v2h-2zm27 0h2v2h-2zm-63 1h2v2h-2zm5 0h2v2h-2zm84 0h2v2h-2zm4 0h2v2h-2zm-95 1h2v2h-2zm99 0h2v2h-2zm-106 1h2v2h-2zm18 0h2v2h-2zm-38 1h2v2h-2zm29 0h2v2h-2zm74 0h2v2h-2zm7 0h2v2h-2zm-113 1h2v2h-2zm32 0h2v2h-2zm22 0h2v2h-2zm-10 1h2v2h-2zm19 0h2v2h-2zm15 0h2v2h-2zm0 0h2v2h-2zm-51 1h2v2h-2zm1 0h2v2h-2zm7 0h2v2h-2zm4 0h2v2h-2zm6 0h2v2h-2zm30 0h2v2h-2zm16 0h2v2h-2zm13 0h2v2h-2zm-81 1h2v2h-2zm37 0h2v2h-2zm30 0h2v2h-2zm27 0h2v2h-2zm22 0h2v2h-2zm-91 1h2v2h-2zm66 0h2v2h-2zm-106 1h2v2h-2zm26 0h2v2h-2zm26 0h2v2h-2zm15 0h2v2h-2zm11 0h2v2h-2zm7 0h2v2h-2zm23 0h2v2h-2zm9 0h2v2h-2zm-115 1h2v2h-2zm89 0h2v2h-2zm-95 1h2v2h-2zm14 0h2v2h-2zm24 0h2v2h-2zm-13 1h2v2h-2zm20 0h2v2h-2zm9 0h2v2h-2zm56 0h2v2h-2zm-108 1h2v2h-2zm48 0h2v2h-2zm39 0h2v2h-2zm-95 1h2v2h-2zm17 0h2v2h-2zm2 0h2v2h-2zm37 1h2v2h-2zm3 0h2v2h-2zm15 0h2v2h-2zm12 0h2v2h-2zm17 0h2v2h-2zm0 0h2v2h-2zm27 0h2v2h-2zm-80 1h2v2h-2zm14 0h2v2h-2zm8 0h2v2h-2zm41 0h2v2h-2zm19 0h2v2h-2zm-107 1h2v2h-2zm70 0h2v2h-2zm25 0h2v2h-2zm-97 1h2v2h-2zm3 0h2v2h-2zm59 0h2v2h-2zm40 0h2v2h-2zm-82 1h2v2h-2zm6 0h2v2h-2zm72 0h2v2h-2zm-74 1h2v2h-2zm13 0h2v2h-2zm13 0h2v2h-2zm36 0h2v2h-2zm1 0h2v2h-2zm11 0h2v2h-2zm-85 1h2v2h-2zm10 0h2v2h-2zm31 0h2v2h-2zm45 0h2v2h-2zm5 0h2v2h-2zm-108 1h2v2h-2zm29 0h2v2h-2zm16 0h2v2h-2zm12 0h2v2h-2zm32 0h2v2h-2zm-70 1h2v2h-2zm57 0h2v2h-2zm48 0h2v2h-2zm-135 1h2v2h-2zm7 0h2v2h-2zm38 0h2v2h-2zm17 0h2v2h-2zm12 0h2v2h-2zm23 0h2v2h-2zm-59 1h2v2h-2zm2 0h2v2h-2zm35 0h2v2h-2zm62 0h2v2h-2zm-80 1h2v2h-2zm38 0h2v2h-2zm-103 1h2v2h-2zm21 0h2v2h-2zm27 0h2v2h-2zm21 0h2v2h-2zm-43 1h2v2h-2zm2 0h2v2h-2zm57 0h2v2h-2zm-84 1h2v2h-2zm22 0h2v2h-2zm1 0h2v2h-2zm14 0h2v2h-2zm83 0h2v2h-2zm7 0h2v2h-2zm5 0h2v2h-2zm-103 1h2v2h-2zm22 0h2v2h-2zm9 0h2v2h-2zm5 0h2v2h-2zm10 0h2v2h-2zm67 0h2v2h-2zm-109 1h2v2h-2zm95 0h2v2h-2zm-122 1h2v2h-2zm22 0h2v2h-2zm41 0h2v2h-2zm4 0h2v2h-2zm20 0h2v2h-2zm23 0h2v2h-2zm-6 1h2v2h-2zm-89 1h2v2h-2zm1 0h2v2h-2zm27 0h2v2h-2zm73 0h2v2h-2zm8 0h2v2h-2zm-92 1h2v2h-2zm15 0h2v2h-2zm28 0h2v2h-2zm52 0h2v2h-2zm-135 1h2v2h-2zm5 0h2v2h-2zm35 0h2v2h-2zm19 0h2v2h-2zm12 0h2v2h-2zm-35 1h2v2h-2zm19 0h2v2h-2zm30 0h2v2h-2zm18 0h2v2h-2zm-77 1h2v2h-2zm34 0h2v2h-2zm48 0h2v2h-2zm7 0h2v2h-2zm21 0h2v2h-2zm4 0h2v2h-2zm-141 1h2v2h-2zm3 0h2v2h-2zm11 0h2v2h-2zm6 0h2v2h-2zm25 0h2v2h-2zm21 0h2v2h-2zm52 0h2v2h-2zm-97 1h2v2h-2zm6 0h2v2h-2zm8 0h2v2h-2zm5 0h2v2h-2zm46 0h2v2h-2zm-45 1h2v2h-2zm15 0h2v2h-2zm0 0h2v2h-2zm45 0h2v2h-2zm-62 1h2v2h-2zm35 0h2v2h-2zm-60 1h2v2h-2zm117 0h2v2h-2zm3 0h2v2h-2zm-119 1h2v2h-2zm55 0h2v2h-2zm3 0h2v2h-2zm5 0h2v2h-2zm41 0h2v2h-2zm9 0h2v2h-2zm-103 1h2v2h-2zm2 0h2v2h-2zm8 0h2v2h-2zm12 0h2v2h-2zm27 0h2v2h-2zm43 0h2v2h-2zm8 0h2v2h-2zm-94 2h2v2h-2zm21 0h2v2h-2zm6 0h2v2h-2zm52 0h2v2h-2zm2 0h2v2h-2zm0 1h2v2h-2zm-47 1h2v2h-2zm19 0h2v2h-2zm6 0h2v2h-2zm-54 1h2v2h-2zm46 0h2v2h-2zm44 0h2v2h-2zm-87 1h2v2h-2zm8 0h2v2h-2zm16 0h2v2h-2zm32 0h2v2h-2zm4 0h2v2h-2zm-92 1h2v2h-2zm16 0h2v2h-2zm44 0h2v2h-2zm2 0h2v2h-2zm65 0h2v2h-2zm6 0h2v2h-2zm1 0h2v2h-2zm-95 1h2v2h-2zm1 0h2v2h-2zm26 0h2v2h-2zm6 0h2v2h-2zm1 0h2v2h-2zm67 0h2v2h-2z" fill="#8280b4" opacity="0.62"/>
<path d="M0 0m88 0h3v3h-3zm-35 1h3v3h-3zm21 0h3v3h-3zm12 0h3v3h-3zm16 0h3v3h-3zm-66 1h3v3h-3zm62 0h3v3h-3zm25 0h3v3h-3zm-101 1h3v3h-3zm25 0h3v3h-3zm92 0h3v3h-3zm-6 1h3v3h-3zm6 0h3v3h-3zm-102 1h3v3h-3zm41 0h3v3h-3zm-60 1h3v3h-3zm99 0h3v3h-3zm14 1h3v3h-3zm-23 1h3v3h-3zm10 0h3v3h-3zm-18 1h3v3h-3zm-25 1h3v3h-3zm55 2h3v3h-3zm-69 1h3v3h-3zm25 0h3v3h-3zm41 0h3v3h-3zm-116 2h3v3h-3zm134 0h3v3h-3zm-62 1h3v3h-3zm9 0h3v3h-3zm40 0h3v3h-3zm-105 1h3v3h-3zm96 0h3v3h-3zm-68 1h3v3h-3zm-28 1h3v3h-3zm1 2h3v3h-3zm24 0h3v3h-3zm10 0h3v3h-3zm79 0h3v3h-3zm-78 1h3v3h-3zm-18 1h3v3h-3zm-45 1h3v3h-3zm13 0h3v3h-3zm2 0h3v3h-3zm52 0h3v3h-3zm57 0h3v3h-3zm-104 1h3v3h-3zm24 0h3v3h-3zm26 0h3v3h-3zm4 0h3v3h-3zm16 0h3v3h-3zm-88 1h3v3h-3zm2 0h3v3h-3zm91 0h3v3h-3zm-16 1h3v3h-3zm-5 1h3v3h-3zm21 0h3v3h-3zm-87 1h3v3h-3zm38 0h3v3h-3zm12 0h3v3h-3zm54 0h3v3h-3zm8 0h3v3h-3zm15 0h3v3h-3zm-133 1h3v3h-3zm4 0h3v3h-3zm76 0h3v3h-3zm34 1h3v3h-3zm2 0h3v3h-3zm27 1h3v3h-3zm-98 2h3v3h-3zm15 0h3v3h-3zm4 0h3v3h-3zm44 1h3v3h-3zm-41 1h3v3h-3zm55 0h3v3h-3zm-112 1h3v3h-3zm21 0h3v3h-3zm18 1h3v3h-3zm15 0h3v3h-3zm-63 1h3v3h-3zm63 0h3v3h-3zm44 1h3v3h-3zm10 0h3v3h-3zm-13 1h3v3h-3zm23 0h3v3h-3zm-122 1h3v3h-3zm101 1h3v3h-3zm-74 1h3v3h-3zm106 0h3v3h-3zm-126 1h3v3h-3zm5 0h3v3h-3zm-16 1h3v3h-3zm50 0h3v3h-3zm21 0h3v3h-3zm-28 1h3v3h-3zm53 0h3v3h-3zm-43 2h3v3h-3zm62 0h3v3h-3zm-113 2h3v3h-3zm64 0h3v3h-3zm68 1h3v3h-3zm-130 1h3v3h-3zm58 0h3v3h-3zm19 0h3v3h-3zm31 0h3v3h-3zm13 0h3v3h-3zm-117 3h3v3h-3zm125 0h3v3h-3zm-33 1h3v3h-3zm-40 1h3v3h-3zm36 0h3v3h-3zm-66 1h3v3h-3zm55 1h3v3h-3zm44 0h3v3h-3zm-101 1h3v3h-3zm47 0h3v3h-3zm37 1h3v3h-3zm-77 1h3v3h-3zm-10 2h3v3h-3zm-13 1h3v3h-3zm72 0h3v3h-3zm-73 1h3v3h-3zm52 0h3v3h-3zm33 0h3v3h-3zm23 0h3v3h-3zm19 0h3v3h-3zm-71 1h3v3h-3zm-22 1h3v3h-3zm8 0h3v3h-3zm6 0h3v3h-3zm-40 1h3v3h-3zm31 0h3v3h-3zm25 0h3v3h-3zm-50 1h3v3h-3zm10 0h3v3h-3zm4 0h3v3h-3zm2 1h3v3h-3zm-45 2h3v3h-3zm110 0h3v3h-3zm10 0h3v3h-3zm-87 1h3v3h-3zm2 0h3v3h-3zm64 0h3v3h-3zm28 1h3v3h-3zm-110 1h3v3h-3zm4 0h3v3h-3zm44 0h3v3h-3zm30 0h3v3h-3zm10 0h3v3h-3zm-98 1h3v3h-3zm11 0h3v3h-3zm29 0h3v3h-3zm0 0h3v3h-3zm59 0h3v3h-3zm-50 2h3v3h-3zm47 1h3v3h-3zm10 0h3v3h-3zm25 0h3v3h-3zm-122 1h3v3h-3zm23 1h3v3h-3zm-38 1h3v3h-3zm58 0h3v3h-3zm38 0h3v3h-3zm-56 1h3v3h-3zm58 0h3v3h-3zm43 0h3v3h-3zm-113 1h3v3h-3zm15 0h3v3h-3zm16 0h3v3h-3zm46 1h3v3h-3zm-13 3h3v3h-3zm-44 1h3v3h-3zm55 0h3v3h-3zm-67 1h3v3h-3zm17 0h3v3h-3zm54 0h3v3h-3zm3 0h3v3h-3zm-91 1h3v3h-3zm83 0h3v3h-3zm1 0h3v3h-3zm4 0h3v3h-3zm6 0h3v3h-3zm-75 1h3v3h-3zm13 0h3v3h-3zm13 0h3v3h-3zm12 1h3v3h-3zm-45 1h3v3h-3zm41 0h3v3h-3zm-47 1h3v3h-3zm5 0h3v3h-3zm84 0h3v3h-3zm9 1h3v3h-3zm-54 2h3v3h-3zm62 0h3v3h-3zm-78 1h3v3h-3zm29 0h3v3h-3zm4 0h3v3h-3zm19 0h3v3h-3zm-83 1h3v3h-3zm-18 1h3v3h-3zm5 0h3v3h-3zm34 0h3v3h-3zm27 0h3v3h-3zm39 0h3v3h-3zm-41 2h3v3h-3zm12 0h3v3h-3zm26 0h3v3h-3zm-98 1h3v3h-3zm87 0h3v3h-3zm41 0h3v3h-3zm-108 2h3v3h-3zm60 0h3v3h-3zm1 0h3v3h-3zm24 0h3v3h-3zm-100 1h3v3h-3zm42 0h3v3h-3zm-14 1h3v3h-3zm52 0h3v3h-3zm7 0h3v3h-3zm-28 1h3v3h-3zm54 0h3v3h-3zm-66 1h3v3h-3zm53 0h3v3h-3zm-109 1h3v3h-3zm52 1h3v3h-3zm38 0h3v3h-3zm39 0h3v3h-3zm-107 2h3v3h-3zm55 0h3v3h-3zm29 0h3v3h-3zm6 0h3v3h-3zm-37 1h3v3h-3zm39 2h3v3h-3zm-97 1h3v3h-3zm7 1h3v3h-3zm41 0h3v3h-3zm-29 2h3v3h-3zm35 0h3v3h-3zm-68 1h3v3h-3zm8 0h3v3h-3zm2 0h3v3h-3zm64 0h3v3h-3zm21 0h3v3h-3zm9 0h3v3h-3zm-49 1h3v3h-3zm5 0h3v3h-3zm57 0h3v3h-3zm-124 1h3v3h-3zm29 0h3v3h-3zm-25 1h3v3h-3zm36 0h3v3h-3zm69 0h3v3h-3zm-100 1h3v3h-3zm128 1h3v3h-3zm-30 1h3v3h-3zm32 0h3v3h-3zm-118 1h3v3h-3zm112 0h3v3h-3zm-90 1h3v3h-3zm71 1h3v3h-3zm-104 1h3v3h-3zm40 0h3v3h-3zm65 0h3v3h-3zm5 0h3v3h-3zm8 0h3v3h-3zm-95 1h3v3h-3zm7 0h3v3h-3zm48 0h3v3h-3zm-78 1h3v3h-3zm48 0h3v3h-3zm24 0h3v3h-3zm-79 1h3v3h-3zm141 0h3v3h-3zm-78 1h3v3h-3zm19 0h3v3h-3zm56 0h3v3h-3zm-77 1h3v3h-3zm26 0h3v3h-3zm-29 1h3v3h-3zm57 0h3v3h-3zm22 0h3v3h-3zm-48 1h3v3h-3zm-91 1h3v3h-3zm63 1h3v3h-3zm22 2h3v3h-3zm57 0h3v3h-3zm-36 1h3v3h-3zm13 0h3v3h-3zm-43 1h3v3h-3z" fill="#8280b4" opacity="0.62"/>
<path d="M0 0m19 0h2v2h-2zm7 0h2v2h-2zm8 0h2v2h-2zm5 0h2v2h-2zm24 0h2v2h-2zm62 0h2v2h-2zm6 0h2v2h-2zm-103 1h2v2h-2zm3 0h2v2h-2zm37 0h2v2h-2zm12 0h2v2h-2zm16 0h2v2h-2zm32 0h2v2h-2zm-85 2h2v2h-2zm22 0h2v2h-2zm16 0h2v2h-2zm41 0h2v2h-2zm-46 1h2v2h-2zm50 0h2v2h-2zm-111 1h2v2h-2zm15 0h2v2h-2zm11 0h2v2h-2zm90 0h2v2h-2zm9 0h2v2h-2zm-88 1h2v2h-2zm6 0h2v2h-2zm60 0h2v2h-2zm-114 1h2v2h-2zm13 0h2v2h-2zm80 0h2v2h-2zm14 0h2v2h-2zm3 0h2v2h-2zm25 0h2v2h-2zm-106 1h2v2h-2zm84 0h2v2h-2zm19 0h2v2h-2zm-135 1h2v2h-2zm2 0h2v2h-2zm2 0h2v2h-2zm37 0h2v2h-2zm7 0h2v2h-2zm47 0h2v2h-2zm51 0h2v2h-2zm-147 1h2v2h-2zm18 0h2v2h-2zm19 0h2v2h-2zm72 0h2v2h-2zm3 0h2v2h-2zm-41 1h2v2h-2zm74 0h2v2h-2zm-52 1h2v2h-2zm15 0h2v2h-2zm-83 1h2v2h-2zm18 0h2v2h-2zm62 0h2v2h-2zm-77 1h2v2h-2zm5 0h2v2h-2zm14 0h2v2h-2zm17 0h2v2h-2zm8 0h2v2h-2zm13 0h2v2h-2zm-80 1h2v2h-2zm6 0h2v2h-2zm12 0h2v2h-2zm48 0h2v2h-2zm27 0h2v2h-2zm-66 1h2v2h-2zm10 0h2v2h-2zm20 0h2v2h-2zm1 0h2v2h-2zm65 0h2v2h-2zm-43 1h2v2h-2zm62 0h2v2h-2zm-140 1h2v2h-2zm6 0h2v2h-2zm43 0h2v2h-2zm11 0h2v2h-2zm80 0h2v2h-2zm-83 1h2v2h-2zm6 0h2v2h-2zm-69 1h2v2h-2zm15 0h2v2h-2zm74 0h2v2h-2zm50 0h2v2h-2zm-122 1h2v2h-2zm59 0h2v2h-2zm55 0h2v2h-2zm-128 1h2v2h-2zm19 0h2v2h-2zm30 0h2v2h-2zm8 0h2v2h-2zm18 0h2v2h-2zm41 0h2v2h-2zm12 0h2v2h-2zm-114 1h2v2h-2zm24 0h2v2h-2zm17 0h2v2h-2zm82 0h2v2h-2zm-124 1h2v2h-2zm5 0h2v2h-2zm-22 1h2v2h-2zm77 0h2v2h-2zm2 0h2v2h-2zm14 0h2v2h-2zm42 0h2v2h-2zm-111 1h2v2h-2zm15 1h2v2h-2zm17 0h2v2h-2zm4 0h2v2h-2zm25 0h2v2h-2zm-17 1h2v2h-2zm24 0h2v2h-2zm21 0h2v2h-2zm33 0h2v2h-2zm-120 1h2v2h-2zm7 0h2v2h-2zm11 0h2v2h-2zm37 0h2v2h-2zm-63 1h2v2h-2zm77 0h2v2h-2zm14 0h2v2h-2zm11 0h2v2h-2zm-30 1h2v2h-2zm-79 1h2v2h-2zm40 0h2v2h-2zm1 0h2v2h-2zm0 0h2v2h-2zm46 0h2v2h-2zm24 0h2v2h-2zm-116 1h2v2h-2zm77 0h2v2h-2zm-25 1h2v2h-2zm34 1h2v2h-2zm21 0h2v2h-2zm30 0h2v2h-2zm-95 1h2v2h-2zm16 0h2v2h-2zm63 0h2v2h-2zm20 0h2v2h-2zm-142 1h2v2h-2zm80 0h2v2h-2zm-41 1h2v2h-2zm41 0h2v2h-2zm10 1h2v2h-2zm-77 1h2v2h-2zm30 0h2v2h-2zm4 0h2v2h-2zm11 0h2v2h-2zm25 0h2v2h-2zm45 0h2v2h-2zm-133 1h2v2h-2zm11 0h2v2h-2zm28 0h2v2h-2zm40 0h2v2h-2zm-73 1h2v2h-2zm16 0h2v2h-2zm39 0h2v2h-2zm18 0h2v2h-2zm-70 1h2v2h-2zm70 0h2v2h-2zm15 0h2v2h-2zm29 0h2v2h-2zm-80 1h2v2h-2zm-11 1h2v2h-2zm2 0h2v2h-2zm86 0h2v2h-2zm8 0h2v2h-2zm-108 1h2v2h-2zm57 0h2v2h-2zm-29 1h2v2h-2zm1 0h2v2h-2zm51 0h2v2h-2zm-87 1h2v2h-2zm2 0h2v2h-2zm3 0h2v2h-2zm3 0h2v2h-2zm85 0h2v2h-2zm20 0h2v2h-2zm-115 1h2v2h-2zm24 0h2v2h-2zm66 0h2v2h-2zm-82 1h2v2h-2zm19 0h2v2h-2zm85 0h2v2h-2zm-122 1h2v2h-2zm65 0h2v2h-2zm25 0h2v2h-2zm8 0h2v2h-2zm-75 1h2v2h-2zm61 0h2v2h-2zm27 0h2v2h-2zm-98 1h2v2h-2zm28 0h2v2h-2zm20 0h2v2h-2zm9 0h2v2h-2zm11 0h2v2h-2zm21 0h2v2h-2zm23 0h2v2h-2zm1 0h2v2h-2zm-93 1h2v2h-2zm12 0h2v2h-2zm7 0h2v2h-2zm1 0h2v2h-2zm68 0h2v2h-2zm16 0h2v2h-2zm2 0h2v2h-2zm-135 1h2v2h-2zm3 0h2v2h-2zm26 0h2v2h-2zm14 0h2v2h-2zm24 0h2v2h-2zm23 0h2v2h-2zm4 0h2v2h-2zm7 0h2v2h-2zm-74 1h2v2h-2zm43 0h2v2h-2zm40 0h2v2h-2zm20 0h2v2h-2zm-124 1h2v2h-2zm13 0h2v2h-2zm33 0h2v2h-2zm40 0h2v2h-2zm2 0h2v2h-2zm-29 1h2v2h-2zm25 0h2v2h-2zm34 0h2v2h-2zm10 0h2v2h-2zm3 0h2v2h-2zm-96 1h2v2h-2zm26 0h2v2h-2zm22 0h2v2h-2zm-72 1h2v2h-2zm35 0h2v2h-2zm-49 1h2v2h-2zm25 0h2v2h-2zm93 0h2v2h-2zm-37 1h2v2h-2zm-7 1h2v2h-2zm-13 1h2v2h-2zm9 0h2v2h-2zm20 0h2v2h-2zm10 0h2v2h-2zm-102 1h2v2h-2zm66 0h2v2h-2zm10 0h2v2h-2zm36 0h2v2h-2zm-67 1h2v2h-2zm14 0h2v2h-2zm64 0h2v2h-2zm-123 1h2v2h-2zm104 0h2v2h-2zm14 0h2v2h-2zm-123 1h2v2h-2zm24 0h2v2h-2zm33 0h2v2h-2zm77 0h2v2h-2zm2 0h2v2h-2zm-131 1h2v2h-2zm45 0h2v2h-2zm28 0h2v2h-2zm12 0h2v2h-2zm26 0h2v2h-2zm4 0h2v2h-2zm-120 1h2v2h-2zm68 0h2v2h-2zm29 0h2v2h-2zm15 0h2v2h-2zm-98 1h2v2h-2zm19 0h2v2h-2zm6 0h2v2h-2zm19 0h2v2h-2zm59 0h2v2h-2zm19 0h2v2h-2zm-91 1h2v2h-2zm9 0h2v2h-2zm5 0h2v2h-2zm61 0h2v2h-2zm1 0h2v2h-2zm-112 1h2v2h-2zm64 0h2v2h-2zm22 0h2v2h-2zm9 0h2v2h-2zm4 0h2v2h-2zm-33 1h2v2h-2zm-54 1h2v2h-2zm5 0h2v2h-2zm94 0h2v2h-2zm-101 1h2v2h-2zm23 0h2v2h-2zm5 0h2v2h-2zm28 0h2v2h-2zm9 0h2v2h-2zm11 0h2v2h-2zm11 0h2v2h-2zm35 0h2v2h-2zm-104 1h2v2h-2zm20 0h2v2h-2zm6 0h2v2h-2zm3 0h2v2h-2zm-44 1h2v2h-2zm12 0h2v2h-2zm49 0h2v2h-2zm26 0h2v2h-2zm0 0h2v2h-2zm34 0h2v2h-2zm-107 1h2v2h-2zm55 0h2v2h-2zm20 0h2v2h-2zm-61 1h2v2h-2zm12 0h2v2h-2zm32 0h2v2h-2zm17 0h2v2h-2zm-96 1h2v2h-2zm70 0h2v2h-2zm-74 1h2v2h-2zm49 0h2v2h-2zm10 0h2v2h-2zm11 0h2v2h-2zm16 0h2v2h-2zm44 0h2v2h-2zm4 0h2v2h-2zm-53 1h2v2h-2zm2 0h2v2h-2zm4 0h2v2h-2zm29 0h2v2h-2zm8 0h2v2h-2zm-119 1h2v2h-2zm16 0h2v2h-2zm63 0h2v2h-2zm24 1h2v2h-2zm19 0h2v2h-2zm-113 1h2v2h-2zm88 0h2v2h-2zm-80 1h2v2h-2zm18 0h2v2h-2zm37 0h2v2h-2zm8 0h2v2h-2zm29 0h2v2h-2zm-82 1h2v2h-2zm76 0h2v2h-2zm-98 1h2v2h-2zm18 0h2v2h-2zm-34 1h2v2h-2zm4 0h2v2h-2zm28 0h2v2h-2zm28 0h2v2h-2zm63 0h2v2h-2zm-54 1h2v2h-2zm12 0h2v2h-2zm1 0h2v2h-2zm10 0h2v2h-2zm15 0h2v2h-2zm23 0h2v2h-2zm-99 1h2v2h-2zm34 0h2v2h-2zm2 0h2v2h-2zm-66 1h2v2h-2zm103 0h2v2h-2zm1 0h2v2h-2zm-88 1h2v2h-2zm4 0h2v2h-2zm3 0h2v2h-2zm36 0h2v2h-2zm36 0h2v2h-2zm20 0h2v2h-2zm-108 1h2v2h-2zm79 0h2v2h-2zm-67 1h2v2h-2zm33 0h2v2h-2zm32 0h2v2h-2zm51 0h2v2h-2zm-140 1h2v2h-2zm4 0h2v2h-2zm4 0h2v2h-2zm1 0h2v2h-2zm6 0h2v2h-2zm7 0h2v2h-2zm6 0h2v2h-2zm45 0h2v2h-2zm30 0h2v2h-2zm14 0h2v2h-2zm22 0h2v2h-2zm-106 1h2v2h-2zm6 0h2v2h-2zm0 0h2v2h-2zm42 0h2v2h-2zm21 0h2v2h-2zm8 0h2v2h-2zm-82 1h2v2h-2zm14 0h2v2h-2zm21 0h2v2h-2zm8 0h2v2h-2zm2 0h2v2h-2zm47 0h2v2h-2zm-86 1h2v2h-2zm50 0h2v2h-2zm-54 1h2v2h-2zm72 0h2v2h-2zm11 0h2v2h-2zm9 0h2v2h-2zm-88 1h2v2h-2zm37 0h2v2h-2zm5 0h2v2h-2zm-47 1h2v2h-2zm27 0h2v2h-2zm47 0h2v2h-2zm-98 1h2v2h-2zm63 1h2v2h-2zm7 0h2v2h-2zm63 0h2v2h-2zm-131 1h2v2h-2zm49 0h2v2h-2zm-25 1h2v2h-2zm10 0h2v2h-2zm20 0h2v2h-2zm16 0h2v2h-2zm6 0h2v2h-2zm5 0h2v2h-2zm9 0h2v2h-2zm15 0h2v2h-2zm22 0h2v2h-2zm-116 1h2v2h-2zm43 0h2v2h-2zm19 0h2v2h-2zm6 0h2v2h-2zm-56 1h2v2h-2zm74 0h2v2h-2zm-106 1h2v2h-2zm44 0h2v2h-2zm6 0h2v2h-2zm29 0h2v2h-2zm-68 1h2v2h-2zm34 0h2v2h-2zm36 0h2v2h-2zm38 0h2v2h-2zm16 0h2v2h-2zm-105 1h2v2h-2zm20 0h2v2h-2zm13 0h2v2h-2zm15 0h2v2h-2zm37 1h2v2h-2zm25 0h2v2h-2zm-125 1h2v2h-2zm120 0h2v2h-2zm-134 1h2v2h-2zm55 0h2v2h-2zm48 0h2v2h-2zm-54 1h2v2h-2zm1 0h2v2h-2zm24 0h2v2h-2zm55 0h2v2h-2zm-96 1h2v2h-2zm31 0h2v2h-2zm47 0h2v2h-2zm2 0h2v2h-2zm5 0h2v2h-2zm1 0h2v2h-2zm27 0h2v2h-2zm-127 1h2v2h-2zm1 0h2v2h-2zm18 0h2v2h-2zm39 0h2v2h-2zm2 0h2v2h-2zm20 1h2v2h-2zm36 0h2v2h-2zm-130 2h2v2h-2zm22 0h2v2h-2zm18 0h2v2h-2zm24 0h2v2h-2zm22 0h2v2h-2zm4 0h2v2h-2zm20 0h2v2h-2zm10 0h2v2h-2zm-109 1h2v2h-2zm16 0h2v2h-2zm36 0h2v2h-2zm0 0h2v2h-2zm16 0h2v2h-2zm33 1h2v2h-2zm25 0h2v2h-2zm-139 1h2v2h-2zm53 0h2v2h-2zm39 0h2v2h-2zm-79 1h2v2h-2zm13 0h2v2h-2zm42 0h2v2h-2zm6 0h2v2h-2zm5 0h2v2h-2zm-76 1h2v2h-2zm50 0h2v2h-2zm5 0h2v2h-2zm47 0h2v2h-2zm15 0h2v2h-2zm-18 1h2v2h-2zm39 0h2v2h-2zm-112 1h2v2h-2zm4 0h2v2h-2zm16 0h2v2h-2zm86 0h2v2h-2zm-104 1h2v2h-2zm11 0h2v2h-2zm1 0h2v2h-2zm77 0h2v2h-2zm-111 1h2v2h-2zm4 0h2v2h-2zm10 0h2v2h-2zm28 0h2v2h-2zm42 0h2v2h-2zm12 0h2v2h-2zm30 0h2v2h-2zm7 0h2v2h-2zm-128 1h2v2h-2zm64 0h2v2h-2zm36 0h2v2h-2zm7 0h2v2h-2zm-101 1h2v2h-2zm13 0h2v2h-2zm37 0h2v2h-2zm52 0h2v2h-2zm-115 1h2v2h-2zm23 0h2v2h-2zm34 0h2v2h-2zm21 0h2v2h-2zm55 0h2v2h-2zm-73 1h2v2h-2zm-69 1h2v2h-2zm40 0h2v2h-2zm7 0h2v2h-2zm-48 1h2v2h-2zm24 0h2v2h-2zm81 0h2v2h-2zm-78 1h2v2h-2zm31 0h2v2h-2zm27 0h2v2h-2zm30 0h2v2h-2zm30 0h2v2h-2zm-121 1h2v2h-2zm92 0h2v2h-2zm-115 1h2v2h-2zm46 0h2v2h-2zm-21 1h2v2h-2zm53 0h2v2h-2zm-24 1h2v2h-2zm18 0h2v2h-2zm19 0h2v2h-2zm1 0h2v2h-2zm41 0h2v2h-2zm-117 1h2v2h-2zm107 0h2v2h-2zm6 0h2v2h-2zm7 0h2v2h-2zm3 0h2v2h-2zm-79 1h2v2h-2zm29 0h2v2h-2zm-65 1h2v2h-2zm6 0h2v2h-2zm32 0h2v2h-2zm2 0h2v2h-2zm71 0h2v2h-2zm-111 1h2v2h-2zm6 0h2v2h-2zm5 0h2v2h-2zm6 0h2v2h-2zm28 0h2v2h-2zm2 0h2v2h-2zm2 0h2v2h-2zm15 0h2v2h-2zm-25 1h2v2h-2zm12 0h2v2h-2zm0 0h2v2h-2zm1 0h2v2h-2zm18 0h2v2h-2zm12 0h2v2h-2zm3 0h2v2h-2zm8 0h2v2h-2zm18 0h2v2h-2zm-77 1h2v2h-2zm40 0h2v2h-2zm-93 1h2v2h-2zm66 0h2v2h-2z" fill="#9c98ca" opacity="0.62"/>
<path d="M0 0m26 0h2v2h-2zm23 0h2v2h-2zm44 0h2v2h-2zm44 0h2v2h-2zm-136 1h2v2h-2zm21 0h2v2h-2zm-22 1h2v2h-2zm57 0h2v2h-2zm18 0h2v2h-2zm59 0h2v2h-2zm-61 1h2v2h-2zm-34 1h2v2h-2zm49 0h2v2h-2zm26 0h2v2h-2zm13 0h2v2h-2zm9 0h2v2h-2zm4 0h2v2h-2zm-132 1h2v2h-2zm9 0h2v2h-2zm34 0h2v2h-2zm21 0h2v2h-2zm17 0h2v2h-2zm-56 1h2v2h-2zm23 0h2v2h-2zm53 0h2v2h-2zm6 0h2v2h-2zm-91 1h2v2h-2zm38 0h2v2h-2zm48 0h2v2h-2zm-45 2h2v2h-2zm53 0h2v2h-2zm29 0h2v2h-2zm-109 1h2v2h-2zm34 0h2v2h-2zm9 0h2v2h-2zm26 0h2v2h-2zm-106 1h2v2h-2zm77 0h2v2h-2zm11 0h2v2h-2zm-51 1h2v2h-2zm2 0h2v2h-2zm62 0h2v2h-2zm-80 1h2v2h-2zm29 0h2v2h-2zm30 0h2v2h-2zm35 0h2v2h-2zm-107 1h2v2h-2zm30 0h2v2h-2zm90 0h2v2h-2zm5 0h2v2h-2zm-113 1h2v2h-2zm4 0h2v2h-2zm0 0h2v2h-2zm69 0h2v2h-2zm12 0h2v2h-2zm-19 1h2v2h-2zm17 0h2v2h-2zm19 0h2v2h-2zm10 0h2v2h-2zm7 0h2v2h-2zm-113 1h2v2h-2zm54 0h2v2h-2zm7 0h2v2h-2zm15 0h2v2h-2zm-82 1h2v2h-2zm39 0h2v2h-2zm3 0h2v2h-2zm70 0h2v2h-2zm-56 1h2v2h-2zm37 0h2v2h-2zm10 0h2v2h-2zm11 0h2v2h-2zm-95 1h2v2h-2zm72 0h2v2h-2zm13 0h2v2h-2zm-69 1h2v2h-2zm61 0h2v2h-2zm-114 1h2v2h-2zm24 0h2v2h-2zm55 0h2v2h-2zm22 0h2v2h-2zm1 0h2v2h-2zm0 0h2v2h-2zm30 0h2v2h-2zm2 0h2v2h-2zm0 0h2v2h-2zm6 0h2v2h-2zm-4 1h2v2h-2zm-36 1h2v2h-2zm27 0h2v2h-2zm-126 1h2v2h-2zm22 0h2v2h-2zm-26 1h2v2h-2zm20 0h2v2h-2zm11 0h2v2h-2zm24 0h2v2h-2zm8 0h2v2h-2zm58 0h2v2h-2zm-84 1h2v2h-2zm33 0h2v2h-2zm4 0h2v2h-2zm1 0h2v2h-2zm27 0h2v2h-2zm19 0h2v2h-2zm21 0h2v2h-2zm-83 1h2v2h-2zm31 0h2v2h-2zm15 0h2v2h-2zm16 0h2v2h-2zm6 0h2v2h-2zm-85 1h2v2h-2zm13 0h2v2h-2zm55 0h2v2h-2zm8 0h2v2h-2zm-107 1h2v2h-2zm115 0h2v2h-2zm9 0h2v2h-2zm5 0h2v2h-2zm-33 1h2v2h-2zm-97 1h2v2h-2zm17 0h2v2h-2zm23 0h2v2h-2zm25 0h2v2h-2zm44 0h2v2h-2zm-89 1h2v2h-2zm2 0h2v2h-2zm20 0h2v2h-2zm5 0h2v2h-2zm28 1h2v2h-2zm47 0h2v2h-2zm-84 1h2v2h-2zm-43 1h2v2h-2zm31 0h2v2h-2zm104 0h2v2h-2zm-139 1h2v2h-2zm36 0h2v2h-2zm5 0h2v2h-2zm12 0h2v2h-2zm6 0h2v2h-2zm10 0h2v2h-2zm37 0h2v2h-2zm12 0h2v2h-2zm-110 1h2v2h-2zm27 0h2v2h-2zm43 0h2v2h-2zm11 0h2v2h-2zm5 0h2v2h-2zm2 0h2v2h-2zm2 0h2v2h-2zm0 0h2v2h-2zm16 0h2v2h-2zm-74 1h2v2h-2zm9 0h2v2h-2zm16 0h2v2h-2zm58 0h2v2h-2zm-89 1h2v2h-2zm26 1h2v2h-2zm20 0h2v2h-2zm-24 1h2v2h-2zm-37 1h2v2h-2zm1 0h2v2h-2zm2 0h2v2h-2zm16 0h2v2h-2zm10 0h2v2h-2zm3 0h2v2h-2zm9 0h2v2h-2zm74 0h2v2h-2zm0 0h2v2h-2zm-132 1h2v2h-2zm42 0h2v2h-2zm-11 1h2v2h-2zm93 0h2v2h-2zm-2 1h2v2h-2zm-12 1h2v2h-2zm-110 1h2v2h-2zm92 0h2v2h-2zm12 0h2v2h-2zm14 0h2v2h-2zm13 0h2v2h-2zm1 0h2v2h-2zm-83 1h2v2h-2zm-30 2h2v2h-2zm45 0h2v2h-2zm17 1h2v2h-2zm-28 1h2v2h-2zm27 1h2v2h-2zm-73 1h2v2h-2zm29 0h2v2h-2zm3 0h2v2h-2zm33 0h2v2h-2zm-64 1h2v2h-2zm20 0h2v2h-2zm33 0h2v2h-2zm57 0h2v2h-2zm-74 1h2v2h-2zm29 0h2v2h-2zm55 0h2v2h-2zm12 0h2v2h-2zm1 0h2v2h-2zm-123 1h2v2h-2zm11 0h2v2h-2zm92 0h2v2h-2zm-102 1h2v2h-2zm6 0h2v2h-2zm-22 1h2v2h-2zm30 0h2v2h-2zm18 0h2v2h-2zm63 0h2v2h-2zm-29 1h2v2h-2zm6 0h2v2h-2zm37 0h2v2h-2zm5 0h2v2h-2zm-25 1h2v2h-2zm-17 1h2v2h-2zm-48 1h2v2h-2zm46 0h2v2h-2zm-92 1h2v2h-2zm1 0h2v2h-2zm19 0h2v2h-2zm57 0h2v2h-2zm-72 1h2v2h-2zm16 0h2v2h-2zm10 0h2v2h-2zm6 0h2v2h-2zm42 1h2v2h-2zm37 0h2v2h-2zm28 0h2v2h-2zm-141 1h2v2h-2zm13 0h2v2h-2zm27 0h2v2h-2zm26 0h2v2h-2zm-21 1h2v2h-2zm9 0h2v2h-2zm-45 1h2v2h-2zm53 0h2v2h-2zm19 0h2v2h-2zm22 0h2v2h-2zm-68 1h2v2h-2zm82 0h2v2h-2zm-103 1h2v2h-2zm22 0h2v2h-2zm18 0h2v2h-2zm4 0h2v2h-2zm43 1h2v2h-2zm-104 2h2v2h-2zm5 0h2v2h-2zm4 0h2v2h-2zm23 0h2v2h-2zm6 1h2v2h-2zm1 0h2v2h-2zm34 0h2v2h-2zm38 0h2v2h-2zm7 0h2v2h-2zm-75 1h2v2h-2zm54 0h2v2h-2zm10 0h2v2h-2zm26 0h2v2h-2zm-53 1h2v2h-2zm19 0h2v2h-2zm-75 1h2v2h-2zm34 0h2v2h-2zm46 0h2v2h-2zm4 0h2v2h-2zm2 0h2v2h-2zm27 1h2v2h-2zm-117 1h2v2h-2zm62 1h2v2h-2zm-71 1h2v2h-2zm60 0h2v2h-2zm38 0h2v2h-2zm7 0h2v2h-2zm-39 1h2v2h-2zm38 0h2v2h-2zm1 0h2v2h-2zm7 0h2v2h-2zm1 0h2v2h-2zm-104 1h2v2h-2zm29 0h2v2h-2zm12 0h2v2h-2zm47 0h2v2h-2zm-36 1h2v2h-2zm65 0h2v2h-2zm-72 1h2v2h-2zm46 0h2v2h-2zm28 0h2v2h-2zm-115 1h2v2h-2zm4 0h2v2h-2zm45 0h2v2h-2zm40 1h2v2h-2zm14 0h2v2h-2zm0 0h2v2h-2zm-100 1h2v2h-2zm8 0h2v2h-2zm-34 1h2v2h-2zm3 0h2v2h-2zm28 0h2v2h-2zm63 0h2v2h-2zm-29 1h2v2h-2zm-47 1h2v2h-2zm49 0h2v2h-2zm-46 1h2v2h-2zm21 0h2v2h-2zm6 0h2v2h-2zm21 0h2v2h-2zm42 0h2v2h-2zm-85 1h2v2h-2zm52 0h2v2h-2zm36 0h2v2h-2zm-89 1h2v2h-2zm2 0h2v2h-2zm16 0h2v2h-2zm15 0h2v2h-2zm25 0h2v2h-2zm-24 1h2v2h-2zm85 1h2v2h-2zm-125 1h2v2h-2zm25 1h2v2h-2zm45 0h2v2h-2zm20 0h2v2h-2zm12 0h2v2h-2zm17 0h2v2h-2zm-114 1h2v2h-2zm3 0h2v2h-2zm2 0h2v2h-2zm43 0h2v2h-2zm6 0h2v2h-2zm46 0h2v2h-2zm20 0h2v2h-2zm-118 2h2v2h-2zm4 1h2v2h-2zm-24 1h2v2h-2zm23 0h2v2h-2zm9 0h2v2h-2zm76 0h2v2h-2zm-61 1h2v2h-2zm19 0h2v2h-2zm-44 1h2v2h-2zm11 0h2v2h-2zm30 0h2v2h-2zm10 1h2v2h-2zm24 0h2v2h-2zm-56 1h2v2h-2zm7 0h2v2h-2zm-39 1h2v2h-2zm51 0h2v2h-2zm63 0h2v2h-2zm-117 1h2v2h-2zm54 0h2v2h-2zm76 0h2v2h-2zm-133 1h2v2h-2zm78 1h2v2h-2zm19 0h2v2h-2zm-97 1h2v2h-2zm91 0h2v2h-2zm-38 1h2v2h-2zm41 0h2v2h-2zm-83 1h2v2h-2zm17 0h2v2h-2zm37 0h2v2h-2zm36 0h2v2h-2zm-105 2h2v2h-2zm28 0h2v2h-2zm92 0h2v2h-2zm-76 1h2v2h-2zm14 0h2v2h-2zm79 0h2v2h-2zm-124 1h2v2h-2zm9 0h2v2h-2zm36 0h2v2h-2zm44 0h2v2h-2zm33 0h2v2h-2zm-126 1h2v2h-2zm20 0h2v2h-2zm81 0h2v2h-2zm28 0h2v2h-2zm-102 1h2v2h-2zm8 0h2v2h-2zm41 0h2v2h-2zm43 0h2v2h-2zm11 0h2v2h-2zm-140 1h2v2h-2zm8 0h2v2h-2zm9 1h2v2h-2zm6 0h2v2h-2zm-2 1h2v2h-2zm3 0h2v2h-2zm45 0h2v2h-2zm39 0h2v2h-2zm27 0h2v2h-2zm-92 1h2v2h-2zm15 0h2v2h-2zm33 0h2v2h-2zm6 0h2v2h-2zm28 0h2v2h-2zm7 0h2v2h-2zm-132 1h2v2h-2zm36 0h2v2h-2zm97 0h2v2h-2zm-126 1h2v2h-2zm42 0h2v2h-2zm65 0h2v2h-2zm23 0h2v2h-2zm-119 1h2v2h-2zm41 0h2v2h-2zm8 0h2v2h-2zm3 0h2v2h-2zm9 0h2v2h-2zm4 0h2v2h-2zm-78 1h2v2h-2zm47 0h2v2h-2zm41 0h2v2h-2zm6 0h2v2h-2zm4 0h2v2h-2zm19 0h2v2h-2zm-56 1h2v2h-2zm2 0h2v2h-2zm9 0h2v2h-2zm12 0h2v2h-2zm12 0h2v2h-2zm37 0h2v2h-2zm-106 1h2v2h-2zm-2 1h2v2h-2zm36 0h2v2h-2zm57 0h2v2h-2zm10 0h2v2h-2zm-120 1h2v2h-2zm4 0h2v2h-2zm55 0h2v2h-2zm-64 1h2v2h-2zm26 0h2v2h-2zm46 0h2v2h-2zm5 0h2v2h-2zm43 0h2v2h-2zm11 0h2v2h-2zm-55 1h2v2h-2zm-31 1h2v2h-2zm18 1h2v2h-2zm60 0h2v2h-2zm6 0h2v2h-2zm-131 1h2v2h-2zm11 0h2v2h-2zm31 0h2v2h-2zm63 0h2v2h-2zm-113 1h2v2h-2zm5 0h2v2h-2zm43 0h2v2h-2zm18 0h2v2h-2zm14 0h2v2h-2zm18 0h2v2h-2zm34 0h2v2h-2zm-114 1h2v2h-2zm1 0h2v2h-2zm-19 1h2v2h-2zm13 0h2v2h-2zm14 0h2v2h-2zm17 0h2v2h-2zm39 0h2v2h-2zm33 0h2v2h-2zm2 0h2v2h-2zm-115 1h2v2h-2zm38 0h2v2h-2zm12 0h2v2h-2zm9 0h2v2h-2zm36 0h2v2h-2zm9 0h2v2h-2zm-79 1h2v2h-2zm1 0h2v2h-2zm12 0h2v2h-2zm32 0h2v2h-2zm-68 1h2v2h-2zm32 0h2v2h-2zm33 0h2v2h-2zm37 0h2v2h-2zm-61 1h2v2h-2zm18 0h2v2h-2zm28 0h2v2h-2zm-87 1h2v2h-2zm95 0h2v2h-2zm37 0h2v2h-2zm6 0h2v2h-2zm-144 1h2v2h-2zm18 0h2v2h-2zm3 0h2v2h-2zm5 0h2v2h-2zm13 0h2v2h-2zm11 0h2v2h-2zm13 0h2v2h-2z" fill="#8c88c0" opacity="0.62"/>
<path d="M0 0m45 0h3v3h-3zm98 0h3v3h-3zm-74 1h3v3h-3zm-59 1h3v3h-3zm35 0h3v3h-3zm69 0h3v3h-3zm-73 1h3v3h-3zm25 0h3v3h-3zm-50 1h3v3h-3zm8 0h3v3h-3zm-18 1h3v3h-3zm15 0h3v3h-3zm65 1h3v3h-3zm19 0h3v3h-3zm-94 1h3v3h-3zm-4 1h3v3h-3zm20 0h3v3h-3zm5 0h3v3h-3zm37 0h3v3h-3zm49 0h3v3h-3zm23 0h3v3h-3zm-139 1h3v3h-3zm21 1h3v3h-3zm94 0h3v3h-3zm-53 1h3v3h-3zm-38 1h3v3h-3zm114 0h3v3h-3zm-28 1h3v3h-3zm0 0h3v3h-3zm-59 1h3v3h-3zm-7 1h3v3h-3zm85 0h3v3h-3zm-80 1h3v3h-3zm44 0h3v3h-3zm-76 1h3v3h-3zm98 0h3v3h-3zm6 0h3v3h-3zm-110 1h3v3h-3zm114 0h3v3h-3zm-124 2h3v3h-3zm103 0h3v3h-3zm-68 1h3v3h-3zm9 0h3v3h-3zm23 0h3v3h-3zm66 0h3v3h-3zm7 0h3v3h-3zm-43 1h3v3h-3zm39 0h3v3h-3zm-17 1h3v3h-3zm-81 1h3v3h-3zm39 0h3v3h-3zm23 0h3v3h-3zm42 0h3v3h-3zm-122 1h3v3h-3zm123 0h3v3h-3zm-135 1h3v3h-3zm10 0h3v3h-3zm39 0h3v3h-3zm64 0h3v3h-3zm-93 1h3v3h-3zm47 0h3v3h-3zm68 0h3v3h-3zm-66 1h3v3h-3zm15 0h3v3h-3zm-64 1h3v3h-3zm77 0h3v3h-3zm-55 1h3v3h-3zm10 0h3v3h-3zm73 0h3v3h-3zm-63 2h3v3h-3zm-65 1h3v3h-3zm55 0h3v3h-3zm79 0h3v3h-3zm-41 1h3v3h-3zm-86 1h3v3h-3zm-5 1h3v3h-3zm131 0h3v3h-3zm-136 1h3v3h-3zm34 0h3v3h-3zm53 0h3v3h-3zm-48 2h3v3h-3zm3 0h3v3h-3zm81 2h3v3h-3zm-17 1h3v3h-3zm-53 1h3v3h-3zm44 0h3v3h-3zm28 0h3v3h-3zm10 1h3v3h-3zm-13 1h3v3h-3zm-90 2h3v3h-3zm56 0h3v3h-3zm-57 2h3v3h-3zm7 0h3v3h-3zm94 1h3v3h-3zm-38 1h3v3h-3zm-45 1h3v3h-3zm63 1h3v3h-3zm19 0h3v3h-3zm-64 1h3v3h-3zm-13 1h3v3h-3zm26 0h3v3h-3zm-28 1h3v3h-3zm86 0h3v3h-3zm-140 1h3v3h-3zm86 0h3v3h-3zm-22 1h3v3h-3zm-49 1h3v3h-3zm125 0h3v3h-3zm1 0h3v3h-3zm-57 2h3v3h-3zm-4 1h3v3h-3zm4 0h3v3h-3zm8 0h3v3h-3zm-87 1h3v3h-3zm13 0h3v3h-3zm1 1h3v3h-3zm9 0h3v3h-3zm9 0h3v3h-3zm4 0h3v3h-3zm45 0h3v3h-3zm33 0h3v3h-3zm-76 1h3v3h-3zm23 0h3v3h-3zm4 0h3v3h-3zm25 0h3v3h-3zm-35 1h3v3h-3zm-18 1h3v3h-3zm60 0h3v3h-3zm8 0h3v3h-3zm17 0h3v3h-3zm-119 1h3v3h-3zm121 0h3v3h-3zm1 0h3v3h-3zm-64 1h3v3h-3zm11 0h3v3h-3zm58 0h3v3h-3zm3 0h3v3h-3zm-106 1h3v3h-3zm30 0h3v3h-3zm76 0h3v3h-3zm-135 1h3v3h-3zm7 0h3v3h-3zm77 0h3v3h-3zm3 0h3v3h-3zm-89 1h3v3h-3zm56 0h3v3h-3zm81 0h3v3h-3zm-127 1h3v3h-3zm47 0h3v3h-3zm69 0h3v3h-3zm-48 1h3v3h-3zm2 0h3v3h-3zm52 0h3v3h-3zm-107 1h3v3h-3zm4 0h3v3h-3zm11 3h3v3h-3zm28 0h3v3h-3zm35 0h3v3h-3zm18 0h3v3h-3zm10 1h3v3h-3zm-69 1h3v3h-3zm-52 1h3v3h-3zm0 1h3v3h-3zm113 0h3v3h-3zm7 0h3v3h-3zm9 0h3v3h-3zm-60 1h3v3h-3zm15 1h3v3h-3zm9 0h3v3h-3zm33 0h3v3h-3zm-41 1h3v3h-3zm-81 1h3v3h-3zm40 0h3v3h-3zm29 0h3v3h-3zm34 0h3v3h-3zm-89 1h3v3h-3zm101 0h3v3h-3zm-41 1h3v3h-3zm-72 1h3v3h-3zm34 0h3v3h-3zm-15 1h3v3h-3zm56 1h3v3h-3zm8 0h3v3h-3zm-89 1h3v3h-3zm32 0h3v3h-3zm57 1h3v3h-3zm-102 1h3v3h-3zm25 0h3v3h-3zm32 0h3v3h-3zm-33 1h3v3h-3zm30 0h3v3h-3zm17 0h3v3h-3zm-41 1h3v3h-3zm91 0h3v3h-3zm-6 1h3v3h-3zm6 0h3v3h-3zm-102 1h3v3h-3zm46 0h3v3h-3zm69 1h3v3h-3zm-88 2h3v3h-3zm13 0h3v3h-3zm83 0h3v3h-3zm-86 1h3v3h-3zm5 0h3v3h-3zm41 0h3v3h-3zm-99 1h3v3h-3zm49 1h3v3h-3zm61 0h3v3h-3zm-97 1h3v3h-3zm3 0h3v3h-3zm16 0h3v3h-3zm108 0h3v3h-3zm-101 1h3v3h-3zm1 0h3v3h-3zm6 0h3v3h-3zm21 0h3v3h-3zm-68 1h3v3h-3zm24 0h3v3h-3zm9 0h3v3h-3zm26 0h3v3h-3zm74 0h3v3h-3zm-116 1h3v3h-3zm7 0h3v3h-3zm103 0h3v3h-3zm16 0h3v3h-3zm-129 1h3v3h-3zm53 1h3v3h-3zm43 0h3v3h-3zm29 0h3v3h-3zm-19 1h3v3h-3zm-122 1h3v3h-3zm4 0h3v3h-3zm69 0h3v3h-3zm50 0h3v3h-3zm-85 1h3v3h-3zm4 0h3v3h-3zm8 0h3v3h-3zm39 1h3v3h-3zm41 0h3v3h-3zm-83 1h3v3h-3zm74 0h3v3h-3zm-96 3h3v3h-3zm77 1h3v3h-3zm28 0h3v3h-3zm-13 1h3v3h-3zm-112 1h3v3h-3zm97 0h3v3h-3zm-11 1h3v3h-3zm6 0h3v3h-3zm15 0h3v3h-3zm-103 1h3v3h-3zm60 0h3v3h-3zm5 0h3v3h-3zm4 1h3v3h-3zm65 0h3v3h-3zm-112 1h3v3h-3zm71 0h3v3h-3zm41 2h3v3h-3zm0 1h3v3h-3zm-134 1h3v3h-3zm57 0h3v3h-3zm1 0h3v3h-3zm33 0h3v3h-3zm-101 1h3v3h-3zm1 0h3v3h-3zm44 0h3v3h-3zm35 0h3v3h-3zm-67 1h3v3h-3zm72 0h3v3h-3zm-36 1h3v3h-3zm-44 2h3v3h-3zm110 1h3v3h-3zm-5 1h3v3h-3zm35 1h3v3h-3zm-106 1h3v3h-3zm23 0h3v3h-3zm51 0h3v3h-3zm-26 1h3v3h-3zm57 0h3v3h-3zm-61 3h3v3h-3zm33 0h3v3h-3zm-104 1h3v3h-3zm44 0h3v3h-3zm62 0h3v3h-3zm12 0h3v3h-3zm-99 1h3v3h-3zm23 0h3v3h-3zm31 1h3v3h-3zm16 1h3v3h-3zm6 0h3v3h-3zm-101 1h3v3h-3zm5 0h3v3h-3zm86 0h3v3h-3z" fill="#9c98ca" opacity="0.62"/>
<path d="M0 0m16 0h3v3h-3zm65 0h3v3h-3zm31 0h3v3h-3zm-50 1h3v3h-3zm-41 1h3v3h-3zm7 0h3v3h-3zm24 0h3v3h-3zm77 1h3v3h-3zm-100 1h3v3h-3zm20 0h3v3h-3zm45 0h3v3h-3zm-89 1h3v3h-3zm7 0h3v3h-3zm6 0h3v3h-3zm13 0h3v3h-3zm39 0h3v3h-3zm-39 1h3v3h-3zm58 1h3v3h-3zm14 0h3v3h-3zm2 0h3v3h-3zm1 0h3v3h-3zm22 0h3v3h-3zm-78 1h3v3h-3zm14 0h3v3h-3zm-27 1h3v3h-3zm90 0h3v3h-3zm-99 1h3v3h-3zm17 0h3v3h-3zm20 1h3v3h-3zm5 1h3v3h-3zm19 0h3v3h-3zm-2 1h3v3h-3zm38 0h3v3h-3zm13 0h3v3h-3zm-92 1h3v3h-3zm-13 1h3v3h-3zm-31 1h3v3h-3zm61 0h3v3h-3zm62 0h3v3h-3zm-42 1h3v3h-3zm11 1h3v3h-3zm14 0h3v3h-3zm15 1h3v3h-3zm-54 1h3v3h-3zm69 0h3v3h-3zm1 0h3v3h-3zm-132 1h3v3h-3zm44 0h3v3h-3zm86 0h3v3h-3zm-44 1h3v3h-3zm-79 1h3v3h-3zm18 1h3v3h-3zm-32 1h3v3h-3zm23 0h3v3h-3zm101 0h3v3h-3zm3 0h3v3h-3zm9 0h3v3h-3zm-66 1h3v3h-3zm-33 1h3v3h-3zm64 1h3v3h-3zm-88 2h3v3h-3zm50 0h3v3h-3zm22 0h3v3h-3zm57 0h3v3h-3zm-137 2h3v3h-3zm115 0h3v3h-3zm6 0h3v3h-3zm-23 1h3v3h-3zm9 0h3v3h-3zm-46 1h3v3h-3zm-34 1h3v3h-3zm55 0h3v3h-3zm49 0h3v3h-3zm-83 1h3v3h-3zm13 0h3v3h-3zm-45 1h3v3h-3zm94 0h3v3h-3zm-49 2h3v3h-3zm8 0h3v3h-3zm20 0h3v3h-3zm-89 1h3v3h-3zm31 0h3v3h-3zm23 0h3v3h-3zm34 0h3v3h-3zm2 0h3v3h-3zm-57 1h3v3h-3zm60 0h3v3h-3zm46 0h3v3h-3zm-110 1h3v3h-3zm34 0h3v3h-3zm7 0h3v3h-3zm68 0h3v3h-3zm-57 2h3v3h-3zm-73 1h3v3h-3zm42 0h3v3h-3zm31 0h3v3h-3zm10 0h3v3h-3zm8 0h3v3h-3zm-9 1h3v3h-3zm-88 1h3v3h-3zm46 0h3v3h-3zm50 0h3v3h-3zm-103 1h3v3h-3zm20 0h3v3h-3zm11 0h3v3h-3zm80 0h3v3h-3zm-63 1h3v3h-3zm41 0h3v3h-3zm-89 1h3v3h-3zm115 0h3v3h-3zm-79 2h3v3h-3zm22 0h3v3h-3zm81 0h3v3h-3zm-66 1h3v3h-3zm19 0h3v3h-3zm34 0h3v3h-3zm9 0h3v3h-3zm-130 1h3v3h-3zm12 0h3v3h-3zm60 0h3v3h-3zm-76 1h3v3h-3zm108 0h3v3h-3zm-32 2h3v3h-3zm-34 1h3v3h-3zm10 1h3v3h-3zm76 0h3v3h-3zm-7 1h3v3h-3zm-21 1h3v3h-3zm38 1h3v3h-3zm-107 1h3v3h-3zm28 0h3v3h-3zm9 0h3v3h-3zm-50 1h3v3h-3zm45 1h3v3h-3zm-11 1h3v3h-3zm11 1h3v3h-3zm-40 1h3v3h-3zm82 0h3v3h-3zm-62 2h3v3h-3zm-25 1h3v3h-3zm19 0h3v3h-3zm15 1h3v3h-3zm10 0h3v3h-3zm18 1h3v3h-3zm44 0h3v3h-3zm-101 1h3v3h-3zm74 0h3v3h-3zm-40 2h3v3h-3zm-57 1h3v3h-3zm81 0h3v3h-3zm39 1h3v3h-3zm22 0h3v3h-3zm-75 1h3v3h-3zm61 0h3v3h-3zm-124 1h3v3h-3zm37 0h3v3h-3zm43 0h3v3h-3zm-36 1h3v3h-3zm75 0h3v3h-3zm19 0h3v3h-3zm-35 1h3v3h-3zm-107 1h3v3h-3zm52 2h3v3h-3zm69 0h3v3h-3zm24 0h3v3h-3zm-98 2h3v3h-3zm-23 2h3v3h-3zm17 0h3v3h-3zm27 1h3v3h-3zm29 0h3v3h-3zm-26 1h3v3h-3zm28 0h3v3h-3zm21 0h3v3h-3zm-102 1h3v3h-3zm37 2h3v3h-3zm41 0h3v3h-3zm39 0h3v3h-3zm-18 1h3v3h-3zm-22 1h3v3h-3zm9 0h3v3h-3zm13 0h3v3h-3zm-109 1h3v3h-3zm12 0h3v3h-3zm39 0h3v3h-3zm2 0h3v3h-3zm69 0h3v3h-3zm1 0h3v3h-3zm-53 1h3v3h-3zm47 0h3v3h-3zm6 1h3v3h-3zm13 0h3v3h-3zm-59 1h3v3h-3zm36 0h3v3h-3zm-90 1h3v3h-3zm24 0h3v3h-3zm86 0h3v3h-3zm-12 2h3v3h-3zm-65 1h3v3h-3zm-59 1h3v3h-3zm11 0h3v3h-3zm23 0h3v3h-3zm23 0h3v3h-3zm69 0h3v3h-3zm4 0h3v3h-3zm-128 1h3v3h-3zm22 1h3v3h-3zm23 0h3v3h-3zm4 0h3v3h-3zm5 0h3v3h-3zm-48 1h3v3h-3zm33 0h3v3h-3zm12 0h3v3h-3zm3 0h3v3h-3zm-62 1h3v3h-3zm32 0h3v3h-3zm13 0h3v3h-3zm71 0h3v3h-3zm18 1h3v3h-3zm-118 1h3v3h-3zm46 0h3v3h-3zm7 0h3v3h-3zm-64 1h3v3h-3zm35 0h3v3h-3zm-10 2h3v3h-3zm56 1h3v3h-3zm37 1h3v3h-3zm-68 1h3v3h-3zm-38 1h3v3h-3zm56 0h3v3h-3zm0 1h3v3h-3zm3 0h3v3h-3zm-13 1h3v3h-3zm79 1h3v3h-3zm-116 1h3v3h-3zm24 0h3v3h-3zm75 1h3v3h-3zm-111 1h3v3h-3zm22 1h3v3h-3zm105 0h3v3h-3zm-116 1h3v3h-3zm-7 1h3v3h-3zm26 0h3v3h-3zm31 0h3v3h-3zm43 0h3v3h-3zm28 1h3v3h-3zm-80 1h3v3h-3zm31 0h3v3h-3zm-70 1h3v3h-3zm18 0h3v3h-3zm-8 1h3v3h-3zm7 0h3v3h-3zm-30 1h3v3h-3zm130 0h3v3h-3zm-38 1h3v3h-3zm-80 1h3v3h-3zm104 0h3v3h-3zm-118 1h3v3h-3zm43 0h3v3h-3zm-22 1h3v3h-3zm13 0h3v3h-3zm-40 2h3v3h-3zm105 0h3v3h-3zm-98 1h3v3h-3zm7 0h3v3h-3zm5 0h3v3h-3zm20 0h3v3h-3zm9 0h3v3h-3zm50 0h3v3h-3zm33 0h3v3h-3zm4 0h3v3h-3zm-126 1h3v3h-3zm120 0h3v3h-3zm-63 1h3v3h-3zm22 0h3v3h-3zm-59 1h3v3h-3zm47 0h3v3h-3zm32 0h3v3h-3zm6 0h3v3h-3zm-71 1h3v3h-3zm15 0h3v3h-3zm74 0h3v3h-3zm1 0h3v3h-3zm-128 1h3v3h-3zm14 1h3v3h-3zm3 0h3v3h-3zm103 1h3v3h-3zm6 0h3v3h-3zm-90 1h3v3h-3zm10 0h3v3h-3zm89 0h3v3h-3z" fill="#8c88c0" opacity="0.62"/>
<path d="M0 0m8 1h2v2h-2zm36 1h2v2h-2zm36 3h2v2h-2zm-57 1h2v2h-2zm115 0h2v2h-2zm-129 6h2v2h-2zm57 14h2v2h-2zm-57 1h2v2h-2zm92 3h2v2h-2zm-93 1h2v2h-2zm110 5h2v2h-2zm-12 1h2v2h-2zm20 0h2v2h-2zm-77 4h2v2h-2zm21 1h2v2h-2zm53 4h2v2h-2zm-31 2h2v2h-2zm22 7h2v2h-2zm-80 3h2v2h-2zm51 1h2v2h-2zm-1 4h2v2h-2zm-34 1h2v2h-2zm17 0h2v2h-2zm54 2h2v2h-2zm-108 1h2v2h-2zm112 0h2v2h-2zm-33 7h2v2h-2zm-50 4h2v2h-2zm-20 1h2v2h-2zm53 11h2v2h-2zm68 0h2v2h-2zm-124 3h2v2h-2zm14 0h2v2h-2zm-33 2h2v2h-2zm10 0h2v2h-2zm69 2h2v2h-2zm49 13h2v2h-2zm14 0h2v2h-2zm-77 7h2v2h-2zm37 12h2v2h-2zm20 9h2v2h-2zm-90 1h2v2h-2zm-25 3h2v2h-2z" fill="#b07a64" opacity="0.6"/>
<path d="M0 0m65 2h3v3h-3zm52 0h3v3h-3zm14 0h3v3h-3zm-95 3h3v3h-3zm-10 1h3v3h-3zm-2 2h3v3h-3zm92 0h3v3h-3zm3 3h3v3h-3zm-82 3h3v3h-3zm0 2h3v3h-3zm66 0h3v3h-3zm-87 1h3v3h-3zm129 0h3v3h-3zm-62 4h3v3h-3zm59 1h3v3h-3zm-86 2h3v3h-3zm-30 1h3v3h-3zm5 0h3v3h-3zm62 0h3v3h-3zm-70 2h3v3h-3zm6 4h3v3h-3zm54 2h3v3h-3zm-20 3h3v3h-3zm53 0h3v3h-3zm-47 5h3v3h-3zm41 3h3v3h-3zm-66 6h3v3h-3zm44 3h3v3h-3zm-5 4h3v3h-3zm12 0h3v3h-3zm-90 1h3v3h-3zm58 0h3v3h-3zm34 2h3v3h-3zm14 7h3v3h-3zm-26 4h3v3h-3zm42 2h3v3h-3zm-49 2h3v3h-3zm-10 3h3v3h-3zm-23 2h3v3h-3zm-4 2h3v3h-3zm23 0h3v3h-3zm61 0h3v3h-3zm-85 3h3v3h-3zm-4 4h3v3h-3zm56 1h3v3h-3zm-40 2h3v3h-3zm89 2h3v3h-3zm-43 1h3v3h-3zm-46 1h3v3h-3zm-8 2h3v3h-3zm-9 4h3v3h-3zm96 0h3v3h-3zm-127 5h3v3h-3zm41 0h3v3h-3zm31 5h3v3h-3zm8 3h3v3h-3zm33 3h3v3h-3zm-11 2h3v3h-3zm39 1h3v3h-3zm-71 7h3v3h-3zm-35 4h3v3h-3zm86 3h3v3h-3zm-55 1h3v3h-3zm8 2h3v3h-3zm-62 8h3v3h-3z" fill="#a06c58" opacity="0.6"/>
<path d="M0 0m97 3h3v3h-3zm2 2h3v3h-3zm16 7h3v3h-3zm-106 1h3v3h-3zm36 1h3v3h-3zm6 4h3v3h-3zm78 0h3v3h-3zm-80 2h3v3h-3zm32 1h3v3h-3zm-50 2h3v3h-3zm66 8h3v3h-3zm-29 2h3v3h-3zm-19 2h3v3h-3zm-37 1h3v3h-3zm93 1h3v3h-3zm-74 1h3v3h-3zm24 0h3v3h-3zm32 4h3v3h-3zm-4 2h3v3h-3zm9 8h3v3h-3zm22 3h3v3h-3zm-114 3h3v3h-3zm43 9h3v3h-3zm30 2h3v3h-3zm61 0h3v3h-3zm-27 6h3v3h-3zm-11 5h3v3h-3zm-90 1h3v3h-3zm6 0h3v3h-3zm20 1h3v3h-3zm98 4h3v3h-3zm-39 3h3v3h-3zm1 1h3v3h-3zm47 3h3v3h-3zm-77 7h3v3h-3zm54 0h3v3h-3zm-13 2h3v3h-3zm-9 3h3v3h-3zm50 0h3v3h-3zm-42 7h3v3h-3zm-27 6h3v3h-3zm-16 2h3v3h-3zm-57 4h3v3h-3zm43 1h3v3h-3zm43 0h3v3h-3zm53 2h3v3h-3zm-121 5h3v3h-3zm48 0h3v3h-3zm59 5h3v3h-3zm-66 3h3v3h-3zm53 2h3v3h-3zm-34 1h3v3h-3zm13 0h3v3h-3zm-85 3h3v3h-3z" fill="#b07a64" opacity="0.6"/>
<path d="M0 0m112 10h2v2h-2zm-7 2h2v2h-2zm-93 3h2v2h-2zm123 1h2v2h-2zm-82 4h2v2h-2zm-9 3h2v2h-2zm-27 8h2v2h-2zm-7 1h2v2h-2zm56 6h2v2h-2zm62 20h2v2h-2zm-75 4h2v2h-2zm14 8h2v2h-2zm67 3h2v2h-2zm-47 1h2v2h-2zm-41 3h2v2h-2zm77 3h2v2h-2zm17 9h2v2h-2zm-2 12h2v2h-2zm-28 7h2v2h-2zm-39 3h2v2h-2zm71 2h2v2h-2zm-78 4h2v2h-2zm-33 28h2v2h-2zm97 2h2v2h-2zm-95 1h2v2h-2z" fill="#905e4a" opacity="0.6"/>
<path d="M0 0m103 4h3v3h-3zm26 3h3v3h-3zm-120 2h3v3h-3zm100 0h3v3h-3zm-41 1h3v3h-3zm19 1h3v3h-3zm-5 11h3v3h-3zm-71 3h3v3h-3zm109 2h3v3h-3zm-96 3h3v3h-3zm-13 5h3v3h-3zm110 1h3v3h-3zm17 1h3v3h-3zm-125 6h3v3h-3zm82 3h3v3h-3zm-49 2h3v3h-3zm68 1h3v3h-3zm-42 2h3v3h-3zm68 4h3v3h-3zm-95 2h3v3h-3zm-13 1h3v3h-3zm94 0h3v3h-3zm4 0h3v3h-3zm-97 2h3v3h-3zm46 2h3v3h-3zm-21 1h3v3h-3zm82 3h3v3h-3zm-12 2h3v3h-3zm-94 1h3v3h-3zm44 12h3v3h-3zm36 5h3v3h-3zm-49 3h3v3h-3zm-34 10h3v3h-3zm17 7h3v3h-3zm-44 2h3v3h-3zm35 6h3v3h-3zm100 2h3v3h-3zm-44 2h3v3h-3zm-78 7h3v3h-3zm76 0h3v3h-3zm-21 4h3v3h-3zm2 0h3v3h-3zm67 1h3v3h-3zm-31 1h3v3h-3zm-73 1h3v3h-3zm61 0h3v3h-3zm-92 5h3v3h-3zm10 1h3v3h-3zm87 4h3v3h-3zm8 0h3v3h-3zm23 1h3v3h-3zm-52 4h3v3h-3z" fill="#905e4a" opacity="0.6"/>
<path d="M0 0m12 1h2v2h-2zm51 0h2v2h-2zm80 1h2v2h-2zm-131 1h2v2h-2zm112 13h2v2h-2zm-23 10h2v2h-2zm45 2h2v2h-2zm-84 25h2v2h-2zm-20 5h2v2h-2zm42 32h2v2h-2zm61 2h2v2h-2zm-31 1h2v2h-2zm-95 10h2v2h-2zm5 8h2v2h-2zm25 11h2v2h-2zm42 0h2v2h-2zm-3 10h2v2h-2zm-75 1h2v2h-2zm37 5h2v2h-2zm-15 8h2v2h-2zm26 0h2v2h-2z" fill="#a06c58" opacity="0.6"/>
</g></g></g>
<g transform="translate(151.1 672.8)"><rect width="74.6" height="75" fill="#e8dde8"/><g filter="url(#soft)">
<rect width="74.6" height="75" fill="#e8dde8"/><g transform="scale(.5)">
<path d="M0 0m62 0h2v2h-2zm23 0h2v2h-2zm45 0h2v2h-2zm-13 2h2v2h-2zm-107 1h2v2h-2zm125 0h2v2h-2zm5 0h2v2h-2zm-64 1h2v2h-2zm51 0h2v2h-2zm-102 1h2v2h-2zm79 0h2v2h-2zm12 0h2v2h-2zm-113 1h2v2h-2zm20 0h2v2h-2zm62 0h2v2h-2zm-9 2h2v2h-2zm11 0h2v2h-2zm-36 1h2v2h-2zm-28 1h2v2h-2zm91 1h2v2h-2zm1 0h2v2h-2zm-112 1h2v2h-2zm64 0h2v2h-2zm8 0h2v2h-2zm2 0h2v2h-2zm35 0h2v2h-2zm8 0h2v2h-2zm-108 1h2v2h-2zm52 0h2v2h-2zm13 0h2v2h-2zm-45 1h2v2h-2zm3 0h2v2h-2zm16 0h2v2h-2zm94 0h2v2h-2zm-139 1h2v2h-2zm30 0h2v2h-2zm76 0h2v2h-2zm27 0h2v2h-2zm-71 1h2v2h-2zm18 0h2v2h-2zm28 0h2v2h-2zm-78 1h2v2h-2zm25 0h2v2h-2zm-19 1h2v2h-2zm3 1h2v2h-2zm26 0h2v2h-2zm-66 1h2v2h-2zm15 0h2v2h-2zm-3 1h2v2h-2zm19 0h2v2h-2zm72 0h2v2h-2zm10 0h2v2h-2zm-100 1h2v2h-2zm13 0h2v2h-2zm19 0h2v2h-2zm8 0h2v2h-2zm4 0h2v2h-2zm82 0h2v2h-2zm-128 1h2v2h-2zm42 0h2v2h-2zm12 0h2v2h-2zm71 0h2v2h-2zm-106 1h2v2h-2zm27 1h2v2h-2zm21 0h2v2h-2zm14 0h2v2h-2zm4 0h2v2h-2zm16 0h2v2h-2zm8 0h2v2h-2zm-120 1h2v2h-2zm122 0h2v2h-2zm-100 1h2v2h-2zm-23 1h2v2h-2zm5 0h2v2h-2zm56 0h2v2h-2zm50 0h2v2h-2zm-92 1h2v2h-2zm75 0h2v2h-2zm13 0h2v2h-2zm33 0h2v2h-2zm-144 1h2v2h-2zm80 0h2v2h-2zm10 0h2v2h-2zm24 0h2v2h-2zm-106 1h2v2h-2zm-7 1h2v2h-2zm12 0h2v2h-2zm85 0h2v2h-2zm9 0h2v2h-2zm21 0h2v2h-2zm11 0h2v2h-2zm7 0h2v2h-2zm-122 1h2v2h-2zm107 0h2v2h-2zm1 0h2v2h-2zm-120 1h2v2h-2zm41 0h2v2h-2zm66 0h2v2h-2zm22 0h2v2h-2zm-98 1h2v2h-2zm38 0h2v2h-2zm12 0h2v2h-2zm6 0h2v2h-2zm36 0h2v2h-2zm1 0h2v2h-2zm-129 1h2v2h-2zm2 0h2v2h-2zm47 0h2v2h-2zm67 0h2v2h-2zm-116 1h2v2h-2zm93 0h2v2h-2zm-88 1h2v2h-2zm0 0h2v2h-2zm26 0h2v2h-2zm-15 1h2v2h-2zm11 0h2v2h-2zm30 0h2v2h-2zm-45 1h2v2h-2zm50 0h2v2h-2zm74 0h2v2h-2zm2 0h2v2h-2zm-112 1h2v2h-2zm20 0h2v2h-2zm-45 1h2v2h-2zm123 0h2v2h-2zm-120 1h2v2h-2zm101 0h2v2h-2zm18 0h2v2h-2zm-96 2h2v2h-2zm29 0h2v2h-2zm3 0h2v2h-2zm15 0h2v2h-2zm24 0h2v2h-2zm34 0h2v2h-2zm-21 1h2v2h-2zm-73 2h2v2h-2zm4 0h2v2h-2zm14 1h2v2h-2zm11 0h2v2h-2zm26 0h2v2h-2zm6 0h2v2h-2zm24 0h2v2h-2zm9 0h2v2h-2zm-130 1h2v2h-2zm61 0h2v2h-2zm17 0h2v2h-2zm45 0h2v2h-2zm-130 1h2v2h-2zm11 0h2v2h-2zm104 0h2v2h-2zm27 0h2v2h-2zm-103 1h2v2h-2zm4 0h2v2h-2zm17 0h2v2h-2zm5 0h2v2h-2zm38 0h2v2h-2zm31 0h2v2h-2zm8 0h2v2h-2zm-30 1h2v2h-2zm-94 1h2v2h-2zm10 0h2v2h-2zm18 0h2v2h-2zm56 0h2v2h-2zm19 0h2v2h-2zm4 0h2v2h-2zm-123 1h2v2h-2zm28 0h2v2h-2zm10 0h2v2h-2zm-1 1h2v2h-2zm14 0h2v2h-2zm41 0h2v2h-2zm37 0h2v2h-2zm1 0h2v2h-2zm-67 1h2v2h-2zm9 0h2v2h-2zm30 0h2v2h-2zm23 1h2v2h-2zm-114 1h2v2h-2zm116 0h2v2h-2zm-66 1h2v2h-2zm-33 2h2v2h-2zm6 0h2v2h-2zm14 0h2v2h-2zm42 0h2v2h-2zm43 0h2v2h-2zm-88 1h2v2h-2zm44 0h2v2h-2zm40 1h2v2h-2zm-72 1h2v2h-2zm44 0h2v2h-2zm-14 1h2v2h-2zm51 0h2v2h-2zm-136 1h2v2h-2zm4 0h2v2h-2zm44 0h2v2h-2zm18 1h2v2h-2zm16 0h2v2h-2zm25 0h2v2h-2zm-92 1h2v2h-2zm122 0h2v2h-2zm-122 1h2v2h-2zm44 0h2v2h-2zm-59 1h2v2h-2zm28 0h2v2h-2zm24 0h2v2h-2zm-18 1h2v2h-2zm9 0h2v2h-2zm-2 1h2v2h-2zm40 0h2v2h-2zm-85 1h2v2h-2zm43 1h2v2h-2zm37 1h2v2h-2zm-61 1h2v2h-2zm9 0h2v2h-2zm24 0h2v2h-2zm10 0h2v2h-2zm25 1h2v2h-2zm54 0h2v2h-2zm1 0h2v2h-2zm-115 1h2v2h-2zm51 0h2v2h-2zm36 0h2v2h-2zm6 0h2v2h-2zm16 0h2v2h-2zm-83 1h2v2h-2zm-53 1h2v2h-2zm67 0h2v2h-2zm41 0h2v2h-2zm1 0h2v2h-2zm-81 1h2v2h-2zm64 0h2v2h-2zm-91 1h2v2h-2zm33 0h2v2h-2zm58 0h2v2h-2zm11 0h2v2h-2zm-75 1h2v2h-2zm52 0h2v2h-2zm60 0h2v2h-2zm-119 1h2v2h-2zm80 0h2v2h-2zm9 0h2v2h-2zm-11 2h2v2h-2zm5 0h2v2h-2zm23 0h2v2h-2zm-121 1h2v2h-2zm9 0h2v2h-2zm8 0h2v2h-2zm32 0h2v2h-2zm56 0h2v2h-2zm-44 1h2v2h-2zm1 0h2v2h-2zm-69 1h2v2h-2zm79 0h2v2h-2zm60 0h2v2h-2zm-109 1h2v2h-2zm-13 1h2v2h-2zm34 0h2v2h-2zm19 0h2v2h-2zm7 0h2v2h-2zm6 0h2v2h-2zm-75 1h2v2h-2zm22 0h2v2h-2zm46 0h2v2h-2zm44 0h2v2h-2zm-72 2h2v2h-2zm27 0h2v2h-2zm5 0h2v2h-2zm9 0h2v2h-2zm-66 1h2v2h-2zm-24 1h2v2h-2zm7 0h2v2h-2zm21 0h2v2h-2zm73 0h2v2h-2zm-70 2h2v2h-2zm93 0h2v2h-2zm11 0h2v2h-2zm-121 1h2v2h-2zm44 0h2v2h-2zm7 0h2v2h-2zm45 0h2v2h-2zm-95 1h2v2h-2zm15 0h2v2h-2zm39 0h2v2h-2zm23 0h2v2h-2zm27 0h2v2h-2zm13 0h2v2h-2zm-71 1h2v2h-2zm31 0h2v2h-2zm45 0h2v2h-2zm6 1h2v2h-2zm-141 1h2v2h-2zm54 0h2v2h-2zm50 0h2v2h-2zm37 0h2v2h-2zm-59 1h2v2h-2zm51 0h2v2h-2zm10 0h2v2h-2zm-130 1h2v2h-2zm73 0h2v2h-2zm10 0h2v2h-2zm40 0h2v2h-2zm-32 1h2v2h-2zm41 0h2v2h-2zm-139 1h2v2h-2zm38 0h2v2h-2zm29 0h2v2h-2zm40 0h2v2h-2zm32 0h2v2h-2zm-114 1h2v2h-2zm0 0h2v2h-2zm6 0h2v2h-2zm12 0h2v2h-2zm8 0h2v2h-2zm1 0h2v2h-2zm40 0h2v2h-2zm29 1h2v2h-2zm-122 1h2v2h-2zm54 0h2v2h-2zm-37 1h2v2h-2zm1 0h2v2h-2zm20 0h2v2h-2zm-41 1h2v2h-2zm5 0h2v2h-2zm37 0h2v2h-2zm-11 1h2v2h-2zm18 0h2v2h-2zm77 2h2v2h-2zm2 0h2v2h-2zm7 0h2v2h-2zm-127 1h2v2h-2zm19 0h2v2h-2zm24 0h2v2h-2zm22 0h2v2h-2zm50 0h2v2h-2zm16 0h2v2h-2zm-97 1h2v2h-2zm-19 1h2v2h-2zm49 0h2v2h-2zm26 1h2v2h-2zm-31 1h2v2h-2zm-49 1h2v2h-2zm16 0h2v2h-2zm60 0h2v2h-2zm8 0h2v2h-2zm-73 1h2v2h-2zm14 0h2v2h-2zm32 0h2v2h-2zm-34 1h2v2h-2zm16 0h2v2h-2zm7 0h2v2h-2zm37 1h2v2h-2zm17 0h2v2h-2zm16 0h2v2h-2zm1 0h2v2h-2zm-129 1h2v2h-2zm10 0h2v2h-2zm55 1h2v2h-2zm9 0h2v2h-2zm-76 1h2v2h-2zm34 0h2v2h-2zm6 0h2v2h-2zm3 0h2v2h-2zm2 0h2v2h-2zm50 0h2v2h-2zm38 0h2v2h-2zm-89 1h2v2h-2zm11 0h2v2h-2zm23 0h2v2h-2zm40 0h2v2h-2zm-118 1h2v2h-2zm31 0h2v2h-2zm21 1h2v2h-2zm20 0h2v2h-2zm6 0h2v2h-2zm34 0h2v2h-2zm-101 1h2v2h-2zm1 0h2v2h-2zm5 0h2v2h-2zm62 0h2v2h-2zm3 0h2v2h-2zm14 0h2v2h-2zm36 0h2v2h-2zm-139 1h2v2h-2zm110 0h2v2h-2zm24 0h2v2h-2zm-81 1h2v2h-2zm52 0h2v2h-2zm19 0h2v2h-2zm-37 1h2v2h-2zm9 0h2v2h-2zm17 0h2v2h-2zm26 0h2v2h-2zm-73 1h2v2h-2zm8 0h2v2h-2zm26 0h2v2h-2zm6 0h2v2h-2zm6 0h2v2h-2zm-50 1h2v2h-2zm34 0h2v2h-2zm6 0h2v2h-2zm15 0h2v2h-2zm18 0h2v2h-2zm-68 1h2v2h-2zm45 0h2v2h-2zm3 0h2v2h-2zm25 0h2v2h-2zm-134 1h2v2h-2zm8 0h2v2h-2zm6 1h2v2h-2zm80 0h2v2h-2zm17 0h2v2h-2zm27 0h2v2h-2zm-123 1h2v2h-2zm108 0h2v2h-2zm-91 1h2v2h-2zm3 0h2v2h-2zm3 0h2v2h-2zm24 0h2v2h-2zm33 0h2v2h-2zm1 0h2v2h-2zm38 0h2v2h-2zm-132 1h2v2h-2zm18 0h2v2h-2zm47 0h2v2h-2zm37 0h2v2h-2zm-73 1h2v2h-2zm61 0h2v2h-2zm-64 1h2v2h-2zm105 0h2v2h-2zm-130 2h2v2h-2zm38 0h2v2h-2zm0 1h2v2h-2zm35 0h2v2h-2z" fill="#8a4c8a" opacity="0.75"/>
<path d="M0 0m61 0h2v2h-2zm40 0h2v2h-2zm-99 1h2v2h-2zm63 0h2v2h-2zm12 0h2v2h-2zm8 0h2v2h-2zm-69 1h2v2h-2zm61 0h2v2h-2zm34 0h2v2h-2zm-100 1h2v2h-2zm77 0h2v2h-2zm34 0h2v2h-2zm2 0h2v2h-2zm-104 1h2v2h-2zm4 0h2v2h-2zm8 0h2v2h-2zm35 0h2v2h-2zm25 0h2v2h-2zm-38 1h2v2h-2zm38 0h2v2h-2zm1 0h2v2h-2zm-75 2h2v2h-2zm49 1h2v2h-2zm10 0h2v2h-2zm-12 1h2v2h-2zm22 0h2v2h-2zm42 0h2v2h-2zm14 0h2v2h-2zm-92 1h2v2h-2zm85 0h2v2h-2zm-93 1h2v2h-2zm-42 1h2v2h-2zm58 0h2v2h-2zm-38 1h2v2h-2zm51 0h2v2h-2zm4 0h2v2h-2zm38 0h2v2h-2zm1 0h2v2h-2zm10 0h2v2h-2zm-99 1h2v2h-2zm84 0h2v2h-2zm3 0h2v2h-2zm-99 1h2v2h-2zm106 0h2v2h-2zm0 0h2v2h-2zm-22 1h2v2h-2zm-70 1h2v2h-2zm6 0h2v2h-2zm23 0h2v2h-2zm38 0h2v2h-2zm41 0h2v2h-2zm-87 1h2v2h-2zm55 0h2v2h-2zm10 1h2v2h-2zm18 0h2v2h-2zm-77 1h2v2h-2zm40 0h2v2h-2zm25 0h2v2h-2zm4 0h2v2h-2zm-107 1h2v2h-2zm36 1h2v2h-2zm86 0h2v2h-2zm-62 1h2v2h-2zm21 0h2v2h-2zm18 0h2v2h-2zm-16 1h2v2h-2zm37 0h2v2h-2zm-75 1h2v2h-2zm72 0h2v2h-2zm-105 1h2v2h-2zm0 0h2v2h-2zm19 0h2v2h-2zm41 0h2v2h-2zm47 0h2v2h-2zm-100 1h2v2h-2zm33 0h2v2h-2zm28 0h2v2h-2zm33 0h2v2h-2zm-130 1h2v2h-2zm58 0h2v2h-2zm40 0h2v2h-2zm2 0h2v2h-2zm-26 1h2v2h-2zm6 0h2v2h-2zm34 0h2v2h-2zm-76 1h2v2h-2zm83 0h2v2h-2zm3 0h2v2h-2zm-93 1h2v2h-2zm5 0h2v2h-2zm58 0h2v2h-2zm28 0h2v2h-2zm-67 1h2v2h-2zm56 0h2v2h-2zm29 0h2v2h-2zm-114 1h2v2h-2zm23 1h2v2h-2zm74 1h2v2h-2zm11 0h2v2h-2zm-86 1h2v2h-2zm29 0h2v2h-2zm10 0h2v2h-2zm15 0h2v2h-2zm-71 1h2v2h-2zm2 0h2v2h-2zm17 0h2v2h-2zm1 0h2v2h-2zm28 0h2v2h-2zm68 0h2v2h-2zm-110 1h2v2h-2zm67 0h2v2h-2zm-45 1h2v2h-2zm-23 1h2v2h-2zm105 0h2v2h-2zm-59 1h2v2h-2zm62 0h2v2h-2zm-79 1h2v2h-2zm-65 1h2v2h-2zm6 0h2v2h-2zm70 0h2v2h-2zm50 0h2v2h-2zm-99 1h2v2h-2zm10 0h2v2h-2zm30 0h2v2h-2zm70 0h2v2h-2zm-25 1h2v2h-2zm14 0h2v2h-2zm-112 1h2v2h-2zm14 0h2v2h-2zm53 0h2v2h-2zm58 0h2v2h-2zm-113 1h2v2h-2zm20 0h2v2h-2zm78 0h2v2h-2zm23 0h2v2h-2zm-81 1h2v2h-2zm68 0h2v2h-2zm1 0h2v2h-2zm-129 1h2v2h-2zm2 0h2v2h-2zm8 0h2v2h-2zm99 0h2v2h-2zm3 0h2v2h-2zm-62 1h2v2h-2zm18 0h2v2h-2zm-47 1h2v2h-2zm37 0h2v2h-2zm-40 1h2v2h-2zm44 0h2v2h-2zm2 0h2v2h-2zm33 0h2v2h-2zm33 0h2v2h-2zm-51 1h2v2h-2zm49 0h2v2h-2zm11 0h2v2h-2zm-78 1h2v2h-2zm63 0h2v2h-2zm-85 1h2v2h-2zm57 0h2v2h-2zm-81 1h2v2h-2zm41 0h2v2h-2zm49 0h2v2h-2zm-79 1h2v2h-2zm17 0h2v2h-2zm2 0h2v2h-2zm86 0h2v2h-2zm-70 1h2v2h-2zm47 0h2v2h-2zm-107 1h2v2h-2zm48 1h2v2h-2zm34 0h2v2h-2zm52 0h2v2h-2zm-112 2h2v2h-2zm11 0h2v2h-2zm25 1h2v2h-2zm50 0h2v2h-2zm20 0h2v2h-2zm-100 1h2v2h-2zm81 0h2v2h-2zm19 0h2v2h-2zm-101 1h2v2h-2zm13 0h2v2h-2zm-34 1h2v2h-2zm88 0h2v2h-2zm-68 1h2v2h-2zm17 0h2v2h-2zm24 0h2v2h-2zm5 0h2v2h-2zm44 0h2v2h-2zm-108 1h2v2h-2zm27 0h2v2h-2zm-31 1h2v2h-2zm76 0h2v2h-2zm45 0h2v2h-2zm-102 1h2v2h-2zm28 0h2v2h-2zm45 0h2v2h-2zm-70 1h2v2h-2zm13 0h2v2h-2zm42 0h2v2h-2zm-3 1h2v2h-2zm-52 1h2v2h-2zm29 0h2v2h-2zm12 0h2v2h-2zm-61 1h2v2h-2zm5 0h2v2h-2zm29 0h2v2h-2zm61 0h2v2h-2zm2 0h2v2h-2zm-76 1h2v2h-2zm2 0h2v2h-2zm9 0h2v2h-2zm53 0h2v2h-2zm-48 1h2v2h-2zm83 0h2v2h-2zm-123 1h2v2h-2zm111 0h2v2h-2zm-120 1h2v2h-2zm1 0h2v2h-2zm63 0h2v2h-2zm24 0h2v2h-2zm9 0h2v2h-2zm13 0h2v2h-2zm15 0h2v2h-2zm-116 1h2v2h-2zm7 0h2v2h-2zm25 0h2v2h-2zm-14 1h2v2h-2zm24 0h2v2h-2zm8 0h2v2h-2zm22 0h2v2h-2zm31 0h2v2h-2zm-47 1h2v2h-2zm4 0h2v2h-2zm22 0h2v2h-2zm-29 1h2v2h-2zm-18 1h2v2h-2zm12 0h2v2h-2zm51 0h2v2h-2zm22 0h2v2h-2zm-90 2h2v2h-2zm13 1h2v2h-2zm78 0h2v2h-2zm-10 1h2v2h-2zm2 0h2v2h-2zm17 1h2v2h-2zm-36 1h2v2h-2zm-99 2h2v2h-2zm57 0h2v2h-2zm9 0h2v2h-2zm9 0h2v2h-2zm64 0h2v2h-2zm-102 1h2v2h-2zm58 0h2v2h-2zm4 0h2v2h-2zm-69 1h2v2h-2zm71 0h2v2h-2zm-101 1h2v2h-2zm51 0h2v2h-2zm-35 1h2v2h-2zm14 1h2v2h-2zm25 0h2v2h-2zm-60 1h2v2h-2zm21 0h2v2h-2zm101 0h2v2h-2zm-34 1h2v2h-2zm-67 1h2v2h-2zm22 0h2v2h-2zm11 0h2v2h-2zm27 0h2v2h-2zm31 0h2v2h-2zm28 0h2v2h-2zm-112 1h2v2h-2zm86 0h2v2h-2zm-47 1h2v2h-2zm23 0h2v2h-2zm-7 1h2v2h-2zm4 0h2v2h-2zm-76 1h2v2h-2zm74 0h2v2h-2zm-62 1h2v2h-2zm74 0h2v2h-2zm-77 1h2v2h-2zm15 0h2v2h-2zm4 0h2v2h-2zm13 0h2v2h-2zm55 0h2v2h-2zm-94 1h2v2h-2zm2 0h2v2h-2zm59 0h2v2h-2zm16 0h2v2h-2zm16 0h2v2h-2zm31 0h2v2h-2zm1 0h2v2h-2zm-62 1h2v2h-2zm-68 1h2v2h-2zm5 0h2v2h-2zm41 1h2v2h-2zm69 0h2v2h-2zm-13 1h2v2h-2zm-110 1h2v2h-2zm61 0h2v2h-2zm36 0h2v2h-2zm-95 1h2v2h-2zm121 0h2v2h-2zm23 0h2v2h-2zm-112 1h2v2h-2zm32 0h2v2h-2zm5 0h2v2h-2zm34 0h2v2h-2zm4 0h2v2h-2zm36 0h2v2h-2zm-134 1h2v2h-2zm132 0h2v2h-2zm-103 3h2v2h-2zm-33 1h2v2h-2zm22 0h2v2h-2zm38 0h2v2h-2zm12 0h2v2h-2zm-37 2h2v2h-2zm40 0h2v2h-2zm-47 1h2v2h-2zm15 1h2v2h-2zm2 0h2v2h-2zm73 0h2v2h-2zm-101 1h2v2h-2zm23 0h2v2h-2zm13 0h2v2h-2zm79 0h2v2h-2zm2 0h2v2h-2zm-135 1h2v2h-2zm26 0h2v2h-2zm17 0h2v2h-2zm-39 1h2v2h-2zm4 0h2v2h-2zm62 0h2v2h-2zm-55 1h2v2h-2zm70 0h2v2h-2zm-65 1h2v2h-2zm11 0h2v2h-2zm6 0h2v2h-2zm40 0h2v2h-2zm-67 1h2v2h-2zm22 0h2v2h-2zm1 0h2v2h-2zm29 0h2v2h-2zm9 0h2v2h-2zm-27 1h2v2h-2zm52 0h2v2h-2zm3 0h2v2h-2zm33 0h2v2h-2zm-121 1h2v2h-2zm8 0h2v2h-2zm72 0h2v2h-2zm31 0h2v2h-2zm1 0h2v2h-2zm1 0h2v2h-2zm-125 1h2v2h-2zm-3 1h2v2h-2zm4 0h2v2h-2zm30 0h2v2h-2zm12 0h2v2h-2zm-45 1h2v2h-2zm98 0h2v2h-2zm17 0h2v2h-2zm-61 1h2v2h-2zm44 0h2v2h-2zm-71 1h2v2h-2zm6 0h2v2h-2zm90 0h2v2h-2zm-125 1h2v2h-2zm108 1h2v2h-2zm38 0h2v2h-2zm-134 1h2v2h-2zm6 0h2v2h-2zm41 0h2v2h-2zm57 1h2v2h-2zm-109 1h2v2h-2zm21 0h2v2h-2zm21 0h2v2h-2zm-27 1h2v2h-2zm1 0h2v2h-2zm5 0h2v2h-2zm73 0h2v2h-2zm-82 1h2v2h-2zm21 0h2v2h-2zm56 0h2v2h-2zm-97 1h2v2h-2zm2 0h2v2h-2zm9 0h2v2h-2zm41 0h2v2h-2zm1 0h2v2h-2zm84 0h2v2h-2zm-58 1h2v2h-2zm7 0h2v2h-2zm57 0h2v2h-2zm-36 1h2v2h-2zm23 0h2v2h-2zm-85 1h2v2h-2zm20 0h2v2h-2zm5 0h2v2h-2zm17 0h2v2h-2zm4 0h2v2h-2zm8 0h2v2h-2zm5 0h2v2h-2zm-95 2h2v2h-2zm35 0h2v2h-2zm96 0h2v2h-2z" fill="#7a4a82" opacity="0.75"/>
<path d="M0 0m61 0h2v2h-2zm10 0h2v2h-2zm3 1h2v2h-2zm1 0h2v2h-2zm42 0h2v2h-2zm3 0h2v2h-2zm-97 1h2v2h-2zm5 0h2v2h-2zm20 0h2v2h-2zm-41 1h2v2h-2zm61 0h2v2h-2zm-27 1h2v2h-2zm82 0h2v2h-2zm-67 1h2v2h-2zm4 0h2v2h-2zm15 0h2v2h-2zm-34 1h2v2h-2zm43 0h2v2h-2zm-9 1h2v2h-2zm39 0h2v2h-2zm-88 1h2v2h-2zm80 0h2v2h-2zm2 1h2v2h-2zm-31 1h2v2h-2zm-5 1h2v2h-2zm31 0h2v2h-2zm1 0h2v2h-2zm5 0h2v2h-2zm-102 1h2v2h-2zm11 0h2v2h-2zm6 0h2v2h-2zm38 0h2v2h-2zm-57 1h2v2h-2zm59 0h2v2h-2zm-45 1h2v2h-2zm14 0h2v2h-2zm9 0h2v2h-2zm4 0h2v2h-2zm51 0h2v2h-2zm-96 1h2v2h-2zm5 2h2v2h-2zm1 0h2v2h-2zm96 1h2v2h-2zm44 0h2v2h-2zm-33 1h2v2h-2zm17 0h2v2h-2zm-98 1h2v2h-2zm1 0h2v2h-2zm79 0h2v2h-2zm-112 1h2v2h-2zm16 0h2v2h-2zm75 0h2v2h-2zm33 0h2v2h-2zm-116 2h2v2h-2zm19 0h2v2h-2zm66 0h2v2h-2zm8 0h2v2h-2zm33 0h2v2h-2zm-103 1h2v2h-2zm15 1h2v2h-2zm72 0h2v2h-2zm-114 1h2v2h-2zm66 0h2v2h-2zm45 1h2v2h-2zm-42 1h2v2h-2zm50 0h2v2h-2zm13 0h2v2h-2zm-113 1h2v2h-2zm49 0h2v2h-2zm50 0h2v2h-2zm-86 1h2v2h-2zm23 0h2v2h-2zm25 1h2v2h-2zm30 0h2v2h-2zm9 0h2v2h-2zm-115 1h2v2h-2zm107 0h2v2h-2zm-114 1h2v2h-2zm31 0h2v2h-2zm45 0h2v2h-2zm25 0h2v2h-2zm-42 1h2v2h-2zm20 0h2v2h-2zm60 0h2v2h-2zm-134 1h2v2h-2zm39 0h2v2h-2zm-17 1h2v2h-2zm89 0h2v2h-2zm16 1h2v2h-2zm-129 1h2v2h-2zm140 0h2v2h-2zm-143 1h2v2h-2zm123 0h2v2h-2zm12 0h2v2h-2zm4 0h2v2h-2zm-46 1h2v2h-2zm6 0h2v2h-2zm-91 1h2v2h-2zm28 0h2v2h-2zm63 0h2v2h-2zm45 0h2v2h-2zm-93 1h2v2h-2zm68 0h2v2h-2zm5 0h2v2h-2zm-38 1h2v2h-2zm-56 1h2v2h-2zm17 1h2v2h-2zm26 0h2v2h-2zm58 0h2v2h-2zm4 0h2v2h-2zm-14 1h2v2h-2zm10 0h2v2h-2zm14 0h2v2h-2zm-50 1h2v2h-2zm-40 1h2v2h-2zm2 0h2v2h-2zm72 0h2v2h-2zm-109 1h2v2h-2zm50 0h2v2h-2zm-55 1h2v2h-2zm33 0h2v2h-2zm-29 1h2v2h-2zm17 0h2v2h-2zm25 0h2v2h-2zm5 0h2v2h-2zm51 0h2v2h-2zm-9 1h2v2h-2zm-53 1h2v2h-2zm36 0h2v2h-2zm46 0h2v2h-2zm-139 1h2v2h-2zm41 0h2v2h-2zm6 0h2v2h-2zm7 0h2v2h-2zm44 0h2v2h-2zm49 0h2v2h-2zm-141 1h2v2h-2zm49 0h2v2h-2zm50 0h2v2h-2zm0 0h2v2h-2zm7 0h2v2h-2zm30 0h2v2h-2zm-1 1h2v2h-2zm-136 1h2v2h-2zm134 0h2v2h-2zm4 0h2v2h-2zm-123 3h2v2h-2zm52 0h2v2h-2zm-57 1h2v2h-2zm95 0h2v2h-2zm1 0h2v2h-2zm-7 1h2v2h-2zm-14 1h2v2h-2zm38 1h2v2h-2zm14 0h2v2h-2zm-131 1h2v2h-2zm27 0h2v2h-2zm107 0h2v2h-2zm-90 1h2v2h-2zm38 0h2v2h-2zm25 0h2v2h-2zm-91 1h2v2h-2zm82 0h2v2h-2zm36 0h2v2h-2zm-32 3h2v2h-2zm-99 1h2v2h-2zm35 0h2v2h-2zm16 0h2v2h-2zm25 0h2v2h-2zm-81 1h2v2h-2zm53 0h2v2h-2zm69 0h2v2h-2zm-105 1h2v2h-2zm7 0h2v2h-2zm82 0h2v2h-2zm27 0h2v2h-2zm-132 1h2v2h-2zm53 0h2v2h-2zm23 0h2v2h-2zm8 0h2v2h-2zm24 1h2v2h-2zm5 0h2v2h-2zm22 0h2v2h-2zm-89 1h2v2h-2zm38 0h2v2h-2zm9 0h2v2h-2zm-9 1h2v2h-2zm0 0h2v2h-2zm16 0h2v2h-2zm34 0h2v2h-2zm-142 1h2v2h-2zm18 0h2v2h-2zm56 0h2v2h-2zm29 0h2v2h-2zm23 0h2v2h-2zm-75 1h2v2h-2zm39 0h2v2h-2zm1 0h2v2h-2zm49 0h2v2h-2zm-62 1h2v2h-2zm42 0h2v2h-2zm11 0h2v2h-2zm-114 2h2v2h-2zm8 0h2v2h-2zm44 0h2v2h-2zm-12 1h2v2h-2zm-50 1h2v2h-2zm123 0h2v2h-2zm-71 1h2v2h-2zm83 0h2v2h-2zm1 1h2v2h-2zm-52 1h2v2h-2zm-66 1h2v2h-2zm28 0h2v2h-2zm24 0h2v2h-2zm66 0h2v2h-2zm-138 1h2v2h-2zm42 2h2v2h-2zm54 1h2v2h-2zm30 0h2v2h-2zm3 0h2v2h-2zm-124 1h2v2h-2zm31 0h2v2h-2zm-3 1h2v2h-2zm59 1h2v2h-2zm38 0h2v2h-2zm-134 1h2v2h-2zm75 0h2v2h-2zm-51 1h2v2h-2zm35 0h2v2h-2zm18 0h2v2h-2zm15 1h2v2h-2zm-51 1h2v2h-2zm21 0h2v2h-2zm7 1h2v2h-2zm-66 1h2v2h-2zm71 0h2v2h-2zm55 0h2v2h-2zm-36 1h2v2h-2zm-58 1h2v2h-2zm-5 2h2v2h-2zm6 1h2v2h-2zm82 0h2v2h-2zm-77 1h2v2h-2zm17 0h2v2h-2zm15 0h2v2h-2zm-17 1h2v2h-2zm15 0h2v2h-2zm14 0h2v2h-2zm29 0h2v2h-2zm-80 1h2v2h-2zm45 0h2v2h-2zm2 1h2v2h-2zm13 0h2v2h-2zm-95 1h2v2h-2zm26 0h2v2h-2zm-10 1h2v2h-2zm55 0h2v2h-2zm-32 1h2v2h-2zm26 0h2v2h-2zm1 0h2v2h-2zm27 0h2v2h-2zm10 0h2v2h-2zm12 0h2v2h-2zm-62 1h2v2h-2zm11 0h2v2h-2zm68 0h2v2h-2zm7 0h2v2h-2zm-81 1h2v2h-2zm21 0h2v2h-2zm6 0h2v2h-2zm21 0h2v2h-2zm2 0h2v2h-2zm16 0h2v2h-2zm14 0h2v2h-2zm-93 1h2v2h-2zm81 0h2v2h-2zm-42 1h2v2h-2zm31 0h2v2h-2zm-85 1h2v2h-2zm17 0h2v2h-2zm14 0h2v2h-2zm63 0h2v2h-2zm13 0h2v2h-2zm6 1h2v2h-2zm-136 1h2v2h-2zm9 0h2v2h-2zm2 0h2v2h-2zm81 0h2v2h-2zm33 1h2v2h-2zm-47 1h2v2h-2zm28 0h2v2h-2zm15 0h2v2h-2zm11 0h2v2h-2zm-21 1h2v2h-2zm9 0h2v2h-2zm14 0h2v2h-2zm-124 1h2v2h-2zm52 0h2v2h-2zm-6 1h2v2h-2zm32 0h2v2h-2zm-16 1h2v2h-2zm20 0h2v2h-2zm33 0h2v2h-2zm-111 1h2v2h-2zm2 0h2v2h-2zm21 0h2v2h-2zm88 0h2v2h-2zm3 0h2v2h-2zm-131 1h2v2h-2zm30 0h2v2h-2zm18 0h2v2h-2zm82 0h2v2h-2zm6 0h2v2h-2zm-75 1h2v2h-2zm8 1h2v2h-2zm-11 1h2v2h-2zm2 0h2v2h-2zm46 0h2v2h-2zm-107 1h2v2h-2zm91 0h2v2h-2zm31 1h2v2h-2zm-82 1h2v2h-2zm99 0h2v2h-2zm-106 1h2v2h-2zm16 0h2v2h-2zm8 0h2v2h-2zm-28 1h2v2h-2zm49 0h2v2h-2zm-56 1h2v2h-2zm69 0h2v2h-2zm-56 1h2v2h-2zm1 0h2v2h-2zm20 0h2v2h-2zm36 0h2v2h-2zm-87 1h2v2h-2zm65 0h2v2h-2zm66 0h2v2h-2zm-51 2h2v2h-2zm-70 1h2v2h-2zm1 0h2v2h-2zm66 0h2v2h-2zm22 0h2v2h-2zm30 0h2v2h-2zm5 0h2v2h-2zm-131 1h2v2h-2zm64 0h2v2h-2zm19 0h2v2h-2zm41 0h2v2h-2zm-91 1h2v2h-2zm2 0h2v2h-2zm10 0h2v2h-2zm73 0h2v2h-2zm14 0h2v2h-2zm-124 1h2v2h-2zm32 0h2v2h-2zm48 0h2v2h-2zm28 0h2v2h-2zm-129 1h2v2h-2zm62 0h2v2h-2zm30 0h2v2h-2zm23 0h2v2h-2zm-111 1h2v2h-2zm12 0h2v2h-2zm31 0h2v2h-2zm18 1h2v2h-2zm3 0h2v2h-2zm75 0h2v2h-2z" fill="#9a5c98" opacity="0.75"/>
<path d="M0 0m143 0h3v3h-3zm-89 2h3v3h-3zm75 0h3v3h-3zm-83 1h3v3h-3zm96 0h3v3h-3zm-95 1h3v3h-3zm22 3h3v3h-3zm-45 1h3v3h-3zm9 0h3v3h-3zm63 0h3v3h-3zm-81 1h3v3h-3zm80 0h3v3h-3zm8 0h3v3h-3zm-57 1h3v3h-3zm29 0h3v3h-3zm-57 1h3v3h-3zm43 0h3v3h-3zm53 0h3v3h-3zm5 0h3v3h-3zm-75 1h3v3h-3zm-35 1h3v3h-3zm6 1h3v3h-3zm5 1h3v3h-3zm55 0h3v3h-3zm8 0h3v3h-3zm17 0h3v3h-3zm-39 1h3v3h-3zm36 0h3v3h-3zm-12 2h3v3h-3zm19 1h3v3h-3zm-25 1h3v3h-3zm-29 1h3v3h-3zm0 1h3v3h-3zm83 0h3v3h-3zm-40 1h3v3h-3zm20 0h3v3h-3zm-1 1h3v3h-3zm-95 2h3v3h-3zm69 0h3v3h-3zm-78 1h3v3h-3zm87 3h3v3h-3zm-30 2h3v3h-3zm36 0h3v3h-3zm37 0h3v3h-3zm-103 2h3v3h-3zm26 3h3v3h-3zm47 0h3v3h-3zm-63 1h3v3h-3zm12 0h3v3h-3zm82 0h3v3h-3zm-110 1h3v3h-3zm48 1h3v3h-3zm42 1h3v3h-3zm-119 2h3v3h-3zm12 0h3v3h-3zm72 0h3v3h-3zm0 1h3v3h-3zm39 0h3v3h-3zm-78 1h3v3h-3zm-14 1h3v3h-3zm-30 2h3v3h-3zm16 0h3v3h-3zm51 0h3v3h-3zm69 0h3v3h-3zm-66 1h3v3h-3zm12 0h3v3h-3zm60 0h3v3h-3zm-8 1h3v3h-3zm8 1h3v3h-3zm-142 2h3v3h-3zm48 0h3v3h-3zm47 0h3v3h-3zm-53 1h3v3h-3zm-18 2h3v3h-3zm87 0h3v3h-3zm-101 1h3v3h-3zm50 0h3v3h-3zm41 0h3v3h-3zm38 0h3v3h-3zm-66 2h3v3h-3zm-36 1h3v3h-3zm74 1h3v3h-3zm22 0h3v3h-3zm5 1h3v3h-3zm-134 1h3v3h-3zm40 0h3v3h-3zm4 0h3v3h-3zm81 1h3v3h-3zm-106 1h3v3h-3zm6 0h3v3h-3zm-26 1h3v3h-3zm78 0h3v3h-3zm-79 1h3v3h-3zm58 1h3v3h-3zm32 0h3v3h-3zm-81 1h3v3h-3zm23 0h3v3h-3zm3 0h3v3h-3zm2 0h3v3h-3zm17 0h3v3h-3zm25 0h3v3h-3zm33 0h3v3h-3zm-65 1h3v3h-3zm78 0h3v3h-3zm-126 1h3v3h-3zm35 2h3v3h-3zm49 0h3v3h-3zm-74 1h3v3h-3zm53 0h3v3h-3zm63 2h3v3h-3zm2 2h3v3h-3zm-95 1h3v3h-3zm50 0h3v3h-3zm-73 1h3v3h-3zm92 0h3v3h-3zm-49 1h3v3h-3zm17 0h3v3h-3zm19 0h3v3h-3zm34 0h3v3h-3zm-52 1h3v3h-3zm32 0h3v3h-3zm2 0h3v3h-3zm-64 1h3v3h-3zm15 0h3v3h-3zm31 1h3v3h-3zm-38 3h3v3h-3zm47 0h3v3h-3zm26 1h3v3h-3zm-11 1h3v3h-3zm2 0h3v3h-3zm-56 1h3v3h-3zm55 0h3v3h-3zm25 0h3v3h-3zm-129 1h3v3h-3zm51 3h3v3h-3zm23 0h3v3h-3zm24 0h3v3h-3zm-11 1h3v3h-3zm-15 1h3v3h-3zm-43 1h3v3h-3zm60 0h3v3h-3zm32 1h3v3h-3zm1 0h3v3h-3zm-72 1h3v3h-3zm-54 1h3v3h-3zm116 0h3v3h-3zm-121 1h3v3h-3zm44 0h3v3h-3zm-24 1h3v3h-3zm20 0h3v3h-3zm35 0h3v3h-3zm-68 1h3v3h-3zm86 0h3v3h-3zm28 0h3v3h-3zm-27 3h3v3h-3zm36 0h3v3h-3zm6 0h3v3h-3zm-28 1h3v3h-3zm-92 2h3v3h-3zm45 2h3v3h-3zm-50 1h3v3h-3zm22 0h3v3h-3zm41 0h3v3h-3zm61 2h3v3h-3zm-1 1h3v3h-3zm-103 1h3v3h-3zm4 1h3v3h-3zm91 0h3v3h-3zm-69 1h3v3h-3zm14 0h3v3h-3zm15 0h3v3h-3zm-9 1h3v3h-3zm28 0h3v3h-3zm34 0h3v3h-3zm-35 1h3v3h-3zm-49 3h3v3h-3zm1 0h3v3h-3zm-29 1h3v3h-3zm35 1h3v3h-3zm51 0h3v3h-3zm-39 1h3v3h-3zm-28 1h3v3h-3zm37 0h3v3h-3zm50 0h3v3h-3zm-100 1h3v3h-3zm57 1h3v3h-3zm50 0h3v3h-3zm-113 1h3v3h-3zm115 0h3v3h-3zm-104 3h3v3h-3zm10 0h3v3h-3zm-41 2h3v3h-3zm21 0h3v3h-3zm-1 1h3v3h-3zm78 0h3v3h-3zm-93 2h3v3h-3zm84 0h3v3h-3zm-45 2h3v3h-3zm24 0h3v3h-3zm59 0h3v3h-3zm-127 1h3v3h-3zm57 0h3v3h-3zm25 0h3v3h-3zm19 0h3v3h-3zm-80 4h3v3h-3z" fill="#8a4c8a" opacity="0.75"/>
<path d="M0 0m136 0h3v3h-3zm-31 1h3v3h-3zm0 0h3v3h-3zm19 1h3v3h-3zm-27 1h3v3h-3zm15 0h3v3h-3zm-111 1h3v3h-3zm35 0h3v3h-3zm78 1h3v3h-3zm-53 1h3v3h-3zm-26 1h3v3h-3zm65 2h3v3h-3zm-45 2h3v3h-3zm-1 1h3v3h-3zm1 0h3v3h-3zm9 0h3v3h-3zm10 0h3v3h-3zm67 0h3v3h-3zm-110 1h3v3h-3zm22 0h3v3h-3zm-46 1h3v3h-3zm31 0h3v3h-3zm11 1h3v3h-3zm-20 1h3v3h-3zm42 0h3v3h-3zm12 0h3v3h-3zm17 0h3v3h-3zm-40 1h3v3h-3zm84 1h3v3h-3zm-125 2h3v3h-3zm-5 1h3v3h-3zm15 0h3v3h-3zm15 0h3v3h-3zm34 0h3v3h-3zm63 0h3v3h-3zm-46 1h3v3h-3zm46 0h3v3h-3zm-73 1h3v3h-3zm2 0h3v3h-3zm23 0h3v3h-3zm-50 1h3v3h-3zm-18 1h3v3h-3zm4 1h3v3h-3zm6 0h3v3h-3zm57 1h3v3h-3zm11 1h3v3h-3zm-12 1h3v3h-3zm45 0h3v3h-3zm-77 1h3v3h-3zm62 0h3v3h-3zm-59 2h3v3h-3zm-45 1h3v3h-3zm6 1h3v3h-3zm27 0h3v3h-3zm-17 1h3v3h-3zm78 0h3v3h-3zm30 1h3v3h-3zm4 0h3v3h-3zm-58 1h3v3h-3zm48 0h3v3h-3zm-66 1h3v3h-3zm36 1h3v3h-3zm8 0h3v3h-3zm-99 2h3v3h-3zm-8 1h3v3h-3zm122 0h3v3h-3zm5 0h3v3h-3zm-120 1h3v3h-3zm95 0h3v3h-3zm12 1h3v3h-3zm-58 2h3v3h-3zm74 0h3v3h-3zm-133 1h3v3h-3zm119 0h3v3h-3zm-34 1h3v3h-3zm27 0h3v3h-3zm-114 1h3v3h-3zm52 0h3v3h-3zm-39 1h3v3h-3zm10 0h3v3h-3zm114 1h3v3h-3zm-82 2h3v3h-3zm43 0h3v3h-3zm-98 2h3v3h-3zm139 2h3v3h-3zm-104 1h3v3h-3zm41 0h3v3h-3zm17 1h3v3h-3zm12 0h3v3h-3zm0 0h3v3h-3zm-2 1h3v3h-3zm25 1h3v3h-3zm-59 1h3v3h-3zm20 0h3v3h-3zm7 0h3v3h-3zm39 0h3v3h-3zm-131 1h3v3h-3zm6 0h3v3h-3zm13 1h3v3h-3zm-8 1h3v3h-3zm49 0h3v3h-3zm-21 1h3v3h-3zm18 0h3v3h-3zm65 0h3v3h-3zm-10 1h3v3h-3zm-59 3h3v3h-3zm-11 1h3v3h-3zm-28 1h3v3h-3zm113 2h3v3h-3zm-114 1h3v3h-3zm84 0h3v3h-3zm-59 1h3v3h-3zm21 1h3v3h-3zm47 1h3v3h-3zm-105 1h3v3h-3zm9 0h3v3h-3zm129 0h3v3h-3zm-68 1h3v3h-3zm69 0h3v3h-3zm1 0h3v3h-3zm-107 1h3v3h-3zm-34 1h3v3h-3zm16 0h3v3h-3zm7 0h3v3h-3zm34 0h3v3h-3zm4 0h3v3h-3zm27 0h3v3h-3zm24 2h3v3h-3zm24 0h3v3h-3zm-109 1h3v3h-3zm2 1h3v3h-3zm15 0h3v3h-3zm23 0h3v3h-3zm49 0h3v3h-3zm-80 1h3v3h-3zm-40 2h3v3h-3zm143 0h3v3h-3zm-79 1h3v3h-3zm-55 1h3v3h-3zm118 0h3v3h-3zm5 0h3v3h-3zm-90 1h3v3h-3zm-27 1h3v3h-3zm34 1h3v3h-3zm38 1h3v3h-3zm-29 2h3v3h-3zm61 0h3v3h-3zm-95 1h3v3h-3zm4 0h3v3h-3zm51 0h3v3h-3zm30 0h3v3h-3zm15 0h3v3h-3zm-90 2h3v3h-3zm73 0h3v3h-3zm-45 1h3v3h-3zm31 2h3v3h-3zm-93 1h3v3h-3zm64 0h3v3h-3zm18 0h3v3h-3zm-43 1h3v3h-3zm3 0h3v3h-3zm-35 1h3v3h-3zm39 1h3v3h-3zm58 1h3v3h-3zm16 1h3v3h-3zm25 0h3v3h-3zm-140 1h3v3h-3zm41 0h3v3h-3zm56 1h3v3h-3zm5 0h3v3h-3zm24 0h3v3h-3zm-131 1h3v3h-3zm46 1h3v3h-3zm71 0h3v3h-3zm-84 1h3v3h-3zm70 0h3v3h-3zm34 0h3v3h-3zm-97 1h3v3h-3zm5 0h3v3h-3zm10 0h3v3h-3zm50 0h3v3h-3zm12 0h3v3h-3zm-84 2h3v3h-3zm83 0h3v3h-3zm23 0h3v3h-3zm-99 1h3v3h-3zm79 0h3v3h-3zm-55 1h3v3h-3zm5 0h3v3h-3zm75 0h3v3h-3zm-145 2h3v3h-3zm11 0h3v3h-3zm76 0h3v3h-3zm26 0h3v3h-3zm9 0h3v3h-3zm5 2h3v3h-3zm-68 2h3v3h-3zm76 0h3v3h-3zm-63 1h3v3h-3zm7 0h3v3h-3zm-44 1h3v3h-3zm75 0h3v3h-3zm9 0h3v3h-3zm-82 1h3v3h-3zm9 0h3v3h-3zm59 0h3v3h-3zm-18 1h3v3h-3zm10 0h3v3h-3zm22 1h3v3h-3zm-67 1h3v3h-3zm64 0h3v3h-3zm-91 1h3v3h-3zm76 0h3v3h-3zm1 1h3v3h-3zm42 0h3v3h-3zm-119 1h3v3h-3zm114 0h3v3h-3zm-96 1h3v3h-3zm67 1h3v3h-3zm-102 1h3v3h-3zm18 0h3v3h-3zm34 1h3v3h-3zm42 0h3v3h-3zm25 0h3v3h-3zm-79 3h3v3h-3zm92 1h3v3h-3zm-54 1h3v3h-3zm39 0h3v3h-3zm-12 1h3v3h-3zm-79 1h3v3h-3zm76 2h3v3h-3z" fill="#7a4a82" opacity="0.75"/>
<path d="M0 0m27 0h2v2h-2zm10 0h2v2h-2zm90 0h2v2h-2zm-69 1h2v2h-2zm45 0h2v2h-2zm27 1h2v2h-2zm-94 1h2v2h-2zm25 1h2v2h-2zm-33 1h2v2h-2zm92 0h2v2h-2zm-118 1h2v2h-2zm15 0h2v2h-2zm51 0h2v2h-2zm26 0h2v2h-2zm-50 1h2v2h-2zm-22 1h2v2h-2zm25 0h2v2h-2zm12 0h2v2h-2zm53 0h2v2h-2zm-62 1h2v2h-2zm56 0h2v2h-2zm34 0h2v2h-2zm-96 1h2v2h-2zm16 0h2v2h-2zm76 0h2v2h-2zm-123 1h2v2h-2zm25 0h2v2h-2zm36 0h2v2h-2zm-54 1h2v2h-2zm63 0h2v2h-2zm33 0h2v2h-2zm12 0h2v2h-2zm6 2h2v2h-2zm-128 1h2v2h-2zm15 0h2v2h-2zm19 0h2v2h-2zm29 0h2v2h-2zm51 0h2v2h-2zm-79 1h2v2h-2zm39 0h2v2h-2zm-46 1h2v2h-2zm27 0h2v2h-2zm2 0h2v2h-2zm31 0h2v2h-2zm50 0h2v2h-2zm-120 1h2v2h-2zm74 0h2v2h-2zm14 0h2v2h-2zm28 0h2v2h-2zm-123 1h2v2h-2zm19 0h2v2h-2zm61 0h2v2h-2zm-38 1h2v2h-2zm21 0h2v2h-2zm32 0h2v2h-2zm4 0h2v2h-2zm31 1h2v2h-2zm-146 1h2v2h-2zm90 0h2v2h-2zm-76 1h2v2h-2zm15 0h2v2h-2zm73 0h2v2h-2zm26 0h2v2h-2zm-12 1h2v2h-2zm7 0h2v2h-2zm-106 1h2v2h-2zm11 1h2v2h-2zm24 1h2v2h-2zm42 0h2v2h-2zm-93 1h2v2h-2zm23 0h2v2h-2zm61 0h2v2h-2zm-79 1h2v2h-2zm51 0h2v2h-2zm35 0h2v2h-2zm-75 1h2v2h-2zm93 0h2v2h-2zm11 0h2v2h-2zm-5 1h2v2h-2zm27 0h2v2h-2zm-137 1h2v2h-2zm110 0h2v2h-2zm-68 1h2v2h-2zm41 0h2v2h-2zm-60 1h2v2h-2zm59 0h2v2h-2zm7 0h2v2h-2zm4 0h2v2h-2zm15 0h2v2h-2zm-112 1h2v2h-2zm14 0h2v2h-2zm6 0h2v2h-2zm60 0h2v2h-2zm34 0h2v2h-2zm-109 1h2v2h-2zm23 0h2v2h-2zm38 0h2v2h-2zm-69 1h2v2h-2zm25 0h2v2h-2zm58 0h2v2h-2zm4 0h2v2h-2zm-63 1h2v2h-2zm110 0h2v2h-2zm-129 1h2v2h-2zm28 0h2v2h-2zm54 0h2v2h-2zm-54 1h2v2h-2zm84 0h2v2h-2zm-107 1h2v2h-2zm100 0h2v2h-2zm24 0h2v2h-2zm-105 1h2v2h-2zm98 0h2v2h-2zm-95 1h2v2h-2zm110 0h2v2h-2zm-67 1h2v2h-2zm50 0h2v2h-2zm-40 1h2v2h-2zm53 0h2v2h-2zm-131 1h2v2h-2zm47 0h2v2h-2zm18 0h2v2h-2zm32 1h2v2h-2zm4 0h2v2h-2zm22 0h2v2h-2zm-58 1h2v2h-2zm-35 1h2v2h-2zm-3 2h2v2h-2zm79 0h2v2h-2zm18 0h2v2h-2zm-82 1h2v2h-2zm10 0h2v2h-2zm-51 1h2v2h-2zm-6 2h2v2h-2zm1 0h2v2h-2zm66 0h2v2h-2zm51 0h2v2h-2zm4 0h2v2h-2zm-106 1h2v2h-2zm46 0h2v2h-2zm-54 1h2v2h-2zm50 0h2v2h-2zm72 1h2v2h-2zm7 0h2v2h-2zm-26 1h2v2h-2zm-47 2h2v2h-2zm39 0h2v2h-2zm13 0h2v2h-2zm-63 1h2v2h-2zm-39 1h2v2h-2zm40 0h2v2h-2zm2 0h2v2h-2zm-10 1h2v2h-2zm34 1h2v2h-2zm2 0h2v2h-2zm41 0h2v2h-2zm8 0h2v2h-2zm-48 1h2v2h-2zm8 1h2v2h-2zm15 0h2v2h-2zm-55 1h2v2h-2zm-39 1h2v2h-2zm33 0h2v2h-2zm64 0h2v2h-2zm-101 1h2v2h-2zm32 0h2v2h-2zm78 0h2v2h-2zm8 0h2v2h-2zm-119 1h2v2h-2zm98 0h2v2h-2zm11 0h2v2h-2zm20 1h2v2h-2zm-106 1h2v2h-2zm67 0h2v2h-2zm37 0h2v2h-2zm-120 1h2v2h-2zm107 0h2v2h-2zm-66 1h2v2h-2zm6 0h2v2h-2zm72 0h2v2h-2zm2 0h2v2h-2zm-115 1h2v2h-2zm10 0h2v2h-2zm4 0h2v2h-2zm103 0h2v2h-2zm-99 1h2v2h-2zm-14 1h2v2h-2zm-25 1h2v2h-2zm72 0h2v2h-2zm41 0h2v2h-2zm-93 1h2v2h-2zm2 0h2v2h-2zm68 0h2v2h-2zm52 0h2v2h-2zm-50 1h2v2h-2zm26 0h2v2h-2zm-51 1h2v2h-2zm32 0h2v2h-2zm17 0h2v2h-2zm1 0h2v2h-2zm-110 1h2v2h-2zm41 0h2v2h-2zm50 0h2v2h-2zm39 0h2v2h-2zm-88 1h2v2h-2zm22 0h2v2h-2zm69 0h2v2h-2zm-35 2h2v2h-2zm-105 1h2v2h-2zm98 0h2v2h-2zm-54 1h2v2h-2zm24 0h2v2h-2zm68 0h2v2h-2zm-70 1h2v2h-2zm-51 1h2v2h-2zm84 0h2v2h-2zm3 0h2v2h-2zm10 0h2v2h-2zm-98 1h2v2h-2zm40 1h2v2h-2zm27 0h2v2h-2zm0 0h2v2h-2zm-52 1h2v2h-2zm73 0h2v2h-2zm19 0h2v2h-2zm-103 1h2v2h-2zm3 0h2v2h-2zm100 0h2v2h-2zm-37 1h2v2h-2zm6 0h2v2h-2zm47 0h2v2h-2zm-116 1h2v2h-2zm24 0h2v2h-2zm37 0h2v2h-2zm-82 1h2v2h-2zm1 0h2v2h-2zm69 0h2v2h-2zm20 1h2v2h-2zm-86 1h2v2h-2zm59 0h2v2h-2zm6 1h2v2h-2zm59 0h2v2h-2zm4 0h2v2h-2zm14 0h2v2h-2zm-39 1h2v2h-2zm-41 1h2v2h-2zm15 0h2v2h-2zm18 0h2v2h-2zm25 1h2v2h-2zm-89 1h2v2h-2zm48 0h2v2h-2zm3 0h2v2h-2zm56 0h2v2h-2zm-136 1h2v2h-2zm28 0h2v2h-2zm46 0h2v2h-2zm-16 1h2v2h-2zm50 0h2v2h-2zm15 0h2v2h-2zm-117 1h2v2h-2zm67 0h2v2h-2zm57 0h2v2h-2zm-112 1h2v2h-2zm9 0h2v2h-2zm88 0h2v2h-2zm5 2h2v2h-2zm-64 1h2v2h-2zm10 0h2v2h-2zm8 0h2v2h-2zm37 0h2v2h-2zm-67 1h2v2h-2zm12 0h2v2h-2zm20 1h2v2h-2zm9 0h2v2h-2zm49 0h2v2h-2zm-127 1h2v2h-2zm69 0h2v2h-2zm5 0h2v2h-2zm31 0h2v2h-2zm11 0h2v2h-2zm-110 1h2v2h-2zm37 0h2v2h-2zm-37 2h2v2h-2zm115 0h2v2h-2zm1 0h2v2h-2zm3 0h2v2h-2zm-136 1h2v2h-2zm89 0h2v2h-2zm11 1h2v2h-2zm7 0h2v2h-2zm30 0h2v2h-2zm-114 1h2v2h-2zm48 0h2v2h-2zm-24 1h2v2h-2zm88 0h2v2h-2zm-87 1h2v2h-2zm43 0h2v2h-2zm12 0h2v2h-2zm-48 1h2v2h-2zm41 0h2v2h-2zm23 0h2v2h-2zm15 0h2v2h-2zm4 0h2v2h-2zm-108 1h2v2h-2zm-6 2h2v2h-2zm8 0h2v2h-2zm23 1h2v2h-2zm35 1h2v2h-2zm12 0h2v2h-2zm4 0h2v2h-2zm-108 1h2v2h-2zm126 0h2v2h-2zm-111 1h2v2h-2zm6 0h2v2h-2zm37 0h2v2h-2zm81 0h2v2h-2zm1 0h2v2h-2zm-137 1h2v2h-2zm77 0h2v2h-2zm-73 1h2v2h-2zm109 0h2v2h-2zm-101 1h2v2h-2zm29 0h2v2h-2zm23 0h2v2h-2zm15 0h2v2h-2zm24 0h2v2h-2zm-34 1h2v2h-2zm41 0h2v2h-2zm-55 1h2v2h-2zm65 0h2v2h-2zm11 0h2v2h-2zm-40 1h2v2h-2zm11 0h2v2h-2zm18 0h2v2h-2zm-24 1h2v2h-2zm38 0h2v2h-2zm-138 1h2v2h-2zm28 0h2v2h-2zm51 0h2v2h-2zm22 0h2v2h-2zm27 0h2v2h-2zm6 0h2v2h-2zm-128 2h2v2h-2zm64 0h2v2h-2zm6 0h2v2h-2zm29 0h2v2h-2zm22 0h2v2h-2zm-101 1h2v2h-2zm110 0h2v2h-2zm-54 2h2v2h-2zm15 0h2v2h-2zm-41 1h2v2h-2zm5 1h2v2h-2zm4 0h2v2h-2zm75 0h2v2h-2zm2 0h2v2h-2zm-131 1h2v2h-2zm10 1h2v2h-2zm101 0h2v2h-2zm7 0h2v2h-2zm8 0h2v2h-2zm-110 1h2v2h-2zm93 0h2v2h-2z" fill="#9a5e8c" opacity="0.75"/>
<path d="M0 0m10 0h2v2h-2zm5 0h2v2h-2zm62 0h2v2h-2zm66 1h2v2h-2zm-125 1h2v2h-2zm43 0h2v2h-2zm52 0h2v2h-2zm23 0h2v2h-2zm7 0h2v2h-2zm-127 1h2v2h-2zm6 0h2v2h-2zm39 0h2v2h-2zm71 0h2v2h-2zm-26 1h2v2h-2zm28 0h2v2h-2zm-93 1h2v2h-2zm5 0h2v2h-2zm18 0h2v2h-2zm40 0h2v2h-2zm-13 1h2v2h-2zm2 0h2v2h-2zm-69 1h2v2h-2zm20 0h2v2h-2zm42 0h2v2h-2zm-28 1h2v2h-2zm14 0h2v2h-2zm20 0h2v2h-2zm1 0h2v2h-2zm-93 1h2v2h-2zm4 0h2v2h-2zm21 0h2v2h-2zm66 0h2v2h-2zm17 0h2v2h-2zm39 1h2v2h-2zm-112 1h2v2h-2zm8 0h2v2h-2zm47 0h2v2h-2zm39 0h2v2h-2zm-122 2h2v2h-2zm117 0h2v2h-2zm1 0h2v2h-2zm-116 1h2v2h-2zm4 0h2v2h-2zm90 0h2v2h-2zm-82 1h2v2h-2zm64 0h2v2h-2zm7 0h2v2h-2zm23 0h2v2h-2zm-114 1h2v2h-2zm31 1h2v2h-2zm70 0h2v2h-2zm-81 1h2v2h-2zm20 0h2v2h-2zm32 0h2v2h-2zm9 0h2v2h-2zm5 0h2v2h-2zm1 0h2v2h-2zm47 0h2v2h-2zm-108 1h2v2h-2zm2 0h2v2h-2zm67 1h2v2h-2zm12 0h2v2h-2zm-51 1h2v2h-2zm6 0h2v2h-2zm65 0h2v2h-2zm3 0h2v2h-2zm-90 1h2v2h-2zm61 0h2v2h-2zm38 0h2v2h-2zm-64 1h2v2h-2zm23 0h2v2h-2zm13 0h2v2h-2zm9 0h2v2h-2zm-116 2h2v2h-2zm26 0h2v2h-2zm15 0h2v2h-2zm39 0h2v2h-2zm38 0h2v2h-2zm-122 1h2v2h-2zm39 0h2v2h-2zm32 0h2v2h-2zm-32 1h2v2h-2zm30 0h2v2h-2zm52 0h2v2h-2zm-91 1h2v2h-2zm26 0h2v2h-2zm55 0h2v2h-2zm-104 1h2v2h-2zm83 0h2v2h-2zm33 0h2v2h-2zm-72 1h2v2h-2zm10 0h2v2h-2zm8 0h2v2h-2zm43 0h2v2h-2zm18 0h2v2h-2zm-34 1h2v2h-2zm-79 2h2v2h-2zm0 0h2v2h-2zm63 0h2v2h-2zm-69 1h2v2h-2zm7 0h2v2h-2zm30 0h2v2h-2zm1 1h2v2h-2zm2 0h2v2h-2zm18 0h2v2h-2zm6 0h2v2h-2zm-62 1h2v2h-2zm119 0h2v2h-2zm-117 1h2v2h-2zm41 0h2v2h-2zm10 0h2v2h-2zm-17 1h2v2h-2zm32 0h2v2h-2zm-50 1h2v2h-2zm17 1h2v2h-2zm82 0h2v2h-2zm-75 1h2v2h-2zm-47 2h2v2h-2zm57 0h2v2h-2zm27 0h2v2h-2zm19 0h2v2h-2zm-103 2h2v2h-2zm46 0h2v2h-2zm-12 1h2v2h-2zm23 0h2v2h-2zm-27 1h2v2h-2zm-37 1h2v2h-2zm121 0h2v2h-2zm-101 1h2v2h-2zm69 0h2v2h-2zm26 0h2v2h-2zm1 0h2v2h-2zm21 0h2v2h-2zm5 0h2v2h-2zm-143 1h2v2h-2zm39 0h2v2h-2zm15 0h2v2h-2zm23 0h2v2h-2zm12 0h2v2h-2zm-83 1h2v2h-2zm6 0h2v2h-2zm10 0h2v2h-2zm83 0h2v2h-2zm-15 1h2v2h-2zm-83 1h2v2h-2zm34 0h2v2h-2zm28 0h2v2h-2zm-4 1h2v2h-2zm73 0h2v2h-2zm8 0h2v2h-2zm-113 2h2v2h-2zm77 0h2v2h-2zm-70 1h2v2h-2zm10 1h2v2h-2zm14 0h2v2h-2zm9 0h2v2h-2zm4 0h2v2h-2zm-4 1h2v2h-2zm71 0h2v2h-2zm-20 1h2v2h-2zm-89 1h2v2h-2zm72 0h2v2h-2zm-65 1h2v2h-2zm93 0h2v2h-2zm-95 2h2v2h-2zm42 0h2v2h-2zm41 0h2v2h-2zm9 0h2v2h-2zm-79 1h2v2h-2zm51 0h2v2h-2zm12 0h2v2h-2zm-86 1h2v2h-2zm111 0h2v2h-2zm-137 1h2v2h-2zm38 0h2v2h-2zm72 0h2v2h-2zm16 0h2v2h-2zm-7 1h2v2h-2zm-33 1h2v2h-2zm-87 1h2v2h-2zm5 0h2v2h-2zm57 0h2v2h-2zm17 0h2v2h-2zm31 0h2v2h-2zm18 0h2v2h-2zm-64 1h2v2h-2zm75 1h2v2h-2zm-87 1h2v2h-2zm64 0h2v2h-2zm-95 1h2v2h-2zm75 0h2v2h-2zm-97 1h2v2h-2zm40 0h2v2h-2zm13 1h2v2h-2zm20 0h2v2h-2zm8 0h2v2h-2zm1 0h2v2h-2zm3 0h2v2h-2zm11 0h2v2h-2zm13 0h2v2h-2zm-91 1h2v2h-2zm58 0h2v2h-2zm-29 1h2v2h-2zm-47 1h2v2h-2zm10 0h2v2h-2zm27 0h2v2h-2zm53 0h2v2h-2zm52 0h2v2h-2zm1 0h2v2h-2zm-140 1h2v2h-2zm3 0h2v2h-2zm88 0h2v2h-2zm-18 1h2v2h-2zm61 0h2v2h-2zm-130 1h2v2h-2zm41 1h2v2h-2zm79 0h2v2h-2zm2 0h2v2h-2zm-58 1h2v2h-2zm-67 1h2v2h-2zm127 0h2v2h-2zm-67 1h2v2h-2zm58 0h2v2h-2zm-47 1h2v2h-2zm-17 1h2v2h-2zm9 0h2v2h-2zm-37 1h2v2h-2zm-28 1h2v2h-2zm29 0h2v2h-2zm10 0h2v2h-2zm14 0h2v2h-2zm31 0h2v2h-2zm-17 1h2v2h-2zm-26 1h2v2h-2zm41 0h2v2h-2zm-84 1h2v2h-2zm42 0h2v2h-2zm83 0h2v2h-2zm16 0h2v2h-2zm0 0h2v2h-2zm-126 1h2v2h-2zm21 0h2v2h-2zm103 0h2v2h-2zm-123 1h2v2h-2zm20 0h2v2h-2zm24 0h2v2h-2zm33 0h2v2h-2zm50 0h2v2h-2zm-145 1h2v2h-2zm27 0h2v2h-2zm75 0h2v2h-2zm-27 1h2v2h-2zm33 0h2v2h-2zm32 0h2v2h-2zm-120 1h2v2h-2zm22 0h2v2h-2zm91 0h2v2h-2zm-128 1h2v2h-2zm14 0h2v2h-2zm2 0h2v2h-2zm61 0h2v2h-2zm-46 1h2v2h-2zm91 1h2v2h-2zm13 0h2v2h-2zm-108 1h2v2h-2zm45 0h2v2h-2zm-70 1h2v2h-2zm-4 1h2v2h-2zm9 0h2v2h-2zm44 0h2v2h-2zm4 0h2v2h-2zm11 1h2v2h-2zm1 0h2v2h-2zm17 0h2v2h-2zm-72 1h2v2h-2zm5 0h2v2h-2zm14 0h2v2h-2zm6 0h2v2h-2zm37 0h2v2h-2zm-14 1h2v2h-2zm37 0h2v2h-2zm1 0h2v2h-2zm2 0h2v2h-2zm-78 1h2v2h-2zm8 0h2v2h-2zm7 0h2v2h-2zm33 0h2v2h-2zm20 0h2v2h-2zm-96 1h2v2h-2zm62 0h2v2h-2zm-24 2h2v2h-2zm82 0h2v2h-2zm-80 1h2v2h-2zm41 0h2v2h-2zm11 0h2v2h-2zm-42 1h2v2h-2zm68 0h2v2h-2zm24 0h2v2h-2zm4 0h2v2h-2zm-88 1h2v2h-2zm-40 1h2v2h-2zm5 1h2v2h-2zm117 0h2v2h-2zm-133 1h2v2h-2zm30 0h2v2h-2zm43 0h2v2h-2zm46 0h2v2h-2zm-97 1h2v2h-2zm51 0h2v2h-2zm10 0h2v2h-2zm13 0h2v2h-2zm19 0h2v2h-2zm-20 1h2v2h-2zm10 0h2v2h-2zm12 0h2v2h-2zm-56 1h2v2h-2zm9 0h2v2h-2zm28 0h2v2h-2zm-103 1h2v2h-2zm5 0h2v2h-2zm85 0h2v2h-2zm0 0h2v2h-2zm50 0h2v2h-2zm-115 1h2v2h-2zm53 0h2v2h-2zm-80 1h2v2h-2zm61 0h2v2h-2zm59 1h2v2h-2zm-37 1h2v2h-2zm17 0h2v2h-2zm-36 1h2v2h-2zm47 0h2v2h-2zm3 0h2v2h-2zm-99 1h2v2h-2zm107 0h2v2h-2zm18 0h2v2h-2zm-22 1h2v2h-2zm22 0h2v2h-2zm-136 1h2v2h-2zm55 0h2v2h-2zm4 0h2v2h-2zm-51 1h2v2h-2zm33 0h2v2h-2zm14 0h2v2h-2zm28 0h2v2h-2zm12 0h2v2h-2zm33 0h2v2h-2zm-132 1h2v2h-2zm46 0h2v2h-2zm5 0h2v2h-2zm95 0h2v2h-2zm-128 2h2v2h-2zm88 0h2v2h-2zm23 0h2v2h-2zm-91 1h2v2h-2zm29 0h2v2h-2zm17 0h2v2h-2zm-75 1h2v2h-2zm74 0h2v2h-2zm46 0h2v2h-2zm-26 1h2v2h-2zm1 0h2v2h-2zm30 0h2v2h-2zm7 0h2v2h-2zm-140 1h2v2h-2zm40 0h2v2h-2zm39 0h2v2h-2zm8 0h2v2h-2zm-88 1h2v2h-2zm5 0h2v2h-2zm5 0h2v2h-2zm43 0h2v2h-2zm28 0h2v2h-2zm1 0h2v2h-2zm7 0h2v2h-2zm32 0h2v2h-2zm-113 1h2v2h-2zm57 0h2v2h-2zm81 0h2v2h-2zm-63 1h2v2h-2zm4 0h2v2h-2zm30 0h2v2h-2zm-71 1h2v2h-2zm45 0h2v2h-2zm-3 1h2v2h-2zm15 0h2v2h-2zm-49 1h2v2h-2zm77 1h2v2h-2zm-111 1h2v2h-2zm45 0h2v2h-2zm41 0h2v2h-2zm-74 1h2v2h-2zm45 1h2v2h-2zm2 0h2v2h-2zm9 0h2v2h-2zm53 0h2v2h-2z" fill="#86509a" opacity="0.75"/>
<path d="M0 0m22 1h3v3h-3zm-1 3h3v3h-3zm7 0h3v3h-3zm58 0h3v3h-3zm11 0h3v3h-3zm-74 2h3v3h-3zm2 0h3v3h-3zm73 2h3v3h-3zm21 0h3v3h-3zm-83 1h3v3h-3zm26 0h3v3h-3zm48 0h3v3h-3zm-25 1h3v3h-3zm10 0h3v3h-3zm40 0h3v3h-3zm-57 1h3v3h-3zm-69 2h3v3h-3zm86 1h3v3h-3zm-73 1h3v3h-3zm58 1h3v3h-3zm22 2h3v3h-3zm30 0h3v3h-3zm5 0h3v3h-3zm-110 1h3v3h-3zm16 2h3v3h-3zm35 0h3v3h-3zm9 0h3v3h-3zm-73 1h3v3h-3zm123 1h3v3h-3zm-89 1h3v3h-3zm19 1h3v3h-3zm-63 1h3v3h-3zm7 1h3v3h-3zm10 0h3v3h-3zm98 0h3v3h-3zm-75 1h3v3h-3zm24 0h3v3h-3zm-57 1h3v3h-3zm12 0h3v3h-3zm57 0h3v3h-3zm-25 1h3v3h-3zm22 0h3v3h-3zm28 0h3v3h-3zm24 1h3v3h-3zm-54 1h3v3h-3zm-46 2h3v3h-3zm17 2h3v3h-3zm0 0h3v3h-3zm-33 1h3v3h-3zm2 0h3v3h-3zm45 1h3v3h-3zm54 0h3v3h-3zm20 1h3v3h-3zm-121 1h3v3h-3zm41 1h3v3h-3zm64 0h3v3h-3zm-10 2h3v3h-3zm-96 1h3v3h-3zm8 0h3v3h-3zm0 1h3v3h-3zm100 0h3v3h-3zm-93 1h3v3h-3zm30 1h3v3h-3zm76 0h3v3h-3zm-49 2h3v3h-3zm-10 1h3v3h-3zm-2 2h3v3h-3zm-72 1h3v3h-3zm56 0h3v3h-3zm-30 3h3v3h-3zm7 0h3v3h-3zm82 0h3v3h-3zm20 2h3v3h-3zm9 0h3v3h-3zm-139 3h3v3h-3zm105 0h3v3h-3zm-80 1h3v3h-3zm-2 2h3v3h-3zm29 0h3v3h-3zm18 0h3v3h-3zm2 0h3v3h-3zm53 4h3v3h-3zm-59 1h3v3h-3zm14 0h3v3h-3zm28 0h3v3h-3zm-60 1h3v3h-3zm70 1h3v3h-3zm19 0h3v3h-3zm-118 1h3v3h-3zm38 0h3v3h-3zm31 0h3v3h-3zm16 0h3v3h-3zm-83 2h3v3h-3zm41 0h3v3h-3zm34 1h3v3h-3zm-21 2h3v3h-3zm10 1h3v3h-3zm17 0h3v3h-3zm25 1h3v3h-3zm-98 3h3v3h-3zm-22 1h3v3h-3zm17 0h3v3h-3zm83 1h3v3h-3zm-107 2h3v3h-3zm8 0h3v3h-3zm79 0h3v3h-3zm13 0h3v3h-3zm38 0h3v3h-3zm-102 1h3v3h-3zm67 0h3v3h-3zm-45 1h3v3h-3zm75 0h3v3h-3zm4 0h3v3h-3zm-127 2h3v3h-3zm49 1h3v3h-3zm17 0h3v3h-3zm-19 2h3v3h-3zm56 0h3v3h-3zm-1 1h3v3h-3zm-21 1h3v3h-3zm-51 2h3v3h-3zm29 0h3v3h-3zm-40 5h3v3h-3zm49 0h3v3h-3zm-66 2h3v3h-3zm112 0h3v3h-3zm2 0h3v3h-3zm-106 1h3v3h-3zm-3 1h3v3h-3zm4 0h3v3h-3zm81 0h3v3h-3zm7 1h3v3h-3zm17 1h3v3h-3zm-105 1h3v3h-3zm75 0h3v3h-3zm-93 1h3v3h-3zm18 0h3v3h-3zm22 0h3v3h-3zm-43 2h3v3h-3zm54 0h3v3h-3zm5 0h3v3h-3zm13 0h3v3h-3zm-64 1h3v3h-3zm43 0h3v3h-3zm-55 1h3v3h-3zm112 0h3v3h-3zm-105 1h3v3h-3zm2 0h3v3h-3zm74 0h3v3h-3zm61 0h3v3h-3zm-137 2h3v3h-3zm69 0h3v3h-3zm-11 1h3v3h-3zm34 0h3v3h-3zm-65 1h3v3h-3zm18 2h3v3h-3zm-50 1h3v3h-3zm117 0h3v3h-3zm-55 1h3v3h-3zm-17 2h3v3h-3zm12 1h3v3h-3zm22 1h3v3h-3zm-16 1h3v3h-3zm76 2h3v3h-3zm-34 2h3v3h-3zm18 1h3v3h-3zm-121 1h3v3h-3zm105 0h3v3h-3zm24 0h3v3h-3zm6 0h3v3h-3zm-89 2h3v3h-3zm7 3h3v3h-3zm-30 2h3v3h-3zm68 0h3v3h-3zm-52 1h3v3h-3zm37 3h3v3h-3zm-48 1h3v3h-3zm17 1h3v3h-3zm36 0h3v3h-3zm50 0h3v3h-3z" fill="#9a5e8c" opacity="0.75"/>
<path d="M0 0m28 3h3v3h-3zm94 1h3v3h-3zm11 0h3v3h-3zm-91 2h3v3h-3zm30 0h3v3h-3zm-33 1h3v3h-3zm-6 2h3v3h-3zm-15 2h3v3h-3zm86 0h3v3h-3zm-84 1h3v3h-3zm25 0h3v3h-3zm35 0h3v3h-3zm61 0h3v3h-3zm-57 1h3v3h-3zm19 0h3v3h-3zm-101 2h3v3h-3zm23 0h3v3h-3zm80 0h3v3h-3zm-66 2h3v3h-3zm6 0h3v3h-3zm47 0h3v3h-3zm52 1h3v3h-3zm-125 2h3v3h-3zm97 0h3v3h-3zm-93 3h3v3h-3zm10 0h3v3h-3zm5 0h3v3h-3zm34 0h3v3h-3zm22 1h3v3h-3zm-40 1h3v3h-3zm8 0h3v3h-3zm79 0h3v3h-3zm-111 1h3v3h-3zm48 0h3v3h-3zm-7 1h3v3h-3zm52 0h3v3h-3zm-76 1h3v3h-3zm64 2h3v3h-3zm-23 3h3v3h-3zm18 0h3v3h-3zm-14 1h3v3h-3zm-13 1h3v3h-3zm35 0h3v3h-3zm-83 1h3v3h-3zm27 0h3v3h-3zm32 0h3v3h-3zm22 0h3v3h-3zm-71 1h3v3h-3zm81 2h3v3h-3zm-118 1h3v3h-3zm140 0h3v3h-3zm-130 2h3v3h-3zm20 1h3v3h-3zm11 0h3v3h-3zm12 0h3v3h-3zm22 0h3v3h-3zm4 0h3v3h-3zm-79 1h3v3h-3zm127 0h3v3h-3zm11 0h3v3h-3zm-136 1h3v3h-3zm20 2h3v3h-3zm8 0h3v3h-3zm-24 1h3v3h-3zm1 1h3v3h-3zm-9 1h3v3h-3zm43 2h3v3h-3zm40 0h3v3h-3zm-57 3h3v3h-3zm86 0h3v3h-3zm-34 1h3v3h-3zm44 0h3v3h-3zm5 0h3v3h-3zm-67 2h3v3h-3zm47 0h3v3h-3zm-90 1h3v3h-3zm23 0h3v3h-3zm101 2h3v3h-3zm-92 1h3v3h-3zm34 0h3v3h-3zm25 0h3v3h-3zm-86 1h3v3h-3zm3 0h3v3h-3zm60 0h3v3h-3zm-14 2h3v3h-3zm-51 1h3v3h-3zm18 2h3v3h-3zm86 0h3v3h-3zm-10 1h3v3h-3zm-67 1h3v3h-3zm1 1h3v3h-3zm11 0h3v3h-3zm36 1h3v3h-3zm13 0h3v3h-3zm32 0h3v3h-3zm-102 2h3v3h-3zm40 1h3v3h-3zm55 0h3v3h-3zm8 0h3v3h-3zm-99 1h3v3h-3zm20 0h3v3h-3zm48 0h3v3h-3zm27 0h3v3h-3zm-67 1h3v3h-3zm48 0h3v3h-3zm23 2h3v3h-3zm-26 1h3v3h-3zm23 0h3v3h-3zm-118 1h3v3h-3zm47 0h3v3h-3zm17 0h3v3h-3zm-22 2h3v3h-3zm-60 1h3v3h-3zm91 0h3v3h-3zm49 0h3v3h-3zm-52 2h3v3h-3zm-11 1h3v3h-3zm-44 1h3v3h-3zm-3 1h3v3h-3zm26 0h3v3h-3zm-12 3h3v3h-3zm9 0h3v3h-3zm84 0h3v3h-3zm-8 1h3v3h-3zm-51 1h3v3h-3zm-70 1h3v3h-3zm6 0h3v3h-3zm116 0h3v3h-3zm-84 2h3v3h-3zm30 0h3v3h-3zm6 0h3v3h-3zm18 0h3v3h-3zm27 1h3v3h-3zm-110 1h3v3h-3zm100 0h3v3h-3zm-109 2h3v3h-3zm118 0h3v3h-3zm-15 1h3v3h-3zm-59 1h3v3h-3zm21 0h3v3h-3zm-45 3h3v3h-3zm57 0h3v3h-3zm57 0h3v3h-3zm-107 1h3v3h-3zm51 0h3v3h-3zm-71 1h3v3h-3zm91 2h3v3h-3zm-99 2h3v3h-3zm13 0h3v3h-3zm84 0h3v3h-3zm-44 1h3v3h-3zm67 0h3v3h-3zm13 0h3v3h-3zm-120 1h3v3h-3zm79 0h3v3h-3zm-101 1h3v3h-3zm13 1h3v3h-3zm44 0h3v3h-3zm-48 2h3v3h-3zm52 0h3v3h-3zm-1 1h3v3h-3zm20 1h3v3h-3zm46 0h3v3h-3zm-119 1h3v3h-3zm5 0h3v3h-3zm101 0h3v3h-3zm-109 1h3v3h-3zm54 0h3v3h-3zm68 0h3v3h-3zm-48 1h3v3h-3zm7 0h3v3h-3zm35 0h3v3h-3zm9 1h3v3h-3zm7 0h3v3h-3zm-132 1h3v3h-3zm16 0h3v3h-3zm121 0h3v3h-3zm-98 1h3v3h-3zm81 0h3v3h-3zm17 0h3v3h-3zm-142 1h3v3h-3zm57 0h3v3h-3zm47 0h3v3h-3zm-94 1h3v3h-3zm70 0h3v3h-3zm-15 1h3v3h-3zm34 0h3v3h-3zm42 0h3v3h-3zm-122 1h3v3h-3zm78 0h3v3h-3zm6 2h3v3h-3zm-75 1h3v3h-3zm97 1h3v3h-3zm19 0h3v3h-3zm-76 1h3v3h-3zm-26 1h3v3h-3zm49 0h3v3h-3zm2 0h3v3h-3zm26 0h3v3h-3zm4 0h3v3h-3zm16 1h3v3h-3zm-129 1h3v3h-3zm29 0h3v3h-3zm88 0h3v3h-3zm17 0h3v3h-3zm-57 1h3v3h-3zm-64 1h3v3h-3zm82 0h3v3h-3zm-97 1h3v3h-3zm91 0h3v3h-3zm-18 1h3v3h-3zm54 0h3v3h-3zm-113 1h3v3h-3zm24 0h3v3h-3zm25 0h3v3h-3zm51 1h3v3h-3zm-123 1h3v3h-3zm35 0h3v3h-3zm11 2h3v3h-3z" fill="#86509a" opacity="0.75"/>
<path d="M0 0m31 0h3v3h-3zm82 0h3v3h-3zm-59 2h3v3h-3zm70 0h3v3h-3zm4 1h3v3h-3zm-108 2h3v3h-3zm77 0h3v3h-3zm-91 1h3v3h-3zm84 0h3v3h-3zm27 2h3v3h-3zm-93 1h3v3h-3zm47 0h3v3h-3zm-60 1h3v3h-3zm0 0h3v3h-3zm10 0h3v3h-3zm4 0h3v3h-3zm8 0h3v3h-3zm27 0h3v3h-3zm14 0h3v3h-3zm37 0h3v3h-3zm-100 1h3v3h-3zm6 1h3v3h-3zm37 0h3v3h-3zm41 0h3v3h-3zm34 0h3v3h-3zm-79 2h3v3h-3zm28 0h3v3h-3zm27 0h3v3h-3zm21 0h3v3h-3zm-112 2h3v3h-3zm25 0h3v3h-3zm-5 1h3v3h-3zm84 0h3v3h-3zm7 0h3v3h-3zm-76 1h3v3h-3zm23 0h3v3h-3zm20 0h3v3h-3zm7 0h3v3h-3zm17 0h3v3h-3zm23 0h3v3h-3zm-58 1h3v3h-3zm19 0h3v3h-3zm6 0h3v3h-3zm19 0h3v3h-3zm-107 1h3v3h-3zm9 0h3v3h-3zm-25 1h3v3h-3zm72 0h3v3h-3zm3 0h3v3h-3zm66 0h3v3h-3zm-104 3h3v3h-3zm7 0h3v3h-3zm36 0h3v3h-3zm41 0h3v3h-3zm3 0h3v3h-3zm14 0h3v3h-3zm-72 1h3v3h-3zm-4 2h3v3h-3zm37 0h3v3h-3zm-58 1h3v3h-3zm20 0h3v3h-3zm72 1h3v3h-3zm-98 1h3v3h-3zm14 0h3v3h-3zm50 0h3v3h-3zm-8 1h3v3h-3zm3 0h3v3h-3zm-54 1h3v3h-3zm64 0h3v3h-3zm-26 1h3v3h-3zm13 0h3v3h-3zm-93 3h3v3h-3zm1 0h3v3h-3zm112 0h3v3h-3zm-45 1h3v3h-3zm-64 1h3v3h-3zm55 0h3v3h-3zm60 1h3v3h-3zm-106 2h3v3h-3zm87 0h3v3h-3zm-62 1h3v3h-3zm20 0h3v3h-3zm72 0h3v3h-3zm-14 2h3v3h-3zm-57 2h3v3h-3zm19 2h3v3h-3zm-23 1h3v3h-3zm67 0h3v3h-3zm5 0h3v3h-3zm-85 2h3v3h-3zm14 0h3v3h-3zm60 1h3v3h-3zm-57 1h3v3h-3zm42 0h3v3h-3zm-59 2h3v3h-3zm94 2h3v3h-3zm-9 1h3v3h-3zm-76 1h3v3h-3zm-43 1h3v3h-3zm98 0h3v3h-3zm-26 1h3v3h-3zm-77 6h3v3h-3zm125 0h3v3h-3zm4 0h3v3h-3zm-112 1h3v3h-3zm85 2h3v3h-3zm-95 1h3v3h-3zm79 1h3v3h-3zm12 0h3v3h-3zm44 0h3v3h-3zm-26 2h3v3h-3zm-97 1h3v3h-3zm84 1h3v3h-3zm13 2h3v3h-3zm-33 2h3v3h-3zm-19 1h3v3h-3zm72 0h3v3h-3zm-131 1h3v3h-3zm81 1h3v3h-3zm-85 1h3v3h-3zm44 0h3v3h-3zm-1 1h3v3h-3zm43 0h3v3h-3zm44 0h3v3h-3zm-24 1h3v3h-3zm-100 1h3v3h-3zm1 0h3v3h-3zm11 3h3v3h-3zm116 0h3v3h-3zm-133 2h3v3h-3zm35 0h3v3h-3zm8 0h3v3h-3zm36 0h3v3h-3zm-81 1h3v3h-3zm75 0h3v3h-3zm-13 1h3v3h-3zm15 1h3v3h-3zm-41 3h3v3h-3zm77 0h3v3h-3zm20 0h3v3h-3zm-118 1h3v3h-3zm33 0h3v3h-3zm73 0h3v3h-3zm-73 2h3v3h-3zm21 0h3v3h-3zm69 1h3v3h-3zm-110 3h3v3h-3zm43 1h3v3h-3zm41 0h3v3h-3zm19 1h3v3h-3zm8 0h3v3h-3zm-65 1h3v3h-3zm-28 1h3v3h-3zm11 0h3v3h-3zm75 2h3v3h-3zm-26 3h3v3h-3zm-50 2h3v3h-3zm-3 1h3v3h-3zm6 1h3v3h-3zm50 1h3v3h-3zm-107 1h3v3h-3zm83 0h3v3h-3zm-45 1h3v3h-3zm10 0h3v3h-3zm14 2h3v3h-3zm62 0h3v3h-3zm-98 1h3v3h-3zm2 0h3v3h-3zm21 0h3v3h-3zm16 1h3v3h-3zm26 1h3v3h-3zm13 2h3v3h-3zm-22 1h3v3h-3zm5 0h3v3h-3zm-29 2h3v3h-3zm35 0h3v3h-3zm14 0h3v3h-3zm17 0h3v3h-3zm2 0h3v3h-3zm-56 2h3v3h-3zm61 0h3v3h-3zm-13 2h3v3h-3zm6 0h3v3h-3zm-96 1h3v3h-3zm21 0h3v3h-3zm38 0h3v3h-3zm21 0h3v3h-3zm-86 2h3v3h-3zm15 0h3v3h-3zm23 2h3v3h-3zm-43 2h3v3h-3zm98 0h3v3h-3zm10 1h3v3h-3zm-68 1h3v3h-3zm4 0h3v3h-3zm24 2h3v3h-3zm46 1h3v3h-3z" fill="#9a5c98" opacity="0.75"/>
<path d="M0 0m27 2h3v3h-3zm36 15h3v3h-3zm3 2h3v3h-3zm47 30h3v3h-3zm-52 9h3v3h-3zm-8 1h3v3h-3zm29 7h3v3h-3zm-34 5h3v3h-3zm94 11h3v3h-3zm-82 4h3v3h-3zm80 3h3v3h-3zm0 5h3v3h-3zm-19 11h3v3h-3zm-16 4h3v3h-3zm-45 13h3v3h-3zm27 5h3v3h-3zm-68 1h3v3h-3zm-5 5h3v3h-3zm62 3h3v3h-3zm65 1h3v3h-3z" fill="#a06a5a" opacity="0.55"/>
<path d="M0 0m95 1h2v2h-2zm17 1h2v2h-2zm-33 2h2v2h-2zm45 7h2v2h-2zm13 5h2v2h-2zm-1 8h2v2h-2zm-108 6h2v2h-2zm-11 9h2v2h-2zm2 7h2v2h-2zm118 6h2v2h-2zm-94 3h2v2h-2zm-7 11h2v2h-2zm29 16h2v2h-2zm18 1h2v2h-2zm-16 14h2v2h-2zm-28 5h2v2h-2zm77 4h2v2h-2zm-95 1h2v2h-2zm73 4h2v2h-2zm-52 2h2v2h-2zm66 1h2v2h-2zm-105 2h2v2h-2zm66 3h2v2h-2zm9 4h2v2h-2zm-76 7h2v2h-2z" fill="#906050" opacity="0.55"/>
<path d="M0 0m65 9h2v2h-2zm13 18h2v2h-2zm-37 2h2v2h-2zm49 0h2v2h-2zm6 7h2v2h-2zm-73 25h2v2h-2zm-3 1h2v2h-2zm57 4h2v2h-2zm-75 8h2v2h-2zm103 39h2v2h-2zm-74 3h2v2h-2zm-29 12h2v2h-2zm48 19h2v2h-2z" fill="#a06a5a" opacity="0.55"/>
<path d="M0 0m124 1h3v3h-3zm-94 4h3v3h-3zm92 2h3v3h-3zm-73 5h3v3h-3zm65 4h3v3h-3zm-16 14h3v3h-3zm46 3h3v3h-3zm-24 2h3v3h-3zm-82 9h3v3h-3zm18 9h3v3h-3zm62 1h3v3h-3zm-100 1h3v3h-3zm52 15h3v3h-3zm-21 1h3v3h-3zm31 6h3v3h-3zm-10 9h3v3h-3zm-32 16h3v3h-3zm55 11h3v3h-3zm17 8h3v3h-3zm-55 9h3v3h-3zm85 5h3v3h-3zm-36 1h3v3h-3z" fill="#906050" opacity="0.55"/>
</g></g></g>
<g transform="translate(227.1 672.8)"><rect width="75.9" height="75" fill="#d9deeb"/><g filter="url(#soft)">
<rect width="75.9" height="75" fill="#d9deeb"/><g transform="scale(.5)">
<path d="M0 0m13 0h2v2h-2zm58 0h2v2h-2zm31 0h2v2h-2zm-88 1h2v2h-2zm14 0h2v2h-2zm29 0h2v2h-2zm9 0h2v2h-2zm5 0h2v2h-2zm40 0h2v2h-2zm-79 1h2v2h-2zm105 0h2v2h-2zm-134 1h2v2h-2zm18 0h2v2h-2zm10 0h2v2h-2zm21 0h2v2h-2zm1 0h2v2h-2zm23 0h2v2h-2zm3 0h2v2h-2zm40 0h2v2h-2zm-109 1h2v2h-2zm26 0h2v2h-2zm-29 1h2v2h-2zm25 0h2v2h-2zm26 0h2v2h-2zm65 0h2v2h-2zm-93 1h2v2h-2zm12 0h2v2h-2zm10 0h2v2h-2zm42 0h2v2h-2zm36 0h2v2h-2zm5 0h2v2h-2zm10 0h2v2h-2zm3 0h2v2h-2zm-130 1h2v2h-2zm3 0h2v2h-2zm105 0h2v2h-2zm-88 1h2v2h-2zm10 0h2v2h-2zm40 0h2v2h-2zm40 0h2v2h-2zm15 0h2v2h-2zm-99 1h2v2h-2zm47 0h2v2h-2zm47 0h2v2h-2zm5 0h2v2h-2zm-124 1h2v2h-2zm41 0h2v2h-2zm2 0h2v2h-2zm23 0h2v2h-2zm13 0h2v2h-2zm38 0h2v2h-2zm-97 1h2v2h-2zm51 0h2v2h-2zm43 0h2v2h-2zm2 0h2v2h-2zm-124 1h2v2h-2zm41 0h2v2h-2zm-46 1h2v2h-2zm57 0h2v2h-2zm40 0h2v2h-2zm10 0h2v2h-2zm-91 1h2v2h-2zm55 0h2v2h-2zm57 0h2v2h-2zm-44 1h2v2h-2zm1 0h2v2h-2zm45 0h2v2h-2zm-131 1h2v2h-2zm3 0h2v2h-2zm2 0h2v2h-2zm7 0h2v2h-2zm83 0h2v2h-2zm8 0h2v2h-2zm10 0h2v2h-2zm7 0h2v2h-2zm16 0h2v2h-2zm-98 1h2v2h-2zm72 0h2v2h-2zm-114 1h2v2h-2zm36 0h2v2h-2zm19 0h2v2h-2zm3 0h2v2h-2zm70 0h2v2h-2zm-112 1h2v2h-2zm7 0h2v2h-2zm12 0h2v2h-2zm6 0h2v2h-2zm73 0h2v2h-2zm9 0h2v2h-2zm19 0h2v2h-2zm5 0h2v2h-2zm-84 1h2v2h-2zm34 0h2v2h-2zm24 0h2v2h-2zm3 0h2v2h-2zm8 0h2v2h-2zm-53 1h2v2h-2zm60 0h2v2h-2zm0 0h2v2h-2zm7 0h2v2h-2zm-137 1h2v2h-2zm12 0h2v2h-2zm15 0h2v2h-2zm6 0h2v2h-2zm31 0h2v2h-2zm52 0h2v2h-2zm17 0h2v2h-2zm-139 1h2v2h-2zm25 0h2v2h-2zm52 0h2v2h-2zm55 0h2v2h-2zm-81 1h2v2h-2zm2 0h2v2h-2zm43 0h2v2h-2zm-42 1h2v2h-2zm6 0h2v2h-2zm59 0h2v2h-2zm-119 1h2v2h-2zm21 0h2v2h-2zm39 0h2v2h-2zm30 0h2v2h-2zm47 0h2v2h-2zm-99 1h2v2h-2zm25 0h2v2h-2zm19 0h2v2h-2zm3 0h2v2h-2zm12 0h2v2h-2zm47 0h2v2h-2zm-134 2h2v2h-2zm1 0h2v2h-2zm63 0h2v2h-2zm0 0h2v2h-2zm10 0h2v2h-2zm31 0h2v2h-2zm-119 1h2v2h-2zm1 0h2v2h-2zm73 0h2v2h-2zm41 0h2v2h-2zm9 1h2v2h-2zm-103 1h2v2h-2zm29 0h2v2h-2zm-41 1h2v2h-2zm14 0h2v2h-2zm10 0h2v2h-2zm4 0h2v2h-2zm103 0h2v2h-2zm-131 1h2v2h-2zm28 0h2v2h-2zm3 0h2v2h-2zm45 0h2v2h-2zm37 0h2v2h-2zm-82 1h2v2h-2zm17 0h2v2h-2zm-33 1h2v2h-2zm4 0h2v2h-2zm86 0h2v2h-2zm17 0h2v2h-2zm-106 1h2v2h-2zm34 0h2v2h-2zm46 0h2v2h-2zm5 0h2v2h-2zm-29 1h2v2h-2zm-32 1h2v2h-2zm6 0h2v2h-2zm-28 1h2v2h-2zm1 0h2v2h-2zm52 0h2v2h-2zm60 0h2v2h-2zm-78 1h2v2h-2zm28 0h2v2h-2zm9 0h2v2h-2zm-97 1h2v2h-2zm7 0h2v2h-2zm29 0h2v2h-2zm38 0h2v2h-2zm8 0h2v2h-2zm7 0h2v2h-2zm4 0h2v2h-2zm8 0h2v2h-2zm7 0h2v2h-2zm34 0h2v2h-2zm-134 1h2v2h-2zm12 0h2v2h-2zm14 0h2v2h-2zm16 0h2v2h-2zm66 0h2v2h-2zm-61 1h2v2h-2zm46 0h2v2h-2zm38 0h2v2h-2zm-125 1h2v2h-2zm1 0h2v2h-2zm75 0h2v2h-2zm1 0h2v2h-2zm6 0h2v2h-2zm1 0h2v2h-2zm13 0h2v2h-2zm-45 1h2v2h-2zm2 0h2v2h-2zm55 0h2v2h-2zm17 0h2v2h-2zm-122 1h2v2h-2zm15 0h2v2h-2zm31 0h2v2h-2zm55 0h2v2h-2zm0 0h2v2h-2zm-32 1h2v2h-2zm-80 1h2v2h-2zm88 0h2v2h-2zm-89 1h2v2h-2zm68 0h2v2h-2zm25 0h2v2h-2zm42 0h2v2h-2zm-77 1h2v2h-2zm34 0h2v2h-2zm25 0h2v2h-2zm21 0h2v2h-2zm-98 1h2v2h-2zm3 0h2v2h-2zm34 0h2v2h-2zm29 0h2v2h-2zm-13 1h2v2h-2zm-95 1h2v2h-2zm57 0h2v2h-2zm18 0h2v2h-2zm6 0h2v2h-2zm27 0h2v2h-2zm35 0h2v2h-2zm-80 1h2v2h-2zm5 0h2v2h-2zm25 0h2v2h-2zm6 0h2v2h-2zm-66 1h2v2h-2zm28 0h2v2h-2zm34 0h2v2h-2zm10 0h2v2h-2zm3 0h2v2h-2zm31 0h2v2h-2zm-145 1h2v2h-2zm34 0h2v2h-2zm51 0h2v2h-2zm52 0h2v2h-2zm-87 1h2v2h-2zm21 0h2v2h-2zm9 0h2v2h-2zm64 0h2v2h-2zm-111 1h2v2h-2zm112 0h2v2h-2zm-99 1h2v2h-2zm63 0h2v2h-2zm-41 1h2v2h-2zm30 0h2v2h-2zm33 0h2v2h-2zm-124 1h2v2h-2zm106 0h2v2h-2zm33 0h2v2h-2zm-75 1h2v2h-2zm28 0h2v2h-2zm6 0h2v2h-2zm43 0h2v2h-2zm-141 1h2v2h-2zm127 0h2v2h-2zm-69 1h2v2h-2zm11 0h2v2h-2zm38 0h2v2h-2zm34 0h2v2h-2zm-88 1h2v2h-2zm31 0h2v2h-2zm6 0h2v2h-2zm2 0h2v2h-2zm43 0h2v2h-2zm-97 1h2v2h-2zm16 0h2v2h-2zm11 0h2v2h-2zm22 0h2v2h-2zm-57 1h2v2h-2zm19 0h2v2h-2zm41 0h2v2h-2zm-93 1h2v2h-2zm8 0h2v2h-2zm1 0h2v2h-2zm33 0h2v2h-2zm59 0h2v2h-2zm14 0h2v2h-2zm-101 2h2v2h-2zm28 0h2v2h-2zm15 0h2v2h-2zm73 0h2v2h-2zm8 0h2v2h-2zm4 0h2v2h-2zm-107 1h2v2h-2zm1 0h2v2h-2zm87 0h2v2h-2zm-98 1h2v2h-2zm3 0h2v2h-2zm1 0h2v2h-2zm50 0h2v2h-2zm8 0h2v2h-2zm7 0h2v2h-2zm4 0h2v2h-2zm3 0h2v2h-2zm-105 1h2v2h-2zm61 0h2v2h-2zm52 0h2v2h-2zm-84 1h2v2h-2zm3 0h2v2h-2zm13 0h2v2h-2zm21 0h2v2h-2zm53 0h2v2h-2zm2 0h2v2h-2zm4 0h2v2h-2zm21 0h2v2h-2zm-80 1h2v2h-2zm-35 1h2v2h-2zm74 0h2v2h-2zm15 0h2v2h-2zm-61 1h2v2h-2zm4 0h2v2h-2zm0 0h2v2h-2zm12 0h2v2h-2zm37 0h2v2h-2zm12 0h2v2h-2zm-60 1h2v2h-2zm-44 1h2v2h-2zm-6 1h2v2h-2zm64 0h2v2h-2zm33 0h2v2h-2zm8 0h2v2h-2zm24 0h2v2h-2zm-130 1h2v2h-2zm55 0h2v2h-2zm44 0h2v2h-2zm1 0h2v2h-2zm15 0h2v2h-2zm-94 1h2v2h-2zm24 0h2v2h-2zm3 0h2v2h-2zm17 0h2v2h-2zm58 0h2v2h-2zm-121 1h2v2h-2zm67 0h2v2h-2zm37 0h2v2h-2zm-110 1h2v2h-2zm80 0h2v2h-2zm6 0h2v2h-2zm-78 1h2v2h-2zm58 0h2v2h-2zm16 0h2v2h-2zm-84 1h2v2h-2zm51 0h2v2h-2zm8 0h2v2h-2zm-61 1h2v2h-2zm25 0h2v2h-2zm0 0h2v2h-2zm29 0h2v2h-2zm84 0h2v2h-2zm-134 1h2v2h-2zm8 0h2v2h-2zm19 0h2v2h-2zm37 0h2v2h-2zm-32 1h2v2h-2zm36 0h2v2h-2zm39 0h2v2h-2zm24 0h2v2h-2zm-79 1h2v2h-2zm35 0h2v2h-2zm6 0h2v2h-2zm14 0h2v2h-2zm9 0h2v2h-2zm-77 1h2v2h-2zm8 0h2v2h-2zm52 0h2v2h-2zm-101 1h2v2h-2zm2 0h2v2h-2zm103 0h2v2h-2zm-107 1h2v2h-2zm19 0h2v2h-2zm12 0h2v2h-2zm68 0h2v2h-2zm30 0h2v2h-2zm-132 1h2v2h-2zm108 0h2v2h-2zm-91 1h2v2h-2zm8 0h2v2h-2zm47 0h2v2h-2zm21 0h2v2h-2zm-82 1h2v2h-2zm29 0h2v2h-2zm30 0h2v2h-2zm76 0h2v2h-2zm-128 1h2v2h-2zm19 0h2v2h-2zm1 0h2v2h-2zm2 0h2v2h-2zm48 0h2v2h-2zm1 0h2v2h-2zm-91 1h2v2h-2zm7 0h2v2h-2zm10 0h2v2h-2zm2 0h2v2h-2zm70 0h2v2h-2zm35 0h2v2h-2zm-87 1h2v2h-2zm51 0h2v2h-2zm12 0h2v2h-2zm7 0h2v2h-2zm16 0h2v2h-2zm22 0h2v2h-2zm-143 1h2v2h-2zm51 0h2v2h-2zm44 0h2v2h-2zm7 0h2v2h-2zm-68 1h2v2h-2zm73 0h2v2h-2zm8 0h2v2h-2zm-103 1h2v2h-2zm3 0h2v2h-2zm94 0h2v2h-2zm-110 1h2v2h-2zm39 0h2v2h-2zm44 0h2v2h-2zm23 0h2v2h-2zm-102 1h2v2h-2zm17 0h2v2h-2zm82 0h2v2h-2zm6 0h2v2h-2zm9 0h2v2h-2zm25 0h2v2h-2zm-89 1h2v2h-2zm24 0h2v2h-2zm12 0h2v2h-2zm13 0h2v2h-2zm19 0h2v2h-2zm-50 1h2v2h-2zm19 1h2v2h-2zm34 0h2v2h-2zm20 0h2v2h-2zm-138 1h2v2h-2zm53 0h2v2h-2zm3 0h2v2h-2zm12 0h2v2h-2zm11 0h2v2h-2zm-2 1h2v2h-2zm-39 1h2v2h-2zm7 0h2v2h-2zm55 0h2v2h-2zm7 0h2v2h-2zm7 0h2v2h-2zm8 0h2v2h-2zm17 0h2v2h-2zm-105 1h2v2h-2zm7 0h2v2h-2zm11 0h2v2h-2zm16 0h2v2h-2zm15 0h2v2h-2zm-88 1h2v2h-2zm11 0h2v2h-2zm32 0h2v2h-2zm8 0h2v2h-2zm28 0h2v2h-2zm59 0h2v2h-2zm-136 1h2v2h-2zm11 1h2v2h-2zm39 0h2v2h-2zm64 0h2v2h-2zm-49 1h2v2h-2zm44 0h2v2h-2zm3 0h2v2h-2zm12 0h2v2h-2zm13 0h2v2h-2zm4 0h2v2h-2zm-98 1h2v2h-2zm48 0h2v2h-2zm-94 1h2v2h-2zm54 0h2v2h-2zm43 0h2v2h-2zm5 0h2v2h-2zm7 0h2v2h-2zm12 0h2v2h-2zm10 0h2v2h-2zm-118 1h2v2h-2zm25 0h2v2h-2zm-10 1h2v2h-2zm37 0h2v2h-2zm8 0h2v2h-2zm38 0h2v2h-2zm2 0h2v2h-2zm-86 1h2v2h-2zm14 0h2v2h-2zm1 0h2v2h-2zm47 0h2v2h-2zm40 0h2v2h-2zm4 0h2v2h-2zm11 0h2v2h-2zm-127 1h2v2h-2zm101 0h2v2h-2zm10 0h2v2h-2zm-120 1h2v2h-2zm23 0h2v2h-2zm36 0h2v2h-2zm19 0h2v2h-2zm9 0h2v2h-2zm-76 1h2v2h-2zm43 0h2v2h-2zm-61 1h2v2h-2zm31 0h2v2h-2zm55 0h2v2h-2zm46 0h2v2h-2zm13 0h2v2h-2zm-42 1h2v2h-2zm3 0h2v2h-2zm-16 1h2v2h-2zm40 0h2v2h-2zm7 0h2v2h-2zm-138 1h2v2h-2zm35 0h2v2h-2zm58 0h2v2h-2zm30 0h2v2h-2zm7 0h2v2h-2zm-20 1h2v2h-2zm1 0h2v2h-2zm2 0h2v2h-2zm5 0h2v2h-2zm-64 1h2v2h-2zm-54 2h2v2h-2zm62 0h2v2h-2zm63 0h2v2h-2zm18 0h2v2h-2zm-123 1h2v2h-2zm52 0h2v2h-2zm3 0h2v2h-2zm17 0h2v2h-2zm-87 1h2v2h-2zm17 0h2v2h-2zm2 0h2v2h-2zm5 0h2v2h-2zm30 0h2v2h-2zm47 0h2v2h-2zm1 0h2v2h-2zm2 0h2v2h-2zm-58 1h2v2h-2zm48 0h2v2h-2zm39 0h2v2h-2zm-134 1h2v2h-2zm16 0h2v2h-2zm40 0h2v2h-2zm44 0h2v2h-2zm-96 1h2v2h-2zm57 0h2v2h-2zm19 0h2v2h-2zm6 0h2v2h-2zm-79 1h2v2h-2zm108 0h2v2h-2zm-98 1h2v2h-2zm34 0h2v2h-2zm10 0h2v2h-2zm68 0h2v2h-2zm-81 1h2v2h-2zm23 0h2v2h-2zm9 0h2v2h-2zm12 0h2v2h-2zm-70 1h2v2h-2zm18 0h2v2h-2zm15 0h2v2h-2zm37 0h2v2h-2zm48 1h2v2h-2zm-126 1h2v2h-2zm20 0h2v2h-2zm63 0h2v2h-2zm3 0h2v2h-2zm28 0h2v2h-2zm11 0h2v2h-2zm-137 1h2v2h-2zm28 0h2v2h-2zm14 0h2v2h-2zm0 0h2v2h-2zm26 0h2v2h-2zm-63 1h2v2h-2zm31 0h2v2h-2zm75 0h2v2h-2zm5 0h2v2h-2zm-23 1h2v2h-2zm41 0h2v2h-2zm-134 1h2v2h-2zm45 0h2v2h-2zm29 0h2v2h-2zm2 0h2v2h-2zm42 0h2v2h-2zm-42 1h2v2h-2zm54 0h2v2h-2z" fill="#8086b2" opacity="0.62"/>
<path d="M0 0m34 0h2v2h-2zm42 0h2v2h-2zm-57 1h2v2h-2zm7 0h2v2h-2zm39 0h2v2h-2zm1 0h2v2h-2zm-28 1h2v2h-2zm61 0h2v2h-2zm-79 1h2v2h-2zm63 0h2v2h-2zm58 0h2v2h-2zm1 0h2v2h-2zm-108 1h2v2h-2zm36 0h2v2h-2zm48 0h2v2h-2zm5 0h2v2h-2zm7 0h2v2h-2zm-34 1h2v2h-2zm22 0h2v2h-2zm0 0h2v2h-2zm-82 1h2v2h-2zm73 0h2v2h-2zm7 0h2v2h-2zm22 0h2v2h-2zm-138 1h2v2h-2zm19 0h2v2h-2zm-9 1h2v2h-2zm42 0h2v2h-2zm18 0h2v2h-2zm6 1h2v2h-2zm48 0h2v2h-2zm11 0h2v2h-2zm11 0h2v2h-2zm-119 1h2v2h-2zm-24 1h2v2h-2zm32 0h2v2h-2zm31 0h2v2h-2zm1 0h2v2h-2zm23 0h2v2h-2zm11 0h2v2h-2zm5 0h2v2h-2zm16 0h2v2h-2zm-113 1h2v2h-2zm93 0h2v2h-2zm32 0h2v2h-2zm3 0h2v2h-2zm-137 1h2v2h-2zm24 0h2v2h-2zm120 0h2v2h-2zm-42 1h2v2h-2zm3 0h2v2h-2zm-95 1h2v2h-2zm37 0h2v2h-2zm27 0h2v2h-2zm39 0h2v2h-2zm-106 1h2v2h-2zm9 0h2v2h-2zm91 0h2v2h-2zm6 0h2v2h-2zm15 0h2v2h-2zm3 0h2v2h-2zm-127 1h2v2h-2zm57 0h2v2h-2zm-60 1h2v2h-2zm15 0h2v2h-2zm14 0h2v2h-2zm9 0h2v2h-2zm41 0h2v2h-2zm6 0h2v2h-2zm12 0h2v2h-2zm-88 1h2v2h-2zm4 0h2v2h-2zm7 0h2v2h-2zm105 0h2v2h-2zm-111 1h2v2h-2zm14 0h2v2h-2zm1 0h2v2h-2zm-7 1h2v2h-2zm44 0h2v2h-2zm74 0h2v2h-2zm-121 1h2v2h-2zm4 0h2v2h-2zm63 0h2v2h-2zm9 0h2v2h-2zm17 0h2v2h-2zm-104 1h2v2h-2zm18 0h2v2h-2zm8 0h2v2h-2zm22 0h2v2h-2zm9 0h2v2h-2zm2 0h2v2h-2zm-57 1h2v2h-2zm37 0h2v2h-2zm7 0h2v2h-2zm49 0h2v2h-2zm3 0h2v2h-2zm3 0h2v2h-2zm-52 1h2v2h-2zm29 0h2v2h-2zm-44 1h2v2h-2zm5 0h2v2h-2zm11 0h2v2h-2zm10 0h2v2h-2zm12 0h2v2h-2zm2 0h2v2h-2zm25 0h2v2h-2zm9 0h2v2h-2zm10 0h2v2h-2zm-87 1h2v2h-2zm11 0h2v2h-2zm-3 1h2v2h-2zm16 0h2v2h-2zm1 0h2v2h-2zm28 0h2v2h-2zm36 0h2v2h-2zm-123 1h2v2h-2zm36 0h2v2h-2zm24 0h2v2h-2zm-33 1h2v2h-2zm13 0h2v2h-2zm25 0h2v2h-2zm5 0h2v2h-2zm-73 1h2v2h-2zm49 0h2v2h-2zm14 0h2v2h-2zm20 0h2v2h-2zm24 0h2v2h-2zm-79 1h2v2h-2zm13 0h2v2h-2zm35 0h2v2h-2zm45 0h2v2h-2zm11 0h2v2h-2zm-66 1h2v2h-2zm18 0h2v2h-2zm8 0h2v2h-2zm-80 1h2v2h-2zm48 0h2v2h-2zm70 0h2v2h-2zm-126 1h2v2h-2zm110 0h2v2h-2zm26 0h2v2h-2zm-129 1h2v2h-2zm120 0h2v2h-2zm-125 1h2v2h-2zm56 0h2v2h-2zm22 1h2v2h-2zm0 0h2v2h-2zm35 0h2v2h-2zm-29 1h2v2h-2zm26 0h2v2h-2zm-113 1h2v2h-2zm5 0h2v2h-2zm56 0h2v2h-2zm16 0h2v2h-2zm24 1h2v2h-2zm40 0h2v2h-2zm-135 1h2v2h-2zm18 0h2v2h-2zm67 0h2v2h-2zm31 0h2v2h-2zm-125 1h2v2h-2zm7 0h2v2h-2zm52 0h2v2h-2zm13 0h2v2h-2zm29 0h2v2h-2zm22 0h2v2h-2zm14 0h2v2h-2zm-54 1h2v2h-2zm43 0h2v2h-2zm-6 1h2v2h-2zm-11 1h2v2h-2zm-101 1h2v2h-2zm80 0h2v2h-2zm2 0h2v2h-2zm-60 3h2v2h-2zm67 0h2v2h-2zm-65 1h2v2h-2zm19 0h2v2h-2zm40 0h2v2h-2zm31 0h2v2h-2zm-63 1h2v2h-2zm23 0h2v2h-2zm20 0h2v2h-2zm0 0h2v2h-2zm-34 1h2v2h-2zm4 0h2v2h-2zm-24 1h2v2h-2zm26 0h2v2h-2zm22 0h2v2h-2zm26 0h2v2h-2zm3 0h2v2h-2zm9 0h2v2h-2zm-88 1h2v2h-2zm16 0h2v2h-2zm8 0h2v2h-2zm-69 1h2v2h-2zm65 0h2v2h-2zm22 0h2v2h-2zm41 0h2v2h-2zm-42 1h2v2h-2zm8 0h2v2h-2zm27 0h2v2h-2zm2 0h2v2h-2zm-127 1h2v2h-2zm15 0h2v2h-2zm1 0h2v2h-2zm3 0h2v2h-2zm15 0h2v2h-2zm9 0h2v2h-2zm12 0h2v2h-2zm1 0h2v2h-2zm24 0h2v2h-2zm34 0h2v2h-2zm31 0h2v2h-2zm-76 1h2v2h-2zm-57 1h2v2h-2zm46 0h2v2h-2zm8 0h2v2h-2zm42 0h2v2h-2zm35 0h2v2h-2zm-137 1h2v2h-2zm20 0h2v2h-2zm58 0h2v2h-2zm51 0h2v2h-2zm9 0h2v2h-2zm-144 1h2v2h-2zm1 0h2v2h-2zm1 0h2v2h-2zm50 0h2v2h-2zm44 0h2v2h-2zm20 0h2v2h-2zm1 0h2v2h-2zm0 0h2v2h-2zm-116 1h2v2h-2zm13 0h2v2h-2zm47 0h2v2h-2zm31 0h2v2h-2zm-91 1h2v2h-2zm48 0h2v2h-2zm-23 1h2v2h-2zm0 1h2v2h-2zm54 0h2v2h-2zm1 0h2v2h-2zm16 0h2v2h-2zm-34 1h2v2h-2zm1 0h2v2h-2zm20 0h2v2h-2zm47 0h2v2h-2zm6 1h2v2h-2zm10 0h2v2h-2zm-83 1h2v2h-2zm67 0h2v2h-2zm-112 1h2v2h-2zm28 0h2v2h-2zm96 0h2v2h-2zm1 0h2v2h-2zm-142 1h2v2h-2zm24 1h2v2h-2zm55 0h2v2h-2zm41 0h2v2h-2zm1 0h2v2h-2zm-123 1h2v2h-2zm4 0h2v2h-2zm27 0h2v2h-2zm79 0h2v2h-2zm24 0h2v2h-2zm-113 1h2v2h-2zm48 0h2v2h-2zm79 0h2v2h-2zm-111 1h2v2h-2zm9 0h2v2h-2zm42 0h2v2h-2zm2 0h2v2h-2zm56 0h2v2h-2zm-72 1h2v2h-2zm-40 1h2v2h-2zm-16 1h2v2h-2zm0 0h2v2h-2zm31 0h2v2h-2zm16 0h2v2h-2zm11 0h2v2h-2zm11 0h2v2h-2zm28 0h2v2h-2zm24 0h2v2h-2zm-103 1h2v2h-2zm14 0h2v2h-2zm17 0h2v2h-2zm19 0h2v2h-2zm-7 1h2v2h-2zm47 0h2v2h-2zm-97 1h2v2h-2zm-9 1h2v2h-2zm50 0h2v2h-2zm-59 1h2v2h-2zm38 0h2v2h-2zm66 0h2v2h-2zm-115 2h2v2h-2zm75 0h2v2h-2zm5 0h2v2h-2zm54 0h2v2h-2zm-124 2h2v2h-2zm102 0h2v2h-2zm15 0h2v2h-2zm-13 1h2v2h-2zm2 0h2v2h-2zm5 0h2v2h-2zm-93 1h2v2h-2zm12 0h2v2h-2zm5 0h2v2h-2zm13 0h2v2h-2zm1 0h2v2h-2zm33 0h2v2h-2zm1 0h2v2h-2zm14 0h2v2h-2zm-94 1h2v2h-2zm1 0h2v2h-2zm-2 1h2v2h-2zm17 0h2v2h-2zm19 0h2v2h-2zm20 0h2v2h-2zm32 0h2v2h-2zm17 0h2v2h-2zm21 0h2v2h-2zm4 0h2v2h-2zm-121 1h2v2h-2zm6 0h2v2h-2zm87 0h2v2h-2zm-109 1h2v2h-2zm8 0h2v2h-2zm1 0h2v2h-2zm102 0h2v2h-2zm9 0h2v2h-2zm-43 1h2v2h-2zm60 0h2v2h-2zm-134 1h2v2h-2zm18 0h2v2h-2zm108 0h2v2h-2zm-73 1h2v2h-2zm35 0h2v2h-2zm1 0h2v2h-2zm-75 1h2v2h-2zm39 0h2v2h-2zm63 0h2v2h-2zm13 0h2v2h-2zm2 0h2v2h-2zm8 0h2v2h-2zm-102 1h2v2h-2zm11 0h2v2h-2zm24 0h2v2h-2zm41 0h2v2h-2zm17 0h2v2h-2zm-105 1h2v2h-2zm97 0h2v2h-2zm-113 1h2v2h-2zm31 0h2v2h-2zm16 0h2v2h-2zm4 0h2v2h-2zm4 0h2v2h-2zm13 0h2v2h-2zm33 0h2v2h-2zm-93 1h2v2h-2zm33 0h2v2h-2zm13 0h2v2h-2zm32 0h2v2h-2zm43 0h2v2h-2zm-108 1h2v2h-2zm41 0h2v2h-2zm17 0h2v2h-2zm11 0h2v2h-2zm5 0h2v2h-2zm-108 1h2v2h-2zm20 0h2v2h-2zm50 0h2v2h-2zm-22 1h2v2h-2zm13 0h2v2h-2zm49 0h2v2h-2zm35 0h2v2h-2zm-127 1h2v2h-2zm122 0h2v2h-2zm-143 1h2v2h-2zm2 0h2v2h-2zm1 0h2v2h-2zm28 0h2v2h-2zm17 0h2v2h-2zm26 0h2v2h-2zm17 0h2v2h-2zm2 0h2v2h-2zm1 0h2v2h-2zm17 0h2v2h-2zm5 0h2v2h-2zm32 0h2v2h-2zm-137 1h2v2h-2zm82 0h2v2h-2zm14 0h2v2h-2zm20 0h2v2h-2zm-79 1h2v2h-2zm28 0h2v2h-2zm49 0h2v2h-2zm2 0h2v2h-2zm8 0h2v2h-2zm-54 1h2v2h-2zm37 0h2v2h-2zm-116 1h2v2h-2zm121 1h2v2h-2zm-60 1h2v2h-2zm-10 1h2v2h-2zm11 0h2v2h-2zm49 0h2v2h-2zm5 0h2v2h-2zm18 0h2v2h-2zm-62 1h2v2h-2zm11 0h2v2h-2zm-79 1h2v2h-2zm71 0h2v2h-2zm12 0h2v2h-2zm2 0h2v2h-2zm6 0h2v2h-2zm-30 1h2v2h-2zm50 0h2v2h-2zm17 0h2v2h-2zm-110 1h2v2h-2zm62 0h2v2h-2zm0 0h2v2h-2zm17 0h2v2h-2zm15 0h2v2h-2zm5 0h2v2h-2zm-97 1h2v2h-2zm37 0h2v2h-2zm16 0h2v2h-2zm18 0h2v2h-2zm-19 1h2v2h-2zm21 0h2v2h-2zm27 0h2v2h-2zm7 0h2v2h-2zm8 0h2v2h-2zm-86 1h2v2h-2zm-9 1h2v2h-2zm49 0h2v2h-2zm7 0h2v2h-2zm23 0h2v2h-2zm7 1h2v2h-2zm7 0h2v2h-2zm-78 1h2v2h-2zm37 0h2v2h-2zm20 0h2v2h-2zm22 0h2v2h-2zm-81 1h2v2h-2zm0 0h2v2h-2zm47 0h2v2h-2zm22 0h2v2h-2zm-107 1h2v2h-2zm5 0h2v2h-2zm42 0h2v2h-2zm22 0h2v2h-2zm19 0h2v2h-2zm5 0h2v2h-2zm11 0h2v2h-2zm18 0h2v2h-2zm-122 1h2v2h-2zm26 0h2v2h-2zm16 0h2v2h-2zm39 0h2v2h-2zm-99 1h2v2h-2zm40 0h2v2h-2zm52 0h2v2h-2zm34 0h2v2h-2zm-59 1h2v2h-2zm23 0h2v2h-2zm-46 1h2v2h-2zm48 0h2v2h-2zm36 0h2v2h-2zm-121 1h2v2h-2zm9 0h2v2h-2zm5 0h2v2h-2zm36 0h2v2h-2zm18 0h2v2h-2zm25 0h2v2h-2zm-17 1h2v2h-2zm38 0h2v2h-2zm-36 1h2v2h-2zm-78 1h2v2h-2zm33 0h2v2h-2zm7 0h2v2h-2zm-23 1h2v2h-2zm12 0h2v2h-2zm70 0h2v2h-2zm17 0h2v2h-2zm8 0h2v2h-2zm-133 1h2v2h-2zm17 0h2v2h-2zm17 0h2v2h-2zm24 0h2v2h-2zm16 0h2v2h-2zm10 0h2v2h-2zm-84 1h2v2h-2zm31 0h2v2h-2zm3 0h2v2h-2zm100 0h2v2h-2zm-120 1h2v2h-2zm14 0h2v2h-2zm19 0h2v2h-2zm7 0h2v2h-2zm17 0h2v2h-2zm1 0h2v2h-2zm21 0h2v2h-2zm3 0h2v2h-2zm-98 1h2v2h-2zm19 0h2v2h-2zm7 0h2v2h-2zm8 0h2v2h-2zm39 0h2v2h-2zm47 0h2v2h-2zm8 0h2v2h-2zm20 0h2v2h-2zm-136 1h2v2h-2zm19 0h2v2h-2zm110 0h2v2h-2zm3 0h2v2h-2zm-133 1h2v2h-2zm121 0h2v2h-2zm0 0h2v2h-2zm-72 1h2v2h-2zm81 0h2v2h-2zm1 0h2v2h-2zm-116 1h2v2h-2zm34 0h2v2h-2zm24 0h2v2h-2zm49 1h2v2h-2zm-11 1h2v2h-2zm21 0h2v2h-2zm-94 1h2v2h-2zm18 0h2v2h-2zm25 0h2v2h-2zm-71 1h2v2h-2zm78 0h2v2h-2zm30 0h2v2h-2zm5 0h2v2h-2zm-124 1h2v2h-2zm29 0h2v2h-2zm9 0h2v2h-2zm35 0h2v2h-2zm51 0h2v2h-2zm1 0h2v2h-2zm2 0h2v2h-2zm5 0h2v2h-2zm-83 1h2v2h-2zm24 0h2v2h-2zm39 0h2v2h-2z" fill="#8a90bc" opacity="0.62"/>
<path d="M0 0m46 0h2v2h-2zm-19 1h2v2h-2zm18 0h2v2h-2zm16 0h2v2h-2zm54 0h2v2h-2zm-71 1h2v2h-2zm8 0h2v2h-2zm-33 1h2v2h-2zm38 0h2v2h-2zm33 0h2v2h-2zm-2 1h2v2h-2zm13 0h2v2h-2zm10 0h2v2h-2zm28 0h2v2h-2zm-84 1h2v2h-2zm22 1h2v2h-2zm25 0h2v2h-2zm43 0h2v2h-2zm-120 1h2v2h-2zm66 0h2v2h-2zm-90 1h2v2h-2zm95 0h2v2h-2zm42 0h2v2h-2zm8 0h2v2h-2zm1 0h2v2h-2zm-133 1h2v2h-2zm23 0h2v2h-2zm17 0h2v2h-2zm40 0h2v2h-2zm-94 1h2v2h-2zm2 0h2v2h-2zm58 0h2v2h-2zm27 0h2v2h-2zm54 0h2v2h-2zm-113 1h2v2h-2zm11 0h2v2h-2zm71 0h2v2h-2zm15 0h2v2h-2zm13 0h2v2h-2zm-119 1h2v2h-2zm1 1h2v2h-2zm17 0h2v2h-2zm30 0h2v2h-2zm26 0h2v2h-2zm24 0h2v2h-2zm-101 1h2v2h-2zm13 0h2v2h-2zm97 0h2v2h-2zm-107 1h2v2h-2zm11 0h2v2h-2zm12 0h2v2h-2zm82 0h2v2h-2zm1 0h2v2h-2zm1 0h2v2h-2zm1 0h2v2h-2zm-106 1h2v2h-2zm34 0h2v2h-2zm38 0h2v2h-2zm10 0h2v2h-2zm-94 1h2v2h-2zm57 0h2v2h-2zm30 0h2v2h-2zm47 0h2v2h-2zm-38 1h2v2h-2zm-45 1h2v2h-2zm29 0h2v2h-2zm36 0h2v2h-2zm19 0h2v2h-2zm-137 1h2v2h-2zm27 0h2v2h-2zm4 1h2v2h-2zm54 0h2v2h-2zm-89 1h2v2h-2zm47 0h2v2h-2zm45 1h2v2h-2zm31 0h2v2h-2zm-75 1h2v2h-2zm4 0h2v2h-2zm5 0h2v2h-2zm54 0h2v2h-2zm34 0h2v2h-2zm-145 1h2v2h-2zm27 0h2v2h-2zm80 0h2v2h-2zm0 0h2v2h-2zm-63 1h2v2h-2zm1 0h2v2h-2zm21 1h2v2h-2zm61 0h2v2h-2zm-102 1h2v2h-2zm31 0h2v2h-2zm5 0h2v2h-2zm13 0h2v2h-2zm20 0h2v2h-2zm28 0h2v2h-2zm12 0h2v2h-2zm-6 1h2v2h-2zm-89 1h2v2h-2zm25 0h2v2h-2zm-19 1h2v2h-2zm-9 1h2v2h-2zm39 0h2v2h-2zm48 0h2v2h-2zm9 0h2v2h-2zm-75 1h2v2h-2zm60 0h2v2h-2zm25 0h2v2h-2zm-144 1h2v2h-2zm17 0h2v2h-2zm12 0h2v2h-2zm13 0h2v2h-2zm3 0h2v2h-2zm75 0h2v2h-2zm-65 1h2v2h-2zm12 0h2v2h-2zm6 0h2v2h-2zm51 0h2v2h-2zm7 0h2v2h-2zm7 0h2v2h-2zm-108 1h2v2h-2zm48 0h2v2h-2zm2 0h2v2h-2zm13 0h2v2h-2zm-59 1h2v2h-2zm46 0h2v2h-2zm18 1h2v2h-2zm-28 1h2v2h-2zm18 0h2v2h-2zm35 0h2v2h-2zm14 0h2v2h-2zm-133 1h2v2h-2zm37 0h2v2h-2zm1 0h2v2h-2zm52 0h2v2h-2zm2 0h2v2h-2zm20 0h2v2h-2zm19 1h2v2h-2zm-37 1h2v2h-2zm22 0h2v2h-2zm8 0h2v2h-2zm-117 1h2v2h-2zm40 0h2v2h-2zm31 0h2v2h-2zm8 0h2v2h-2zm51 0h2v2h-2zm-126 1h2v2h-2zm50 0h2v2h-2zm11 0h2v2h-2zm18 0h2v2h-2zm-83 1h2v2h-2zm2 0h2v2h-2zm101 0h2v2h-2zm16 0h2v2h-2zm3 0h2v2h-2zm10 0h2v2h-2zm-86 1h2v2h-2zm-6 1h2v2h-2zm64 0h2v2h-2zm26 0h2v2h-2zm-134 1h2v2h-2zm106 0h2v2h-2zm-83 1h2v2h-2zm39 0h2v2h-2zm19 0h2v2h-2zm6 0h2v2h-2zm25 0h2v2h-2zm-102 1h2v2h-2zm92 0h2v2h-2zm28 0h2v2h-2zm-118 1h2v2h-2zm19 0h2v2h-2zm83 0h2v2h-2zm8 0h2v2h-2zm12 0h2v2h-2zm-130 1h2v2h-2zm8 0h2v2h-2zm3 0h2v2h-2zm20 0h2v2h-2zm4 0h2v2h-2zm5 0h2v2h-2zm89 0h2v2h-2zm-126 1h2v2h-2zm16 0h2v2h-2zm62 0h2v2h-2zm55 0h2v2h-2zm-122 1h2v2h-2zm78 0h2v2h-2zm4 0h2v2h-2zm6 1h2v2h-2zm-103 1h2v2h-2zm40 0h2v2h-2zm49 0h2v2h-2zm-37 1h2v2h-2zm1 0h2v2h-2zm-58 1h2v2h-2zm42 0h2v2h-2zm16 0h2v2h-2zm8 0h2v2h-2zm3 1h2v2h-2zm33 0h2v2h-2zm33 0h2v2h-2zm4 0h2v2h-2zm-92 1h2v2h-2zm11 0h2v2h-2zm2 0h2v2h-2zm10 0h2v2h-2zm24 0h2v2h-2zm11 0h2v2h-2zm7 0h2v2h-2zm-110 1h2v2h-2zm47 0h2v2h-2zm15 0h2v2h-2zm75 0h2v2h-2zm-113 1h2v2h-2zm100 0h2v2h-2zm2 0h2v2h-2zm11 0h2v2h-2zm-64 1h2v2h-2zm14 0h2v2h-2zm48 0h2v2h-2zm-135 1h2v2h-2zm0 0h2v2h-2zm23 0h2v2h-2zm75 0h2v2h-2zm10 0h2v2h-2zm-104 1h2v2h-2zm58 0h2v2h-2zm37 0h2v2h-2zm2 0h2v2h-2zm12 0h2v2h-2zm21 0h2v2h-2zm-124 1h2v2h-2zm122 0h2v2h-2zm-76 1h2v2h-2zm10 0h2v2h-2zm16 0h2v2h-2zm55 0h2v2h-2zm-63 1h2v2h-2zm65 0h2v2h-2zm1 0h2v2h-2zm-111 1h2v2h-2zm78 0h2v2h-2zm-100 1h2v2h-2zm93 0h2v2h-2zm30 0h2v2h-2zm-59 1h2v2h-2zm40 0h2v2h-2zm-72 1h2v2h-2zm4 0h2v2h-2zm-40 2h2v2h-2zm18 0h2v2h-2zm43 0h2v2h-2zm50 0h2v2h-2zm-121 1h2v2h-2zm139 0h2v2h-2zm-112 1h2v2h-2zm37 0h2v2h-2zm37 0h2v2h-2zm20 0h2v2h-2zm10 0h2v2h-2zm-77 1h2v2h-2zm45 0h2v2h-2zm-78 1h2v2h-2zm66 0h2v2h-2zm-20 1h2v2h-2zm7 0h2v2h-2zm20 0h2v2h-2zm5 0h2v2h-2zm27 0h2v2h-2zm19 0h2v2h-2zm-58 1h2v2h-2zm3 0h2v2h-2zm18 1h2v2h-2zm-89 1h2v2h-2zm94 0h2v2h-2zm35 0h2v2h-2zm-127 1h2v2h-2zm26 0h2v2h-2zm93 0h2v2h-2zm-129 1h2v2h-2zm135 0h2v2h-2zm-136 1h2v2h-2zm18 0h2v2h-2zm29 0h2v2h-2zm2 0h2v2h-2zm10 0h2v2h-2zm5 0h2v2h-2zm55 0h2v2h-2zm-124 1h2v2h-2zm20 0h2v2h-2zm4 0h2v2h-2zm32 0h2v2h-2zm0 0h2v2h-2zm76 1h2v2h-2zm-107 1h2v2h-2zm16 0h2v2h-2zm41 0h2v2h-2zm14 0h2v2h-2zm-87 1h2v2h-2zm3 0h2v2h-2zm12 0h2v2h-2zm11 0h2v2h-2zm63 0h2v2h-2zm3 0h2v2h-2zm-90 1h2v2h-2zm32 0h2v2h-2zm7 0h2v2h-2zm5 0h2v2h-2zm26 0h2v2h-2zm-55 1h2v2h-2zm54 0h2v2h-2zm5 0h2v2h-2zm48 0h2v2h-2zm8 0h2v2h-2zm-91 2h2v2h-2zm6 0h2v2h-2zm78 0h2v2h-2zm-117 1h2v2h-2zm47 0h2v2h-2zm5 0h2v2h-2zm4 0h2v2h-2zm23 0h2v2h-2zm27 0h2v2h-2zm-36 1h2v2h-2zm1 0h2v2h-2zm21 0h2v2h-2zm-104 1h2v2h-2zm7 0h2v2h-2zm8 0h2v2h-2zm25 0h2v2h-2zm14 0h2v2h-2zm20 0h2v2h-2zm4 0h2v2h-2zm26 0h2v2h-2zm-107 1h2v2h-2zm13 0h2v2h-2zm12 0h2v2h-2zm10 0h2v2h-2zm58 0h2v2h-2zm-90 1h2v2h-2zm11 0h2v2h-2zm54 0h2v2h-2zm21 0h2v2h-2zm13 0h2v2h-2zm17 0h2v2h-2zm-74 1h2v2h-2zm7 0h2v2h-2zm61 0h2v2h-2zm26 0h2v2h-2zm-135 1h2v2h-2zm35 0h2v2h-2zm2 0h2v2h-2zm12 0h2v2h-2zm35 0h2v2h-2zm-78 1h2v2h-2zm12 0h2v2h-2zm35 0h2v2h-2zm5 0h2v2h-2zm25 0h2v2h-2zm-90 1h2v2h-2zm92 0h2v2h-2zm41 0h2v2h-2zm-134 1h2v2h-2zm18 0h2v2h-2zm93 0h2v2h-2zm-101 1h2v2h-2zm17 0h2v2h-2zm29 0h2v2h-2zm87 0h2v2h-2zm-130 1h2v2h-2zm64 0h2v2h-2zm9 0h2v2h-2zm16 0h2v2h-2zm-94 1h2v2h-2zm27 0h2v2h-2zm0 0h2v2h-2zm-28 1h2v2h-2zm26 0h2v2h-2zm35 0h2v2h-2zm32 0h2v2h-2zm-77 1h2v2h-2zm22 0h2v2h-2zm14 0h2v2h-2zm20 0h2v2h-2zm56 0h2v2h-2zm-108 1h2v2h-2zm29 0h2v2h-2zm2 0h2v2h-2zm49 0h2v2h-2zm8 1h2v2h-2zm16 0h2v2h-2zm13 0h2v2h-2zm-129 1h2v2h-2zm44 0h2v2h-2zm31 0h2v2h-2zm45 0h2v2h-2zm-129 1h2v2h-2zm48 0h2v2h-2zm47 0h2v2h-2zm18 0h2v2h-2zm-76 1h2v2h-2zm2 0h2v2h-2zm47 0h2v2h-2zm12 0h2v2h-2zm-53 1h2v2h-2zm14 0h2v2h-2zm6 0h2v2h-2zm48 0h2v2h-2zm2 0h2v2h-2zm4 0h2v2h-2zm-104 1h2v2h-2zm22 0h2v2h-2zm13 0h2v2h-2zm48 0h2v2h-2zm27 0h2v2h-2zm-113 1h2v2h-2zm5 0h2v2h-2zm17 0h2v2h-2zm101 0h2v2h-2zm-142 1h2v2h-2zm13 1h2v2h-2zm4 0h2v2h-2zm5 0h2v2h-2zm67 0h2v2h-2zm12 0h2v2h-2zm27 0h2v2h-2zm11 0h2v2h-2zm-134 1h2v2h-2zm2 0h2v2h-2zm136 0h2v2h-2zm-77 1h2v2h-2zm75 0h2v2h-2zm-109 1h2v2h-2zm19 0h2v2h-2zm4 0h2v2h-2zm84 0h2v2h-2zm-94 1h2v2h-2zm-11 1h2v2h-2zm7 0h2v2h-2zm74 0h2v2h-2zm-82 1h2v2h-2zm24 0h2v2h-2zm19 0h2v2h-2zm42 0h2v2h-2zm0 0h2v2h-2zm4 0h2v2h-2zm-103 1h2v2h-2zm58 0h2v2h-2zm-56 1h2v2h-2zm11 0h2v2h-2zm73 0h2v2h-2zm30 0h2v2h-2zm3 0h2v2h-2zm-132 1h2v2h-2zm11 0h2v2h-2zm24 0h2v2h-2zm56 1h2v2h-2zm10 0h2v2h-2zm-71 1h2v2h-2zm69 0h2v2h-2zm-95 1h2v2h-2zm22 0h2v2h-2zm93 0h2v2h-2zm7 0h2v2h-2zm10 0h2v2h-2zm-135 1h2v2h-2zm116 0h2v2h-2zm5 0h2v2h-2zm7 0h2v2h-2zm-92 1h2v2h-2zm58 0h2v2h-2zm28 0h2v2h-2zm11 0h2v2h-2zm-133 1h2v2h-2zm2 0h2v2h-2zm37 0h2v2h-2zm-48 1h2v2h-2zm4 0h2v2h-2zm55 0h2v2h-2zm28 0h2v2h-2zm19 0h2v2h-2zm16 0h2v2h-2zm6 0h2v2h-2zm16 0h2v2h-2zm-129 1h2v2h-2zm6 0h2v2h-2zm5 0h2v2h-2zm3 0h2v2h-2zm24 0h2v2h-2zm37 0h2v2h-2zm12 0h2v2h-2zm21 0h2v2h-2zm15 0h2v2h-2zm-132 1h2v2h-2zm98 0h2v2h-2zm-103 1h2v2h-2zm15 0h2v2h-2zm50 1h2v2h-2zm1 0h2v2h-2zm42 0h2v2h-2zm-99 1h2v2h-2zm77 0h2v2h-2zm-16 1h2v2h-2zm45 0h2v2h-2zm-117 1h2v2h-2zm13 0h2v2h-2zm1 0h2v2h-2zm19 1h2v2h-2zm77 0h2v2h-2zm16 0h2v2h-2zm1 0h2v2h-2zm8 0h2v2h-2zm1 0h2v2h-2zm-123 1h2v2h-2zm40 0h2v2h-2zm2 0h2v2h-2zm94 0h2v2h-2zm-96 1h2v2h-2zm23 0h2v2h-2zm22 0h2v2h-2zm10 0h2v2h-2zm25 0h2v2h-2zm-95 1h2v2h-2zm16 0h2v2h-2zm6 0h2v2h-2zm-19 1h2v2h-2zm92 0h2v2h-2zm-87 1h2v2h-2zm40 0h2v2h-2zm25 0h2v2h-2zm-98 1h2v2h-2zm36 0h2v2h-2zm42 0h2v2h-2zm14 0h2v2h-2z" fill="#9aa0c8" opacity="0.62"/>
<path d="M0 0m105 0h3v3h-3zm-34 1h3v3h-3zm76 1h3v3h-3zm-109 1h3v3h-3zm57 0h3v3h-3zm24 0h3v3h-3zm22 0h3v3h-3zm-17 1h3v3h-3zm-121 1h3v3h-3zm19 0h3v3h-3zm79 0h3v3h-3zm-85 1h3v3h-3zm88 0h3v3h-3zm-4 1h3v3h-3zm-42 2h3v3h-3zm-26 1h3v3h-3zm7 0h3v3h-3zm45 0h3v3h-3zm-60 1h3v3h-3zm-7 1h3v3h-3zm40 0h3v3h-3zm-22 1h3v3h-3zm14 1h3v3h-3zm69 0h3v3h-3zm23 1h3v3h-3zm-102 3h3v3h-3zm6 0h3v3h-3zm-14 1h3v3h-3zm100 1h3v3h-3zm-120 2h3v3h-3zm26 0h3v3h-3zm12 0h3v3h-3zm9 0h3v3h-3zm17 0h3v3h-3zm52 0h3v3h-3zm13 0h3v3h-3zm-96 1h3v3h-3zm28 0h3v3h-3zm7 1h3v3h-3zm50 0h3v3h-3zm-42 1h3v3h-3zm58 0h3v3h-3zm-67 3h3v3h-3zm5 0h3v3h-3zm-76 1h3v3h-3zm130 0h3v3h-3zm-92 2h3v3h-3zm33 0h3v3h-3zm24 0h3v3h-3zm-92 2h3v3h-3zm37 0h3v3h-3zm4 0h3v3h-3zm27 0h3v3h-3zm-33 1h3v3h-3zm16 0h3v3h-3zm24 0h3v3h-3zm-23 1h3v3h-3zm-56 5h3v3h-3zm60 0h3v3h-3zm-65 1h3v3h-3zm41 0h3v3h-3zm24 0h3v3h-3zm9 1h3v3h-3zm10 0h3v3h-3zm39 0h3v3h-3zm-34 1h3v3h-3zm-11 1h3v3h-3zm11 0h3v3h-3zm53 0h3v3h-3zm-67 1h3v3h-3zm-52 1h3v3h-3zm31 0h3v3h-3zm43 0h3v3h-3zm-86 1h3v3h-3zm12 0h3v3h-3zm14 1h3v3h-3zm34 0h3v3h-3zm-61 1h3v3h-3zm109 0h3v3h-3zm0 0h3v3h-3zm-116 1h3v3h-3zm14 1h3v3h-3zm113 0h3v3h-3zm-92 1h3v3h-3zm-34 1h3v3h-3zm31 0h3v3h-3zm106 0h3v3h-3zm-121 1h3v3h-3zm106 0h3v3h-3zm-100 1h3v3h-3zm-2 1h3v3h-3zm22 0h3v3h-3zm21 0h3v3h-3zm67 0h3v3h-3zm-37 1h3v3h-3zm-54 1h3v3h-3zm30 0h3v3h-3zm7 0h3v3h-3zm3 0h3v3h-3zm35 0h3v3h-3zm-76 1h3v3h-3zm38 1h3v3h-3zm-39 1h3v3h-3zm0 1h3v3h-3zm-15 1h3v3h-3zm17 2h3v3h-3zm-44 1h3v3h-3zm133 0h3v3h-3zm12 0h3v3h-3zm-123 1h3v3h-3zm71 0h3v3h-3zm-49 1h3v3h-3zm13 0h3v3h-3zm68 0h3v3h-3zm-116 1h3v3h-3zm35 0h3v3h-3zm10 0h3v3h-3zm93 0h3v3h-3zm-103 3h3v3h-3zm37 0h3v3h-3zm22 0h3v3h-3zm-37 1h3v3h-3zm18 0h3v3h-3zm12 0h3v3h-3zm14 0h3v3h-3zm30 0h3v3h-3zm-43 1h3v3h-3zm36 0h3v3h-3zm-128 1h3v3h-3zm2 0h3v3h-3zm104 0h3v3h-3zm-57 1h3v3h-3zm14 1h3v3h-3zm56 1h3v3h-3zm-2 1h3v3h-3zm1 0h3v3h-3zm11 0h3v3h-3zm-31 1h3v3h-3zm31 0h3v3h-3zm-48 1h3v3h-3zm-40 2h3v3h-3zm67 0h3v3h-3zm-71 1h3v3h-3zm91 0h3v3h-3zm-96 1h3v3h-3zm24 0h3v3h-3zm-48 1h3v3h-3zm64 0h3v3h-3zm6 0h3v3h-3zm29 0h3v3h-3zm13 1h3v3h-3zm-115 1h3v3h-3zm32 0h3v3h-3zm33 0h3v3h-3zm-55 1h3v3h-3zm105 0h3v3h-3zm-71 1h3v3h-3zm10 0h3v3h-3zm-45 1h3v3h-3zm26 0h3v3h-3zm93 0h3v3h-3zm-76 1h3v3h-3zm2 0h3v3h-3zm25 2h3v3h-3zm22 0h3v3h-3zm-68 1h3v3h-3zm67 1h3v3h-3zm-24 1h3v3h-3zm35 0h3v3h-3zm9 0h3v3h-3zm-3 1h3v3h-3zm8 0h3v3h-3zm-127 1h3v3h-3zm-6 1h3v3h-3zm45 0h3v3h-3zm53 0h3v3h-3zm-99 1h3v3h-3zm11 0h3v3h-3zm22 0h3v3h-3zm9 0h3v3h-3zm50 0h3v3h-3zm19 0h3v3h-3zm16 0h3v3h-3zm-123 1h3v3h-3zm83 0h3v3h-3zm-35 1h3v3h-3zm31 0h3v3h-3zm-45 1h3v3h-3zm50 0h3v3h-3zm-82 1h3v3h-3zm106 0h3v3h-3zm-93 2h3v3h-3zm9 0h3v3h-3zm118 0h3v3h-3zm-127 4h3v3h-3zm21 0h3v3h-3zm-1 1h3v3h-3zm25 0h3v3h-3zm74 0h3v3h-3zm-128 1h3v3h-3zm12 0h3v3h-3zm105 0h3v3h-3zm-70 1h3v3h-3zm75 0h3v3h-3zm-60 1h3v3h-3zm42 0h3v3h-3zm-66 1h3v3h-3zm54 0h3v3h-3zm30 0h3v3h-3zm-85 1h3v3h-3zm-43 1h3v3h-3zm51 0h3v3h-3zm91 0h3v3h-3zm-105 1h3v3h-3zm24 0h3v3h-3zm47 0h3v3h-3zm-75 1h3v3h-3zm84 0h3v3h-3zm-97 1h3v3h-3zm82 0h3v3h-3zm-99 1h3v3h-3zm27 0h3v3h-3zm-8 1h3v3h-3zm5 0h3v3h-3zm95 0h3v3h-3zm-7 1h3v3h-3zm-63 1h3v3h-3zm88 0h3v3h-3zm-139 1h3v3h-3zm25 0h3v3h-3zm24 0h3v3h-3zm62 0h3v3h-3zm-92 2h3v3h-3zm117 1h3v3h-3zm-107 1h3v3h-3zm97 0h3v3h-3zm-46 1h3v3h-3zm-33 1h3v3h-3zm14 0h3v3h-3zm-22 1h3v3h-3zm60 0h3v3h-3zm13 0h3v3h-3zm2 0h3v3h-3zm-75 3h3v3h-3zm62 0h3v3h-3zm3 0h3v3h-3zm20 0h3v3h-3zm-123 1h3v3h-3zm7 0h3v3h-3zm17 0h3v3h-3zm11 0h3v3h-3zm1 0h3v3h-3zm16 0h3v3h-3zm35 0h3v3h-3zm14 0h3v3h-3zm-49 1h3v3h-3zm21 0h3v3h-3zm-9 1h3v3h-3zm13 0h3v3h-3zm7 0h3v3h-3zm-39 1h3v3h-3zm28 0h3v3h-3zm-76 1h3v3h-3zm87 0h3v3h-3zm40 0h3v3h-3zm8 1h3v3h-3zm-82 1h3v3h-3zm11 0h3v3h-3zm-62 1h3v3h-3zm100 0h3v3h-3zm-104 1h3v3h-3zm29 0h3v3h-3zm16 0h3v3h-3zm2 0h3v3h-3zm17 0h3v3h-3zm22 0h3v3h-3zm-20 1h3v3h-3z" fill="#8086b2" opacity="0.62"/>
<path d="M0 0m98 0h3v3h-3zm-31 1h3v3h-3zm35 0h3v3h-3zm-39 1h3v3h-3zm26 0h3v3h-3zm36 0h3v3h-3zm4 0h3v3h-3zm-89 1h3v3h-3zm81 0h3v3h-3zm12 0h3v3h-3zm-98 1h3v3h-3zm53 0h3v3h-3zm25 0h3v3h-3zm-100 1h3v3h-3zm55 0h3v3h-3zm0 1h3v3h-3zm2 0h3v3h-3zm6 0h3v3h-3zm35 0h3v3h-3zm-47 1h3v3h-3zm43 0h3v3h-3zm-45 1h3v3h-3zm82 0h3v3h-3zm-55 1h3v3h-3zm13 0h3v3h-3zm10 1h3v3h-3zm-65 1h3v3h-3zm17 0h3v3h-3zm9 0h3v3h-3zm74 0h3v3h-3zm-143 1h3v3h-3zm25 0h3v3h-3zm34 0h3v3h-3zm-62 1h3v3h-3zm13 0h3v3h-3zm17 0h3v3h-3zm74 0h3v3h-3zm0 1h3v3h-3zm5 0h3v3h-3zm2 1h3v3h-3zm-94 1h3v3h-3zm23 0h3v3h-3zm65 0h3v3h-3zm17 0h3v3h-3zm-117 1h3v3h-3zm82 0h3v3h-3zm19 0h3v3h-3zm-10 1h3v3h-3zm45 0h3v3h-3zm-141 1h3v3h-3zm7 0h3v3h-3zm136 0h3v3h-3zm-6 1h3v3h-3zm-87 1h3v3h-3zm18 0h3v3h-3zm-56 1h3v3h-3zm72 0h3v3h-3zm60 0h3v3h-3zm-71 2h3v3h-3zm6 0h3v3h-3zm52 0h3v3h-3zm-127 1h3v3h-3zm50 0h3v3h-3zm13 0h3v3h-3zm15 0h3v3h-3zm54 0h3v3h-3zm-119 1h3v3h-3zm44 0h3v3h-3zm-21 1h3v3h-3zm-2 1h3v3h-3zm7 0h3v3h-3zm-1 3h3v3h-3zm42 0h3v3h-3zm-73 1h3v3h-3zm43 0h3v3h-3zm29 1h3v3h-3zm-75 1h3v3h-3zm0 1h3v3h-3zm6 0h3v3h-3zm127 0h3v3h-3zm-109 1h3v3h-3zm103 0h3v3h-3zm-70 1h3v3h-3zm27 0h3v3h-3zm7 0h3v3h-3zm34 0h3v3h-3zm-114 1h3v3h-3zm6 1h3v3h-3zm91 0h3v3h-3zm-98 1h3v3h-3zm3 0h3v3h-3zm-13 2h3v3h-3zm60 0h3v3h-3zm-57 1h3v3h-3zm-11 1h3v3h-3zm133 1h3v3h-3zm-82 1h3v3h-3zm41 1h3v3h-3zm4 0h3v3h-3zm-82 1h3v3h-3zm49 0h3v3h-3zm47 0h3v3h-3zm-89 1h3v3h-3zm37 1h3v3h-3zm3 1h3v3h-3zm-16 1h3v3h-3zm12 0h3v3h-3zm12 0h3v3h-3zm32 0h3v3h-3zm-86 2h3v3h-3zm9 0h3v3h-3zm46 0h3v3h-3zm-12 1h3v3h-3zm22 0h3v3h-3zm0 0h3v3h-3zm43 0h3v3h-3zm8 0h3v3h-3zm-104 1h3v3h-3zm71 1h3v3h-3zm35 0h3v3h-3zm-109 1h3v3h-3zm47 1h3v3h-3zm15 0h3v3h-3zm-14 1h3v3h-3zm55 1h3v3h-3zm-101 1h3v3h-3zm54 0h3v3h-3zm-68 1h3v3h-3zm57 0h3v3h-3zm-2 1h3v3h-3zm31 1h3v3h-3zm-42 1h3v3h-3zm45 0h3v3h-3zm21 0h3v3h-3zm-65 1h3v3h-3zm13 0h3v3h-3zm61 0h3v3h-3zm2 0h3v3h-3zm-95 1h3v3h-3zm-30 1h3v3h-3zm45 0h3v3h-3zm75 0h3v3h-3zm-117 1h3v3h-3zm22 0h3v3h-3zm26 1h3v3h-3zm15 0h3v3h-3zm-68 1h3v3h-3zm21 0h3v3h-3zm42 0h3v3h-3zm4 0h3v3h-3zm0 0h3v3h-3zm45 0h3v3h-3zm-74 1h3v3h-3zm22 0h3v3h-3zm-27 1h3v3h-3zm40 0h3v3h-3zm5 0h3v3h-3zm-47 1h3v3h-3zm69 0h3v3h-3zm-91 1h3v3h-3zm10 0h3v3h-3zm44 0h3v3h-3zm47 0h3v3h-3zm12 0h3v3h-3zm16 0h3v3h-3zm-128 1h3v3h-3zm93 0h3v3h-3zm-36 1h3v3h-3zm4 0h3v3h-3zm6 0h3v3h-3zm-72 1h3v3h-3zm28 0h3v3h-3zm5 2h3v3h-3zm-45 2h3v3h-3zm92 0h3v3h-3zm-58 1h3v3h-3zm24 0h3v3h-3zm19 0h3v3h-3zm-68 1h3v3h-3zm26 0h3v3h-3zm58 0h3v3h-3zm6 0h3v3h-3zm-71 1h3v3h-3zm19 0h3v3h-3zm21 0h3v3h-3zm-70 1h3v3h-3zm54 1h3v3h-3zm-45 1h3v3h-3zm51 0h3v3h-3zm29 0h3v3h-3zm58 0h3v3h-3zm-73 1h3v3h-3zm71 0h3v3h-3zm-120 1h3v3h-3zm22 0h3v3h-3zm8 1h3v3h-3zm3 0h3v3h-3zm12 1h3v3h-3zm-52 1h3v3h-3zm48 0h3v3h-3zm72 1h3v3h-3zm3 1h3v3h-3zm-67 1h3v3h-3zm74 1h3v3h-3zm-145 1h3v3h-3zm31 0h3v3h-3zm72 0h3v3h-3zm8 0h3v3h-3zm23 0h3v3h-3zm-44 1h3v3h-3zm32 0h3v3h-3zm-29 1h3v3h-3zm47 0h3v3h-3zm-99 1h3v3h-3zm-17 1h3v3h-3zm22 1h3v3h-3zm37 0h3v3h-3zm45 0h3v3h-3zm-118 1h3v3h-3zm62 0h3v3h-3zm-32 4h3v3h-3zm23 0h3v3h-3zm71 0h3v3h-3zm-103 1h3v3h-3zm0 0h3v3h-3zm0 1h3v3h-3zm44 0h3v3h-3zm-59 1h3v3h-3zm37 0h3v3h-3zm52 0h3v3h-3zm39 0h3v3h-3zm-85 1h3v3h-3zm-55 1h3v3h-3zm7 0h3v3h-3zm29 0h3v3h-3zm8 0h3v3h-3zm82 0h3v3h-3zm-57 1h3v3h-3zm48 0h3v3h-3zm-37 1h3v3h-3zm24 1h3v3h-3zm1 0h3v3h-3zm19 1h3v3h-3zm-82 2h3v3h-3zm49 0h3v3h-3zm2 0h3v3h-3zm27 1h3v3h-3zm-20 1h3v3h-3zm31 0h3v3h-3zm-125 2h3v3h-3zm95 0h3v3h-3zm13 0h3v3h-3zm-33 1h3v3h-3zm49 1h3v3h-3zm-50 2h3v3h-3zm47 0h3v3h-3zm-124 1h3v3h-3zm27 0h3v3h-3zm29 2h3v3h-3zm43 0h3v3h-3zm8 1h3v3h-3zm-5 1h3v3h-3zm14 0h3v3h-3zm-76 1h3v3h-3zm37 0h3v3h-3zm46 0h3v3h-3zm3 0h3v3h-3zm-16 1h3v3h-3zm-37 1h3v3h-3zm-36 1h3v3h-3zm50 0h3v3h-3zm6 1h3v3h-3zm28 1h3v3h-3zm7 0h3v3h-3zm4 0h3v3h-3zm-14 2h3v3h-3zm-57 1h3v3h-3zm30 0h3v3h-3zm-55 1h3v3h-3zm30 3h3v3h-3zm-65 1h3v3h-3zm75 0h3v3h-3z" fill="#8a90bc" opacity="0.62"/>
<path d="M0 0m59 1h3v3h-3zm62 0h3v3h-3zm6 0h3v3h-3zm-119 1h3v3h-3zm68 0h3v3h-3zm30 1h3v3h-3zm7 0h3v3h-3zm25 1h3v3h-3zm-17 1h3v3h-3zm-26 2h3v3h-3zm48 0h3v3h-3zm-32 1h3v3h-3zm37 2h3v3h-3zm-105 1h3v3h-3zm66 0h3v3h-3zm35 0h3v3h-3zm-102 2h3v3h-3zm94 0h3v3h-3zm-114 2h3v3h-3zm9 0h3v3h-3zm35 0h3v3h-3zm73 0h3v3h-3zm-106 1h3v3h-3zm7 0h3v3h-3zm45 0h3v3h-3zm21 0h3v3h-3zm-18 1h3v3h-3zm-87 1h3v3h-3zm91 0h3v3h-3zm-50 1h3v3h-3zm13 0h3v3h-3zm4 0h3v3h-3zm-32 1h3v3h-3zm21 0h3v3h-3zm47 0h3v3h-3zm38 0h3v3h-3zm-59 1h3v3h-3zm37 2h3v3h-3zm-41 1h3v3h-3zm53 1h3v3h-3zm-71 2h3v3h-3zm17 0h3v3h-3zm63 0h3v3h-3zm-104 2h3v3h-3zm35 0h3v3h-3zm52 1h3v3h-3zm-49 1h3v3h-3zm10 0h3v3h-3zm20 0h3v3h-3zm-39 1h3v3h-3zm15 0h3v3h-3zm41 0h3v3h-3zm-39 1h3v3h-3zm7 0h3v3h-3zm16 0h3v3h-3zm-13 2h3v3h-3zm-71 1h3v3h-3zm71 0h3v3h-3zm5 0h3v3h-3zm0 0h3v3h-3zm44 0h3v3h-3zm-87 1h3v3h-3zm52 0h3v3h-3zm-82 2h3v3h-3zm57 0h3v3h-3zm13 1h3v3h-3zm55 0h3v3h-3zm-104 1h3v3h-3zm-32 1h3v3h-3zm7 0h3v3h-3zm80 0h3v3h-3zm4 0h3v3h-3zm47 0h3v3h-3zm-24 1h3v3h-3zm7 0h3v3h-3zm-53 2h3v3h-3zm49 0h3v3h-3zm-75 1h3v3h-3zm25 0h3v3h-3zm-27 1h3v3h-3zm16 0h3v3h-3zm-36 1h3v3h-3zm65 0h3v3h-3zm49 0h3v3h-3zm-139 3h3v3h-3zm68 0h3v3h-3zm69 0h3v3h-3zm-66 1h3v3h-3zm75 0h3v3h-3zm-128 2h3v3h-3zm27 1h3v3h-3zm71 1h3v3h-3zm-92 1h3v3h-3zm79 0h3v3h-3zm-61 1h3v3h-3zm3 0h3v3h-3zm12 0h3v3h-3zm71 0h3v3h-3zm-28 1h3v3h-3zm-97 1h3v3h-3zm0 0h3v3h-3zm22 0h3v3h-3zm20 0h3v3h-3zm36 0h3v3h-3zm11 0h3v3h-3zm43 2h3v3h-3zm-89 1h3v3h-3zm18 0h3v3h-3zm76 0h3v3h-3zm-43 1h3v3h-3zm12 0h3v3h-3zm-82 1h3v3h-3zm47 0h3v3h-3zm-63 1h3v3h-3zm54 0h3v3h-3zm-14 2h3v3h-3zm-14 1h3v3h-3zm9 0h3v3h-3zm15 0h3v3h-3zm67 0h3v3h-3zm-119 2h3v3h-3zm39 1h3v3h-3zm-23 1h3v3h-3zm-18 2h3v3h-3zm6 0h3v3h-3zm66 0h3v3h-3zm-20 1h3v3h-3zm28 0h3v3h-3zm49 0h3v3h-3zm-38 1h3v3h-3zm32 0h3v3h-3zm-64 1h3v3h-3zm78 0h3v3h-3zm-137 1h3v3h-3zm40 0h3v3h-3zm-24 1h3v3h-3zm32 1h3v3h-3zm7 0h3v3h-3zm10 0h3v3h-3zm17 0h3v3h-3zm36 0h3v3h-3zm12 0h3v3h-3zm-98 1h3v3h-3zm16 0h3v3h-3zm59 0h3v3h-3zm6 0h3v3h-3zm5 0h3v3h-3zm-83 2h3v3h-3zm67 0h3v3h-3zm-24 1h3v3h-3zm49 0h3v3h-3zm-104 1h3v3h-3zm8 0h3v3h-3zm94 2h3v3h-3zm-96 1h3v3h-3zm112 0h3v3h-3zm-119 2h3v3h-3zm54 0h3v3h-3zm52 0h3v3h-3zm12 0h3v3h-3zm-71 1h3v3h-3zm61 0h3v3h-3zm-112 1h3v3h-3zm23 0h3v3h-3zm8 0h3v3h-3zm16 0h3v3h-3zm43 0h3v3h-3zm-97 1h3v3h-3zm40 2h3v3h-3zm-16 1h3v3h-3zm5 0h3v3h-3zm19 0h3v3h-3zm-22 1h3v3h-3zm-44 1h3v3h-3zm66 0h3v3h-3zm-26 1h3v3h-3zm53 0h3v3h-3zm10 0h3v3h-3zm42 0h3v3h-3zm-107 1h3v3h-3zm55 1h3v3h-3zm8 0h3v3h-3zm16 0h3v3h-3zm-79 1h3v3h-3zm22 0h3v3h-3zm32 0h3v3h-3zm17 0h3v3h-3zm26 0h3v3h-3zm-110 2h3v3h-3zm114 0h3v3h-3zm-78 1h3v3h-3zm7 0h3v3h-3zm7 0h3v3h-3zm-71 2h3v3h-3zm120 0h3v3h-3zm-113 1h3v3h-3zm31 1h3v3h-3zm61 1h3v3h-3zm-56 1h3v3h-3zm16 0h3v3h-3zm-61 1h3v3h-3zm109 0h3v3h-3zm15 0h3v3h-3zm-56 1h3v3h-3zm53 1h3v3h-3zm0 0h3v3h-3zm14 0h3v3h-3zm-128 2h3v3h-3zm10 0h3v3h-3zm117 0h3v3h-3zm8 2h3v3h-3zm-97 1h3v3h-3zm56 0h3v3h-3zm5 0h3v3h-3zm31 0h3v3h-3zm-122 1h3v3h-3zm15 0h3v3h-3zm10 0h3v3h-3zm13 0h3v3h-3zm3 0h3v3h-3zm23 0h3v3h-3zm-35 1h3v3h-3zm87 0h3v3h-3zm-109 1h3v3h-3zm102 0h3v3h-3zm-105 1h3v3h-3zm43 0h3v3h-3zm50 1h3v3h-3zm-97 1h3v3h-3zm51 0h3v3h-3zm35 1h3v3h-3zm-3 1h3v3h-3zm37 0h3v3h-3zm-21 1h3v3h-3zm15 0h3v3h-3zm2 0h3v3h-3zm-88 1h3v3h-3zm70 0h3v3h-3zm-65 1h3v3h-3zm56 0h3v3h-3zm-52 1h3v3h-3zm27 0h3v3h-3zm-30 1h3v3h-3zm68 0h3v3h-3zm0 1h3v3h-3zm-87 1h3v3h-3zm102 0h3v3h-3zm-42 1h3v3h-3zm19 0h3v3h-3zm18 0h3v3h-3zm-42 1h3v3h-3zm41 0h3v3h-3zm-91 1h3v3h-3zm-37 2h3v3h-3zm46 0h3v3h-3zm1 1h3v3h-3zm9 0h3v3h-3zm74 0h3v3h-3zm-61 1h3v3h-3zm6 0h3v3h-3zm39 0h3v3h-3zm-75 1h3v3h-3zm21 0h3v3h-3zm58 0h3v3h-3zm-79 3h3v3h-3zm45 0h3v3h-3zm-75 1h3v3h-3zm57 0h3v3h-3zm3 0h3v3h-3zm38 0h3v3h-3z" fill="#9aa0c8" opacity="0.62"/>
<path d="M0 0m21 1h2v2h-2zm87 3h2v2h-2zm27 5h2v2h-2zm-61 3h2v2h-2zm61 0h2v2h-2zm2 0h2v2h-2zm4 0h2v2h-2zm-51 1h2v2h-2zm-20 4h2v2h-2zm-40 1h2v2h-2zm26 3h2v2h-2zm93 0h2v2h-2zm-137 19h2v2h-2zm128 1h2v2h-2zm-91 2h2v2h-2zm-3 6h2v2h-2zm-31 3h2v2h-2zm17 10h2v2h-2zm51 1h2v2h-2zm36 2h2v2h-2zm4 8h2v2h-2zm-82 3h2v2h-2zm104 4h2v2h-2zm-65 2h2v2h-2zm64 11h2v2h-2zm-135 2h2v2h-2zm86 1h2v2h-2zm-86 3h2v2h-2zm87 0h2v2h-2zm32 1h2v2h-2zm-69 16h2v2h-2zm35 0h2v2h-2zm-88 1h2v2h-2zm57 4h2v2h-2zm-33 10h2v2h-2zm56 3h2v2h-2zm-21 3h2v2h-2zm65 1h2v2h-2zm-89 10h2v2h-2z" fill="#a47a5c" opacity="0.6"/>
<path d="M0 0m25 3h3v3h-3zm100 0h3v3h-3zm-42 2h3v3h-3zm-62 3h3v3h-3zm46 4h3v3h-3zm-39 1h3v3h-3zm51 3h3v3h-3zm16 0h3v3h-3zm-68 1h3v3h-3zm-10 7h3v3h-3zm51 0h3v3h-3zm74 2h3v3h-3zm-62 5h3v3h-3zm-67 7h3v3h-3zm26 2h3v3h-3zm92 0h3v3h-3zm-18 4h3v3h-3zm-56 6h3v3h-3zm3 6h3v3h-3zm-45 3h3v3h-3zm125 6h3v3h-3zm-95 2h3v3h-3zm55 4h3v3h-3zm34 5h3v3h-3zm-84 1h3v3h-3zm51 0h3v3h-3zm-63 1h3v3h-3zm74 6h3v3h-3zm11 3h3v3h-3zm3 0h3v3h-3zm-74 2h3v3h-3zm15 3h3v3h-3zm66 0h3v3h-3zm-71 9h3v3h-3zm70 2h3v3h-3zm-2 2h3v3h-3zm-112 3h3v3h-3zm32 2h3v3h-3zm-40 2h3v3h-3zm78 3h3v3h-3zm20 7h3v3h-3zm-62 4h3v3h-3zm-34 6h3v3h-3zm24 1h3v3h-3zm-2 4h3v3h-3zm-16 1h3v3h-3zm104 1h3v3h-3zm-46 3h3v3h-3zm61 1h3v3h-3zm-38 4h3v3h-3zm15 0h3v3h-3z" fill="#966a4e" opacity="0.6"/>
<path d="M0 0m67 9h3v3h-3zm37 10h3v3h-3zm-20 3h3v3h-3zm11 0h3v3h-3zm47 0h3v3h-3zm-133 1h3v3h-3zm103 2h3v3h-3zm-57 5h3v3h-3zm-48 1h3v3h-3zm96 3h3v3h-3zm3 12h3v3h-3zm-1 15h3v3h-3zm-13 4h3v3h-3zm-15 1h3v3h-3zm-49 11h3v3h-3zm57 3h3v3h-3zm42 0h3v3h-3zm-10 3h3v3h-3zm-38 4h3v3h-3zm-70 3h3v3h-3zm93 0h3v3h-3zm-74 3h3v3h-3zm18 0h3v3h-3zm4 4h3v3h-3zm65 8h3v3h-3zm-107 8h3v3h-3zm94 15h3v3h-3zm-72 5h3v3h-3zm87 0h3v3h-3zm8 6h3v3h-3zm-67 2h3v3h-3zm20 0h3v3h-3zm38 3h3v3h-3zm-103 2h3v3h-3z" fill="#a47a5c" opacity="0.6"/>
<path d="M0 0m79 0h2v2h-2zm-33 2h2v2h-2zm18 7h2v2h-2zm40 4h2v2h-2zm-62 1h2v2h-2zm62 6h2v2h-2zm-67 2h2v2h-2zm83 1h2v2h-2zm-63 1h2v2h-2zm63 1h2v2h-2zm-17 1h2v2h-2zm40 0h2v2h-2zm-72 4h2v2h-2zm77 0h2v2h-2zm-116 9h2v2h-2zm68 1h2v2h-2zm-80 6h2v2h-2zm116 0h2v2h-2zm-94 4h2v2h-2zm96 2h2v2h-2zm-1 1h2v2h-2zm-99 2h2v2h-2zm61 3h2v2h-2zm-92 3h2v2h-2zm5 9h2v2h-2zm99 3h2v2h-2zm-89 3h2v2h-2zm36 3h2v2h-2zm18 4h2v2h-2zm-47 19h2v2h-2zm-5 1h2v2h-2zm93 7h2v2h-2zm-28 2h2v2h-2zm-13 2h2v2h-2zm17 2h2v2h-2zm-71 2h2v2h-2zm-3 4h2v2h-2zm58 4h2v2h-2zm19 0h2v2h-2zm-35 1h2v2h-2zm34 3h2v2h-2zm-21 4h2v2h-2zm58 0h2v2h-2zm-71 9h2v2h-2zm-18 1h2v2h-2zm72 1h2v2h-2z" fill="#966a4e" opacity="0.6"/>
</g></g></g>
<rect x="120.8" y="665.2" width="24.2" height="2.7" fill="#000"/>
<text x="132.9" y="661.8" font-size="9.8" text-anchor="middle">50μm</text>
<rect x="120.8" y="742.4" width="24.2" height="2.7" fill="#000"/>
<text x="132.9" y="739" font-size="9.8" text-anchor="middle">50μm</text>
<rect x="198.3" y="665.2" width="24.2" height="2.7" fill="#000"/>
<text x="210.4" y="661.8" font-size="9.8" text-anchor="middle">50μm</text>
<rect x="198.3" y="742.4" width="24.2" height="2.7" fill="#000"/>
<text x="210.4" y="739" font-size="9.8" text-anchor="middle">50μm</text>
<rect x="274.5" y="665.2" width="24.2" height="2.7" fill="#000"/>
<text x="286.6" y="661.8" font-size="9.8" text-anchor="middle">50μm</text>
<rect x="274.5" y="742.4" width="24.2" height="2.7" fill="#000"/>
<text x="286.6" y="739" font-size="9.8" text-anchor="middle">50μm</text>
<line x1="416.1" y1="734.4" x2="416.1" y2="619" stroke="#1a1a1a" stroke-width="1.3"/>
<line x1="416.1" y1="734.4" x2="490.7" y2="734.4" stroke="#1a1a1a" stroke-width="1.3"/>
<line x1="411.5" y1="734.4" x2="416.1" y2="734.4" stroke="#1a1a1a" stroke-width="1.3"/>
<text transform="translate(410.2 737.7) scale(1.0 1.12)" font-size="8.4" text-anchor="end" font-weight="bold">0</text>
<line x1="411.5" y1="705.62" x2="416.1" y2="705.62" stroke="#1a1a1a" stroke-width="1.3"/>
<text transform="translate(410.2 708.92) scale(1.0 1.12)" font-size="8.4" text-anchor="end" font-weight="bold">10</text>
<line x1="411.5" y1="676.85" x2="416.1" y2="676.85" stroke="#1a1a1a" stroke-width="1.3"/>
<text transform="translate(410.2 680.15) scale(1.0 1.12)" font-size="8.4" text-anchor="end" font-weight="bold">20</text>
<line x1="411.5" y1="648.07" x2="416.1" y2="648.07" stroke="#1a1a1a" stroke-width="1.3"/>
<text transform="translate(410.2 651.37) scale(1.0 1.12)" font-size="8.4" text-anchor="end" font-weight="bold">30</text>
<line x1="411.5" y1="619.3" x2="416.1" y2="619.3" stroke="#1a1a1a" stroke-width="1.3"/>
<text transform="translate(410.2 622.6) scale(1.0 1.12)" font-size="8.4" text-anchor="end" font-weight="bold">40</text>
<rect x="427.9" y="636.75" width="18.8" height="97.65" fill="none" stroke="#000" stroke-width="1.8"/>
<rect x="459.4" y="704.1" width="18.8" height="30.3" fill="none" stroke="#ac0d10" stroke-width="1.8"/>
<line x1="437.3" y1="734.4" x2="437.3" y2="739" stroke="#1a1a1a" stroke-width="1.2"/>
<line x1="468.8" y1="734.4" x2="468.8" y2="739" stroke="#1a1a1a" stroke-width="1.2"/>
<text x="437.3" y="748.6" font-size="9.6" text-anchor="middle" fill="#111">-</text>
<text x="468.8" y="748.6" font-size="9.6" text-anchor="middle" fill="#111">+</text>
<text x="404.1" y="748.8" font-size="9" fill="#111">DOX</text>
<circle cx="437.3" cy="624.8" r="2.6" fill="#000"/>
<circle cx="437.3" cy="637" r="2.6" fill="#000"/>
<circle cx="437.3" cy="644" r="2.6" fill="#000"/>
<circle cx="468.8" cy="694.6" r="2.6" fill="#ac0d10"/>
<circle cx="468.8" cy="702.8" r="2.6" fill="#ac0d10"/>
<circle cx="468.8" cy="711.3" r="2.6" fill="#ac0d10"/>
<line x1="432.2" y1="629.8" x2="442.4" y2="629.8" stroke="#000" stroke-width="1.5"/>
<line x1="432.2" y1="641.7" x2="442.4" y2="641.7" stroke="#000" stroke-width="1.5"/>
<line x1="437.3" y1="629.8" x2="437.3" y2="641.7" stroke="#000" stroke-width="1.5"/>
<line x1="463.7" y1="698.5" x2="473.9" y2="698.5" stroke="#ac0d10" stroke-width="1.5"/>
<line x1="463.7" y1="708" x2="473.9" y2="708" stroke="#ac0d10" stroke-width="1.5"/>
<line x1="468.8" y1="698.5" x2="468.8" y2="708" stroke="#ac0d10" stroke-width="1.5"/>
<text transform="translate(431.2 607.8) scale(1.0 1)" font-size="9.5" fill="#111"><tspan font-style="italic">P</tspan>=0.0008</text>
<line x1="437.5" y1="615.4" x2="465.4" y2="615.4" stroke="#333" stroke-width="0.9"/>
<line x1="437.5" y1="613" x2="437.5" y2="617.8" stroke="#333" stroke-width="0.9"/>
<line x1="465.4" y1="613" x2="465.4" y2="617.8" stroke="#333" stroke-width="0.9"/>
<text transform="translate(389.3 673.4) scale(1.0 1) rotate(-90)" font-size="11.5" text-anchor="middle" fill="#111">% YAP positive</text>
<line x1="560.5" y1="734.4" x2="560.5" y2="619" stroke="#1a1a1a" stroke-width="1.3"/>
<line x1="560.5" y1="734.4" x2="635.1" y2="734.4" stroke="#1a1a1a" stroke-width="1.3"/>
<line x1="555.9" y1="734.4" x2="560.5" y2="734.4" stroke="#1a1a1a" stroke-width="1.3"/>
<text transform="translate(554.6 737.7) scale(1.0 1.12)" font-size="8.4" text-anchor="end" font-weight="bold">0</text>
<line x1="555.9" y1="705.62" x2="560.5" y2="705.62" stroke="#1a1a1a" stroke-width="1.3"/>
<text transform="translate(554.6 708.92) scale(1.0 1.12)" font-size="8.4" text-anchor="end" font-weight="bold">10</text>
<line x1="555.9" y1="676.85" x2="560.5" y2="676.85" stroke="#1a1a1a" stroke-width="1.3"/>
<text transform="translate(554.6 680.15) scale(1.0 1.12)" font-size="8.4" text-anchor="end" font-weight="bold">20</text>
<line x1="555.9" y1="648.07" x2="560.5" y2="648.07" stroke="#1a1a1a" stroke-width="1.3"/>
<text transform="translate(554.6 651.37) scale(1.0 1.12)" font-size="8.4" text-anchor="end" font-weight="bold">30</text>
<line x1="555.9" y1="619.3" x2="560.5" y2="619.3" stroke="#1a1a1a" stroke-width="1.3"/>
<text transform="translate(554.6 622.6) scale(1.0 1.12)" font-size="8.4" text-anchor="end" font-weight="bold">40</text>
<rect x="572.3" y="632.5" width="18.8" height="101.9" fill="none" stroke="#000" stroke-width="1.8"/>
<rect x="603.8" y="692" width="18.8" height="42.4" fill="none" stroke="#ac0d10" stroke-width="1.8"/>
<line x1="581.7" y1="734.4" x2="581.7" y2="739" stroke="#1a1a1a" stroke-width="1.2"/>
<line x1="613.2" y1="734.4" x2="613.2" y2="739" stroke="#1a1a1a" stroke-width="1.2"/>
<text x="581.7" y="748.6" font-size="9.6" text-anchor="middle" fill="#111">-</text>
<text x="613.2" y="748.6" font-size="9.6" text-anchor="middle" fill="#111">+</text>
<text x="548.5" y="748.8" font-size="9" fill="#111">DOX</text>
<circle cx="581.7" cy="626.2" r="2.6" fill="#000"/>
<circle cx="581.7" cy="631.4" r="2.6" fill="#000"/>
<circle cx="581.7" cy="636.7" r="2.6" fill="#000"/>
<circle cx="613.2" cy="685.8" r="2.6" fill="#ac0d10"/>
<circle cx="608.6" cy="695.6" r="2.6" fill="#ac0d10"/>
<circle cx="617.8" cy="690.9" r="2.6" fill="#ac0d10"/>
<line x1="576.6" y1="627.8" x2="586.8" y2="627.8" stroke="#000" stroke-width="1.5"/>
<line x1="576.6" y1="634.6" x2="586.8" y2="634.6" stroke="#000" stroke-width="1.5"/>
<line x1="581.7" y1="627.8" x2="581.7" y2="634.6" stroke="#000" stroke-width="1.5"/>
<line x1="608.1" y1="689.3" x2="618.3" y2="689.3" stroke="#ac0d10" stroke-width="1.5"/>
<line x1="608.1" y1="694.6" x2="618.3" y2="694.6" stroke="#ac0d10" stroke-width="1.5"/>
<line x1="613.2" y1="689.3" x2="613.2" y2="694.6" stroke="#ac0d10" stroke-width="1.5"/>
<text transform="translate(574.2 607.8) scale(1.0 1)" font-size="9.5" fill="#111"><tspan font-style="italic">P</tspan>=0.0002</text>
<line x1="579.6" y1="615.4" x2="608.8" y2="615.4" stroke="#333" stroke-width="0.9"/>
<line x1="579.6" y1="613" x2="579.6" y2="617.8" stroke="#333" stroke-width="0.9"/>
<line x1="608.8" y1="613" x2="608.8" y2="617.8" stroke="#333" stroke-width="0.9"/>
<text transform="translate(536.1 673.4) scale(1.0 1) rotate(-90)" font-size="11.5" text-anchor="middle" fill="#111">% Ki-67 positive</text>
</svg></body></html>
